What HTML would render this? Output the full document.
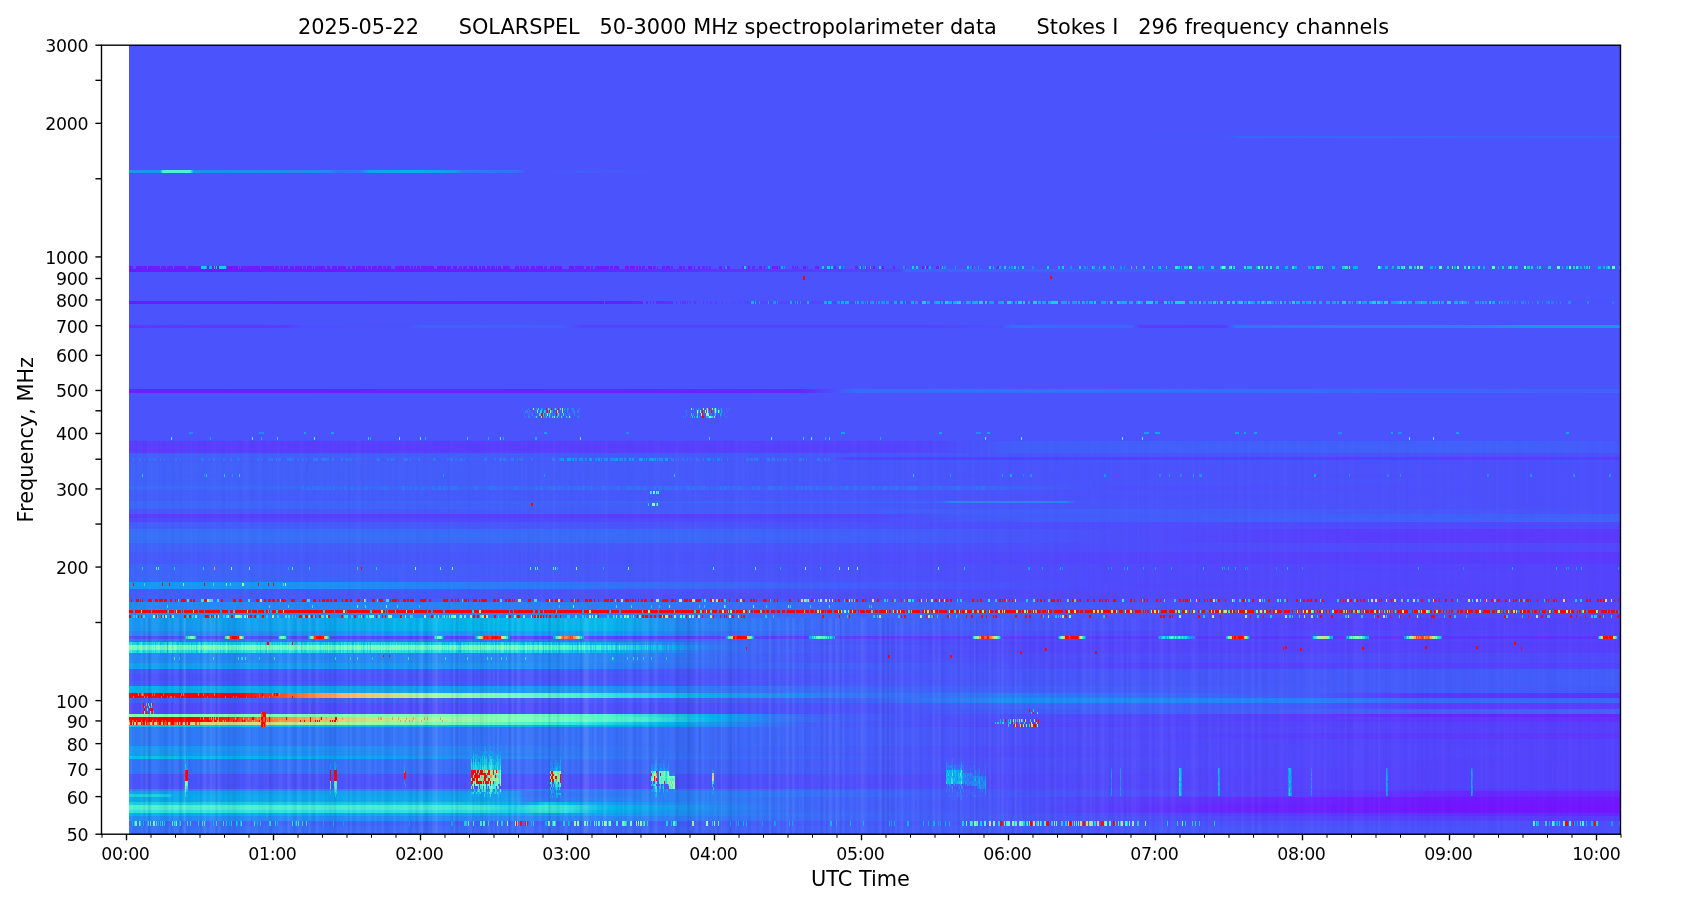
<!DOCTYPE html>
<html><head><meta charset="utf-8"><title>SOLARSPEL spectrogram</title>
<style>
html,body{margin:0;padding:0;background:#fff}
body{width:1687px;height:906px;position:relative;overflow:hidden;font-family:"DejaVu Sans","Liberation Sans",sans-serif}
#d{position:absolute;left:129.0px;top:45px;width:1491.5px;height:789.5px;background:#4954fb;overflow:hidden}
#d i{position:absolute;left:0;width:100%;display:block}
svg{position:absolute;left:0;top:0;will-change:transform}
.t{font-size:17.36px;fill:#000}
.ti{font-size:20.83px;fill:#000;white-space:pre}
.la{font-size:20.83px;fill:#000}
</style></head><body>
<div id="d"><i style="top:0px;height:91px;background:#4a53fc"></i><i style="top:91px;height:2px;background:linear-gradient(90deg,#4a53fc 0.5px,#4a53fc 500.5px,#4a53fc 1000.5px,#4757fb 1098.5px,#3d65fa 1108.5px,#4062fa 1491.5px)"></i><i style="top:93px;height:32px;background:#4a53fc"></i><i style="top:125px;height:3px;background:linear-gradient(90deg,#1996f3 0.5px,#1996f3 30.5px,#08abee 31.5px,#1acee3 32.5px,#3ce9d6 33.5px,#4df3ce 34.5px,#4df3ce 60.5px,#3febd4 61.5px,#0abfe9 63.5px,#11a0f0 64.5px,#1f8ff4 65.5px,#2488f5 199.5px,#3374f8 207.5px,#3177f8 231.5px,#0fa3f0 239.5px,#02b2ec 285.5px,#169af2 326.5px,#2e7bf7 333.5px,#3472f8 388.5px,#4756fb 396.5px,#4856fb 442.5px,#425efb 449.5px,#4a53fc 543.5px,#4a53fc 1043.5px,#4a53fc 1491.5px)"></i><i style="top:128px;height:93px;background:#4a53fc"></i><i style="top:221px;height:3px;background:linear-gradient(90deg,#6b20fe 0.5px,#6b20fe 3.5px,#4a53fc 4.5px,#4a53fc 6.5px,#7018ff 7.5px,#7018ff 12.5px,#6b20fe 14.5px,#7018ff 16.5px,#6b20fe 17.5px,#4a53fc 18.5px,#7018ff 19.5px,#7018ff 30.5px,#4a53fc 31.5px,#6b20fe 32.5px,#6b20fe 34.5px,#7018ff 36.5px,#4a53fc 37.5px,#7018ff 38.5px,#7018ff 42.5px,#6b20fe 43.5px,#4a53fc 44.5px,#7018ff 45.5px,#7018ff 56.5px,#4a53fc 57.5px,#4a53fc 58.5px,#7018ff 59.5px,#7018ff 66.5px,#6b20fe 68.5px,#7018ff 70.5px,#7018ff 71.5px,#19cee3 72.5px,#19cee3 76.5px,#00b4ec 77.5px,#7018ff 78.5px,#7018ff 79.5px,#00b4ec 80.5px,#00b4ec 82.5px,#7018ff 83.5px,#7018ff 84.5px,#19cee3 85.5px,#7018ff 86.5px,#19cee3 87.5px,#7018ff 88.5px,#7018ff 89.5px,#19cee3 90.5px,#19cee3 96.5px,#4a53fc 97.5px,#7018ff 98.5px,#7018ff 108.5px,#4a53fc 109.5px,#7018ff 110.5px,#4a53fc 111.5px,#6b20fe 112.5px,#6b20fe 118.5px,#7018ff 120.5px,#7018ff 128.5px,#6b20fe 130.5px,#4a53fc 131.5px,#7018ff 132.5px,#7018ff 144.5px,#4a53fc 145.5px,#7018ff 146.5px,#7018ff 149.5px,#4a53fc 150.5px,#6b20fe 151.5px,#6b20fe 153.5px,#4a53fc 154.5px,#7018ff 155.5px,#7018ff 158.5px,#4a53fc 159.5px,#4a53fc 160.5px,#7018ff 161.5px,#7018ff 164.5px,#4a53fc 165.5px,#7018ff 166.5px,#7018ff 169.5px,#6b20fe 170.5px,#7018ff 172.5px,#4a53fc 173.5px,#6b20fe 174.5px,#6b20fe 176.5px,#4a53fc 177.5px,#7018ff 178.5px,#7018ff 180.5px,#6b20fe 182.5px,#4a53fc 183.5px,#7018ff 184.5px,#4a53fc 185.5px,#6b20fe 186.5px,#6b20fe 189.5px,#7018ff 191.5px,#7018ff 193.5px,#6b20fe 195.5px,#4a53fc 196.5px,#4a53fc 197.5px,#7018ff 198.5px,#7018ff 200.5px,#4a53fc 201.5px,#4a53fc 202.5px,#7018ff 203.5px,#7018ff 207.5px,#4a53fc 208.5px,#7018ff 209.5px,#7018ff 215.5px,#6b20fe 216.5px,#4a53fc 217.5px,#4a53fc 218.5px,#7018ff 219.5px,#7018ff 220.5px,#4a53fc 221.5px,#4a53fc 222.5px,#7018ff 223.5px,#7018ff 225.5px,#4a53fc 226.5px,#7018ff 227.5px,#7018ff 230.5px,#6b20fe 232.5px,#7018ff 235.5px,#4a53fc 236.5px,#7018ff 237.5px,#4a53fc 238.5px,#7018ff 239.5px,#7018ff 241.5px,#4a53fc 242.5px,#7018ff 243.5px,#7018ff 247.5px,#4a53fc 248.5px,#7018ff 249.5px,#7018ff 252.5px,#4a53fc 253.5px,#7018ff 254.5px,#7018ff 256.5px,#4a53fc 257.5px,#7018ff 258.5px,#7018ff 261.5px,#4a53fc 262.5px,#4a53fc 265.5px,#6b20fe 266.5px,#6b20fe 268.5px,#7018ff 270.5px,#7018ff 274.5px,#4a53fc 275.5px,#6b20fe 276.5px,#7018ff 280.5px,#4a53fc 281.5px,#7018ff 282.5px,#7018ff 283.5px,#4a53fc 284.5px,#6b20fe 285.5px,#7018ff 286.5px,#4a53fc 287.5px,#7018ff 288.5px,#7018ff 290.5px,#4a53fc 291.5px,#7018ff 292.5px,#7018ff 296.5px,#6b20fe 298.5px,#7018ff 300.5px,#7018ff 304.5px,#4a53fc 305.5px,#4a53fc 307.5px,#7018ff 308.5px,#7018ff 316.5px,#4a53fc 317.5px,#7018ff 318.5px,#7018ff 321.5px,#4a53fc 322.5px,#4a53fc 323.5px,#7018ff 324.5px,#7018ff 327.5px,#4a53fc 328.5px,#4a53fc 329.5px,#6b20fe 330.5px,#6b20fe 332.5px,#4a53fc 333.5px,#6b20fe 334.5px,#7018ff 337.5px,#4a53fc 338.5px,#4a53fc 339.5px,#7018ff 340.5px,#7018ff 343.5px,#4a53fc 344.5px,#7018ff 345.5px,#7018ff 347.5px,#4a53fc 348.5px,#4a53fc 349.5px,#7018ff 350.5px,#7018ff 351.5px,#4a53fc 352.5px,#7018ff 353.5px,#7018ff 355.5px,#4a53fc 356.5px,#4a53fc 357.5px,#7018ff 358.5px,#7018ff 360.5px,#4a53fc 361.5px,#7018ff 362.5px,#6b20fe 365.5px,#4a53fc 366.5px,#7018ff 367.5px,#4a53fc 368.5px,#7018ff 369.5px,#7018ff 371.5px,#4a53fc 372.5px,#4a53fc 373.5px,#7018ff 374.5px,#7018ff 377.5px,#6b20fe 379.5px,#6b20fe 380.5px,#4a53fc 381.5px,#4a53fc 385.5px,#7018ff 386.5px,#7018ff 389.5px,#4a53fc 390.5px,#7018ff 391.5px,#7018ff 392.5px,#4a53fc 393.5px,#7018ff 394.5px,#7018ff 395.5px,#4a53fc 396.5px,#7018ff 397.5px,#7018ff 399.5px,#4a53fc 400.5px,#4a53fc 401.5px,#7018ff 402.5px,#7018ff 405.5px,#4a53fc 406.5px,#6b20fe 407.5px,#6b20fe 409.5px,#7018ff 411.5px,#7018ff 413.5px,#4a53fc 414.5px,#6b20fe 415.5px,#6b20fe 417.5px,#4a53fc 418.5px,#4a53fc 420.5px,#7018ff 421.5px,#7018ff 424.5px,#4a53fc 425.5px,#6b20fe 426.5px,#6b20fe 429.5px,#7018ff 431.5px,#7018ff 432.5px,#4a53fc 433.5px,#4a53fc 439.5px,#7018ff 440.5px,#7018ff 444.5px,#4a53fc 445.5px,#6b20fe 446.5px,#6b20fe 450.5px,#7018ff 451.5px,#6b20fe 453.5px,#6b20fe 454.5px,#4a53fc 455.5px,#4a53fc 456.5px,#7018ff 457.5px,#7018ff 460.5px,#4a53fc 461.5px,#6b20fe 462.5px,#6b20fe 463.5px,#4a53fc 464.5px,#4a53fc 465.5px,#6b20fe 466.5px,#7018ff 470.5px,#7018ff 479.5px,#4a53fc 480.5px,#7018ff 481.5px,#7018ff 483.5px,#4a53fc 484.5px,#7018ff 485.5px,#7018ff 489.5px,#4a53fc 490.5px,#4a53fc 495.5px,#7018ff 496.5px,#7018ff 499.5px,#4a53fc 500.5px,#7018ff 501.5px,#7018ff 504.5px,#6b20fe 505.5px,#4a53fc 506.5px,#7018ff 507.5px,#7018ff 508.5px,#4a53fc 509.5px,#7018ff 510.5px,#7018ff 511.5px,#4a53fc 512.5px,#6b20fe 513.5px,#6b20fe 515.5px,#4a53fc 516.5px,#4a53fc 518.5px,#7018ff 519.5px,#7018ff 522.5px,#4a53fc 523.5px,#6b20fe 524.5px,#6b20fe 526.5px,#4a53fc 527.5px,#6b20fe 528.5px,#4a53fc 529.5px,#4a53fc 532.5px,#7018ff 533.5px,#7018ff 535.5px,#4a53fc 536.5px,#7018ff 537.5px,#7018ff 539.5px,#6b20fe 540.5px,#4a53fc 541.5px,#6b20fe 542.5px,#6b20fe 543.5px,#4a53fc 544.5px,#4a53fc 549.5px,#7018ff 550.5px,#7018ff 552.5px,#4a53fc 553.5px,#6b20fe 554.5px,#6b20fe 555.5px,#4a53fc 556.5px,#4a53fc 558.5px,#7018ff 559.5px,#7018ff 562.5px,#4a53fc 563.5px,#4a53fc 564.5px,#7018ff 565.5px,#4a53fc 566.5px,#4a53fc 568.5px,#7018ff 569.5px,#7018ff 570.5px,#4a53fc 571.5px,#4a53fc 572.5px,#6628fe 573.5px,#6628fe 575.5px,#4a53fc 576.5px,#6628fe 577.5px,#6628fe 578.5px,#4a53fc 579.5px,#6628fe 580.5px,#6628fe 581.5px,#4a53fc 582.5px,#4a53fc 589.5px,#6b20fe 590.5px,#6b20fe 592.5px,#4a53fc 593.5px,#4a53fc 594.5px,#6628fe 595.5px,#1996f3 596.5px,#1996f3 597.5px,#6b20fe 598.5px,#6b20fe 600.5px,#4a53fc 601.5px,#4a53fc 612.5px,#6628fe 613.5px,#6628fe 614.5px,#19cee3 615.5px,#19cee3 616.5px,#4a53fc 617.5px,#4a53fc 618.5px,#7018ff 619.5px,#7018ff 620.5px,#4a53fc 621.5px,#4a53fc 622.5px,#6628fe 623.5px,#6628fe 625.5px,#4a53fc 626.5px,#4a53fc 629.5px,#6b20fe 630.5px,#6b20fe 632.5px,#4a53fc 633.5px,#4a53fc 634.5px,#6b20fe 635.5px,#4a53fc 636.5px,#4a53fc 638.5px,#00b4ec 639.5px,#00b4ec 640.5px,#4a53fc 641.5px,#4a53fc 642.5px,#6b20fe 643.5px,#6b20fe 645.5px,#6628fe 647.5px,#7018ff 648.5px,#4a53fc 649.5px,#7018ff 650.5px,#4a53fc 651.5px,#00b4ec 652.5px,#00b4ec 653.5px,#4a53fc 654.5px,#1996f3 655.5px,#4a53fc 656.5px,#4a53fc 662.5px,#6628fe 663.5px,#6628fe 664.5px,#4a53fc 665.5px,#6b20fe 666.5px,#4a53fc 667.5px,#7018ff 668.5px,#4a53fc 669.5px,#4a53fc 673.5px,#7018ff 674.5px,#7018ff 676.5px,#4a53fc 677.5px,#6628fe 678.5px,#4a53fc 679.5px,#4a53fc 685.5px,#6628fe 686.5px,#6b20fe 689.5px,#4a53fc 690.5px,#4a53fc 692.5px,#19cee3 693.5px,#19cee3 694.5px,#4a53fc 695.5px,#4a53fc 697.5px,#19cee3 698.5px,#19cee3 700.5px,#4a53fc 701.5px,#19cee3 702.5px,#19cee3 703.5px,#4a53fc 704.5px,#6b20fe 705.5px,#6b20fe 706.5px,#4a53fc 707.5px,#4a53fc 709.5px,#19cee3 710.5px,#19cee3 711.5px,#4a53fc 712.5px,#4a53fc 713.5px,#1996f3 714.5px,#4a53fc 715.5px,#4a53fc 725.5px,#6628fe 726.5px,#6628fe 728.5px,#4a53fc 729.5px,#1996f3 730.5px,#19cee3 731.5px,#6628fe 732.5px,#4a53fc 733.5px,#1996f3 734.5px,#4a53fc 735.5px,#19cee3 736.5px,#6b20fe 737.5px,#4a53fc 738.5px,#4a53fc 739.5px,#6628fe 740.5px,#19cee3 741.5px,#6628fe 742.5px,#4a53fc 743.5px,#7018ff 744.5px,#7018ff 745.5px,#4a53fc 746.5px,#4a53fc 749.5px,#19cee3 750.5px,#19cee3 751.5px,#4a53fc 752.5px,#7018ff 753.5px,#7018ff 754.5px,#4a53fc 755.5px,#4a53fc 763.5px,#6b20fe 764.5px,#6b20fe 765.5px,#4a53fc 766.5px,#4a53fc 773.5px,#1996f3 774.5px,#1996f3 775.5px,#6628fe 776.5px,#4a53fc 777.5px,#4a53fc 782.5px,#19cee3 783.5px,#19cee3 784.5px,#4a53fc 785.5px,#4a53fc 786.5px,#19cee3 787.5px,#19cee3 788.5px,#4a53fc 789.5px,#4a53fc 792.5px,#7018ff 793.5px,#7018ff 794.5px,#4a53fc 795.5px,#19cee3 796.5px,#7018ff 797.5px,#7018ff 798.5px,#4a53fc 799.5px,#00b4ec 800.5px,#00b4ec 801.5px,#4a53fc 802.5px,#4a53fc 806.5px,#6b20fe 807.5px,#6b20fe 809.5px,#1996f3 810.5px,#6628fe 811.5px,#4a53fc 812.5px,#19cee3 813.5px,#4a53fc 814.5px,#1996f3 815.5px,#1996f3 816.5px,#4a53fc 817.5px,#4a53fc 825.5px,#1996f3 826.5px,#4a53fc 827.5px,#4a53fc 837.5px,#19cee3 838.5px,#19cee3 839.5px,#4a53fc 840.5px,#1996f3 841.5px,#1996f3 842.5px,#6b20fe 843.5px,#4a53fc 844.5px,#1996f3 845.5px,#4a53fc 846.5px,#4a53fc 848.5px,#1996f3 849.5px,#4a53fc 850.5px,#4a53fc 859.5px,#19cee3 860.5px,#19cee3 861.5px,#4a53fc 862.5px,#4a53fc 863.5px,#00b4ec 864.5px,#4a53fc 865.5px,#4a53fc 867.5px,#7018ff 868.5px,#7018ff 869.5px,#00b4ec 870.5px,#00b4ec 871.5px,#4a53fc 872.5px,#4a53fc 874.5px,#19cee3 875.5px,#19cee3 876.5px,#4a53fc 877.5px,#4a53fc 879.5px,#00b4ec 880.5px,#4a53fc 881.5px,#1996f3 882.5px,#1996f3 883.5px,#4a53fc 884.5px,#19cee3 885.5px,#19cee3 886.5px,#4a53fc 887.5px,#4a53fc 888.5px,#00b4ec 889.5px,#4a53fc 890.5px,#4a53fc 892.5px,#19cee3 893.5px,#19cee3 894.5px,#4a53fc 895.5px,#4a53fc 902.5px,#1996f3 903.5px,#1996f3 904.5px,#4a53fc 905.5px,#4a53fc 917.5px,#19cee3 918.5px,#19cee3 919.5px,#4a53fc 920.5px,#4a53fc 928.5px,#00b4ec 929.5px,#00b4ec 930.5px,#4a53fc 931.5px,#4a53fc 932.5px,#19cee3 933.5px,#19cee3 934.5px,#4a53fc 935.5px,#4a53fc 940.5px,#1996f3 941.5px,#1996f3 942.5px,#4a53fc 943.5px,#4a53fc 949.5px,#19cee3 950.5px,#19cee3 951.5px,#4a53fc 952.5px,#4a53fc 954.5px,#1996f3 955.5px,#1996f3 956.5px,#4a53fc 957.5px,#1996f3 958.5px,#4a53fc 959.5px,#4a53fc 962.5px,#19cee3 963.5px,#00b4ec 964.5px,#00b4ec 965.5px,#4a53fc 966.5px,#4a53fc 969.5px,#00b4ec 970.5px,#4a53fc 971.5px,#4a53fc 973.5px,#19cee3 974.5px,#19cee3 975.5px,#00b4ec 976.5px,#4a53fc 977.5px,#4a53fc 980.5px,#1996f3 981.5px,#1996f3 982.5px,#4a53fc 983.5px,#19cee3 984.5px,#4a53fc 985.5px,#4a53fc 990.5px,#1996f3 991.5px,#1996f3 992.5px,#4a53fc 993.5px,#4a53fc 994.5px,#1996f3 995.5px,#4a53fc 996.5px,#4a53fc 1001.5px,#19cee3 1002.5px,#4a53fc 1003.5px,#4a53fc 1006.5px,#19cee3 1007.5px,#4a53fc 1008.5px,#4a53fc 1013.5px,#19cee3 1014.5px,#19cee3 1015.5px,#4a53fc 1016.5px,#4a53fc 1022.5px,#19cee3 1023.5px,#4a53fc 1024.5px,#4a53fc 1028.5px,#00b4ec 1029.5px,#00b4ec 1030.5px,#19cee3 1031.5px,#4a53fc 1032.5px,#4a53fc 1036.5px,#19cee3 1037.5px,#4a53fc 1038.5px,#4a53fc 1045.5px,#33e3d9 1046.5px,#33e3d9 1048.5px,#19cee3 1049.5px,#19cee3 1050.5px,#4a53fc 1051.5px,#00b4ec 1052.5px,#4a53fc 1053.5px,#4a53fc 1054.5px,#19cee3 1055.5px,#19cee3 1058.5px,#4a53fc 1059.5px,#66fcc2 1060.5px,#66fcc2 1062.5px,#4a53fc 1063.5px,#4a53fc 1068.5px,#00b4ec 1069.5px,#00b4ec 1071.5px,#4a53fc 1072.5px,#00b4ec 1073.5px,#00b4ec 1074.5px,#4a53fc 1075.5px,#4a53fc 1081.5px,#19cee3 1082.5px,#19cee3 1084.5px,#4a53fc 1085.5px,#4a53fc 1090.5px,#00b4ec 1091.5px,#19cee3 1092.5px,#66fcc2 1093.5px,#66fcc2 1095.5px,#19cee3 1096.5px,#4a53fc 1097.5px,#4a53fc 1099.5px,#33e3d9 1100.5px,#33e3d9 1101.5px,#66fcc2 1102.5px,#4a53fc 1103.5px,#19cee3 1104.5px,#33e3d9 1105.5px,#4a53fc 1106.5px,#4a53fc 1114.5px,#33e3d9 1115.5px,#33e3d9 1116.5px,#4a53fc 1117.5px,#19cee3 1118.5px,#19cee3 1122.5px,#4a53fc 1123.5px,#4a53fc 1126.5px,#00b4ec 1127.5px,#00b4ec 1128.5px,#66fcc2 1129.5px,#66fcc2 1130.5px,#4a53fc 1131.5px,#00b4ec 1132.5px,#66fcc2 1133.5px,#4a53fc 1134.5px,#4a53fc 1136.5px,#33e3d9 1137.5px,#33e3d9 1138.5px,#4a53fc 1139.5px,#4a53fc 1140.5px,#33e3d9 1141.5px,#33e3d9 1142.5px,#4a53fc 1143.5px,#4a53fc 1146.5px,#19cee3 1147.5px,#19cee3 1149.5px,#4a53fc 1150.5px,#4a53fc 1155.5px,#00b4ec 1156.5px,#00b4ec 1158.5px,#4a53fc 1159.5px,#4a53fc 1162.5px,#33e3d9 1163.5px,#33e3d9 1164.5px,#00b4ec 1165.5px,#00b4ec 1167.5px,#4a53fc 1168.5px,#4a53fc 1178.5px,#00b4ec 1179.5px,#00b4ec 1181.5px,#4a53fc 1182.5px,#00b4ec 1183.5px,#00b4ec 1184.5px,#4a53fc 1185.5px,#4a53fc 1186.5px,#33e3d9 1187.5px,#33e3d9 1189.5px,#19cee3 1190.5px,#19cee3 1191.5px,#4a53fc 1192.5px,#33e3d9 1193.5px,#4a53fc 1194.5px,#4a53fc 1202.5px,#00b4ec 1203.5px,#00b4ec 1205.5px,#4a53fc 1206.5px,#4a53fc 1212.5px,#19cee3 1213.5px,#19cee3 1215.5px,#33e3d9 1216.5px,#33e3d9 1218.5px,#4a53fc 1219.5px,#66fcc2 1220.5px,#4a53fc 1221.5px,#4a53fc 1223.5px,#00b4ec 1224.5px,#00b4ec 1228.5px,#4a53fc 1229.5px,#4a53fc 1248.5px,#66fcc2 1249.5px,#66fcc2 1250.5px,#00b4ec 1251.5px,#00b4ec 1252.5px,#4a53fc 1253.5px,#4a53fc 1255.5px,#00b4ec 1256.5px,#00b4ec 1258.5px,#4a53fc 1259.5px,#4a53fc 1262.5px,#00b4ec 1263.5px,#00b4ec 1264.5px,#4a53fc 1265.5px,#4a53fc 1267.5px,#19cee3 1268.5px,#19cee3 1270.5px,#4a53fc 1271.5px,#33e3d9 1272.5px,#33e3d9 1273.5px,#19cee3 1274.5px,#66fcc2 1275.5px,#4a53fc 1276.5px,#4a53fc 1279.5px,#33e3d9 1280.5px,#33e3d9 1282.5px,#4a53fc 1283.5px,#4a53fc 1284.5px,#19cee3 1285.5px,#19cee3 1286.5px,#4a53fc 1287.5px,#66fcc2 1288.5px,#66fcc2 1289.5px,#4a53fc 1290.5px,#66fcc2 1291.5px,#66fcc2 1293.5px,#4a53fc 1294.5px,#4a53fc 1300.5px,#00b4ec 1301.5px,#00b4ec 1303.5px,#4a53fc 1304.5px,#4a53fc 1305.5px,#00b4ec 1306.5px,#4a53fc 1307.5px,#4a53fc 1309.5px,#66fcc2 1310.5px,#66fcc2 1312.5px,#4a53fc 1313.5px,#4a53fc 1317.5px,#19cee3 1318.5px,#19cee3 1319.5px,#4a53fc 1320.5px,#4a53fc 1322.5px,#66fcc2 1323.5px,#4a53fc 1324.5px,#00b4ec 1325.5px,#00b4ec 1326.5px,#4a53fc 1327.5px,#66fcc2 1328.5px,#66fcc2 1329.5px,#4a53fc 1330.5px,#4a53fc 1334.5px,#33e3d9 1335.5px,#33e3d9 1336.5px,#4a53fc 1337.5px,#4a53fc 1338.5px,#66fcc2 1339.5px,#66fcc2 1340.5px,#4a53fc 1341.5px,#4a53fc 1342.5px,#00b4ec 1343.5px,#00b4ec 1345.5px,#4a53fc 1346.5px,#4a53fc 1348.5px,#33e3d9 1349.5px,#33e3d9 1350.5px,#4a53fc 1351.5px,#4a53fc 1353.5px,#00b4ec 1354.5px,#00b4ec 1355.5px,#4a53fc 1356.5px,#4a53fc 1362.5px,#66fcc2 1363.5px,#66fcc2 1365.5px,#4a53fc 1366.5px,#4a53fc 1368.5px,#00b4ec 1369.5px,#4a53fc 1370.5px,#4a53fc 1372.5px,#19cee3 1373.5px,#19cee3 1374.5px,#4a53fc 1375.5px,#4a53fc 1378.5px,#19cee3 1379.5px,#19cee3 1380.5px,#66fcc2 1381.5px,#19cee3 1382.5px,#4a53fc 1383.5px,#00b4ec 1384.5px,#4a53fc 1385.5px,#19cee3 1386.5px,#19cee3 1387.5px,#00b4ec 1388.5px,#4a53fc 1389.5px,#4a53fc 1394.5px,#66fcc2 1395.5px,#66fcc2 1396.5px,#4a53fc 1397.5px,#19cee3 1398.5px,#19cee3 1400.5px,#4a53fc 1401.5px,#19cee3 1402.5px,#19cee3 1403.5px,#4a53fc 1404.5px,#4a53fc 1407.5px,#19cee3 1408.5px,#4a53fc 1409.5px,#19cee3 1410.5px,#19cee3 1411.5px,#4a53fc 1412.5px,#4a53fc 1418.5px,#19cee3 1419.5px,#19cee3 1421.5px,#4a53fc 1422.5px,#4a53fc 1427.5px,#66fcc2 1428.5px,#66fcc2 1430.5px,#4a53fc 1431.5px,#4a53fc 1432.5px,#00b4ec 1433.5px,#4a53fc 1434.5px,#4a53fc 1436.5px,#00b4ec 1437.5px,#00b4ec 1438.5px,#4a53fc 1439.5px,#66fcc2 1440.5px,#66fcc2 1441.5px,#4a53fc 1442.5px,#4a53fc 1443.5px,#19cee3 1444.5px,#19cee3 1445.5px,#4a53fc 1446.5px,#33e3d9 1447.5px,#33e3d9 1448.5px,#00b4ec 1449.5px,#4a53fc 1450.5px,#00b4ec 1451.5px,#00b4ec 1452.5px,#4a53fc 1453.5px,#4a53fc 1454.5px,#19cee3 1455.5px,#4a53fc 1456.5px,#19cee3 1457.5px,#19cee3 1458.5px,#4a53fc 1459.5px,#33e3d9 1460.5px,#4a53fc 1461.5px,#4a53fc 1468.5px,#00b4ec 1469.5px,#00b4ec 1471.5px,#4a53fc 1472.5px,#4a53fc 1473.5px,#00b4ec 1474.5px,#00b4ec 1475.5px,#4a53fc 1476.5px,#00b4ec 1477.5px,#00b4ec 1478.5px,#33e3d9 1479.5px,#19cee3 1480.5px,#4a53fc 1481.5px,#4a53fc 1482.5px,#66fcc2 1483.5px,#66fcc2 1485.5px,#4a53fc 1486.5px,#4a53fc 1489.5px,#00b4ec 1490.5px,#4a53fc 1491.5px)"></i><i style="top:224px;height:3px;background:linear-gradient(90deg,#7018ff 0.5px,#6d1cff 393.5px,#5247fc 771.5px,#3d65fa 776.5px,#435efb 1134.5px,#4a53fc 1187.5px,#4a53fc 1491.5px)"></i><i style="top:227px;height:4px;background:#4a53fc"></i><i style="top:231px;height:3px;background:linear-gradient(90deg,#4a53fc 0.5px,#4a53fc 500.5px,#4a53fc 673.5px,#f00 674.5px,#f00 675.5px,#4a53fc 676.5px,#4a53fc 920.5px,#f00 921.5px,#f00 922.5px,#4a53fc 923.5px,#4a53fc 1423.5px,#4a53fc 1491.5px)"></i><i style="top:234px;height:1px;background:linear-gradient(90deg,#4a53fc 0.5px,#4a53fc 500.5px,#4a53fc 673.5px,#f00 674.5px,#f00 675.5px,#4a53fc 676.5px,#4a53fc 1176.5px,#4a53fc 1491.5px)"></i><i style="top:235px;height:21px;background:#4a53fc"></i><i style="top:256px;height:3px;background:linear-gradient(90deg,#7018ff 0.5px,#6f19ff 474.5px,#4a53fc 475.5px,#6f1aff 476.5px,#6726fe 513.5px,#4a53fc 514.5px,#4a53fc 516.5px,#6628fe 517.5px,#6628fe 518.5px,#4a53fc 519.5px,#4a53fc 520.5px,#6529fe 521.5px,#4a53fc 522.5px,#4a53fc 523.5px,#652afe 524.5px,#4a53fc 525.5px,#4a53fc 526.5px,#642bfe 527.5px,#6031fe 543.5px,#4a53fc 544.5px,#4a53fc 546.5px,#5f32fe 547.5px,#4a53fc 548.5px,#4a53fc 550.5px,#5f33fe 551.5px,#4a53fc 552.5px,#5e34fe 553.5px,#5e35fe 556.5px,#4a53fc 557.5px,#5d36fe 558.5px,#4a53fc 559.5px,#4a53fc 560.5px,#5c37fe 561.5px,#4a53fc 562.5px,#4a53fc 564.5px,#5c38fd 565.5px,#5b38fd 566.5px,#4a53fc 567.5px,#4a53fc 573.5px,#5a3bfd 574.5px,#4a53fc 575.5px,#4a53fc 577.5px,#593cfd 578.5px,#4a53fc 579.5px,#4a53fc 580.5px,#583dfd 581.5px,#583efd 582.5px,#4a53fc 583.5px,#4a53fc 585.5px,#573ffd 586.5px,#573ffd 587.5px,#4a53fc 588.5px,#4a53fc 592.5px,#5541fd 593.5px,#4a53fc 594.5px,#4a53fc 596.5px,#5543fd 597.5px,#4a53fc 598.5px,#4a53fc 601.5px,#5344fd 602.5px,#4a53fc 603.5px,#4a53fc 604.5px,#5345fd 605.5px,#4a53fc 606.5px,#4a53fc 610.5px,#5247fc 611.5px,#4a53fc 612.5px,#4a53fc 615.5px,#5247fc 616.5px,#5247fc 621.5px,#00b4ec 622.5px,#00b4ec 624.5px,#5147fc 625.5px,#00b4ec 626.5px,#5147fc 627.5px,#5147fc 629.5px,#1996f3 630.5px,#5147fc 631.5px,#5148fc 638.5px,#00b4ec 639.5px,#5148fc 640.5px,#5148fc 643.5px,#1996f3 644.5px,#1996f3 646.5px,#5148fc 647.5px,#1996f3 648.5px,#5148fc 649.5px,#5148fc 660.5px,#00b4ec 661.5px,#00b4ec 662.5px,#5148fc 663.5px,#5148fc 665.5px,#1996f3 666.5px,#5148fc 667.5px,#00b4ec 668.5px,#5148fc 669.5px,#5148fc 670.5px,#1996f3 671.5px,#5148fc 672.5px,#5148fc 677.5px,#00b4ec 678.5px,#00b4ec 679.5px,#5148fc 680.5px,#5148fc 694.5px,#00b4ec 695.5px,#00b4ec 697.5px,#5148fc 698.5px,#00b4ec 699.5px,#00b4ec 701.5px,#1996f3 702.5px,#5148fc 703.5px,#5148fc 707.5px,#1996f3 708.5px,#1996f3 710.5px,#5148fc 711.5px,#00b4ec 712.5px,#00b4ec 714.5px,#5149fc 715.5px,#00b4ec 716.5px,#00b4ec 719.5px,#5149fc 720.5px,#5149fc 725.5px,#00b4ec 726.5px,#5149fc 727.5px,#00b4ec 728.5px,#00b4ec 729.5px,#5149fc 730.5px,#5149fc 731.5px,#1996f3 732.5px,#1996f3 734.5px,#5149fc 735.5px,#1996f3 736.5px,#5149fc 737.5px,#00b4ec 738.5px,#5049fc 739.5px,#5049fc 740.5px,#1996f3 741.5px,#1996f3 743.5px,#00b4ec 744.5px,#5049fc 745.5px,#5049fc 746.5px,#1996f3 747.5px,#5049fc 748.5px,#1996f3 749.5px,#1996f3 750.5px,#5049fc 751.5px,#1996f3 752.5px,#1996f3 755.5px,#5049fc 756.5px,#1996f3 757.5px,#1996f3 759.5px,#5049fc 760.5px,#5049fc 764.5px,#00b4ec 765.5px,#00b4ec 767.5px,#5049fc 768.5px,#5049fc 770.5px,#00b4ec 771.5px,#00b4ec 773.5px,#5049fc 774.5px,#5049fc 775.5px,#00b4ec 776.5px,#5049fc 777.5px,#5049fc 781.5px,#00b4ec 782.5px,#00b4ec 784.5px,#5049fc 785.5px,#1996f3 786.5px,#1996f3 788.5px,#5049fc 789.5px,#504afc 792.5px,#19cee3 793.5px,#19cee3 796.5px,#504afc 797.5px,#0fa3f0 798.5px,#0fa3f0 800.5px,#504afc 801.5px,#504afc 804.5px,#0fa3f0 805.5px,#0fa3f0 806.5px,#00b4ec 807.5px,#00b4ec 810.5px,#504afc 811.5px,#00b4ec 812.5px,#00b4ec 813.5px,#504afc 814.5px,#504afc 815.5px,#19cee3 816.5px,#19cee3 818.5px,#00b4ec 819.5px,#00b4ec 822.5px,#504afc 823.5px,#00b4ec 824.5px,#00b4ec 827.5px,#19cee3 828.5px,#19cee3 831.5px,#504afc 832.5px,#504afc 833.5px,#0fa3f0 834.5px,#504afc 835.5px,#504afc 836.5px,#00b4ec 837.5px,#00b4ec 839.5px,#0fa3f0 840.5px,#0fa3f0 841.5px,#504afc 842.5px,#00b4ec 843.5px,#00b4ec 848.5px,#504afc 849.5px,#19cee3 850.5px,#19cee3 853.5px,#4f4afc 854.5px,#4f4afc 855.5px,#19cee3 856.5px,#19cee3 857.5px,#4f4afc 858.5px,#4f4afc 859.5px,#0fa3f0 860.5px,#0fa3f0 864.5px,#4f4afc 865.5px,#4f4bfc 868.5px,#0fa3f0 869.5px,#0fa3f0 872.5px,#00b4ec 873.5px,#00b4ec 874.5px,#4f4bfc 875.5px,#4f4bfc 877.5px,#19cee3 878.5px,#19cee3 881.5px,#0fa3f0 882.5px,#0fa3f0 883.5px,#4f4bfc 884.5px,#4f4bfc 885.5px,#00b4ec 886.5px,#00b4ec 887.5px,#4f4bfc 888.5px,#19cee3 889.5px,#19cee3 892.5px,#4f4bfc 893.5px,#19cee3 894.5px,#19cee3 895.5px,#4f4bfc 896.5px,#4f4bfc 898.5px,#00b4ec 899.5px,#00b4ec 900.5px,#4f4bfc 901.5px,#4f4bfc 903.5px,#19cee3 904.5px,#19cee3 907.5px,#4f4bfc 908.5px,#00b4ec 909.5px,#00b4ec 911.5px,#4f4bfc 912.5px,#0fa3f0 913.5px,#00b4ec 914.5px,#00b4ec 915.5px,#0fa3f0 916.5px,#4f4bfc 917.5px,#4f4bfc 918.5px,#00b4ec 919.5px,#00b4ec 921.5px,#19cee3 922.5px,#19cee3 928.5px,#4f4bfc 929.5px,#4f4bfc 931.5px,#0fa3f0 932.5px,#0fa3f0 937.5px,#4f4bfc 938.5px,#0fa3f0 939.5px,#0fa3f0 940.5px,#4f4bfc 941.5px,#4f4bfc 942.5px,#0fa3f0 943.5px,#0fa3f0 947.5px,#4f4cfc 948.5px,#00b4ec 949.5px,#00b4ec 950.5px,#4f4cfc 951.5px,#4f4cfc 952.5px,#00b4ec 953.5px,#00b4ec 955.5px,#4f4cfc 956.5px,#0fa3f0 957.5px,#0fa3f0 958.5px,#4f4cfc 959.5px,#00b4ec 960.5px,#00b4ec 963.5px,#4f4cfc 964.5px,#19cee3 965.5px,#19cee3 966.5px,#4f4cfc 967.5px,#4e4cfc 971.5px,#0fa3f0 972.5px,#0fa3f0 976.5px,#4e4cfc 977.5px,#0fa3f0 978.5px,#4e4cfc 979.5px,#4e4cfc 980.5px,#19cee3 981.5px,#19cee3 982.5px,#00b4ec 983.5px,#4e4cfc 984.5px,#4e4cfc 987.5px,#19cee3 988.5px,#19cee3 989.5px,#00b4ec 990.5px,#0fa3f0 991.5px,#0fa3f0 992.5px,#00b4ec 993.5px,#00b4ec 997.5px,#4e4cfc 998.5px,#4e4cfc 999.5px,#00b4ec 1000.5px,#00b4ec 1003.5px,#4e4cfc 1004.5px,#4e4cfc 1006.5px,#0fa3f0 1007.5px,#0fa3f0 1008.5px,#19cee3 1009.5px,#19cee3 1010.5px,#0fa3f0 1011.5px,#0fa3f0 1013.5px,#4e4cfc 1014.5px,#4e4cfc 1016.5px,#19cee3 1017.5px,#19cee3 1023.5px,#4e4dfc 1024.5px,#4e4dfc 1025.5px,#00b4ec 1026.5px,#00b4ec 1028.5px,#4e4dfc 1029.5px,#4e4dfc 1034.5px,#19cee3 1035.5px,#19cee3 1037.5px,#4e4dfc 1038.5px,#00b4ec 1039.5px,#00b4ec 1040.5px,#4e4dfc 1041.5px,#00b4ec 1042.5px,#00b4ec 1043.5px,#4e4dfc 1044.5px,#4e4dfc 1045.5px,#19cee3 1046.5px,#19cee3 1055.5px,#4e4dfc 1056.5px,#4e4dfc 1059.5px,#00b4ec 1060.5px,#00b4ec 1063.5px,#4e4dfc 1064.5px,#0fa3f0 1065.5px,#0fa3f0 1067.5px,#4e4dfc 1068.5px,#4e4dfc 1069.5px,#19cee3 1070.5px,#19cee3 1071.5px,#4e4dfc 1072.5px,#4e4dfc 1073.5px,#0fa3f0 1074.5px,#0fa3f0 1076.5px,#4e4dfc 1077.5px,#4e4dfc 1078.5px,#0fa3f0 1079.5px,#0fa3f0 1081.5px,#00b4ec 1082.5px,#4d4dfc 1083.5px,#19cee3 1084.5px,#19cee3 1086.5px,#4d4dfc 1087.5px,#19cee3 1088.5px,#4d4dfc 1089.5px,#4d4dfc 1090.5px,#19cee3 1091.5px,#19cee3 1093.5px,#4d4dfc 1094.5px,#4d4dfc 1097.5px,#19cee3 1098.5px,#19cee3 1100.5px,#4d4efc 1101.5px,#4d4efc 1102.5px,#19cee3 1103.5px,#19cee3 1105.5px,#4d4efc 1106.5px,#4d4efc 1107.5px,#00b4ec 1108.5px,#00b4ec 1109.5px,#19cee3 1110.5px,#19cee3 1113.5px,#4d4efc 1114.5px,#0fa3f0 1115.5px,#0fa3f0 1117.5px,#4d4efc 1118.5px,#19cee3 1119.5px,#19cee3 1120.5px,#00b4ec 1121.5px,#00b4ec 1123.5px,#0fa3f0 1124.5px,#0fa3f0 1125.5px,#4d4efc 1126.5px,#4d4efc 1127.5px,#00b4ec 1128.5px,#00b4ec 1130.5px,#4d4efc 1131.5px,#00b4ec 1132.5px,#19cee3 1133.5px,#19cee3 1134.5px,#0fa3f0 1135.5px,#0fa3f0 1136.5px,#4d4efc 1137.5px,#19cee3 1138.5px,#19cee3 1141.5px,#0fa3f0 1142.5px,#0fa3f0 1144.5px,#4d4efc 1145.5px,#0fa3f0 1146.5px,#0fa3f0 1147.5px,#4d4efc 1148.5px,#0fa3f0 1149.5px,#4d4efc 1150.5px,#19cee3 1151.5px,#19cee3 1152.5px,#4d4efc 1153.5px,#4d4efc 1154.5px,#00b4ec 1155.5px,#00b4ec 1156.5px,#4d4efc 1157.5px,#4d4efc 1159.5px,#0fa3f0 1160.5px,#0fa3f0 1161.5px,#4d4efc 1162.5px,#19cee3 1163.5px,#19cee3 1165.5px,#4d4efc 1166.5px,#00b4ec 1167.5px,#00b4ec 1170.5px,#4d4efc 1171.5px,#4d4efc 1172.5px,#00b4ec 1173.5px,#00b4ec 1175.5px,#4d4ffc 1176.5px,#0fa3f0 1177.5px,#0fa3f0 1180.5px,#19cee3 1181.5px,#4d4ffc 1182.5px,#4d4ffc 1183.5px,#00b4ec 1184.5px,#00b4ec 1186.5px,#4d4ffc 1187.5px,#4d4ffc 1189.5px,#00b4ec 1190.5px,#00b4ec 1192.5px,#4d4ffc 1193.5px,#4d4ffc 1196.5px,#0fa3f0 1197.5px,#0fa3f0 1200.5px,#4c4ffc 1201.5px,#4c4ffc 1202.5px,#0fa3f0 1203.5px,#0fa3f0 1206.5px,#4c4ffc 1207.5px,#00b4ec 1208.5px,#00b4ec 1209.5px,#4c4ffc 1210.5px,#4c4ffc 1212.5px,#19cee3 1213.5px,#19cee3 1216.5px,#4c4ffc 1217.5px,#4c4ffc 1218.5px,#0fa3f0 1219.5px,#0fa3f0 1221.5px,#4c4ffc 1222.5px,#00b4ec 1223.5px,#4c4ffc 1224.5px,#4c4ffc 1226.5px,#0fa3f0 1227.5px,#0fa3f0 1229.5px,#19cee3 1230.5px,#19cee3 1231.5px,#4c4ffc 1232.5px,#0fa3f0 1233.5px,#0fa3f0 1237.5px,#4c4ffc 1238.5px,#4c4ffc 1239.5px,#00b4ec 1240.5px,#00b4ec 1242.5px,#19cee3 1243.5px,#19cee3 1246.5px,#4c4ffc 1247.5px,#19cee3 1248.5px,#19cee3 1250.5px,#00b4ec 1251.5px,#00b4ec 1253.5px,#4c50fc 1254.5px,#19cee3 1255.5px,#19cee3 1258.5px,#4c50fc 1259.5px,#4c50fc 1261.5px,#0fa3f0 1262.5px,#0fa3f0 1267.5px,#00b4ec 1268.5px,#00b4ec 1270.5px,#19cee3 1271.5px,#19cee3 1272.5px,#4c50fc 1273.5px,#19cee3 1274.5px,#19cee3 1275.5px,#00b4ec 1276.5px,#0fa3f0 1277.5px,#4c50fc 1278.5px,#00b4ec 1279.5px,#00b4ec 1282.5px,#4c50fc 1283.5px,#4c50fc 1285.5px,#0fa3f0 1286.5px,#0fa3f0 1291.5px,#19cee3 1292.5px,#00b4ec 1293.5px,#00b4ec 1297.5px,#4c50fc 1298.5px,#4c50fc 1299.5px,#0fa3f0 1300.5px,#0fa3f0 1301.5px,#4c50fc 1302.5px,#00b4ec 1303.5px,#00b4ec 1308.5px,#4c50fc 1309.5px,#19cee3 1310.5px,#4c50fc 1311.5px,#0fa3f0 1312.5px,#0fa3f0 1314.5px,#4b50fc 1315.5px,#4b50fc 1317.5px,#19cee3 1318.5px,#19cee3 1321.5px,#4b50fc 1322.5px,#4b50fc 1324.5px,#00b4ec 1325.5px,#00b4ec 1328.5px,#4b51fc 1329.5px,#0fa3f0 1330.5px,#0fa3f0 1332.5px,#19cee3 1333.5px,#0fa3f0 1334.5px,#0fa3f0 1337.5px,#4b51fc 1338.5px,#0fa3f0 1339.5px,#4b51fc 1340.5px,#4b51fc 1345.5px,#0fa3f0 1346.5px,#0fa3f0 1349.5px,#4b51fc 1350.5px,#0fa3f0 1351.5px,#4b51fc 1352.5px,#00b4ec 1353.5px,#00b4ec 1354.5px,#4b51fc 1355.5px,#0fa3f0 1356.5px,#0fa3f0 1357.5px,#4b51fc 1358.5px,#4b51fc 1359.5px,#19cee3 1360.5px,#19cee3 1361.5px,#4b51fc 1362.5px,#00b4ec 1363.5px,#00b4ec 1365.5px,#4b51fc 1366.5px,#4b51fc 1369.5px,#00b4ec 1370.5px,#4b51fc 1371.5px,#2489f5 1372.5px,#2489f5 1373.5px,#4b51fc 1374.5px,#3374f8 1375.5px,#3374f8 1376.5px,#4b51fc 1377.5px,#2489f5 1378.5px,#2489f5 1379.5px,#4b51fc 1380.5px,#4b51fc 1382.5px,#3374f8 1383.5px,#4b51fc 1384.5px,#3374f8 1385.5px,#3374f8 1386.5px,#4b51fc 1387.5px,#3374f8 1388.5px,#4b51fc 1389.5px,#4b51fc 1391.5px,#2489f5 1392.5px,#2489f5 1394.5px,#4b51fc 1395.5px,#2489f5 1396.5px,#4b51fc 1397.5px,#4b51fc 1398.5px,#2489f5 1399.5px,#4b51fc 1400.5px,#4b51fc 1402.5px,#3374f8 1403.5px,#4b51fc 1404.5px,#4b52fc 1407.5px,#2489f5 1408.5px,#2489f5 1409.5px,#4b52fc 1410.5px,#4b52fc 1412.5px,#2489f5 1413.5px,#4b52fc 1414.5px,#4b52fc 1416.5px,#3374f8 1417.5px,#3374f8 1418.5px,#2489f5 1419.5px,#2489f5 1420.5px,#4b52fc 1421.5px,#3374f8 1422.5px,#3374f8 1424.5px,#4b52fc 1425.5px,#4b52fc 1426.5px,#3374f8 1427.5px,#4a52fc 1428.5px,#4a52fc 1430.5px,#2489f5 1431.5px,#4a52fc 1432.5px,#4a52fc 1438.5px,#2489f5 1439.5px,#2489f5 1441.5px,#4a52fc 1442.5px,#4a52fc 1457.5px,#2489f5 1458.5px,#2489f5 1459.5px,#4a52fc 1460.5px,#4a52fc 1482.5px,#3374f8 1483.5px,#3374f8 1484.5px,#4a53fc 1485.5px,#4a53fc 1491.5px)"></i><i style="top:259px;height:21px;background:#4a53fc"></i><i style="top:280px;height:3px;background:linear-gradient(90deg,#5c38fd 0.5px,#593cfd 154.5px,#4c4ffc 175.5px,#4a53fb 275.5px,#4062fa 296.5px,#425efa 433.5px,#5443fd 453.5px,#5443fd 796.5px,#4c50fc 871.5px,#3b69f9 882.5px,#3c67fa 1001.5px,#593cfd 1011.5px,#573efd 1096.5px,#3374f8 1106.5px,#2685f5 1357.5px,#1996f3 1400.5px,#1996f3 1491.5px)"></i><i style="top:283px;height:61px;background:#4a53fc"></i><i style="top:344px;height:4px;background:linear-gradient(90deg,#6b20fe 0.5px,#6923fe 500.5px,#6627fe 673.5px,#3b69f9 723.5px,#3472f8 908.5px,#3e63fa 1408.5px,#4062fa 1491.5px)"></i><i style="top:348px;height:15px;background:#4a53fc"></i><i style="top:363px;height:2px;background:linear-gradient(90deg,#4a53fc 0.5px,#4a53fc 392.5px,#386df9 393.5px,#4a53fc 394.5px,#4a53fc 398.5px,#2982f6 399.5px,#4a53fc 400.5px,#4a53fc 403.5px,#80ffb4 404.5px,#4a53fc 405.5px,#4a53fc 406.5px,#1996f3 407.5px,#3374f8 408.5px,#33e3d9 409.5px,#4a53fc 410.5px,#4a53fc 411.5px,#00b4ec 412.5px,#1996f3 413.5px,#4a53fc 414.5px,#4a53fc 415.5px,#3374f8 416.5px,#f00 417.5px,#3374f8 418.5px,#33e3d9 419.5px,#00b4ec 420.5px,#1996f3 421.5px,#f00 422.5px,#4a53fc 423.5px,#4a53fc 424.5px,#1996f3 425.5px,#33e3d9 426.5px,#2982f6 427.5px,#4a53fc 428.5px,#f00 429.5px,#3374f8 430.5px,#33e3d9 431.5px,#4a53fc 432.5px,#80ffb4 433.5px,#4a53fc 434.5px,#1996f3 435.5px,#4a53fc 436.5px,#1996f3 438.5px,#2982f6 439.5px,#4a53fc 440.5px,#4a53fc 441.5px,#2982f6 443.5px,#2982f6 444.5px,#4a53fc 445.5px,#4a53fc 449.5px,#2982f6 450.5px,#4a53fc 451.5px,#4a53fc 561.5px,#80ffb4 562.5px,#4a53fc 563.5px,#00b4ec 564.5px,#4a53fc 565.5px,#4a53fc 566.5px,#386df9 567.5px,#4a53fc 568.5px,#2982f6 569.5px,#386df9 570.5px,#386df9 571.5px,#4a53fc 572.5px,#4a53fc 573.5px,#b2f396 574.5px,#4a53fc 575.5px,#4a53fc 576.5px,#00b4ec 577.5px,#b2f396 578.5px,#386df9 579.5px,#f00 580.5px,#386df9 581.5px,#4a53fc 582.5px,#80ffb4 583.5px,#4a53fc 584.5px,#19cee3 585.5px,#b2f396 586.5px,#1996f3 587.5px,#4a53fc 588.5px,#1996f3 589.5px,#4a53fc 590.5px,#1996f3 592.5px,#4a53fc 593.5px,#4a53fc 596.5px,#3374f8 597.5px,#4a53fc 598.5px,#4a53fc 599.5px,#3374f8 600.5px,#4a53fc 601.5px,#4a53fc 1101.5px,#4a53fc 1491.5px)"></i><i style="top:365px;height:3px;background:linear-gradient(90deg,#4a53fc 0.5px,#4a53fc 395.5px,#2982f6 396.5px,#3374f8 397.5px,#2982f6 398.5px,#4a53fc 399.5px,#2982f6 400.5px,#3374f8 401.5px,#4a53fc 402.5px,#4a53fc 405.5px,#3374f8 406.5px,#4a53fc 407.5px,#80ffb4 408.5px,#4a53fc 409.5px,#386df9 410.5px,#19cee3 411.5px,#19cee3 412.5px,#4a53fc 413.5px,#4a53fc 414.5px,#19cee3 415.5px,#00b4ec 416.5px,#4a53fc 417.5px,#f00 418.5px,#00b4ec 419.5px,#f00 420.5px,#80ffb4 421.5px,#00b4ec 422.5px,#1996f3 423.5px,#4a53fc 424.5px,#4a53fc 426.5px,#f00 427.5px,#80ffb4 428.5px,#4a53fc 429.5px,#4a53fc 430.5px,#386df9 431.5px,#4a53fc 432.5px,#80ffb4 433.5px,#4a53fc 434.5px,#3374f8 435.5px,#4a53fc 436.5px,#4a53fc 437.5px,#1996f3 438.5px,#4a53fc 439.5px,#4a53fc 443.5px,#2982f6 444.5px,#2982f6 445.5px,#4a53fc 446.5px,#4a53fc 447.5px,#2982f6 448.5px,#2982f6 449.5px,#4a53fc 450.5px,#4a53fc 555.5px,#386df9 556.5px,#386df9 557.5px,#4a53fc 558.5px,#4a53fc 566.5px,#386df9 567.5px,#b2f396 568.5px,#00b4ec 569.5px,#4a53fc 570.5px,#80ffb4 571.5px,#4a53fc 572.5px,#f00 573.5px,#386df9 574.5px,#4a53fc 575.5px,#b2f396 576.5px,#4a53fc 577.5px,#b2f396 578.5px,#1996f3 579.5px,#4a53fc 580.5px,#2982f6 581.5px,#f00 582.5px,#4a53fc 583.5px,#4a53fc 584.5px,#00b4ec 585.5px,#b2f396 586.5px,#1996f3 587.5px,#4a53fc 588.5px,#b2f396 589.5px,#00b4ec 590.5px,#4a53fc 591.5px,#00b4ec 592.5px,#386df9 593.5px,#4a53fc 594.5px,#4a53fc 597.5px,#386df9 598.5px,#4a53fc 599.5px,#4a53fc 1099.5px,#4a53fc 1491.5px)"></i><i style="top:368px;height:3px;background:linear-gradient(90deg,#4a53fc 0.5px,#4a53fc 394.5px,#386df9 395.5px,#4a53fc 396.5px,#4a53fc 398.5px,#3374f8 399.5px,#386df9 400.5px,#4a53fc 401.5px,#386df9 402.5px,#1996f3 403.5px,#4a53fc 404.5px,#4a53fc 407.5px,#3374f8 408.5px,#4a53fc 409.5px,#33e3d9 410.5px,#19cee3 411.5px,#f00 412.5px,#f00 413.5px,#19cee3 414.5px,#4a53fc 415.5px,#2982f6 416.5px,#1996f3 417.5px,#80ffb4 418.5px,#4a53fc 419.5px,#33e3d9 420.5px,#1996f3 421.5px,#4a53fc 422.5px,#2982f6 423.5px,#4a53fc 424.5px,#1996f3 425.5px,#4a53fc 426.5px,#f00 427.5px,#1996f3 428.5px,#33e3d9 429.5px,#386df9 430.5px,#4a53fc 431.5px,#3374f8 432.5px,#4a53fc 433.5px,#33e3d9 434.5px,#4a53fc 435.5px,#3374f8 436.5px,#4a53fc 437.5px,#4a53fc 438.5px,#1996f3 440.5px,#4a53fc 441.5px,#4a53fc 444.5px,#2982f6 445.5px,#4a53fc 446.5px,#4a53fc 556.5px,#386df9 557.5px,#4a53fc 558.5px,#4a53fc 561.5px,#19cee3 562.5px,#4a53fc 563.5px,#1996f3 564.5px,#4a53fc 565.5px,#4a53fc 567.5px,#33e3d9 568.5px,#4a53fc 569.5px,#4a53fc 571.5px,#b2f396 572.5px,#f00 573.5px,#4a53fc 574.5px,#4a53fc 576.5px,#80ffb4 577.5px,#b2f396 578.5px,#80ffb4 579.5px,#4a53fc 580.5px,#3374f8 581.5px,#3374f8 582.5px,#4a53fc 583.5px,#4a53fc 584.5px,#2982f6 585.5px,#19cee3 586.5px,#4a53fc 587.5px,#4a53fc 590.5px,#00b4ec 591.5px,#4a53fc 593.5px,#4a53fc 594.5px,#386df9 595.5px,#4a53fc 596.5px,#4a53fc 1096.5px,#4a53fc 1491.5px)"></i><i style="top:371px;height:2px;background:linear-gradient(90deg,#4a53fc 0.5px,#4a53fc 395.5px,#3374f8 396.5px,#4a53fc 397.5px,#4a53fc 398.5px,#2982f6 399.5px,#386df9 401.5px,#4a53fc 402.5px,#4a53fc 404.5px,#2982f6 405.5px,#3374f8 406.5px,#33e3d9 407.5px,#386df9 408.5px,#4a53fc 409.5px,#4a53fc 411.5px,#80ffb4 412.5px,#f00 413.5px,#1996f3 414.5px,#1996f3 415.5px,#4a53fc 416.5px,#19cee3 417.5px,#4a53fc 418.5px,#4a53fc 419.5px,#33e3d9 420.5px,#4a53fc 421.5px,#4a53fc 422.5px,#33e3d9 423.5px,#1996f3 424.5px,#80ffb4 425.5px,#4a53fc 426.5px,#3374f8 427.5px,#33e3d9 428.5px,#4a53fc 429.5px,#2982f6 430.5px,#4a53fc 431.5px,#33e3d9 432.5px,#3374f8 433.5px,#4a53fc 434.5px,#4a53fc 436.5px,#19cee3 437.5px,#3374f8 438.5px,#4a53fc 439.5px,#80ffb4 440.5px,#386df9 441.5px,#4a53fc 442.5px,#4a53fc 447.5px,#2982f6 448.5px,#2982f6 449.5px,#4a53fc 451.5px,#4a53fc 553.5px,#2982f6 554.5px,#4a53fc 555.5px,#386df9 556.5px,#4a53fc 557.5px,#4a53fc 560.5px,#2982f6 561.5px,#4a53fc 562.5px,#19cee3 563.5px,#4a53fc 564.5px,#00b4ec 565.5px,#4a53fc 566.5px,#00b4ec 567.5px,#33e3d9 568.5px,#4a53fc 569.5px,#2982f6 570.5px,#4a53fc 571.5px,#4a53fc 572.5px,#f00 573.5px,#f00 574.5px,#4a53fc 575.5px,#4a53fc 576.5px,#00b4ec 577.5px,#1996f3 578.5px,#19cee3 579.5px,#80ffb4 580.5px,#80ffb4 581.5px,#33e3d9 582.5px,#33e3d9 583.5px,#4a53fc 584.5px,#b2f396 585.5px,#4a53fc 586.5px,#4a53fc 590.5px,#2982f6 591.5px,#4a53fc 592.5px,#4a53fc 595.5px,#3374f8 596.5px,#386df9 597.5px,#4a53fc 598.5px,#4a53fc 1098.5px,#4a53fc 1491.5px)"></i><i style="top:373px;height:14px;background:#4a53fc"></i><i style="top:387px;height:2px;background:linear-gradient(90deg,#4a53fc 0.5px,#4a53fc 59.5px,#2489f5 60.5px,#2489f5 63.5px,#4a53fc 64.5px,#4a53fc 129.5px,#2489f5 130.5px,#2489f5 134.5px,#4a53fc 135.5px,#4a53fc 174.5px,#0fa3f0 175.5px,#0fa3f0 176.5px,#4a53fc 177.5px,#4a53fc 201.5px,#0fa3f0 202.5px,#0fa3f0 204.5px,#4a53fc 205.5px,#4a53fc 414.5px,#0fa3f0 415.5px,#0fa3f0 417.5px,#4a53fc 418.5px,#4a53fc 496.5px,#2489f5 497.5px,#2489f5 499.5px,#4a53fc 500.5px,#4a53fc 711.5px,#0fa3f0 712.5px,#0fa3f0 715.5px,#4a53fc 716.5px,#4a53fc 809.5px,#0fa3f0 810.5px,#0fa3f0 812.5px,#4a53fc 813.5px,#4a53fc 846.5px,#2489f5 847.5px,#2489f5 851.5px,#4a53fc 852.5px,#4a53fc 857.5px,#0fa3f0 858.5px,#0fa3f0 860.5px,#4a53fc 861.5px,#4a53fc 1014.5px,#0fa3f0 1015.5px,#0fa3f0 1019.5px,#4a53fc 1020.5px,#4a53fc 1025.5px,#0fa3f0 1026.5px,#0fa3f0 1030.5px,#4a53fc 1031.5px,#4a53fc 1105.5px,#0fa3f0 1106.5px,#0fa3f0 1109.5px,#4a53fc 1110.5px,#4a53fc 1114.5px,#0fa3f0 1115.5px,#0fa3f0 1116.5px,#4a53fc 1117.5px,#4a53fc 1124.5px,#0fa3f0 1125.5px,#0fa3f0 1127.5px,#4a53fc 1128.5px,#4a53fc 1208.5px,#2489f5 1209.5px,#2489f5 1212.5px,#4a53fc 1213.5px,#4a53fc 1261.5px,#0fa3f0 1262.5px,#0fa3f0 1263.5px,#4a53fc 1264.5px,#4a53fc 1268.5px,#2489f5 1269.5px,#2489f5 1272.5px,#4a53fc 1273.5px,#4a53fc 1326.5px,#0fa3f0 1327.5px,#0fa3f0 1329.5px,#4a53fc 1330.5px,#4a53fc 1436.5px,#0fa3f0 1437.5px,#0fa3f0 1439.5px,#4a53fc 1440.5px,#4a53fc 1491.5px)"></i><i style="top:389px;height:3px;background:#4a53fc"></i><i style="top:392px;height:3px;background:linear-gradient(90deg,#4a53fc 0.5px,#4a53fc 41.5px,#4df3ce 42.5px,#4a53fc 43.5px,#4a53fc 80.5px,#00b4ec 81.5px,#4a53fc 82.5px,#4a53fc 122.5px,#4df3ce 123.5px,#4a53fc 124.5px,#4a53fc 131.5px,#00b4ec 132.5px,#4a53fc 133.5px,#4a53fc 147.5px,#19cee3 148.5px,#4a53fc 149.5px,#4a53fc 184.5px,#4df3ce 185.5px,#4a53fc 186.5px,#4a53fc 238.5px,#19cee3 239.5px,#4a53fc 240.5px,#00b4ec 241.5px,#4a53fc 242.5px,#4a53fc 269.5px,#4df3ce 270.5px,#4a53fc 271.5px,#4a53fc 290.5px,#4df3ce 291.5px,#4a53fc 292.5px,#4a53fc 295.5px,#00b4ec 296.5px,#4a53fc 297.5px,#4a53fc 337.5px,#19cee3 338.5px,#4a53fc 339.5px,#4a53fc 358.5px,#00b4ec 359.5px,#4a53fc 360.5px,#4a53fc 370.5px,#4df3ce 371.5px,#4a53fc 372.5px,#4a53fc 373.5px,#00b4ec 374.5px,#4a53fc 375.5px,#4a53fc 405.5px,#00b4ec 406.5px,#00b4ec 407.5px,#4a53fc 408.5px,#4a53fc 450.5px,#4df3ce 451.5px,#4a53fc 452.5px,#4a53fc 579.5px,#19cee3 580.5px,#4a53fc 581.5px,#4a53fc 641.5px,#4df3ce 642.5px,#4a53fc 643.5px,#4a53fc 673.5px,#19cee3 674.5px,#4a53fc 675.5px,#4a53fc 681.5px,#4df3ce 682.5px,#4a53fc 683.5px,#4a53fc 695.5px,#00b4ec 696.5px,#4a53fc 697.5px,#4a53fc 699.5px,#19cee3 700.5px,#4a53fc 701.5px,#4a53fc 750.5px,#00b4ec 751.5px,#4a53fc 752.5px,#4a53fc 855.5px,#4df3ce 856.5px,#4a53fc 857.5px,#4a53fc 891.5px,#4df3ce 892.5px,#4a53fc 893.5px,#4a53fc 992.5px,#4df3ce 993.5px,#4a53fc 994.5px,#4a53fc 1012.5px,#4df3ce 1013.5px,#4a53fc 1014.5px,#4a53fc 1279.5px,#4df3ce 1280.5px,#4a53fc 1281.5px,#4a53fc 1303.5px,#4df3ce 1304.5px,#4a53fc 1305.5px,#4a53fc 1491.5px)"></i><i style="top:395px;height:1px;background:#4a53fc"></i><i style="top:396px;height:12px;background:linear-gradient(90deg,#583efd 0.5px,#573ffd 500.5px,#5443fd 783.5px,#425efa 884.5px,#4061fa 1384.5px,#455afb 1491.5px)"></i><i style="top:408px;height:4px;background:linear-gradient(90deg,#425efa 0.5px,#4659fb 500.5px,#4954fb 1000.5px,#4c4ffc 1491.5px)"></i><i style="top:412px;height:1px;background:linear-gradient(90deg,#4062fa 0.5px,#435cfb 500.5px,#4756fb 703.5px,#593cfd 723.5px,#593cfd 1223.5px,#593cfd 1491.5px)"></i><i style="top:413px;height:2px;background:linear-gradient(90deg,#4062fa 0.5px,#4062fa 3.5px,#3374f8 4.5px,#4062fa 5.5px,#4061fa 9.5px,#3374f8 10.5px,#3374f8 11.5px,#4061fa 12.5px,#4061fa 14.5px,#2b7ef6 15.5px,#4061fa 16.5px,#4061fa 19.5px,#3374f8 20.5px,#3374f8 21.5px,#4061fa 22.5px,#4061fa 23.5px,#3374f8 24.5px,#3374f8 26.5px,#4061fa 27.5px,#4061fa 30.5px,#2b7ef6 31.5px,#4061fa 32.5px,#4061fa 34.5px,#3374f8 35.5px,#4061fa 36.5px,#4061fa 45.5px,#3374f8 46.5px,#3374f8 47.5px,#4061fa 48.5px,#4061fa 50.5px,#3374f8 51.5px,#4061fa 52.5px,#4061fa 71.5px,#2b7ef6 72.5px,#2b7ef6 74.5px,#4061fa 75.5px,#4061fa 78.5px,#3374f8 79.5px,#3374f8 80.5px,#4061fa 81.5px,#4061fa 83.5px,#2b7ef6 84.5px,#2b7ef6 85.5px,#4061fa 86.5px,#4061fa 93.5px,#3374f8 94.5px,#3374f8 95.5px,#4061fa 96.5px,#4061fa 100.5px,#3374f8 101.5px,#3374f8 102.5px,#4160fa 103.5px,#4160fa 107.5px,#3374f8 108.5px,#3374f8 110.5px,#4160fa 111.5px,#4160fa 127.5px,#3374f8 128.5px,#3374f8 129.5px,#4160fa 130.5px,#4160fa 131.5px,#2b7ef6 132.5px,#4160fa 133.5px,#4160fa 138.5px,#3374f8 139.5px,#3374f8 141.5px,#2b7ef6 142.5px,#2b7ef6 143.5px,#4160fa 144.5px,#4160fa 146.5px,#2b7ef6 147.5px,#4160fa 148.5px,#3374f8 149.5px,#3374f8 150.5px,#2b7ef6 151.5px,#4160fa 152.5px,#4160fa 157.5px,#2b7ef6 158.5px,#2b7ef6 162.5px,#4160fa 163.5px,#2b7ef6 164.5px,#4160fa 165.5px,#4160fa 167.5px,#3374f8 168.5px,#3374f8 169.5px,#4160fa 170.5px,#4160fa 172.5px,#3374f8 173.5px,#3374f8 174.5px,#4160fa 175.5px,#4160fa 176.5px,#2b7ef6 177.5px,#4160fa 178.5px,#4160fa 183.5px,#2b7ef6 184.5px,#2b7ef6 188.5px,#4160fa 189.5px,#4160fa 191.5px,#3374f8 192.5px,#3374f8 193.5px,#2b7ef6 194.5px,#2b7ef6 196.5px,#3374f8 197.5px,#3374f8 199.5px,#415ffa 200.5px,#415ffa 202.5px,#2b7ef6 203.5px,#2b7ef6 204.5px,#415ffa 205.5px,#415ffa 211.5px,#2b7ef6 212.5px,#2b7ef6 213.5px,#415ffa 214.5px,#415ffa 216.5px,#2b7ef6 217.5px,#2b7ef6 218.5px,#415ffa 219.5px,#3374f8 220.5px,#3374f8 222.5px,#415ffa 223.5px,#415ffa 225.5px,#3374f8 226.5px,#415ffa 227.5px,#3374f8 228.5px,#415ffa 229.5px,#425ffa 247.5px,#2b7ef6 248.5px,#2b7ef6 250.5px,#425ffa 251.5px,#425ffa 257.5px,#2b7ef6 258.5px,#2b7ef6 259.5px,#425ffa 260.5px,#425ffa 261.5px,#2b7ef6 262.5px,#2b7ef6 263.5px,#425ffa 264.5px,#2b7ef6 265.5px,#425ffa 266.5px,#425ffa 274.5px,#2b7ef6 275.5px,#2b7ef6 277.5px,#3374f8 278.5px,#425ffa 279.5px,#425ffa 280.5px,#3374f8 281.5px,#425ffa 282.5px,#425ffa 288.5px,#2b7ef6 289.5px,#2b7ef6 290.5px,#425efa 291.5px,#425efa 303.5px,#2b7ef6 304.5px,#2b7ef6 306.5px,#425efa 307.5px,#425efa 317.5px,#3374f8 318.5px,#3374f8 319.5px,#425efa 320.5px,#2b7ef6 321.5px,#2b7ef6 323.5px,#425efa 324.5px,#425efa 325.5px,#3374f8 326.5px,#3374f8 327.5px,#425efa 328.5px,#425efa 329.5px,#3374f8 330.5px,#3374f8 333.5px,#425efa 334.5px,#3374f8 335.5px,#425efa 336.5px,#425efa 340.5px,#3374f8 341.5px,#425efa 342.5px,#425efa 354.5px,#2b7ef6 355.5px,#2b7ef6 357.5px,#425efa 358.5px,#425efa 364.5px,#3374f8 365.5px,#3374f8 366.5px,#425efb 367.5px,#425efb 369.5px,#2b7ef6 370.5px,#2b7ef6 372.5px,#425efb 373.5px,#2b7ef6 374.5px,#2b7ef6 376.5px,#425efb 377.5px,#435efb 381.5px,#2b7ef6 382.5px,#2b7ef6 384.5px,#435dfb 385.5px,#435dfb 387.5px,#3374f8 388.5px,#435dfb 389.5px,#3374f8 390.5px,#3374f8 392.5px,#2b7ef6 393.5px,#435dfb 394.5px,#435dfb 401.5px,#3374f8 402.5px,#3374f8 403.5px,#435dfb 404.5px,#435dfb 422.5px,#2b7ef6 423.5px,#2b7ef6 425.5px,#435dfb 426.5px,#435dfb 429.5px,#1f8ff4 431.5px,#1f8ff4 433.5px,#0fa3f0 434.5px,#435dfb 435.5px,#435dfb 437.5px,#0fa3f0 438.5px,#0fa3f0 441.5px,#435dfb 442.5px,#1f8ff4 443.5px,#0fa3f0 444.5px,#435dfb 445.5px,#1f8ff4 446.5px,#1f8ff4 447.5px,#435dfb 448.5px,#435dfb 449.5px,#1f8ff4 450.5px,#1f8ff4 453.5px,#435dfb 454.5px,#435dfb 455.5px,#1f8ff4 456.5px,#1f8ff4 457.5px,#435dfb 458.5px,#435dfb 459.5px,#0fa3f0 460.5px,#0fa3f0 462.5px,#435dfb 463.5px,#435dfb 465.5px,#1f8ff4 466.5px,#1f8ff4 467.5px,#435dfb 468.5px,#0fa3f0 469.5px,#0fa3f0 470.5px,#435dfb 471.5px,#0fa3f0 472.5px,#435dfb 473.5px,#435dfb 474.5px,#1f8ff4 475.5px,#1f8ff4 478.5px,#435cfb 479.5px,#435cfb 480.5px,#1f8ff4 481.5px,#1f8ff4 486.5px,#0fa3f0 487.5px,#0fa3f0 488.5px,#435cfb 489.5px,#1f8ff4 490.5px,#1f8ff4 493.5px,#435cfb 494.5px,#1f8ff4 495.5px,#1f8ff4 496.5px,#435cfb 497.5px,#435cfb 499.5px,#0fa3f0 500.5px,#0fa3f0 501.5px,#435cfb 502.5px,#0fa3f0 503.5px,#1f8ff4 504.5px,#435cfb 505.5px,#435cfb 509.5px,#0fa3f0 510.5px,#0fa3f0 513.5px,#435cfb 514.5px,#1f8ff4 515.5px,#445cfb 516.5px,#0fa3f0 517.5px,#445cfb 518.5px,#445cfb 519.5px,#0fa3f0 520.5px,#0fa3f0 523.5px,#1f8ff4 524.5px,#1f8ff4 525.5px,#0fa3f0 526.5px,#445cfb 527.5px,#1f8ff4 528.5px,#445cfb 529.5px,#1f8ff4 530.5px,#1f8ff4 533.5px,#445cfb 534.5px,#445cfb 535.5px,#0fa3f0 536.5px,#0fa3f0 538.5px,#445cfb 539.5px,#445cfb 541.5px,#2b7ef6 542.5px,#3374f8 543.5px,#2b7ef6 544.5px,#445cfb 545.5px,#445cfb 546.5px,#3374f8 547.5px,#445cfb 548.5px,#3374f8 549.5px,#445cfb 550.5px,#445cfb 552.5px,#3374f8 553.5px,#3374f8 554.5px,#445cfb 555.5px,#445cfb 557.5px,#2b7ef6 558.5px,#445cfb 559.5px,#445cfb 561.5px,#3374f8 562.5px,#445cfb 563.5px,#445cfb 566.5px,#3374f8 567.5px,#3374f8 569.5px,#445cfb 570.5px,#445bfb 573.5px,#2b7ef6 574.5px,#445bfb 575.5px,#445bfb 577.5px,#2b7ef6 578.5px,#2b7ef6 581.5px,#445bfb 582.5px,#445bfb 583.5px,#2b7ef6 584.5px,#445bfb 585.5px,#445bfb 587.5px,#2b7ef6 588.5px,#2b7ef6 590.5px,#445bfb 591.5px,#2b7ef6 592.5px,#445bfb 593.5px,#445bfb 597.5px,#3374f8 598.5px,#445bfb 599.5px,#445bfb 616.5px,#3374f8 617.5px,#3374f8 619.5px,#445bfb 620.5px,#3374f8 621.5px,#3374f8 623.5px,#445bfb 624.5px,#3374f8 625.5px,#3374f8 626.5px,#2b7ef6 627.5px,#2b7ef6 628.5px,#445bfb 629.5px,#445bfb 637.5px,#2b7ef6 638.5px,#2b7ef6 640.5px,#445bfb 641.5px,#445bfb 642.5px,#2b7ef6 643.5px,#2b7ef6 645.5px,#445bfb 646.5px,#445bfb 647.5px,#3374f8 648.5px,#3374f8 649.5px,#445bfb 650.5px,#2b7ef6 651.5px,#445bfb 652.5px,#455bfb 653.5px,#3374f8 654.5px,#3374f8 657.5px,#455bfb 658.5px,#455bfb 660.5px,#2b7ef6 661.5px,#455bfb 662.5px,#455afb 669.5px,#2b7ef6 670.5px,#2b7ef6 672.5px,#455afb 673.5px,#3374f8 674.5px,#455afb 675.5px,#455afb 676.5px,#2b7ef6 677.5px,#455afb 678.5px,#455afb 687.5px,#2b7ef6 688.5px,#2b7ef6 690.5px,#455afb 691.5px,#455afb 694.5px,#3374f8 695.5px,#3374f8 696.5px,#455afb 697.5px,#455afb 698.5px,#3374f8 699.5px,#3374f8 700.5px,#4559fb 701.5px,#593cfd 723.5px,#593cfd 1223.5px,#593cfd 1491.5px)"></i><i style="top:415px;height:1px;background:linear-gradient(90deg,#425efa 0.5px,#425efa 3.5px,#3374f8 4.5px,#425efa 5.5px,#425efa 9.5px,#3374f8 10.5px,#3374f8 11.5px,#425efa 12.5px,#425efa 14.5px,#2b7ef6 15.5px,#425efa 16.5px,#425efb 19.5px,#3374f8 20.5px,#3374f8 21.5px,#425efb 22.5px,#425efb 23.5px,#3374f8 24.5px,#3374f8 26.5px,#425efb 27.5px,#435efb 30.5px,#2b7ef6 31.5px,#435efb 32.5px,#435efb 34.5px,#3374f8 35.5px,#435efb 36.5px,#435dfb 45.5px,#3374f8 46.5px,#3374f8 47.5px,#435dfb 48.5px,#435dfb 50.5px,#3374f8 51.5px,#435dfb 52.5px,#435dfb 71.5px,#2b7ef6 72.5px,#2b7ef6 74.5px,#435dfb 75.5px,#435dfb 78.5px,#3374f8 79.5px,#3374f8 80.5px,#435dfb 81.5px,#435dfb 83.5px,#2b7ef6 84.5px,#2b7ef6 85.5px,#435dfb 86.5px,#435dfb 93.5px,#3374f8 94.5px,#3374f8 95.5px,#435dfb 96.5px,#435dfb 100.5px,#3374f8 101.5px,#3374f8 102.5px,#435dfb 103.5px,#435dfb 107.5px,#3374f8 108.5px,#3374f8 110.5px,#435dfb 111.5px,#435dfb 127.5px,#3374f8 128.5px,#3374f8 129.5px,#435dfb 130.5px,#435dfb 131.5px,#2b7ef6 132.5px,#435dfb 133.5px,#435cfb 138.5px,#3374f8 139.5px,#3374f8 141.5px,#2b7ef6 142.5px,#2b7ef6 143.5px,#435cfb 144.5px,#435cfb 146.5px,#2b7ef6 147.5px,#435cfb 148.5px,#3374f8 149.5px,#3374f8 150.5px,#2b7ef6 151.5px,#435cfb 152.5px,#435cfb 157.5px,#2b7ef6 158.5px,#2b7ef6 162.5px,#435cfb 163.5px,#2b7ef6 164.5px,#435cfb 165.5px,#435cfb 167.5px,#3374f8 168.5px,#3374f8 169.5px,#435cfb 170.5px,#435cfb 172.5px,#3374f8 173.5px,#3374f8 174.5px,#445cfb 175.5px,#445cfb 176.5px,#2b7ef6 177.5px,#445cfb 178.5px,#445cfb 183.5px,#2b7ef6 184.5px,#2b7ef6 188.5px,#445cfb 189.5px,#445cfb 191.5px,#3374f8 192.5px,#3374f8 193.5px,#2b7ef6 194.5px,#2b7ef6 196.5px,#3374f8 197.5px,#3374f8 199.5px,#445cfb 200.5px,#445cfb 202.5px,#2b7ef6 203.5px,#2b7ef6 204.5px,#445cfb 205.5px,#445cfb 211.5px,#2b7ef6 212.5px,#2b7ef6 213.5px,#445cfb 214.5px,#445cfb 216.5px,#2b7ef6 217.5px,#2b7ef6 218.5px,#445cfb 219.5px,#3374f8 220.5px,#3374f8 222.5px,#445cfb 223.5px,#445cfb 225.5px,#3374f8 226.5px,#445cfb 227.5px,#3374f8 228.5px,#445cfb 229.5px,#445bfb 247.5px,#2b7ef6 248.5px,#2b7ef6 250.5px,#445bfb 251.5px,#445bfb 257.5px,#2b7ef6 258.5px,#2b7ef6 259.5px,#445bfb 260.5px,#445bfb 261.5px,#2b7ef6 262.5px,#2b7ef6 263.5px,#445bfb 264.5px,#2b7ef6 265.5px,#445bfb 266.5px,#445bfb 274.5px,#2b7ef6 275.5px,#2b7ef6 277.5px,#3374f8 278.5px,#445bfb 279.5px,#445bfb 280.5px,#3374f8 281.5px,#445bfb 282.5px,#445bfb 288.5px,#2b7ef6 289.5px,#2b7ef6 290.5px,#445bfb 291.5px,#445bfb 303.5px,#2b7ef6 304.5px,#2b7ef6 306.5px,#445bfb 307.5px,#445bfb 317.5px,#3374f8 318.5px,#3374f8 319.5px,#445bfb 320.5px,#2b7ef6 321.5px,#2b7ef6 323.5px,#455bfb 324.5px,#455bfb 325.5px,#3374f8 326.5px,#3374f8 327.5px,#455bfb 328.5px,#455bfb 329.5px,#3374f8 330.5px,#3374f8 333.5px,#455bfb 334.5px,#3374f8 335.5px,#455bfb 336.5px,#455afb 340.5px,#3374f8 341.5px,#455afb 342.5px,#455afb 354.5px,#2b7ef6 355.5px,#2b7ef6 357.5px,#455afb 358.5px,#455afb 364.5px,#3374f8 365.5px,#3374f8 366.5px,#455afb 367.5px,#455afb 369.5px,#2b7ef6 370.5px,#2b7ef6 372.5px,#455afb 373.5px,#2b7ef6 374.5px,#2b7ef6 376.5px,#455afb 377.5px,#455afb 381.5px,#2b7ef6 382.5px,#2b7ef6 384.5px,#455afb 385.5px,#455afb 387.5px,#3374f8 388.5px,#455afb 389.5px,#3374f8 390.5px,#3374f8 392.5px,#2b7ef6 393.5px,#455afb 394.5px,#455afb 401.5px,#3374f8 402.5px,#3374f8 403.5px,#455afb 404.5px,#455afb 422.5px,#2b7ef6 423.5px,#2b7ef6 425.5px,#455afb 426.5px,#455afb 429.5px,#1f8ff4 431.5px,#1f8ff4 433.5px,#0fa3f0 434.5px,#455afb 435.5px,#4559fb 437.5px,#0fa3f0 438.5px,#0fa3f0 441.5px,#4559fb 442.5px,#1f8ff4 443.5px,#0fa3f0 444.5px,#4559fb 445.5px,#1f8ff4 446.5px,#1f8ff4 447.5px,#4559fb 448.5px,#4559fb 449.5px,#1f8ff4 450.5px,#1f8ff4 453.5px,#4559fb 454.5px,#4559fb 455.5px,#1f8ff4 456.5px,#1f8ff4 457.5px,#4559fb 458.5px,#4559fb 459.5px,#0fa3f0 460.5px,#0fa3f0 462.5px,#4559fb 463.5px,#4559fb 465.5px,#1f8ff4 466.5px,#1f8ff4 467.5px,#4659fb 468.5px,#0fa3f0 469.5px,#0fa3f0 470.5px,#4659fb 471.5px,#0fa3f0 472.5px,#4659fb 473.5px,#4659fb 474.5px,#1f8ff4 475.5px,#1f8ff4 478.5px,#4659fb 479.5px,#4659fb 480.5px,#1f8ff4 481.5px,#1f8ff4 486.5px,#0fa3f0 487.5px,#0fa3f0 488.5px,#4659fb 489.5px,#1f8ff4 490.5px,#1f8ff4 493.5px,#4659fb 494.5px,#1f8ff4 495.5px,#1f8ff4 496.5px,#4659fb 497.5px,#4659fb 499.5px,#0fa3f0 500.5px,#0fa3f0 501.5px,#4659fb 502.5px,#0fa3f0 503.5px,#1f8ff4 504.5px,#4659fb 505.5px,#4659fb 509.5px,#0fa3f0 510.5px,#0fa3f0 513.5px,#4659fb 514.5px,#1f8ff4 515.5px,#4659fb 516.5px,#0fa3f0 517.5px,#4659fb 518.5px,#4659fb 519.5px,#0fa3f0 520.5px,#0fa3f0 523.5px,#1f8ff4 524.5px,#1f8ff4 525.5px,#0fa3f0 526.5px,#4659fb 527.5px,#1f8ff4 528.5px,#4659fb 529.5px,#1f8ff4 530.5px,#1f8ff4 533.5px,#4659fb 534.5px,#4658fb 535.5px,#0fa3f0 536.5px,#0fa3f0 538.5px,#4658fb 539.5px,#4658fb 541.5px,#2b7ef6 542.5px,#3374f8 543.5px,#2b7ef6 544.5px,#4658fb 545.5px,#4658fb 546.5px,#3374f8 547.5px,#4658fb 548.5px,#3374f8 549.5px,#4658fb 550.5px,#4658fb 552.5px,#3374f8 553.5px,#3374f8 554.5px,#4658fb 555.5px,#4658fb 557.5px,#2b7ef6 558.5px,#4658fb 559.5px,#4658fb 561.5px,#3374f8 562.5px,#4658fb 563.5px,#4658fb 566.5px,#3374f8 567.5px,#3374f8 569.5px,#4658fb 570.5px,#4658fb 573.5px,#2b7ef6 574.5px,#4658fb 575.5px,#4658fb 577.5px,#2b7ef6 578.5px,#2b7ef6 581.5px,#4658fb 582.5px,#4658fb 583.5px,#2b7ef6 584.5px,#4658fb 585.5px,#4658fb 587.5px,#2b7ef6 588.5px,#2b7ef6 590.5px,#4658fb 591.5px,#2b7ef6 592.5px,#4658fb 593.5px,#4658fb 597.5px,#3374f8 598.5px,#4658fb 599.5px,#4758fb 616.5px,#3374f8 617.5px,#3374f8 619.5px,#4758fb 620.5px,#3374f8 621.5px,#3374f8 623.5px,#4758fb 624.5px,#3374f8 625.5px,#3374f8 626.5px,#2b7ef6 627.5px,#2b7ef6 628.5px,#4758fb 629.5px,#4757fb 637.5px,#2b7ef6 638.5px,#2b7ef6 640.5px,#4757fb 641.5px,#4757fb 642.5px,#2b7ef6 643.5px,#2b7ef6 645.5px,#4757fb 646.5px,#4757fb 647.5px,#3374f8 648.5px,#3374f8 649.5px,#4757fb 650.5px,#2b7ef6 651.5px,#4757fb 652.5px,#4757fb 653.5px,#3374f8 654.5px,#3374f8 657.5px,#4757fb 658.5px,#4757fb 660.5px,#2b7ef6 661.5px,#4757fb 662.5px,#4757fb 669.5px,#2b7ef6 670.5px,#2b7ef6 672.5px,#4757fb 673.5px,#3374f8 674.5px,#4757fb 675.5px,#4757fb 676.5px,#2b7ef6 677.5px,#4757fb 678.5px,#4757fb 687.5px,#2b7ef6 688.5px,#2b7ef6 690.5px,#4757fb 691.5px,#4757fb 694.5px,#3374f8 695.5px,#3374f8 696.5px,#4757fb 697.5px,#4757fb 698.5px,#3374f8 699.5px,#3374f8 700.5px,#4757fb 701.5px,#4b52fc 1201.5px,#4c4ffc 1491.5px)"></i><i style="top:416px;height:2px;background:linear-gradient(90deg,#425efa 0.5px,#4659fb 500.5px,#4954fb 1000.5px,#4c4ffc 1491.5px)"></i><i style="top:418px;height:11px;background:linear-gradient(90deg,#4062fa 0.5px,#455afb 500.5px,#4a53fc 1000.5px,#4c4ffc 1491.5px)"></i><i style="top:429px;height:3px;background:linear-gradient(90deg,#4062fa 0.5px,#4061fa 12.5px,#19cee3 13.5px,#4061fa 14.5px,#4160fa 74.5px,#1996f3 75.5px,#4160fa 76.5px,#19cee3 77.5px,#4160fa 78.5px,#4160fa 94.5px,#19cee3 95.5px,#4160fa 96.5px,#4160fa 102.5px,#1996f3 103.5px,#4160fa 104.5px,#4160fa 109.5px,#19cee3 110.5px,#4160fa 111.5px,#435dfb 313.5px,#1996f3 314.5px,#435dfb 315.5px,#445bfb 414.5px,#1996f3 415.5px,#445bfb 416.5px,#4559fb 544.5px,#19cee3 545.5px,#4559fb 546.5px,#4856fb 783.5px,#19cee3 784.5px,#4856fb 785.5px,#4855fb 820.5px,#1996f3 821.5px,#4855fb 822.5px,#4954fb 872.5px,#00b4ec 873.5px,#4954fb 874.5px,#4954fb 880.5px,#00b4ec 881.5px,#00b4ec 882.5px,#4954fb 883.5px,#4954fb 893.5px,#2982f6 894.5px,#4954fb 895.5px,#4954fb 900.5px,#1996f3 901.5px,#1996f3 902.5px,#4954fb 903.5px,#4a53fc 974.5px,#1996f3 975.5px,#1996f3 976.5px,#4a53fc 977.5px,#4a52fc 1029.5px,#2982f6 1030.5px,#2982f6 1031.5px,#4a52fc 1032.5px,#4a52fc 1039.5px,#1996f3 1040.5px,#4a52fc 1041.5px,#4a52fc 1050.5px,#2982f6 1051.5px,#2982f6 1052.5px,#4a52fc 1053.5px,#4b52fc 1063.5px,#00b4ec 1064.5px,#4b52fc 1065.5px,#4b52fc 1069.5px,#2982f6 1070.5px,#1996f3 1071.5px,#1996f3 1072.5px,#4b52fc 1073.5px,#4c50fc 1184.5px,#00b4ec 1185.5px,#00b4ec 1186.5px,#4c50fc 1187.5px,#4c50fc 1219.5px,#1996f3 1220.5px,#4c50fc 1221.5px,#4c4ffc 1257.5px,#2982f6 1258.5px,#2982f6 1259.5px,#4c4ffc 1260.5px,#4c4ffc 1270.5px,#1996f3 1271.5px,#4c4ffc 1272.5px,#4c4ffc 1357.5px,#2982f6 1358.5px,#2982f6 1359.5px,#4c4ffc 1360.5px,#4c4ffc 1400.5px,#1996f3 1401.5px,#1996f3 1402.5px,#4c4ffc 1403.5px,#4c4ffc 1443.5px,#1996f3 1444.5px,#1996f3 1445.5px,#4c4ffc 1446.5px,#4c4ffc 1479.5px,#1996f3 1480.5px,#1996f3 1481.5px,#4c4ffc 1482.5px,#4c4ffc 1491.5px)"></i><i style="top:432px;height:9px;background:linear-gradient(90deg,#4062fa 0.5px,#455afb 500.5px,#4a53fc 1000.5px,#4c4ffc 1491.5px)"></i><i style="top:441px;height:4px;background:linear-gradient(90deg,#3b69f9 0.5px,#3b68f9 172.5px,#3374f8 173.5px,#3374f8 174.5px,#3b68f9 175.5px,#3b68f9 177.5px,#3374f8 178.5px,#3374f8 180.5px,#3b68f9 181.5px,#3b68f9 182.5px,#3374f8 183.5px,#3374f8 185.5px,#3b68f9 186.5px,#3374f8 187.5px,#3374f8 189.5px,#3b68f9 190.5px,#3b68f9 192.5px,#3374f8 193.5px,#3374f8 194.5px,#3b68f9 195.5px,#3374f8 196.5px,#3b68f9 197.5px,#3374f8 198.5px,#3b68f9 199.5px,#3374f8 200.5px,#3b68f9 201.5px,#3b68f9 203.5px,#3374f8 204.5px,#3374f8 205.5px,#3b68f9 206.5px,#3b68f9 210.5px,#3374f8 211.5px,#3b68f9 212.5px,#3b68f9 214.5px,#3374f8 215.5px,#3374f8 216.5px,#3b68f9 217.5px,#3b68f9 221.5px,#3374f8 222.5px,#3374f8 224.5px,#3b68f9 225.5px,#3b68f9 228.5px,#3374f8 229.5px,#3b68f9 230.5px,#3b68f9 235.5px,#3374f8 236.5px,#3b68f9 237.5px,#3374f8 238.5px,#3b68f9 239.5px,#3b68f9 251.5px,#3374f8 252.5px,#3374f8 253.5px,#3b68f9 254.5px,#3374f8 255.5px,#3374f8 257.5px,#3b68f9 258.5px,#3b68f9 272.5px,#3374f8 273.5px,#3374f8 275.5px,#3b68f9 276.5px,#3b68f9 277.5px,#3374f8 278.5px,#3b68f9 279.5px,#3374f8 280.5px,#3374f8 281.5px,#3b68f9 282.5px,#3b68f9 285.5px,#3374f8 286.5px,#3374f8 287.5px,#3b68f9 288.5px,#3c68f9 292.5px,#3374f8 293.5px,#3374f8 295.5px,#3c68f9 296.5px,#3c68f9 302.5px,#3374f8 303.5px,#3374f8 305.5px,#3c68f9 306.5px,#3c68f9 308.5px,#3374f8 309.5px,#3374f8 311.5px,#3c68f9 312.5px,#3c68f9 313.5px,#3374f8 314.5px,#3374f8 316.5px,#3c68f9 317.5px,#3374f8 318.5px,#3c68f9 319.5px,#3c68f9 321.5px,#3374f8 322.5px,#3374f8 327.5px,#3c68f9 328.5px,#3c67f9 345.5px,#3374f8 346.5px,#3374f8 348.5px,#3c67f9 349.5px,#3c67f9 359.5px,#3374f8 360.5px,#3374f8 362.5px,#3c67f9 363.5px,#3374f8 364.5px,#3374f8 366.5px,#3c67f9 367.5px,#3374f8 368.5px,#3c67f9 369.5px,#3c67f9 370.5px,#3374f8 371.5px,#3c67f9 372.5px,#3c67f9 384.5px,#3374f8 385.5px,#3374f8 387.5px,#3c67f9 388.5px,#3374f8 389.5px,#3c67f9 390.5px,#3c67f9 395.5px,#3374f8 396.5px,#3c67f9 397.5px,#3c67f9 406.5px,#3374f8 407.5px,#3374f8 408.5px,#3c67f9 409.5px,#3c67f9 410.5px,#3374f8 411.5px,#3374f8 412.5px,#3c67f9 413.5px,#3c67f9 419.5px,#3374f8 420.5px,#3374f8 421.5px,#3c67f9 422.5px,#3c67f9 423.5px,#3374f8 424.5px,#3374f8 425.5px,#3c67f9 426.5px,#3c67f9 428.5px,#3374f8 429.5px,#3374f8 431.5px,#3c67f9 432.5px,#3c67f9 438.5px,#3374f8 439.5px,#3374f8 440.5px,#3c67f9 441.5px,#3c67fa 444.5px,#3374f8 445.5px,#3c67fa 446.5px,#3c67fa 448.5px,#3374f8 449.5px,#3374f8 450.5px,#3c67fa 451.5px,#3c67fa 452.5px,#3374f8 453.5px,#3374f8 455.5px,#3c67fa 456.5px,#3c67fa 458.5px,#3374f8 459.5px,#3c67fa 460.5px,#3374f8 461.5px,#3374f8 462.5px,#3c67fa 463.5px,#3c67fa 472.5px,#3374f8 473.5px,#3374f8 475.5px,#3c67fa 476.5px,#3c67fa 487.5px,#3374f8 488.5px,#3374f8 490.5px,#3c67fa 491.5px,#3c67fa 497.5px,#3374f8 498.5px,#3374f8 500.5px,#3c67fa 501.5px,#3374f8 502.5px,#3c67fa 503.5px,#3c67fa 507.5px,#3374f8 508.5px,#3374f8 510.5px,#3c67fa 511.5px,#3c67fa 514.5px,#3374f8 515.5px,#3374f8 516.5px,#3c67fa 517.5px,#3c67fa 524.5px,#3374f8 525.5px,#3374f8 526.5px,#3c67fa 527.5px,#3c67fa 529.5px,#3374f8 530.5px,#3374f8 532.5px,#3c67fa 533.5px,#3c67fa 534.5px,#3374f8 535.5px,#3c67fa 536.5px,#3374f8 537.5px,#3374f8 539.5px,#3c67fa 540.5px,#3374f8 541.5px,#3c67fa 542.5px,#3c67fa 545.5px,#3374f8 546.5px,#3374f8 547.5px,#3c67fa 548.5px,#3c67fa 557.5px,#3374f8 558.5px,#3374f8 560.5px,#3c67fa 561.5px,#3c67fa 562.5px,#3374f8 563.5px,#3374f8 564.5px,#3c67fa 565.5px,#3c67fa 571.5px,#3374f8 572.5px,#3374f8 573.5px,#3c67fa 574.5px,#3374f8 575.5px,#3c67fa 576.5px,#3c66fa 587.5px,#3374f8 588.5px,#3c66fa 589.5px,#3c66fa 590.5px,#3374f8 591.5px,#3c66fa 592.5px,#3c66fa 593.5px,#3374f8 594.5px,#3374f8 597.5px,#3c66fa 598.5px,#3374f8 599.5px,#3c66fa 600.5px,#3c66fa 603.5px,#3374f8 604.5px,#3c66fa 605.5px,#3c66fa 608.5px,#3374f8 609.5px,#3374f8 611.5px,#3c66fa 612.5px,#3c66fa 622.5px,#3374f8 623.5px,#3374f8 624.5px,#3c66fa 625.5px,#3c66fa 627.5px,#3374f8 628.5px,#3374f8 630.5px,#3c66fa 631.5px,#3d66fa 638.5px,#3374f8 639.5px,#3374f8 641.5px,#3d66fa 642.5px,#3374f8 643.5px,#3d66fa 644.5px,#3374f8 645.5px,#3d66fa 646.5px,#3d66fa 649.5px,#3374f8 650.5px,#3374f8 652.5px,#3d66fa 653.5px,#3d66fa 666.5px,#3374f8 667.5px,#3374f8 669.5px,#3d66fa 670.5px,#3d66fa 671.5px,#3374f8 672.5px,#3374f8 673.5px,#3d66fa 674.5px,#3d66fa 675.5px,#3374f8 676.5px,#3374f8 677.5px,#3d66fa 678.5px,#3d66fa 679.5px,#3374f8 680.5px,#3374f8 681.5px,#3d66fa 682.5px,#3d66fa 686.5px,#3374f8 687.5px,#3374f8 689.5px,#3d66fa 690.5px,#3d66fa 699.5px,#3374f8 700.5px,#3374f8 702.5px,#3d66fa 703.5px,#3d66fa 715.5px,#3374f8 716.5px,#3374f8 718.5px,#3d66fa 719.5px,#3d66fa 725.5px,#3374f8 726.5px,#3374f8 727.5px,#3d66fa 728.5px,#3d66fa 732.5px,#3374f8 733.5px,#3d66fa 734.5px,#3d66fa 742.5px,#3374f8 743.5px,#3374f8 745.5px,#3d66fa 746.5px,#3d66fa 749.5px,#3374f8 750.5px,#3d66fa 751.5px,#3d66fa 753.5px,#3374f8 754.5px,#3374f8 757.5px,#3d66fa 758.5px,#3d66fa 761.5px,#3374f8 762.5px,#3d66fa 763.5px,#3d66fa 765.5px,#3374f8 766.5px,#3374f8 768.5px,#3d66fa 769.5px,#3d66fa 778.5px,#3374f8 779.5px,#3374f8 782.5px,#3d66fa 783.5px,#3374f8 784.5px,#3374f8 787.5px,#3d66fa 788.5px,#3d66fa 809.5px,#3374f8 810.5px,#3374f8 811.5px,#3d66fa 812.5px,#3d65fa 823.5px,#3374f8 824.5px,#3d65fa 825.5px,#3d65fa 826.5px,#3374f8 827.5px,#3374f8 828.5px,#3d65fa 829.5px,#3374f8 830.5px,#3d65fa 831.5px,#3d65fa 846.5px,#3374f8 847.5px,#3374f8 848.5px,#3d65fa 849.5px,#3d65fa 851.5px,#3374f8 852.5px,#3374f8 855.5px,#3d65fa 856.5px,#3d65fa 863.5px,#3374f8 864.5px,#3d65fa 865.5px,#4c4ffc 990.5px,#4c4ffc 1490.5px,#4c4ffc 1491.5px)"></i><i style="top:445px;height:1px;background:linear-gradient(90deg,#425efa 0.5px,#4658fb 500.5px,#4a52fc 1000.5px,#4c4ffc 1491.5px)"></i><i style="top:446px;height:3px;background:linear-gradient(90deg,#425efa 0.5px,#4658fb 500.5px,#4757fb 520.5px,#4df3ce 521.5px,#19cee3 522.5px,#4757fb 523.5px,#80ffb4 524.5px,#4df3ce 525.5px,#4757fb 526.5px,#4df3ce 527.5px,#19cee3 528.5px,#4df3ce 529.5px,#4757fb 530.5px,#4b52fc 1030.5px,#4c4ffc 1491.5px)"></i><i style="top:449px;height:7px;background:linear-gradient(90deg,#425efa 0.5px,#4658fb 500.5px,#4a52fc 1000.5px,#4c4ffc 1491.5px)"></i><i style="top:456px;height:2px;background:linear-gradient(90deg,#3c67fa 0.5px,#3e64fa 500.5px,#3e64fa 811.5px,#2489f5 821.5px,#2586f5 935.5px,#4756fb 946.5px,#4c4ffc 1446.5px,#4c4ffc 1491.5px)"></i><i style="top:458px;height:3px;background:linear-gradient(90deg,#3c67fa 0.5px,#425ffa 401.5px,#f00 402.5px,#f00 403.5px,#425ffa 404.5px,#435dfb 518.5px,#19cee3 519.5px,#435dfb 520.5px,#435dfb 522.5px,#80ffb4 523.5px,#80ffb4 524.5px,#b2f396 525.5px,#435dfb 526.5px,#19cee3 527.5px,#80ffb4 528.5px,#435cfb 529.5px,#4a53fb 1029.5px,#4c4ffc 1491.5px)"></i><i style="top:461px;height:3px;background:linear-gradient(90deg,#3c67fa 0.5px,#435dfb 500.5px,#4954fb 1000.5px,#4c4ffc 1491.5px)"></i><i style="top:464px;height:5px;background:linear-gradient(90deg,#4756fb 0.5px,#445cfb 500.5px,#425efa 1000.5px,#4758fb 1306.5px,#4c4ffc 1491.5px)"></i><i style="top:469px;height:4px;background:linear-gradient(90deg,#583efd 0.5px,#573ffd 500.5px,#5443fd 735.5px,#455afb 836.5px,#4160fa 1336.5px,#4062fa 1491.5px)"></i><i style="top:473px;height:4px;background:linear-gradient(90deg,#5247fc 0.5px,#5247fc 500.5px,#4f4bfc 743.5px,#445bfb 852.5px,#3f63fa 1352.5px,#3d65fa 1491.5px)"></i><i style="top:477px;height:7px;background:linear-gradient(90deg,#425efa 0.5px,#4955fb 500.5px,#4e4cfc 1000.5px,#5247fc 1491.5px)"></i><i style="top:484px;height:14px;background:linear-gradient(90deg,#3670f8 0.5px,#3a6af9 500.5px,#445cfb 802.5px,#583dfd 1233.5px,#5b39fd 1491.5px)"></i><i style="top:498px;height:9px;background:linear-gradient(90deg,#4062fa 0.5px,#4757fb 500.5px,#4e4dfc 1000.5px,#5247fc 1491.5px)"></i><i style="top:507px;height:12px;background:linear-gradient(90deg,#455afb 0.5px,#4955fb 500.5px,#5345fd 1000.5px,#5b39fd 1491.5px)"></i><i style="top:519px;height:3px;background:linear-gradient(90deg,#3d65fa 0.5px,#4758fb 500.5px,#4f4afc 1000.5px,#5443fd 1491.5px)"></i><i style="top:522px;height:3px;background:linear-gradient(90deg,#3d65fa 0.5px,#3d65fa 12.5px,#19cee3 13.5px,#3d65fa 14.5px,#3e65fa 26.5px,#4df3ce 27.5px,#3e64fa 28.5px,#4df3ce 29.5px,#3e64fa 30.5px,#3e64fa 44.5px,#19cee3 45.5px,#3e64fa 46.5px,#3f63fa 73.5px,#19cee3 74.5px,#3f63fa 75.5px,#3f63fa 84.5px,#ff964f 85.5px,#3f63fa 86.5px,#3f63fa 101.5px,#80ffb4 102.5px,#3f62fa 103.5px,#3f62fa 119.5px,#4df3ce 120.5px,#3f62fa 121.5px,#4061fa 158.5px,#00b4ec 159.5px,#4061fa 160.5px,#4061fa 162.5px,#4df3ce 163.5px,#4061fa 164.5px,#4160fa 179.5px,#19cee3 180.5px,#4160fa 181.5px,#415ffa 227.5px,#19cee3 228.5px,#425ffa 229.5px,#425ffa 231.5px,#f00 232.5px,#425ffa 233.5px,#425ffa 246.5px,#19cee3 247.5px,#425efa 248.5px,#435dfb 285.5px,#80ffb4 286.5px,#435dfb 287.5px,#435dfb 310.5px,#4df3ce 311.5px,#435dfb 312.5px,#435cfb 322.5px,#80ffb4 323.5px,#435cfb 324.5px,#455afb 400.5px,#4df3ce 401.5px,#455afb 402.5px,#455afb 405.5px,#4df3ce 406.5px,#455afb 407.5px,#4df3ce 408.5px,#455afb 409.5px,#455afb 423.5px,#4df3ce 424.5px,#455afb 425.5px,#4df3ce 426.5px,#455afb 427.5px,#00b4ec 428.5px,#455afb 429.5px,#4659fb 446.5px,#80ffb4 447.5px,#4659fb 448.5px,#4658fb 473.5px,#00b4ec 474.5px,#4658fb 475.5px,#4758fb 498.5px,#80ffb4 499.5px,#4758fb 500.5px,#4855fb 583.5px,#4df3ce 584.5px,#4855fb 585.5px,#4954fb 625.5px,#4df3ce 626.5px,#4954fb 627.5px,#4953fb 650.5px,#00b4ec 651.5px,#4953fb 652.5px,#4a53fc 675.5px,#80ffb4 676.5px,#4a53fc 677.5px,#4a52fc 690.5px,#00b4ec 691.5px,#4a52fc 692.5px,#4a52fc 709.5px,#4df3ce 710.5px,#4b52fc 711.5px,#4b52fc 718.5px,#80ffb4 719.5px,#4b52fc 720.5px,#4b51fc 727.5px,#80ffb4 728.5px,#4b51fc 729.5px,#4c4ffc 808.5px,#4df3ce 809.5px,#4c4ffc 810.5px,#4d4ffc 834.5px,#19cee3 835.5px,#4d4ffc 836.5px,#4e4dfc 898.5px,#1996f3 899.5px,#00b4ec 900.5px,#4e4dfc 901.5px,#4e4dfc 912.5px,#1996f3 913.5px,#4e4dfc 914.5px,#4e4cfc 930.5px,#00b4ec 931.5px,#4e4cfc 932.5px,#2982f6 933.5px,#4e4cfc 934.5px,#4f4bfc 978.5px,#2982f6 979.5px,#4f4bfc 980.5px,#4f4bfc 981.5px,#2982f6 982.5px,#4f4bfc 983.5px,#4f4afc 994.5px,#1996f3 995.5px,#4f4afc 996.5px,#4f4afc 997.5px,#00b4ec 998.5px,#4f4afc 999.5px,#504afc 1013.5px,#1996f3 1014.5px,#504afc 1015.5px,#504afc 1025.5px,#1996f3 1026.5px,#504afc 1027.5px,#5049fc 1041.5px,#1996f3 1042.5px,#5049fc 1043.5px,#5148fc 1073.5px,#00b4ec 1074.5px,#5148fc 1075.5px,#5148fc 1092.5px,#00b4ec 1093.5px,#5148fc 1094.5px,#1996f3 1095.5px,#5148fc 1096.5px,#5148fc 1098.5px,#00b4ec 1099.5px,#5148fc 1100.5px,#5148fc 1105.5px,#00b4ec 1106.5px,#5148fc 1107.5px,#5147fc 1115.5px,#1996f3 1116.5px,#5247fc 1117.5px,#2982f6 1118.5px,#5247fc 1119.5px,#5247fd 1146.5px,#2982f6 1147.5px,#5246fd 1148.5px,#5246fd 1157.5px,#00b4ec 1158.5px,#5246fd 1159.5px,#5246fd 1172.5px,#2982f6 1173.5px,#5246fd 1174.5px,#5443fd 1288.5px,#00b4ec 1289.5px,#5443fd 1290.5px,#5443fd 1333.5px,#2982f6 1334.5px,#5443fd 1335.5px,#5443fd 1382.5px,#00b4ec 1383.5px,#5443fd 1384.5px,#5443fd 1426.5px,#00b4ec 1427.5px,#5443fd 1428.5px,#5443fd 1436.5px,#1996f3 1437.5px,#5443fd 1438.5px,#2982f6 1439.5px,#5443fd 1440.5px,#5443fd 1446.5px,#1996f3 1447.5px,#5443fd 1448.5px,#5443fd 1451.5px,#00b4ec 1452.5px,#5443fd 1453.5px,#5443fd 1488.5px,#1996f3 1489.5px,#5443fd 1490.5px,#5443fd 1491.5px)"></i><i style="top:525px;height:12px;background:linear-gradient(90deg,#3d65fa 0.5px,#4758fb 500.5px,#4f4afc 1000.5px,#5443fd 1491.5px)"></i><i style="top:537px;height:1px;background:linear-gradient(90deg,#1996f3 0.5px,#1d92f3 169.5px,#2e7bf7 356.5px,#4a52fc 856.5px,#5247fc 1030.5px,#5443fd 1491.5px)"></i><i style="top:538px;height:3px;background:linear-gradient(90deg,#1996f3 0.5px,#1996f3 3.5px,#f00 4.5px,#1996f3 5.5px,#1996f3 14.5px,#33e3d9 15.5px,#1996f3 16.5px,#1996f3 32.5px,#f00 33.5px,#1996f3 34.5px,#1996f3 39.5px,#f00 40.5px,#1996f3 41.5px,#1996f3 53.5px,#80ffb4 54.5px,#1996f3 55.5px,#1996f3 74.5px,#f00 75.5px,#1996f3 76.5px,#1996f3 83.5px,#33e3d9 84.5px,#1996f3 85.5px,#1996f3 96.5px,#80ffb4 97.5px,#1996f3 98.5px,#1996f3 100.5px,#33e3d9 101.5px,#1996f3 102.5px,#1996f3 112.5px,#b2f396 113.5px,#b2f396 114.5px,#1996f3 115.5px,#1996f3 128.5px,#f00 129.5px,#1996f3 130.5px,#1996f3 138.5px,#f00 139.5px,#1996f3 140.5px,#1a96f3 143.5px,#f00 144.5px,#1a95f3 145.5px,#1b94f3 153.5px,#33e3d9 154.5px,#1b94f3 155.5px,#b2f396 156.5px,#1b93f3 157.5px,#2e7bf7 359.5px,#4a52fc 859.5px,#5247fc 1028.5px,#5443fd 1491.5px)"></i><i style="top:541px;height:3px;background:linear-gradient(90deg,#1996f3 0.5px,#1d92f3 169.5px,#2e7bf7 356.5px,#4a52fc 856.5px,#5247fc 1030.5px,#5443fd 1491.5px)"></i><i style="top:544px;height:10px;background:linear-gradient(90deg,#425efa 0.5px,#4a53fb 500.5px,#5149fc 1000.5px,#5443fd 1491.5px)"></i><i style="top:554px;height:3px;background:linear-gradient(90deg,#3d65fa 0.5px,#3d65fa 1.5px,#f00 2.5px,#3d65fa 3.5px,#3d65fa 6.5px,#f00 7.5px,#f00 9.5px,#3d65fa 10.5px,#f00 11.5px,#3d65fa 12.5px,#f00 13.5px,#3d65fa 14.5px,#3e65fa 18.5px,#f00 19.5px,#f00 22.5px,#3e65fa 23.5px,#3e65fa 25.5px,#f00 26.5px,#f00 28.5px,#3e65fa 29.5px,#f00 30.5px,#f00 33.5px,#3e64fa 34.5px,#f00 35.5px,#f00 37.5px,#3e64fa 38.5px,#3e64fa 40.5px,#f00 41.5px,#f00 42.5px,#3e64fa 43.5px,#3e64fa 45.5px,#f00 46.5px,#3e64fa 47.5px,#f00 48.5px,#33e3d9 49.5px,#3e64fa 50.5px,#3e64fa 51.5px,#f00 52.5px,#f00 56.5px,#3e64fa 57.5px,#33e3d9 58.5px,#33e3d9 59.5px,#3e64fa 60.5px,#f00 61.5px,#f00 62.5px,#3e64fa 63.5px,#f00 64.5px,#f00 65.5px,#3e64fa 66.5px,#3e64fa 71.5px,#33e3d9 72.5px,#33e3d9 74.5px,#f00 75.5px,#f00 77.5px,#cce385 78.5px,#cce385 79.5px,#33e3d9 80.5px,#33e3d9 83.5px,#3f63fa 84.5px,#3f63fa 87.5px,#33e3d9 88.5px,#33e3d9 89.5px,#3f63fa 90.5px,#3f63fa 91.5px,#f00 92.5px,#f00 93.5px,#3f63fa 94.5px,#3f63fa 103.5px,#f00 104.5px,#f00 106.5px,#3f63fa 107.5px,#3f63fa 109.5px,#f00 110.5px,#f00 112.5px,#3f63fa 113.5px,#3f62fa 118.5px,#33e3d9 119.5px,#33e3d9 120.5px,#3f62fa 121.5px,#3f62fa 126.5px,#f00 127.5px,#f00 129.5px,#3f62fa 130.5px,#cce385 131.5px,#cce385 132.5px,#3f62fa 133.5px,#3f62fa 134.5px,#f00 135.5px,#f00 136.5px,#3f62fa 137.5px,#4062fa 138.5px,#f00 139.5px,#f00 141.5px,#4062fa 142.5px,#f00 143.5px,#f00 145.5px,#4062fa 146.5px,#4062fa 147.5px,#f00 148.5px,#f00 149.5px,#4062fa 150.5px,#33e3d9 151.5px,#f00 152.5px,#f00 156.5px,#4061fa 157.5px,#4061fa 161.5px,#f00 162.5px,#f00 165.5px,#4061fa 166.5px,#4061fa 172.5px,#f00 173.5px,#f00 176.5px,#4061fa 177.5px,#33e3d9 178.5px,#33e3d9 180.5px,#4061fa 181.5px,#4061fa 183.5px,#f00 184.5px,#f00 186.5px,#4061fa 187.5px,#4061fa 189.5px,#f00 190.5px,#4061fa 191.5px,#4061fa 192.5px,#f00 193.5px,#f00 195.5px,#4061fa 196.5px,#f00 197.5px,#f00 199.5px,#4160fa 200.5px,#f00 201.5px,#f00 202.5px,#4160fa 203.5px,#4160fa 204.5px,#f00 205.5px,#f00 207.5px,#4160fa 208.5px,#4160fa 212.5px,#f00 213.5px,#4160fa 214.5px,#4160fa 215.5px,#f00 216.5px,#f00 218.5px,#4160fa 219.5px,#4160fa 220.5px,#f00 221.5px,#f00 222.5px,#4160fa 223.5px,#4160fa 227.5px,#f00 228.5px,#f00 230.5px,#4160fa 231.5px,#4160fa 233.5px,#f00 234.5px,#cce385 235.5px,#33e3d9 236.5px,#4160fa 237.5px,#415ffa 242.5px,#f00 243.5px,#f00 245.5px,#415ffa 246.5px,#415ffa 247.5px,#33e3d9 248.5px,#415ffa 249.5px,#f00 250.5px,#f00 253.5px,#415ffa 254.5px,#415ffa 256.5px,#33e3d9 257.5px,#33e3d9 259.5px,#425ffa 260.5px,#f00 261.5px,#425ffa 262.5px,#f00 263.5px,#f00 267.5px,#425ffa 268.5px,#f00 269.5px,#425ffa 270.5px,#425ffa 273.5px,#f00 274.5px,#f00 276.5px,#425ffa 277.5px,#f00 278.5px,#f00 279.5px,#425efa 280.5px,#f00 281.5px,#f00 284.5px,#425efa 285.5px,#425efa 290.5px,#f00 291.5px,#f00 296.5px,#425efa 297.5px,#425efa 299.5px,#f00 300.5px,#f00 301.5px,#425efa 302.5px,#425efb 313.5px,#f00 314.5px,#f00 318.5px,#435efb 319.5px,#435dfb 321.5px,#f00 322.5px,#f00 323.5px,#435dfb 324.5px,#435dfb 325.5px,#f00 326.5px,#435dfb 327.5px,#f00 328.5px,#f00 329.5px,#435dfb 330.5px,#435dfb 332.5px,#33e3d9 333.5px,#435dfb 334.5px,#f00 335.5px,#f00 337.5px,#435dfb 338.5px,#f00 339.5px,#435dfb 340.5px,#435dfb 343.5px,#f00 344.5px,#f00 347.5px,#435dfb 348.5px,#435dfb 349.5px,#f00 350.5px,#435dfb 351.5px,#f00 352.5px,#f00 357.5px,#435dfb 358.5px,#435cfb 363.5px,#f00 364.5px,#f00 366.5px,#435cfb 367.5px,#f00 368.5px,#f00 369.5px,#435cfb 370.5px,#33e3d9 371.5px,#33e3d9 372.5px,#435cfb 373.5px,#435cfb 375.5px,#f00 376.5px,#f00 377.5px,#445cfb 378.5px,#f00 379.5px,#f00 381.5px,#445cfb 382.5px,#f00 383.5px,#445cfb 384.5px,#f00 385.5px,#445cfb 386.5px,#445cfb 388.5px,#cce385 389.5px,#cce385 391.5px,#445cfb 392.5px,#445cfb 398.5px,#f00 399.5px,#f00 401.5px,#445bfb 402.5px,#445bfb 404.5px,#33e3d9 405.5px,#33e3d9 407.5px,#445bfb 408.5px,#445bfb 416.5px,#f00 417.5px,#f00 419.5px,#cce385 420.5px,#445bfb 421.5px,#f00 422.5px,#f00 423.5px,#445bfb 424.5px,#445bfb 425.5px,#f00 426.5px,#f00 428.5px,#cce385 429.5px,#cce385 430.5px,#445bfb 431.5px,#f00 432.5px,#f00 433.5px,#445bfb 434.5px,#455bfb 441.5px,#f00 442.5px,#f00 443.5px,#455afb 444.5px,#33e3d9 445.5px,#f00 446.5px,#455afb 447.5px,#f00 448.5px,#f00 449.5px,#455afb 450.5px,#455afb 455.5px,#f00 456.5px,#f00 458.5px,#455afb 459.5px,#f00 460.5px,#f00 462.5px,#455afb 463.5px,#455afb 464.5px,#f00 465.5px,#455afb 466.5px,#455afb 468.5px,#f00 469.5px,#455afb 470.5px,#455afb 474.5px,#f00 475.5px,#f00 479.5px,#455afb 480.5px,#f00 481.5px,#f00 483.5px,#4559fb 484.5px,#4559fb 485.5px,#33e3d9 486.5px,#4559fb 487.5px,#f00 488.5px,#f00 489.5px,#4559fb 490.5px,#4559fb 491.5px,#cce385 492.5px,#cce385 493.5px,#4559fb 494.5px,#4559fb 495.5px,#f00 496.5px,#f00 499.5px,#4659fb 500.5px,#f00 501.5px,#4659fb 502.5px,#f00 503.5px,#f00 504.5px,#4659fb 505.5px,#f00 506.5px,#4659fb 507.5px,#4659fb 508.5px,#f00 509.5px,#4659fb 510.5px,#4659fb 511.5px,#f00 512.5px,#f00 513.5px,#4659fb 514.5px,#f00 515.5px,#f00 517.5px,#4659fb 518.5px,#4659fb 521.5px,#f00 522.5px,#f00 523.5px,#4658fb 524.5px,#4658fb 526.5px,#cce385 527.5px,#cce385 529.5px,#4658fb 530.5px,#4658fb 532.5px,#f00 533.5px,#f00 538.5px,#4658fb 539.5px,#4658fb 541.5px,#f00 542.5px,#f00 544.5px,#4658fb 545.5px,#f00 546.5px,#4658fb 547.5px,#4658fb 549.5px,#cce385 550.5px,#cce385 552.5px,#4658fb 553.5px,#4658fb 554.5px,#f00 555.5px,#f00 558.5px,#4758fb 559.5px,#f00 560.5px,#f00 562.5px,#cce385 563.5px,#cce385 565.5px,#4757fb 566.5px,#f00 567.5px,#f00 571.5px,#4757fb 572.5px,#19cee3 573.5px,#4757fb 574.5px,#33e3d9 575.5px,#33e3d9 576.5px,#4757fb 577.5px,#4757fb 580.5px,#f00 581.5px,#f00 582.5px,#cce385 583.5px,#cce385 584.5px,#4757fb 585.5px,#4757fb 586.5px,#cce385 587.5px,#cce385 588.5px,#f00 589.5px,#f00 590.5px,#4757fb 591.5px,#f00 592.5px,#f00 593.5px,#4757fb 594.5px,#19cee3 595.5px,#19cee3 596.5px,#4757fb 597.5px,#4757fb 599.5px,#f00 600.5px,#4757fb 601.5px,#4756fb 606.5px,#f00 607.5px,#f00 608.5px,#4756fb 609.5px,#4756fb 610.5px,#cce385 611.5px,#cce385 612.5px,#4756fb 613.5px,#f00 614.5px,#f00 615.5px,#4856fb 616.5px,#4856fb 620.5px,#f00 621.5px,#f00 622.5px,#4856fb 623.5px,#f00 624.5px,#f00 625.5px,#4856fb 626.5px,#f00 627.5px,#4856fb 628.5px,#4856fb 633.5px,#f00 634.5px,#f00 637.5px,#4856fb 638.5px,#4856fb 639.5px,#f00 640.5px,#19cee3 641.5px,#4856fb 642.5px,#4856fb 644.5px,#f00 645.5px,#4855fb 646.5px,#4855fb 647.5px,#f00 648.5px,#4855fb 649.5px,#4855fb 659.5px,#f00 660.5px,#f00 661.5px,#4855fb 662.5px,#4855fb 668.5px,#f00 669.5px,#4855fb 670.5px,#4855fb 671.5px,#cce385 672.5px,#cce385 673.5px,#4855fb 674.5px,#cce385 675.5px,#cce385 676.5px,#33e3d9 677.5px,#33e3d9 678.5px,#cce385 679.5px,#4955fb 680.5px,#4955fb 681.5px,#f00 682.5px,#f00 683.5px,#4955fb 684.5px,#33e3d9 685.5px,#4955fb 686.5px,#4954fb 688.5px,#33e3d9 689.5px,#4954fb 690.5px,#cce385 691.5px,#cce385 692.5px,#4954fb 693.5px,#4954fb 695.5px,#cce385 696.5px,#cce385 697.5px,#4954fb 698.5px,#4954fb 699.5px,#cce385 700.5px,#4954fb 701.5px,#4954fb 702.5px,#cce385 703.5px,#4954fb 704.5px,#4954fb 705.5px,#f00 706.5px,#4954fb 707.5px,#4954fb 708.5px,#f00 709.5px,#f00 710.5px,#4954fb 711.5px,#4954fb 714.5px,#19cee3 715.5px,#4954fb 716.5px,#f00 717.5px,#f00 718.5px,#4954fb 719.5px,#cce385 720.5px,#4954fb 721.5px,#19cee3 722.5px,#19cee3 723.5px,#f00 724.5px,#33e3d9 725.5px,#4954fb 726.5px,#f00 727.5px,#f00 728.5px,#4954fb 729.5px,#4953fb 732.5px,#f00 733.5px,#f00 734.5px,#4953fb 735.5px,#f00 736.5px,#4953fb 737.5px,#4a53fb 742.5px,#cce385 743.5px,#cce385 744.5px,#4a53fb 745.5px,#4a53fb 747.5px,#f00 748.5px,#f00 749.5px,#4a53fb 750.5px,#4a53fc 754.5px,#19cee3 755.5px,#19cee3 756.5px,#4a53fc 757.5px,#19cee3 758.5px,#4a53fc 759.5px,#4a53fc 762.5px,#f00 763.5px,#4a53fc 764.5px,#19cee3 765.5px,#19cee3 766.5px,#4a53fc 767.5px,#4a53fc 771.5px,#f00 772.5px,#4a53fc 773.5px,#4a53fc 774.5px,#19cee3 775.5px,#4a52fc 776.5px,#4a52fc 777.5px,#f00 778.5px,#33e3d9 779.5px,#33e3d9 781.5px,#4a52fc 782.5px,#19cee3 783.5px,#19cee3 784.5px,#4a52fc 785.5px,#4a52fc 789.5px,#f00 790.5px,#4a52fc 791.5px,#cce385 792.5px,#4a52fc 793.5px,#4a52fc 796.5px,#33e3d9 797.5px,#f00 798.5px,#4a52fc 799.5px,#4a52fc 801.5px,#cce385 802.5px,#cce385 803.5px,#4a52fc 804.5px,#4a52fc 805.5px,#f00 806.5px,#f00 807.5px,#4b52fc 808.5px,#4b52fc 809.5px,#cce385 810.5px,#4b52fc 811.5px,#f00 812.5px,#f00 813.5px,#4b52fc 814.5px,#cce385 815.5px,#4b52fc 816.5px,#f00 817.5px,#f00 818.5px,#4b51fc 819.5px,#4b51fc 820.5px,#f00 821.5px,#f00 822.5px,#4b51fc 823.5px,#4b51fc 827.5px,#19cee3 828.5px,#4b51fc 829.5px,#4b51fc 830.5px,#19cee3 831.5px,#19cee3 832.5px,#4b51fc 833.5px,#4b51fc 842.5px,#f00 843.5px,#f00 844.5px,#4b51fc 845.5px,#4b51fc 847.5px,#f00 848.5px,#4b51fc 849.5px,#4b51fc 850.5px,#f00 851.5px,#f00 852.5px,#4b51fc 853.5px,#4b51fc 858.5px,#33e3d9 859.5px,#33e3d9 860.5px,#4b51fc 861.5px,#4b50fc 865.5px,#19cee3 866.5px,#19cee3 867.5px,#4b50fc 868.5px,#4b50fc 869.5px,#f00 870.5px,#f00 871.5px,#4c50fc 872.5px,#f00 873.5px,#4c50fc 874.5px,#f00 875.5px,#f00 876.5px,#33e3d9 877.5px,#4c50fc 878.5px,#4c50fc 879.5px,#f00 880.5px,#4c50fc 881.5px,#4c50fc 882.5px,#f00 883.5px,#4c50fc 884.5px,#4c50fc 885.5px,#cce385 886.5px,#4c50fc 887.5px,#4c50fc 896.5px,#19cee3 897.5px,#19cee3 898.5px,#4c50fc 899.5px,#4c50fc 903.5px,#33e3d9 904.5px,#33e3d9 905.5px,#4c50fc 906.5px,#4c4ffc 907.5px,#f00 908.5px,#4c4ffc 909.5px,#4c4ffc 910.5px,#f00 911.5px,#f00 912.5px,#4c4ffc 913.5px,#4c4ffc 914.5px,#f00 915.5px,#4c4ffc 916.5px,#4c4ffc 918.5px,#19cee3 919.5px,#19cee3 920.5px,#4c4ffc 921.5px,#f00 922.5px,#f00 925.5px,#4c4ffc 926.5px,#4c4ffc 927.5px,#f00 928.5px,#f00 929.5px,#4c4ffc 930.5px,#f00 931.5px,#4c4ffc 932.5px,#4c4ffc 937.5px,#33e3d9 938.5px,#33e3d9 939.5px,#f00 940.5px,#4d4ffc 941.5px,#4d4ffc 942.5px,#f00 943.5px,#f00 944.5px,#33e3d9 945.5px,#33e3d9 946.5px,#4d4ffc 947.5px,#f00 948.5px,#4d4ffc 949.5px,#f00 950.5px,#f00 951.5px,#4d4efc 952.5px,#4d4efc 957.5px,#f00 958.5px,#f00 959.5px,#4d4efc 960.5px,#4d4efc 963.5px,#f00 964.5px,#f00 965.5px,#4d4efc 966.5px,#4d4efc 969.5px,#f00 970.5px,#f00 971.5px,#4d4efc 972.5px,#f00 973.5px,#4d4efc 974.5px,#4d4efc 975.5px,#f00 976.5px,#f00 977.5px,#4d4efc 978.5px,#f00 979.5px,#4d4efc 980.5px,#4d4efc 983.5px,#f00 984.5px,#f00 986.5px,#4d4efc 987.5px,#4d4efc 992.5px,#33e3d9 993.5px,#33e3d9 994.5px,#4d4dfc 995.5px,#4d4dfc 1000.5px,#f00 1001.5px,#f00 1002.5px,#4e4dfc 1003.5px,#4e4dfc 1004.5px,#f00 1005.5px,#4e4dfc 1006.5px,#4e4dfc 1011.5px,#f00 1012.5px,#19cee3 1013.5px,#4e4dfc 1014.5px,#f00 1015.5px,#4e4dfc 1016.5px,#4e4dfc 1017.5px,#f00 1018.5px,#4e4dfc 1019.5px,#4e4dfc 1026.5px,#f00 1027.5px,#f00 1028.5px,#4e4dfc 1029.5px,#4e4dfc 1030.5px,#f00 1031.5px,#4e4dfc 1032.5px,#4e4dfc 1034.5px,#33e3d9 1035.5px,#4e4dfc 1036.5px,#4e4cfc 1044.5px,#19cee3 1045.5px,#19cee3 1046.5px,#4e4cfc 1047.5px,#4e4cfc 1049.5px,#f00 1050.5px,#f00 1051.5px,#4e4cfc 1052.5px,#4e4cfc 1053.5px,#f00 1054.5px,#4e4cfc 1055.5px,#f00 1056.5px,#f00 1058.5px,#4e4cfc 1059.5px,#f00 1060.5px,#33e3d9 1061.5px,#4e4cfc 1062.5px,#4e4cfc 1066.5px,#cce385 1067.5px,#4f4cfc 1068.5px,#4f4cfc 1069.5px,#f00 1070.5px,#4f4cfc 1071.5px,#4f4cfc 1074.5px,#f00 1075.5px,#4f4cfc 1076.5px,#4f4cfc 1077.5px,#f00 1078.5px,#4f4cfc 1079.5px,#4f4cfc 1080.5px,#f00 1081.5px,#f00 1082.5px,#4f4bfc 1083.5px,#cce385 1084.5px,#cce385 1085.5px,#4f4bfc 1086.5px,#19cee3 1087.5px,#4f4bfc 1088.5px,#f00 1089.5px,#f00 1090.5px,#4f4bfc 1091.5px,#4f4bfc 1095.5px,#f00 1096.5px,#4f4bfc 1097.5px,#4f4bfc 1102.5px,#cce385 1103.5px,#19cee3 1104.5px,#19cee3 1105.5px,#4f4bfc 1106.5px,#4f4bfc 1109.5px,#19cee3 1110.5px,#19cee3 1111.5px,#4f4bfc 1112.5px,#f00 1113.5px,#f00 1115.5px,#33e3d9 1116.5px,#4f4bfc 1117.5px,#4f4bfc 1118.5px,#19cee3 1119.5px,#19cee3 1120.5px,#4f4bfc 1121.5px,#4f4bfc 1122.5px,#f00 1123.5px,#f00 1124.5px,#4f4afc 1125.5px,#4f4afc 1129.5px,#cce385 1130.5px,#cce385 1131.5px,#4f4afc 1132.5px,#19cee3 1133.5px,#504afc 1134.5px,#19cee3 1135.5px,#504afc 1136.5px,#504afc 1138.5px,#f00 1139.5px,#f00 1140.5px,#504afc 1141.5px,#504afc 1147.5px,#33e3d9 1148.5px,#33e3d9 1149.5px,#504afc 1150.5px,#33e3d9 1151.5px,#504afc 1152.5px,#504afc 1154.5px,#19cee3 1155.5px,#19cee3 1156.5px,#504afc 1157.5px,#f00 1158.5px,#504afc 1159.5px,#504afc 1166.5px,#f00 1167.5px,#f00 1168.5px,#5049fc 1169.5px,#5049fc 1170.5px,#33e3d9 1171.5px,#5049fc 1172.5px,#5049fc 1173.5px,#f00 1174.5px,#f00 1175.5px,#5049fc 1176.5px,#5049fc 1177.5px,#f00 1178.5px,#f00 1179.5px,#5049fc 1180.5px,#f00 1181.5px,#f00 1182.5px,#5049fc 1183.5px,#5049fc 1185.5px,#f00 1186.5px,#f00 1187.5px,#5049fc 1188.5px,#5049fc 1190.5px,#33e3d9 1191.5px,#5049fc 1192.5px,#f00 1193.5px,#f00 1194.5px,#5049fc 1195.5px,#5149fc 1207.5px,#19cee3 1208.5px,#19cee3 1209.5px,#5149fc 1210.5px,#f00 1211.5px,#5148fc 1212.5px,#5148fc 1213.5px,#f00 1214.5px,#5148fc 1215.5px,#f00 1216.5px,#5148fc 1217.5px,#cce385 1218.5px,#cce385 1219.5px,#5148fc 1220.5px,#f00 1221.5px,#f00 1222.5px,#5148fc 1223.5px,#5148fc 1224.5px,#19cee3 1225.5px,#19cee3 1226.5px,#f00 1227.5px,#f00 1228.5px,#5148fc 1229.5px,#5148fc 1230.5px,#f00 1231.5px,#5148fc 1232.5px,#5148fc 1233.5px,#f00 1234.5px,#f00 1235.5px,#5148fc 1236.5px,#5148fc 1238.5px,#33e3d9 1239.5px,#5148fc 1240.5px,#5148fc 1241.5px,#cce385 1242.5px,#cce385 1243.5px,#5148fc 1244.5px,#5148fc 1245.5px,#cce385 1246.5px,#cce385 1247.5px,#5148fc 1248.5px,#5148fc 1249.5px,#f00 1250.5px,#5148fc 1251.5px,#f00 1252.5px,#5148fc 1253.5px,#5147fc 1256.5px,#cce385 1257.5px,#5147fc 1258.5px,#5147fc 1261.5px,#f00 1262.5px,#5147fc 1263.5px,#f00 1264.5px,#cce385 1265.5px,#cce385 1266.5px,#5247fc 1267.5px,#5247fc 1271.5px,#33e3d9 1272.5px,#33e3d9 1273.5px,#f00 1274.5px,#5247fc 1275.5px,#5247fc 1277.5px,#33e3d9 1278.5px,#33e3d9 1279.5px,#5247fc 1280.5px,#5247fc 1283.5px,#cce385 1284.5px,#cce385 1285.5px,#5247fc 1286.5px,#5247fc 1287.5px,#19cee3 1288.5px,#19cee3 1289.5px,#5247fc 1290.5px,#5247fc 1291.5px,#f00 1292.5px,#f00 1293.5px,#5247fc 1294.5px,#5247fc 1298.5px,#19cee3 1299.5px,#19cee3 1300.5px,#5247fc 1301.5px,#5247fc 1303.5px,#cce385 1304.5px,#f00 1305.5px,#f00 1306.5px,#5247fc 1307.5px,#5247fc 1309.5px,#f00 1310.5px,#5247fc 1311.5px,#5247fc 1315.5px,#f00 1316.5px,#f00 1317.5px,#5247fc 1318.5px,#5247fc 1321.5px,#f00 1322.5px,#f00 1323.5px,#5247fc 1324.5px,#5247fc 1327.5px,#33e3d9 1328.5px,#5247fc 1329.5px,#5247fc 1338.5px,#cce385 1339.5px,#cce385 1340.5px,#5247fc 1341.5px,#5247fc 1342.5px,#33e3d9 1343.5px,#5247fc 1344.5px,#5247fc 1346.5px,#cce385 1347.5px,#cce385 1348.5px,#5247fc 1349.5px,#5247fc 1350.5px,#33e3d9 1351.5px,#5247fc 1352.5px,#5247fc 1355.5px,#f00 1356.5px,#cce385 1357.5px,#5247fc 1358.5px,#5247fc 1361.5px,#f00 1362.5px,#f00 1363.5px,#5247fc 1364.5px,#33e3d9 1365.5px,#33e3d9 1366.5px,#5247fc 1367.5px,#f00 1368.5px,#f00 1370.5px,#5247fc 1371.5px,#5247fc 1375.5px,#f00 1376.5px,#f00 1377.5px,#5247fc 1378.5px,#5247fc 1379.5px,#33e3d9 1380.5px,#5247fc 1381.5px,#5247fc 1383.5px,#f00 1384.5px,#5247fc 1385.5px,#f00 1386.5px,#f00 1387.5px,#5247fc 1388.5px,#5247fc 1389.5px,#19cee3 1390.5px,#f00 1391.5px,#f00 1392.5px,#5247fc 1393.5px,#19cee3 1394.5px,#19cee3 1395.5px,#5247fc 1396.5px,#f00 1397.5px,#f00 1399.5px,#5247fc 1400.5px,#f00 1401.5px,#5247fc 1402.5px,#5247fc 1407.5px,#f00 1408.5px,#5247fc 1409.5px,#5247fc 1414.5px,#19cee3 1415.5px,#5247fc 1416.5px,#f00 1417.5px,#5247fc 1418.5px,#f00 1419.5px,#5247fc 1420.5px,#5247fc 1423.5px,#f00 1424.5px,#f00 1425.5px,#5247fc 1426.5px,#f00 1427.5px,#5247fc 1428.5px,#5247fc 1433.5px,#cce385 1434.5px,#cce385 1435.5px,#f00 1436.5px,#5247fc 1437.5px,#5247fc 1445.5px,#19cee3 1446.5px,#19cee3 1447.5px,#5247fc 1448.5px,#5247fc 1450.5px,#19cee3 1451.5px,#19cee3 1452.5px,#5247fc 1453.5px,#5247fc 1456.5px,#f00 1457.5px,#f00 1458.5px,#5247fc 1459.5px,#f00 1460.5px,#f00 1461.5px,#5247fc 1462.5px,#5247fc 1467.5px,#f00 1468.5px,#f00 1469.5px,#5247fc 1470.5px,#f00 1471.5px,#f00 1472.5px,#5247fc 1473.5px,#f00 1474.5px,#f00 1475.5px,#cce385 1476.5px,#cce385 1477.5px,#5247fc 1478.5px,#5247fc 1481.5px,#cce385 1482.5px,#5247fc 1483.5px,#5247fc 1484.5px,#f00 1485.5px,#5247fc 1486.5px,#5247fc 1488.5px,#f00 1489.5px,#5247fc 1490.5px,#5247fc 1491.5px)"></i><i style="top:557px;height:3px;background:linear-gradient(90deg,#2489f5 0.5px,#2c7ef7 495.5px,#376ef9 613.5px,#4d4efc 1113.5px,#4f4bfc 1491.5px)"></i><i style="top:560px;height:3px;background:linear-gradient(90deg,#2489f5 0.5px,#2488f5 37.5px,#33e3d9 38.5px,#2488f5 39.5px,#2587f5 139.5px,#33e3d9 140.5px,#2587f5 141.5px,#2586f5 158.5px,#33e3d9 159.5px,#2586f5 160.5px,#2686f5 182.5px,#33e3d9 183.5px,#2686f5 184.5px,#2685f5 227.5px,#66fcc2 228.5px,#2685f5 229.5px,#2685f5 235.5px,#33e3d9 236.5px,#2685f5 237.5px,#2685f5 256.5px,#66fcc2 257.5px,#2685f5 258.5px,#2785f5 267.5px,#33e3d9 268.5px,#2785f6 269.5px,#2784f6 289.5px,#19cee3 290.5px,#2784f6 291.5px,#2882f6 429.5px,#19cee3 430.5px,#2882f6 431.5px,#2982f6 443.5px,#66fcc2 444.5px,#2982f6 445.5px,#2b7ff6 486.5px,#33e3d9 487.5px,#2b7ff6 488.5px,#2d7df7 501.5px,#33e3d9 502.5px,#2d7cf7 503.5px,#2f79f7 521.5px,#19cee3 522.5px,#2f79f7 523.5px,#3078f7 529.5px,#19cee3 530.5px,#3177f7 531.5px,#3276f8 539.5px,#66fcc2 540.5px,#3275f8 541.5px,#3570f8 569.5px,#19cee3 570.5px,#3670f8 571.5px,#3670f8 574.5px,#19cee3 575.5px,#3670f8 576.5px,#376ff9 594.5px,#66fcc2 595.5px,#19cee3 596.5px,#376ff9 597.5px,#386df9 623.5px,#66fcc2 624.5px,#386df9 625.5px,#386cf9 636.5px,#19cee3 637.5px,#386cf9 638.5px,#396bf9 658.5px,#66fcc2 659.5px,#396bf9 660.5px,#33e3d9 661.5px,#396bf9 662.5px,#3a6af9 680.5px,#19cee3 681.5px,#3a69f9 682.5px,#3b68f9 699.5px,#33e3d9 700.5px,#3b68f9 701.5px,#3d66fa 739.5px,#19cee3 740.5px,#3d66fa 741.5px,#19cee3 742.5px,#3d66fa 743.5px,#4d4efc 1145.5px,#4f4bfc 1491.5px)"></i><i style="top:563px;height:2px;background:linear-gradient(90deg,#2489f5 0.5px,#2c7ef7 495.5px,#376ef9 613.5px,#4d4efc 1113.5px,#4f4bfc 1491.5px)"></i><i style="top:565px;height:3px;background:linear-gradient(90deg,#f00 0.5px,#f00 3.5px,#1996f3 4.5px,#1996f3 5.5px,#f00 6.5px,#f00 11.5px,#b2f396 12.5px,#f00 13.5px,#f00 21.5px,#1996f3 22.5px,#f00 23.5px,#f00 37.5px,#1996f3 38.5px,#19cee3 39.5px,#f00 40.5px,#f00 44.5px,#1996f3 45.5px,#f00 46.5px,#b2f396 47.5px,#f00 48.5px,#f00 51.5px,#1996f3 52.5px,#f00 53.5px,#1996f3 54.5px,#f00 55.5px,#f00 63.5px,#b2f396 64.5px,#f00 65.5px,#f00 68.5px,#1996f3 69.5px,#f00 70.5px,#f00 74.5px,#1996f3 75.5px,#f00 76.5px,#f00 90.5px,#1996f3 91.5px,#1996f3 92.5px,#f00 93.5px,#f00 98.5px,#1996f3 99.5px,#1996f3 100.5px,#f00 101.5px,#f00 103.5px,#19cee3 104.5px,#19cee3 105.5px,#f00 106.5px,#f00 117.5px,#b2f396 118.5px,#f00 119.5px,#f00 121.5px,#1996f3 122.5px,#f00 123.5px,#f00 127.5px,#1996f3 128.5px,#f00 129.5px,#f00 134.5px,#1996f3 135.5px,#1996f3 136.5px,#f00 137.5px,#f00 138.5px,#19cee3 139.5px,#f00 140.5px,#1996f3 141.5px,#1996f3 142.5px,#f00 143.5px,#f00 146.5px,#19cee3 147.5px,#19cee3 148.5px,#f00 149.5px,#f00 153.5px,#b2f396 154.5px,#f00 155.5px,#f00 193.5px,#19cee3 194.5px,#19cee3 195.5px,#f00 196.5px,#f00 204.5px,#1996f3 205.5px,#f00 206.5px,#f00 213.5px,#b2f396 214.5px,#b2f396 215.5px,#f00 216.5px,#1996f3 217.5px,#f00 218.5px,#f00 240.5px,#19cee3 241.5px,#19cee3 242.5px,#f00 243.5px,#f00 251.5px,#b2f396 252.5px,#b2f396 253.5px,#f00 254.5px,#f00 255.5px,#1996f3 256.5px,#f00 257.5px,#1996f3 258.5px,#f00 259.5px,#f00 265.5px,#19cee3 266.5px,#f00 267.5px,#f00 276.5px,#b2f396 277.5px,#f00 278.5px,#f00 283.5px,#b2f396 284.5px,#f00 285.5px,#f00 297.5px,#1996f3 298.5px,#f00 299.5px,#f00 301.5px,#1996f3 302.5px,#1996f3 303.5px,#f00 304.5px,#f00 313.5px,#1996f3 314.5px,#1996f3 315.5px,#f00 316.5px,#f00 342.5px,#19cee3 343.5px,#19cee3 344.5px,#f00 345.5px,#f00 349.5px,#b2f396 350.5px,#b2f396 351.5px,#f00 352.5px,#f00 379.5px,#1996f3 380.5px,#f00 381.5px,#f00 383.5px,#1996f3 384.5px,#f00 385.5px,#f00 403.5px,#1996f3 404.5px,#1996f3 405.5px,#f00 406.5px,#f00 408.5px,#1996f3 409.5px,#1996f3 410.5px,#f00 411.5px,#f00 413.5px,#1996f3 414.5px,#f00 415.5px,#f00 426.5px,#19cee3 427.5px,#f00 428.5px,#f00 452.5px,#1996f3 453.5px,#1996f3 454.5px,#f00 455.5px,#f00 459.5px,#b2f396 460.5px,#b2f396 461.5px,#f00 462.5px,#f00 479.5px,#1996f3 480.5px,#19cee3 481.5px,#f00 482.5px,#f00 489.5px,#1996f3 490.5px,#1996f3 491.5px,#f00 492.5px,#f00 512.5px,#19cee3 513.5px,#f00 514.5px,#f00 518.5px,#b2f396 519.5px,#b2f396 520.5px,#f00 521.5px,#f00 528.5px,#1996f3 529.5px,#f00 530.5px,#f00 544.5px,#19cee3 545.5px,#f00 546.5px,#f00 564.5px,#19cee3 565.5px,#19cee3 566.5px,#f00 567.5px,#f00 570.5px,#33e3d9 571.5px,#33e3d9 572.5px,#f00 573.5px,#f00 574.5px,#425efa 575.5px,#f00 576.5px,#80ffb4 577.5px,#f00 578.5px,#f00 580.5px,#33e3d9 581.5px,#33e3d9 582.5px,#f00 583.5px,#f00 587.5px,#3374f8 588.5px,#3374f8 589.5px,#f00 590.5px,#f00 592.5px,#b2f396 593.5px,#b2f396 594.5px,#f00 595.5px,#f00 596.5px,#3374f8 597.5px,#f00 598.5px,#33e3d9 599.5px,#f00 600.5px,#80ffb4 601.5px,#80ffb4 602.5px,#f00 603.5px,#f00 605.5px,#3374f8 606.5px,#f00 607.5px,#f00 613.5px,#b2f396 614.5px,#b2f396 615.5px,#f00 616.5px,#f00 617.5px,#3374f8 618.5px,#3374f8 619.5px,#80ffb4 620.5px,#425efa 621.5px,#f00 622.5px,#f00 623.5px,#3374f8 624.5px,#f00 625.5px,#f00 630.5px,#33e3d9 631.5px,#33e3d9 632.5px,#f00 633.5px,#f00 635.5px,#3374f8 636.5px,#f00 637.5px,#f00 639.5px,#3374f8 640.5px,#3374f8 641.5px,#f00 642.5px,#f00 645.5px,#425efa 646.5px,#425efa 647.5px,#f00 648.5px,#f00 650.5px,#3374f8 651.5px,#3374f8 652.5px,#f00 653.5px,#f00 655.5px,#425efa 656.5px,#425efa 657.5px,#f00 658.5px,#f00 665.5px,#3374f8 666.5px,#f00 667.5px,#f00 674.5px,#33e3d9 675.5px,#f00 676.5px,#f00 679.5px,#3374f8 680.5px,#f00 681.5px,#f00 684.5px,#3374f8 685.5px,#f00 686.5px,#f00 687.5px,#80ffb4 688.5px,#80ffb4 689.5px,#f00 690.5px,#80ffb4 691.5px,#f00 692.5px,#f00 694.5px,#425efa 695.5px,#f00 696.5px,#3374f8 697.5px,#f00 698.5px,#f00 702.5px,#3374f8 703.5px,#3374f8 704.5px,#f00 705.5px,#f00 708.5px,#b2f396 709.5px,#f00 710.5px,#f00 711.5px,#80ffb4 712.5px,#3374f8 713.5px,#3374f8 714.5px,#80ffb4 715.5px,#80ffb4 716.5px,#3374f8 717.5px,#3374f8 718.5px,#80ffb4 719.5px,#425efa 720.5px,#f00 721.5px,#f00 722.5px,#80ffb4 723.5px,#f00 724.5px,#f00 726.5px,#3374f8 727.5px,#3374f8 728.5px,#f00 729.5px,#3374f8 730.5px,#f00 731.5px,#f00 735.5px,#3374f8 736.5px,#f00 737.5px,#f00 741.5px,#33e3d9 742.5px,#33e3d9 743.5px,#f00 744.5px,#425efa 745.5px,#f00 746.5px,#f00 748.5px,#425efa 749.5px,#f00 750.5px,#f00 756.5px,#b2f396 757.5px,#f00 758.5px,#3374f8 759.5px,#f00 760.5px,#f00 761.5px,#3374f8 762.5px,#3374f8 763.5px,#80ffb4 764.5px,#f00 765.5px,#f00 766.5px,#3374f8 767.5px,#80ffb4 768.5px,#f00 769.5px,#f00 770.5px,#b2f396 771.5px,#f00 772.5px,#f00 775.5px,#425efa 776.5px,#425efa 777.5px,#f00 778.5px,#33e3d9 779.5px,#33e3d9 780.5px,#f00 781.5px,#33e3d9 782.5px,#f00 783.5px,#f00 790.5px,#425efa 791.5px,#425efa 792.5px,#f00 793.5px,#f00 794.5px,#80ffb4 795.5px,#f00 796.5px,#f00 797.5px,#b2f396 798.5px,#b2f396 799.5px,#f00 800.5px,#3374f8 801.5px,#f00 802.5px,#f00 803.5px,#b2f396 804.5px,#b2f396 805.5px,#f00 806.5px,#f00 808.5px,#3374f8 809.5px,#f00 810.5px,#f00 817.5px,#425efa 818.5px,#425efa 819.5px,#80ffb4 820.5px,#f00 821.5px,#f00 824.5px,#33e3d9 825.5px,#33e3d9 826.5px,#f00 827.5px,#f00 829.5px,#80ffb4 830.5px,#f00 831.5px,#425efa 832.5px,#f00 833.5px,#f00 835.5px,#b2f396 836.5px,#b2f396 837.5px,#f00 838.5px,#f00 842.5px,#33e3d9 843.5px,#33e3d9 844.5px,#f00 845.5px,#f00 847.5px,#33e3d9 848.5px,#33e3d9 849.5px,#f00 850.5px,#f00 852.5px,#80ffb4 853.5px,#80ffb4 854.5px,#f00 855.5px,#f00 856.5px,#3374f8 857.5px,#3374f8 858.5px,#f00 859.5px,#80ffb4 860.5px,#f00 861.5px,#f00 863.5px,#425efa 864.5px,#425efa 865.5px,#f00 866.5px,#f00 868.5px,#80ffb4 869.5px,#80ffb4 870.5px,#f00 871.5px,#f00 872.5px,#80ffb4 873.5px,#f00 874.5px,#80ffb4 875.5px,#f00 876.5px,#f00 886.5px,#80ffb4 887.5px,#80ffb4 888.5px,#f00 889.5px,#f00 891.5px,#3374f8 892.5px,#f00 893.5px,#f00 894.5px,#80ffb4 895.5px,#80ffb4 896.5px,#f00 897.5px,#80ffb4 898.5px,#f00 899.5px,#f00 901.5px,#425efa 902.5px,#f00 903.5px,#b2f396 904.5px,#f00 905.5px,#33e3d9 906.5px,#33e3d9 907.5px,#f00 908.5px,#f00 911.5px,#3374f8 912.5px,#f00 913.5px,#f00 916.5px,#3374f8 917.5px,#f00 918.5px,#b2f396 919.5px,#f00 920.5px,#f00 922.5px,#425efa 923.5px,#425efa 924.5px,#f00 925.5px,#f00 933.5px,#425efa 934.5px,#425efa 935.5px,#f00 936.5px,#f00 938.5px,#80ffb4 939.5px,#80ffb4 940.5px,#f00 941.5px,#f00 944.5px,#b2f396 945.5px,#b2f396 946.5px,#f00 947.5px,#f00 949.5px,#425efa 950.5px,#f00 951.5px,#f00 953.5px,#425efa 954.5px,#425efa 955.5px,#f00 956.5px,#f00 963.5px,#b2f396 964.5px,#b2f396 965.5px,#f00 966.5px,#f00 967.5px,#b2f396 968.5px,#b2f396 969.5px,#f00 970.5px,#f00 971.5px,#80ffb4 972.5px,#80ffb4 973.5px,#f00 974.5px,#f00 981.5px,#80ffb4 982.5px,#80ffb4 983.5px,#f00 984.5px,#f00 986.5px,#80ffb4 987.5px,#3374f8 988.5px,#3374f8 989.5px,#f00 990.5px,#f00 993.5px,#425efa 994.5px,#425efa 995.5px,#80ffb4 996.5px,#f00 997.5px,#f00 1000.5px,#b2f396 1001.5px,#b2f396 1002.5px,#f00 1003.5px,#3374f8 1004.5px,#3374f8 1005.5px,#f00 1006.5px,#f00 1011.5px,#3374f8 1012.5px,#3374f8 1013.5px,#f00 1014.5px,#3374f8 1015.5px,#f00 1016.5px,#3374f8 1017.5px,#f00 1018.5px,#f00 1019.5px,#425efa 1020.5px,#425efa 1021.5px,#80ffb4 1022.5px,#f00 1023.5px,#f00 1024.5px,#b2f396 1025.5px,#b2f396 1026.5px,#f00 1027.5px,#f00 1028.5px,#80ffb4 1029.5px,#3374f8 1030.5px,#425efa 1031.5px,#f00 1032.5px,#f00 1037.5px,#3374f8 1038.5px,#3374f8 1039.5px,#f00 1040.5px,#f00 1045.5px,#33e3d9 1046.5px,#33e3d9 1047.5px,#f00 1048.5px,#b2f396 1049.5px,#b2f396 1050.5px,#3374f8 1051.5px,#3374f8 1052.5px,#f00 1053.5px,#f00 1055.5px,#b2f396 1056.5px,#b2f396 1057.5px,#3374f8 1058.5px,#3374f8 1059.5px,#f00 1060.5px,#3374f8 1061.5px,#3374f8 1062.5px,#f00 1063.5px,#b2f396 1064.5px,#b2f396 1065.5px,#3374f8 1066.5px,#425efa 1067.5px,#425efa 1068.5px,#f00 1069.5px,#425efa 1070.5px,#33e3d9 1071.5px,#425efa 1072.5px,#f00 1073.5px,#f00 1075.5px,#3374f8 1076.5px,#3374f8 1079.5px,#f00 1080.5px,#f00 1081.5px,#80ffb4 1082.5px,#f00 1083.5px,#f00 1084.5px,#33e3d9 1085.5px,#f00 1086.5px,#f00 1089.5px,#b2f396 1090.5px,#b2f396 1091.5px,#f00 1092.5px,#f00 1093.5px,#33e3d9 1094.5px,#b2f396 1095.5px,#b2f396 1097.5px,#f00 1098.5px,#33e3d9 1099.5px,#33e3d9 1100.5px,#f00 1101.5px,#f00 1102.5px,#80ffb4 1103.5px,#f00 1104.5px,#f00 1105.5px,#3374f8 1106.5px,#3374f8 1107.5px,#f00 1108.5px,#80ffb4 1109.5px,#f00 1110.5px,#f00 1115.5px,#80ffb4 1116.5px,#80ffb4 1117.5px,#f00 1118.5px,#f00 1124.5px,#3374f8 1125.5px,#3374f8 1126.5px,#80ffb4 1127.5px,#80ffb4 1128.5px,#f00 1129.5px,#3374f8 1130.5px,#b2f396 1131.5px,#b2f396 1132.5px,#3374f8 1133.5px,#f00 1134.5px,#80ffb4 1135.5px,#80ffb4 1136.5px,#f00 1137.5px,#f00 1138.5px,#425efa 1139.5px,#f00 1140.5px,#f00 1141.5px,#425efa 1142.5px,#425efa 1143.5px,#f00 1144.5px,#f00 1145.5px,#b2f396 1146.5px,#b2f396 1147.5px,#f00 1148.5px,#f00 1152.5px,#425efa 1153.5px,#425efa 1154.5px,#f00 1155.5px,#f00 1160.5px,#425efa 1161.5px,#425efa 1162.5px,#f00 1163.5px,#425efa 1164.5px,#425efa 1165.5px,#3374f8 1166.5px,#f00 1167.5px,#b2f396 1168.5px,#f00 1169.5px,#425efa 1170.5px,#425efa 1171.5px,#f00 1172.5px,#3374f8 1173.5px,#b2f396 1174.5px,#f00 1175.5px,#f00 1176.5px,#b2f396 1177.5px,#b2f396 1178.5px,#f00 1179.5px,#f00 1181.5px,#80ffb4 1182.5px,#80ffb4 1183.5px,#33e3d9 1184.5px,#f00 1185.5px,#3374f8 1186.5px,#3374f8 1187.5px,#f00 1188.5px,#3374f8 1189.5px,#f00 1190.5px,#f00 1191.5px,#80ffb4 1192.5px,#80ffb4 1193.5px,#f00 1194.5px,#425efa 1195.5px,#425efa 1196.5px,#f00 1197.5px,#3374f8 1198.5px,#3374f8 1199.5px,#f00 1200.5px,#425efa 1201.5px,#425efa 1202.5px,#80ffb4 1203.5px,#80ffb4 1204.5px,#f00 1205.5px,#f00 1208.5px,#425efa 1209.5px,#f00 1210.5px,#f00 1213.5px,#33e3d9 1214.5px,#33e3d9 1215.5px,#f00 1216.5px,#b2f396 1217.5px,#f00 1218.5px,#3374f8 1219.5px,#f00 1220.5px,#425efa 1221.5px,#f00 1222.5px,#f00 1223.5px,#33e3d9 1224.5px,#33e3d9 1225.5px,#f00 1226.5px,#f00 1227.5px,#b2f396 1228.5px,#33e3d9 1229.5px,#33e3d9 1230.5px,#f00 1231.5px,#3374f8 1232.5px,#3374f8 1233.5px,#f00 1234.5px,#80ffb4 1235.5px,#f00 1236.5px,#f00 1239.5px,#3374f8 1240.5px,#f00 1241.5px,#f00 1244.5px,#80ffb4 1245.5px,#b2f396 1246.5px,#f00 1247.5px,#f00 1248.5px,#425efa 1249.5px,#80ffb4 1250.5px,#f00 1251.5px,#3374f8 1252.5px,#3374f8 1253.5px,#f00 1254.5px,#33e3d9 1255.5px,#425efa 1256.5px,#f00 1257.5px,#b2f396 1258.5px,#f00 1259.5px,#33e3d9 1260.5px,#f00 1261.5px,#3374f8 1262.5px,#3374f8 1263.5px,#f00 1264.5px,#3374f8 1265.5px,#33e3d9 1266.5px,#3374f8 1267.5px,#f00 1268.5px,#f00 1272.5px,#b2f396 1273.5px,#b2f396 1274.5px,#f00 1275.5px,#f00 1278.5px,#3374f8 1279.5px,#3374f8 1282.5px,#f00 1283.5px,#3374f8 1284.5px,#f00 1285.5px,#f00 1288.5px,#33e3d9 1289.5px,#33e3d9 1290.5px,#f00 1291.5px,#b2f396 1292.5px,#f00 1293.5px,#f00 1296.5px,#b2f396 1297.5px,#b2f396 1298.5px,#33e3d9 1299.5px,#33e3d9 1300.5px,#f00 1301.5px,#f00 1302.5px,#425efa 1303.5px,#425efa 1304.5px,#f00 1305.5px,#f00 1306.5px,#80ffb4 1307.5px,#80ffb4 1308.5px,#f00 1309.5px,#f00 1311.5px,#3374f8 1312.5px,#3374f8 1313.5px,#f00 1314.5px,#3374f8 1315.5px,#3374f8 1316.5px,#f00 1317.5px,#425efa 1318.5px,#425efa 1319.5px,#f00 1320.5px,#3374f8 1321.5px,#f00 1322.5px,#f00 1323.5px,#3374f8 1324.5px,#3374f8 1327.5px,#f00 1328.5px,#f00 1329.5px,#3374f8 1330.5px,#f00 1331.5px,#f00 1333.5px,#425efa 1334.5px,#425efa 1335.5px,#f00 1336.5px,#f00 1337.5px,#b2f396 1338.5px,#f00 1339.5px,#f00 1343.5px,#425efa 1344.5px,#425efa 1345.5px,#f00 1346.5px,#f00 1349.5px,#b2f396 1350.5px,#b2f396 1351.5px,#425efa 1352.5px,#425efa 1353.5px,#f00 1354.5px,#f00 1360.5px,#3374f8 1361.5px,#3374f8 1362.5px,#f00 1363.5px,#f00 1365.5px,#425efa 1366.5px,#f00 1367.5px,#33e3d9 1368.5px,#b2f396 1369.5px,#b2f396 1370.5px,#f00 1371.5px,#3374f8 1372.5px,#3374f8 1373.5px,#f00 1374.5px,#3374f8 1375.5px,#3374f8 1376.5px,#f00 1377.5px,#f00 1378.5px,#b2f396 1379.5px,#425efa 1380.5px,#425efa 1381.5px,#f00 1382.5px,#f00 1383.5px,#80ffb4 1384.5px,#80ffb4 1385.5px,#f00 1386.5px,#b2f396 1387.5px,#425efa 1388.5px,#3374f8 1389.5px,#3374f8 1390.5px,#f00 1391.5px,#f00 1392.5px,#b2f396 1393.5px,#f00 1394.5px,#f00 1396.5px,#3374f8 1397.5px,#f00 1398.5px,#f00 1400.5px,#3374f8 1401.5px,#3374f8 1402.5px,#f00 1403.5px,#3374f8 1404.5px,#f00 1405.5px,#f00 1407.5px,#425efa 1408.5px,#425efa 1409.5px,#f00 1410.5px,#3374f8 1411.5px,#3374f8 1412.5px,#f00 1413.5px,#f00 1416.5px,#425efa 1417.5px,#425efa 1418.5px,#f00 1419.5px,#80ffb4 1420.5px,#33e3d9 1421.5px,#f00 1422.5px,#425efa 1423.5px,#425efa 1424.5px,#f00 1425.5px,#f00 1428.5px,#80ffb4 1429.5px,#80ffb4 1430.5px,#f00 1431.5px,#f00 1436.5px,#b2f396 1437.5px,#b2f396 1438.5px,#f00 1439.5px,#f00 1440.5px,#33e3d9 1441.5px,#f00 1442.5px,#f00 1444.5px,#425efa 1445.5px,#425efa 1447.5px,#f00 1448.5px,#3374f8 1449.5px,#f00 1450.5px,#f00 1451.5px,#3374f8 1452.5px,#33e3d9 1453.5px,#80ffb4 1454.5px,#f00 1455.5px,#f00 1456.5px,#3374f8 1457.5px,#3374f8 1458.5px,#f00 1459.5px,#f00 1466.5px,#80ffb4 1467.5px,#80ffb4 1468.5px,#f00 1469.5px,#425efa 1470.5px,#425efa 1471.5px,#f00 1472.5px,#f00 1477.5px,#3374f8 1478.5px,#f00 1479.5px,#f00 1480.5px,#425efa 1481.5px,#f00 1482.5px,#f00 1485.5px,#3374f8 1486.5px,#f00 1487.5px,#f00 1488.5px,#3374f8 1489.5px,#3374f8 1490.5px,#f00 1491.5px)"></i><i style="top:568px;height:2px;background:linear-gradient(90deg,#1f8ff4 0.5px,#2c7ef7 495.5px,#376ef9 613.5px,#4d4efc 1113.5px,#5247fc 1491.5px)"></i><i style="top:570px;height:3px;background:linear-gradient(90deg,#f00 0.5px,#f00 1.5px,#1f8ff4 2.5px,#1f8ff4 3.5px,#19cee3 4.5px,#19cee3 5.5px,#1f8ff4 6.5px,#33e3d9 7.5px,#1f8ff4 8.5px,#f00 9.5px,#1f8ff4 10.5px,#1f8ff4 11.5px,#f00 12.5px,#1f8ff4 13.5px,#33e3d9 14.5px,#33e3d9 15.5px,#1f8ff4 16.5px,#1f8ff4 23.5px,#b2f396 24.5px,#b2f396 25.5px,#1f8ff4 26.5px,#f00 27.5px,#33e3d9 28.5px,#1f8ff4 29.5px,#1f8ef4 31.5px,#f00 32.5px,#33e3d9 33.5px,#33e3d9 34.5px,#f00 35.5px,#66fcc2 36.5px,#66fcc2 37.5px,#1f8ef4 38.5px,#1f8ef4 40.5px,#f00 41.5px,#208ef4 42.5px,#66fcc2 43.5px,#66fcc2 44.5px,#208ef4 45.5px,#208ef4 54.5px,#f00 55.5px,#f00 56.5px,#208ef4 57.5px,#19cee3 58.5px,#19cee3 59.5px,#f00 60.5px,#f00 61.5px,#208ef4 62.5px,#19cee3 63.5px,#19cee3 64.5px,#208df4 65.5px,#66fcc2 66.5px,#66fcc2 67.5px,#208df4 68.5px,#208df4 75.5px,#f00 76.5px,#f00 79.5px,#208df4 80.5px,#33e3d9 81.5px,#f00 82.5px,#208df4 83.5px,#f00 84.5px,#33e3d9 85.5px,#33e3d9 86.5px,#f00 87.5px,#218df4 88.5px,#b2f396 89.5px,#218df4 90.5px,#218df4 93.5px,#19cee3 94.5px,#19cee3 95.5px,#218df4 96.5px,#33e3d9 97.5px,#33e3d9 98.5px,#b2f396 99.5px,#218cf4 100.5px,#218cf4 101.5px,#f00 102.5px,#f00 103.5px,#218cf4 104.5px,#218cf4 105.5px,#b2f396 106.5px,#b2f396 110.5px,#66fcc2 111.5px,#66fcc2 112.5px,#218cf4 113.5px,#218cf4 114.5px,#66fcc2 115.5px,#66fcc2 116.5px,#218cf4 117.5px,#b2f396 118.5px,#f00 119.5px,#218cf4 120.5px,#f00 121.5px,#f00 122.5px,#218cf4 123.5px,#218cf4 124.5px,#f00 125.5px,#f00 126.5px,#218cf4 127.5px,#19cee3 128.5px,#19cee3 129.5px,#218cf4 130.5px,#218cf4 132.5px,#f00 133.5px,#f00 134.5px,#228bf4 135.5px,#228bf4 136.5px,#19cee3 137.5px,#19cee3 138.5px,#228bf4 139.5px,#228bf4 142.5px,#b2f396 143.5px,#b2f396 144.5px,#228bf4 145.5px,#228bf4 147.5px,#19cee3 148.5px,#19cee3 149.5px,#228bf4 150.5px,#228bf4 155.5px,#33e3d9 156.5px,#33e3d9 157.5px,#228bf5 158.5px,#33e3d9 159.5px,#33e3d9 160.5px,#228bf5 161.5px,#228bf5 162.5px,#19cee3 163.5px,#228bf5 164.5px,#228bf5 165.5px,#19cee3 166.5px,#228bf5 167.5px,#228bf5 169.5px,#f00 170.5px,#f00 172.5px,#228af5 173.5px,#33e3d9 174.5px,#33e3d9 175.5px,#f00 176.5px,#f00 178.5px,#33e3d9 179.5px,#b2f396 180.5px,#238af5 181.5px,#f00 182.5px,#f00 183.5px,#19cee3 184.5px,#19cee3 185.5px,#f00 186.5px,#238af5 187.5px,#238af5 189.5px,#f00 190.5px,#f00 191.5px,#33e3d9 192.5px,#33e3d9 194.5px,#238af5 195.5px,#238af5 196.5px,#66fcc2 197.5px,#66fcc2 198.5px,#f00 199.5px,#f00 200.5px,#238af5 201.5px,#2389f5 211.5px,#f00 212.5px,#f00 213.5px,#2389f5 214.5px,#33e3d9 215.5px,#33e3d9 218.5px,#2389f5 219.5px,#2389f5 221.5px,#19cee3 222.5px,#19cee3 223.5px,#2389f5 224.5px,#f00 225.5px,#f00 226.5px,#2489f5 227.5px,#2489f5 228.5px,#19cee3 229.5px,#19cee3 230.5px,#2489f5 231.5px,#66fcc2 232.5px,#2489f5 233.5px,#f00 234.5px,#2489f5 235.5px,#2489f5 236.5px,#33e3d9 237.5px,#33e3d9 238.5px,#2489f5 239.5px,#66fcc2 240.5px,#66fcc2 243.5px,#b2f396 244.5px,#2488f5 245.5px,#2488f5 246.5px,#f00 247.5px,#2488f5 248.5px,#33e3d9 249.5px,#33e3d9 250.5px,#2488f5 251.5px,#2488f5 252.5px,#f00 253.5px,#2488f5 254.5px,#2488f5 255.5px,#f00 256.5px,#2488f5 257.5px,#2488f5 258.5px,#b2f396 259.5px,#b2f396 262.5px,#2488f5 263.5px,#2488f5 270.5px,#f00 271.5px,#f00 272.5px,#19cee3 273.5px,#2588f5 274.5px,#2587f5 275.5px,#b2f396 276.5px,#2587f5 277.5px,#2587f5 280.5px,#33e3d9 281.5px,#19cee3 282.5px,#19cee3 283.5px,#2587f5 284.5px,#2587f5 294.5px,#b2f396 295.5px,#b2f396 296.5px,#2587f5 297.5px,#2587f5 301.5px,#f00 302.5px,#f00 303.5px,#2587f5 304.5px,#33e3d9 305.5px,#33e3d9 306.5px,#2587f5 307.5px,#2587f5 308.5px,#b2f396 309.5px,#2586f5 310.5px,#2586f5 312.5px,#19cee3 313.5px,#19cee3 314.5px,#66fcc2 315.5px,#2586f5 316.5px,#19cee3 317.5px,#19cee3 318.5px,#2686f5 319.5px,#b2f396 320.5px,#2686f5 321.5px,#66fcc2 322.5px,#66fcc2 324.5px,#b2f396 325.5px,#b2f396 326.5px,#2686f5 327.5px,#2686f5 329.5px,#19cee3 330.5px,#66fcc2 331.5px,#66fcc2 332.5px,#2686f5 333.5px,#2686f5 334.5px,#66fcc2 335.5px,#66fcc2 336.5px,#2686f5 337.5px,#2686f5 340.5px,#b2f396 341.5px,#b2f396 342.5px,#2686f5 343.5px,#f00 344.5px,#f00 345.5px,#2685f5 346.5px,#2685f5 347.5px,#f00 348.5px,#f00 349.5px,#2685f5 350.5px,#33e3d9 351.5px,#33e3d9 352.5px,#b2f396 353.5px,#b2f396 354.5px,#f00 355.5px,#f00 356.5px,#b2f396 357.5px,#b2f396 358.5px,#2685f5 359.5px,#2685f5 364.5px,#f00 365.5px,#f00 366.5px,#2785f5 367.5px,#2785f5 368.5px,#19cee3 369.5px,#2785f6 370.5px,#2785f6 376.5px,#66fcc2 377.5px,#66fcc2 378.5px,#2784f6 379.5px,#f00 380.5px,#f00 381.5px,#2784f6 382.5px,#2784f6 384.5px,#66fcc2 385.5px,#66fcc2 386.5px,#2784f6 387.5px,#f00 388.5px,#f00 390.5px,#2784f6 391.5px,#2784f6 393.5px,#66fcc2 394.5px,#66fcc2 395.5px,#2784f6 396.5px,#2784f6 401.5px,#b2f396 402.5px,#f00 403.5px,#2784f6 404.5px,#f00 405.5px,#f00 406.5px,#19cee3 407.5px,#f00 408.5px,#f00 409.5px,#19cee3 410.5px,#f00 411.5px,#f00 412.5px,#2883f6 413.5px,#f00 414.5px,#2883f6 415.5px,#2883f6 416.5px,#f00 417.5px,#2883f6 418.5px,#2883f6 419.5px,#f00 420.5px,#f00 421.5px,#2883f6 422.5px,#2883f6 425.5px,#f00 426.5px,#f00 427.5px,#2883f6 428.5px,#2883f6 430.5px,#f00 431.5px,#2883f6 432.5px,#2883f6 437.5px,#19cee3 438.5px,#19cee3 440.5px,#2883f6 441.5px,#2883f6 445.5px,#33e3d9 446.5px,#33e3d9 447.5px,#2882f6 448.5px,#2882f6 452.5px,#19cee3 453.5px,#19cee3 454.5px,#2882f6 455.5px,#19cee3 456.5px,#2982f6 457.5px,#2982f6 459.5px,#b2f396 460.5px,#b2f396 461.5px,#2982f6 462.5px,#b2f396 463.5px,#2982f6 464.5px,#2982f6 465.5px,#66fcc2 466.5px,#66fcc2 467.5px,#2982f6 468.5px,#f00 469.5px,#2982f6 470.5px,#2a81f6 477.5px,#19cee3 478.5px,#19cee3 479.5px,#2a80f6 480.5px,#2a80f6 483.5px,#33e3d9 484.5px,#19cee3 485.5px,#2b7ff6 486.5px,#66fcc2 487.5px,#2b7ff6 488.5px,#2b7ef6 490.5px,#33e3d9 491.5px,#33e3d9 492.5px,#2c7ef7 493.5px,#2c7ef7 494.5px,#b2f396 495.5px,#b2f396 496.5px,#19cee3 497.5px,#b2f396 498.5px,#b2f396 499.5px,#2d7df7 500.5px,#2d7df7 501.5px,#19cee3 502.5px,#2d7cf7 503.5px,#66fcc2 504.5px,#2d7cf7 505.5px,#2d7bf7 507.5px,#f00 508.5px,#2e7bf7 509.5px,#66fcc2 510.5px,#66fcc2 511.5px,#2e7bf7 512.5px,#f00 513.5px,#f00 514.5px,#2e7af7 515.5px,#f00 516.5px,#f00 518.5px,#2f79f7 519.5px,#2f79f7 520.5px,#f00 521.5px,#f00 522.5px,#2f79f7 523.5px,#3078f7 524.5px,#f00 525.5px,#f00 526.5px,#3078f7 527.5px,#3078f7 529.5px,#f00 530.5px,#f00 532.5px,#b2f396 533.5px,#f00 534.5px,#f00 535.5px,#b2f396 536.5px,#b2f396 538.5px,#3276f8 539.5px,#f00 540.5px,#3275f8 541.5px,#f00 542.5px,#3275f8 543.5px,#3275f8 544.5px,#b2f396 545.5px,#b2f396 546.5px,#3374f8 547.5px,#3374f8 550.5px,#66fcc2 551.5px,#66fcc2 552.5px,#3373f8 553.5px,#66fcc2 554.5px,#66fcc2 555.5px,#3473f8 556.5px,#f00 557.5px,#3472f8 558.5px,#3472f8 559.5px,#b2f396 560.5px,#b2f396 561.5px,#3472f8 562.5px,#66fcc2 563.5px,#66fcc2 564.5px,#3571f8 565.5px,#3571f8 566.5px,#f00 567.5px,#3571f8 568.5px,#b2f396 569.5px,#66fcc2 570.5px,#3670f8 571.5px,#3670f8 572.5px,#f00 573.5px,#3670f8 574.5px,#3670f8 580.5px,#b2f396 581.5px,#b2f396 582.5px,#366ff9 583.5px,#f00 584.5px,#366ff9 585.5px,#366ff9 590.5px,#f00 591.5px,#366ff9 592.5px,#376ff9 594.5px,#f00 595.5px,#376ff9 596.5px,#f00 597.5px,#376ff9 598.5px,#376ef9 599.5px,#b2f396 600.5px,#b2f396 601.5px,#376ef9 602.5px,#f00 603.5px,#f00 604.5px,#376ef9 605.5px,#376ef9 608.5px,#b2f396 609.5px,#376ef9 610.5px,#376ef9 611.5px,#f00 612.5px,#376ef9 613.5px,#f00 614.5px,#f00 615.5px,#376df9 616.5px,#386cf9 635.5px,#19cee3 636.5px,#19cee3 637.5px,#386cf9 638.5px,#396cf9 643.5px,#19cee3 644.5px,#396cf9 645.5px,#3b69f9 692.5px,#f00 693.5px,#f00 694.5px,#3b69f9 695.5px,#3b68f9 709.5px,#f00 710.5px,#3c68f9 711.5px,#3c67f9 717.5px,#19cee3 718.5px,#3c67f9 719.5px,#f00 720.5px,#3c67fa 721.5px,#3d66fa 743.5px,#19cee3 744.5px,#19cee3 745.5px,#3d66fa 746.5px,#3d65fa 747.5px,#19cee3 748.5px,#3d65fa 749.5px,#b2f396 750.5px,#b2f396 751.5px,#3d65fa 752.5px,#3e64fa 768.5px,#19cee3 769.5px,#19cee3 770.5px,#3e64fa 771.5px,#f00 772.5px,#3e64fa 773.5px,#3e64fa 774.5px,#f00 775.5px,#f00 776.5px,#3e64fa 777.5px,#3f63fa 790.5px,#b2f396 791.5px,#b2f396 792.5px,#3f63fa 793.5px,#3f62fa 796.5px,#f00 797.5px,#3f62fa 798.5px,#b2f396 799.5px,#b2f396 800.5px,#3f62fa 801.5px,#19cee3 802.5px,#19cee3 803.5px,#f00 804.5px,#4062fa 805.5px,#4062fa 807.5px,#19cee3 808.5px,#4062fa 809.5px,#4061fa 817.5px,#f00 818.5px,#f00 819.5px,#19cee3 820.5px,#4061fa 821.5px,#4061fa 826.5px,#19cee3 827.5px,#4061fa 828.5px,#4160fa 836.5px,#f00 837.5px,#4160fa 838.5px,#4160fa 841.5px,#f00 842.5px,#f00 843.5px,#4160fa 844.5px,#415ffa 851.5px,#f00 852.5px,#f00 853.5px,#425ffa 854.5px,#425ffa 856.5px,#f00 857.5px,#425ffa 858.5px,#425efa 863.5px,#f00 864.5px,#425efa 865.5px,#f00 866.5px,#f00 867.5px,#425efa 868.5px,#435dfb 885.5px,#f00 886.5px,#f00 887.5px,#435dfb 888.5px,#445cfb 895.5px,#f00 896.5px,#f00 897.5px,#445cfb 898.5px,#445cfb 899.5px,#f00 900.5px,#f00 901.5px,#445cfb 902.5px,#445bfb 911.5px,#f00 912.5px,#445bfb 913.5px,#19cee3 914.5px,#455bfb 915.5px,#455afb 918.5px,#b2f396 919.5px,#455afb 920.5px,#455afb 925.5px,#19cee3 926.5px,#19cee3 927.5px,#455afb 928.5px,#19cee3 929.5px,#4559fb 930.5px,#19cee3 931.5px,#4559fb 932.5px,#b2f396 933.5px,#b2f396 934.5px,#4659fb 935.5px,#f00 936.5px,#f00 937.5px,#4659fb 938.5px,#4659fb 939.5px,#b2f396 940.5px,#b2f396 941.5px,#4659fb 942.5px,#4757fb 959.5px,#f00 960.5px,#f00 961.5px,#4757fb 962.5px,#4856fb 973.5px,#19cee3 974.5px,#19cee3 975.5px,#4856fb 976.5px,#f00 977.5px,#4856fb 978.5px,#4a52fc 1030.5px,#f00 1031.5px,#f00 1032.5px,#4b52fc 1033.5px,#f00 1034.5px,#f00 1035.5px,#4b51fc 1036.5px,#4b51fc 1039.5px,#f00 1040.5px,#f00 1041.5px,#4b51fc 1042.5px,#f00 1043.5px,#4b51fc 1044.5px,#4b50fc 1049.5px,#b2f396 1050.5px,#b2f396 1051.5px,#4c50fc 1052.5px,#4c4ffc 1068.5px,#f00 1069.5px,#f00 1070.5px,#4d4ffc 1071.5px,#4d4ffc 1073.5px,#19cee3 1074.5px,#19cee3 1075.5px,#4d4ffc 1076.5px,#4d4ffc 1082.5px,#b2f396 1083.5px,#b2f396 1084.5px,#4d4ffc 1085.5px,#4d4efc 1090.5px,#f00 1091.5px,#4d4efc 1092.5px,#4d4efc 1115.5px,#b2f396 1116.5px,#b2f396 1117.5px,#4d4efc 1118.5px,#4d4efc 1120.5px,#f00 1121.5px,#4d4efc 1122.5px,#4d4efc 1127.5px,#19cee3 1128.5px,#19cee3 1129.5px,#4d4efc 1130.5px,#4d4efc 1133.5px,#f00 1134.5px,#4d4efc 1135.5px,#4d4efc 1140.5px,#19cee3 1141.5px,#19cee3 1142.5px,#4d4dfc 1143.5px,#4e4dfc 1155.5px,#b2f396 1156.5px,#b2f396 1157.5px,#4e4dfc 1158.5px,#4e4dfc 1159.5px,#19cee3 1160.5px,#19cee3 1161.5px,#4e4dfc 1162.5px,#19cee3 1163.5px,#4e4dfc 1164.5px,#4e4dfc 1169.5px,#19cee3 1170.5px,#4e4dfc 1171.5px,#4e4dfc 1174.5px,#b2f396 1175.5px,#4e4dfc 1176.5px,#4e4dfc 1181.5px,#b2f396 1182.5px,#b2f396 1183.5px,#4e4dfc 1184.5px,#4e4dfc 1187.5px,#19cee3 1188.5px,#4e4dfc 1189.5px,#4e4dfc 1190.5px,#f00 1191.5px,#f00 1192.5px,#4e4dfc 1193.5px,#4e4cfc 1201.5px,#f00 1202.5px,#f00 1203.5px,#4e4cfc 1204.5px,#4e4cfc 1215.5px,#19cee3 1216.5px,#19cee3 1217.5px,#4e4cfc 1218.5px,#b2f396 1219.5px,#4e4cfc 1220.5px,#4e4cfc 1231.5px,#19cee3 1232.5px,#19cee3 1233.5px,#4e4cfc 1234.5px,#4f4cfc 1244.5px,#19cee3 1245.5px,#4f4cfc 1246.5px,#4f4cfc 1247.5px,#f00 1248.5px,#f00 1249.5px,#4f4cfc 1250.5px,#4f4bfc 1253.5px,#b2f396 1254.5px,#b2f396 1255.5px,#4f4bfc 1256.5px,#19cee3 1257.5px,#4f4bfc 1258.5px,#4f4bfc 1260.5px,#f00 1261.5px,#4f4bfc 1262.5px,#4f4bfc 1269.5px,#19cee3 1270.5px,#f00 1271.5px,#4f4bfc 1272.5px,#4f4bfc 1279.5px,#f00 1280.5px,#4f4bfc 1281.5px,#4f4bfc 1287.5px,#b2f396 1288.5px,#4f4bfc 1289.5px,#4f4bfc 1301.5px,#f00 1302.5px,#f00 1305.5px,#4f4bfc 1306.5px,#4f4afc 1314.5px,#19cee3 1315.5px,#4f4afc 1316.5px,#504afc 1319.5px,#f00 1320.5px,#f00 1321.5px,#504afc 1322.5px,#504afc 1324.5px,#19cee3 1325.5px,#19cee3 1326.5px,#504afc 1327.5px,#504afc 1336.5px,#19cee3 1337.5px,#504afc 1338.5px,#5049fc 1374.5px,#f00 1375.5px,#f00 1376.5px,#19cee3 1377.5px,#19cee3 1378.5px,#5049fc 1379.5px,#5049fc 1392.5px,#19cee3 1393.5px,#5049fc 1394.5px,#5049fc 1398.5px,#f00 1399.5px,#5149fc 1400.5px,#5149fc 1406.5px,#b2f396 1407.5px,#b2f396 1408.5px,#5149fc 1409.5px,#5149fc 1411.5px,#f00 1412.5px,#f00 1413.5px,#5149fc 1414.5px,#5149fc 1416.5px,#f00 1417.5px,#19cee3 1418.5px,#19cee3 1420.5px,#5148fc 1421.5px,#5148fc 1440.5px,#f00 1441.5px,#f00 1442.5px,#5148fc 1443.5px,#5148fc 1446.5px,#f00 1447.5px,#5148fc 1448.5px,#5148fc 1455.5px,#f00 1456.5px,#5148fc 1457.5px,#5148fc 1461.5px,#19cee3 1462.5px,#19cee3 1463.5px,#5148fc 1464.5px,#19cee3 1465.5px,#19cee3 1467.5px,#5148fc 1468.5px,#5148fc 1469.5px,#f00 1470.5px,#f00 1471.5px,#5147fc 1472.5px,#5147fc 1473.5px,#19cee3 1474.5px,#5147fc 1475.5px,#5147fc 1481.5px,#19cee3 1482.5px,#5247fc 1483.5px,#5247fc 1487.5px,#f00 1488.5px,#f00 1489.5px,#5247fc 1490.5px,#5247fc 1491.5px)"></i><i style="top:573px;height:13px;background:linear-gradient(90deg,#1996f3 0.5px,#0aa9ee 208.5px,#01b5eb 298.5px,#02b7eb 476.5px,#10a2f0 512.5px,#2685f5 564.5px,#3d66fa 699.5px,#5443fd 1183.5px,#5443fd 1491.5px)"></i><i style="top:586px;height:5px;background:linear-gradient(90deg,#2982f6 0.5px,#169af2 399.5px,#1898f2 482.5px,#366ff9 582.5px,#4f4bfc 975.5px,#5444fd 1475.5px,#5443fd 1491.5px)"></i><i style="top:591px;height:3px;background:linear-gradient(90deg,#4d4ffc 0.5px,#4e4dfc 55.5px,#1898f2 56.5px,#2adddd 57.5px,#17cce4 58.5px,#59f8c9 59.5px,#60fac5 60.5px,#72febc 61.5px,#96fda8 62.5px,#a0faa1 63.5px,#5efac6 64.5px,#4ff4cd 65.5px,#19cde4 66.5px,#3670f8 67.5px,#4e4dfc 68.5px,#4e4cfc 94.5px,#376ff9 95.5px,#36e5d8 96.5px,#3dead5 97.5px,#82ffb3 98.5px,#aef498 99.5px,#ff934d 100.5px,#ff1f0f 101.5px,#ff2714 102.5px,#f00 103.5px,#f00 107.5px,#ff1d0f 108.5px,#f00 109.5px,#ffa055 110.5px,#d0e083 111.5px,#aaf69b 112.5px,#52f5cc 113.5px,#20d5e1 114.5px,#4954fb 115.5px,#4f4bfc 117.5px,#4f4bfc 148.5px,#2c7ef7 149.5px,#2ee0db 150.5px,#48f0d1 151.5px,#a0faa1 152.5px,#5efac6 153.5px,#89ffaf 154.5px,#5af8c8 155.5px,#38e7d7 156.5px,#169af2 157.5px,#4f4afc 158.5px,#504afc 178.5px,#2389f5 179.5px,#0cc1e8 180.5px,#57f7c9 181.5px,#71febc 182.5px,#b7f093 183.5px,#ff974f 184.5px,#ff391d 185.5px,#ff2e17 186.5px,#f00 187.5px,#f00 191.5px,#ff0603 192.5px,#ff190c 193.5px,#f00 194.5px,#ffad5d 195.5px,#e9cb71 196.5px,#8bfeae 197.5px,#42edd3 198.5px,#18cde4 199.5px,#2685f5 200.5px,#5049fc 201.5px,#5247fd 304.5px,#02b7eb 305.5px,#2ddfdc 306.5px,#12c7e6 307.5px,#69fcc1 308.5px,#57f7c9 309.5px,#79ffb8 310.5px,#74febb 311.5px,#48f0d0 312.5px,#09bee9 313.5px,#2982f6 314.5px,#5246fd 315.5px,#5346fd 344.5px,#3e64fa 345.5px,#1798f2 346.5px,#0ec3e7 347.5px,#30e1da 348.5px,#5ffac5 349.5px,#abf69a 350.5px,#99fca6 351.5px,#cae486 352.5px,#ffb361 353.5px,#ff3118 354.5px,#f00 355.5px,#ff1e0f 356.5px,#ff2d17 357.5px,#f00 358.5px,#ff2312 359.5px,#ff2111 360.5px,#ff361b 361.5px,#f00 363.5px,#ff0704 365.5px,#f00 367.5px,#f00 368.5px,#ff180c 369.5px,#ff160b 371.5px,#e9cb71 372.5px,#b7f093 373.5px,#a5f89e 374.5px,#80ffb4 375.5px,#77ffb9 376.5px,#2fe1db 377.5px,#39e7d7 378.5px,#2685f5 379.5px,#2489f5 380.5px,#5345fd 381.5px,#5444fd 423.5px,#07acee 424.5px,#1d92f3 425.5px,#16cbe5 426.5px,#5ffac6 427.5px,#4ff4cd 428.5px,#b9ef92 429.5px,#c9e587 431.5px,#ff904c 432.5px,#ff6936 433.5px,#ff4e28 434.5px,#ff7b3f 435.5px,#ff8143 437.5px,#ff763c 438.5px,#ff5f31 439.5px,#ff6232 440.5px,#ff391d 441.5px,#ff5a2e 442.5px,#ff4824 443.5px,#ff8445 444.5px,#ff9850 445.5px,#ff974f 446.5px,#f0c46c 447.5px,#b1f397 449.5px,#5af8c8 450.5px,#35e5d9 451.5px,#44eed2 452.5px,#169bf2 453.5px,#02b3ec 454.5px,#5444fd 455.5px,#5641fd 596.5px,#159cf1 597.5px,#04b9ea 598.5px,#57f7c9 599.5px,#54f6cb 600.5px,#73febb 601.5px,#c8e688 602.5px,#eaca71 603.5px,#f00 604.5px,#ff0904 605.5px,#ff361b 606.5px,#f00 608.5px,#f00 617.5px,#ebc970 618.5px,#dad87c 619.5px,#73febb 620.5px,#6dfdbf 621.5px,#4df3ce 622.5px,#0bc0e8 623.5px,#10a1f0 624.5px,#5640fd 625.5px,#573ffd 679.5px,#01b3ec 680.5px,#01b5eb 681.5px,#1a95f3 682.5px,#24d8df 683.5px,#0dc2e8 684.5px,#41ecd4 685.5px,#15cae5 686.5px,#58f8c9 687.5px,#54f6cb 688.5px,#6dfdbe 689.5px,#74feba 690.5px,#64fbc3 691.5px,#72febc 692.5px,#44eed2 693.5px,#57f7c9 694.5px,#52f5cc 695.5px,#32e2da 696.5px,#4cf2cf 697.5px,#15cae5 698.5px,#3be9d6 699.5px,#06aded 700.5px,#2bdddd 701.5px,#17cce4 702.5px,#08abee 703.5px,#2a80f6 704.5px,#02b6eb 705.5px,#573ffd 706.5px,#593cfd 842.5px,#425ffa 843.5px,#1cd1e2 844.5px,#4af2cf 845.5px,#6bfdbf 846.5px,#86ffb0 848.5px,#a8f79d 849.5px,#ff9e54 850.5px,#ffaa5b 851.5px,#ff2613 852.5px,#ff190c 854.5px,#ff5d2f 855.5px,#ff6131 856.5px,#ff5028 857.5px,#ff1a0d 858.5px,#ff1309 859.5px,#ff6031 860.5px,#ff7d41 861.5px,#ff8746 862.5px,#ffa759 863.5px,#f9ba66 864.5px,#aef499 865.5px,#b9ef92 866.5px,#94fda9 867.5px,#59f8c8 868.5px,#4ef3ce 869.5px,#1ed2e2 870.5px,#1c93f3 871.5px,#593cfd 872.5px,#5a3bfd 928.5px,#2c7ef7 929.5px,#22d6e0 930.5px,#45efd2 931.5px,#78ffb9 932.5px,#b0f497 933.5px,#e4d075 935.5px,#f00 936.5px,#f00 938.5px,#ff190c 939.5px,#ff3b1e 940.5px,#f00 942.5px,#f00 944.5px,#ff0c06 945.5px,#f00 946.5px,#f00 948.5px,#ff2d17 949.5px,#ff954e 950.5px,#c0eb8d 951.5px,#93fda9 952.5px,#51f5cc 953.5px,#1ed3e1 954.5px,#12c7e6 955.5px,#2389f5 956.5px,#5a3afd 957.5px,#5b39fd 1028.5px,#3275f8 1029.5px,#129ff1 1030.5px,#228af5 1031.5px,#09bee9 1032.5px,#28dbde 1034.5px,#2adcdd 1035.5px,#0ba8ef 1036.5px,#07bce9 1037.5px,#27dade 1038.5px,#07bcea 1039.5px,#38e7d7 1040.5px,#3eebd5 1041.5px,#5af8c8 1042.5px,#4ef3ce 1043.5px,#16cbe4 1045.5px,#4bf2cf 1046.5px,#1bd0e3 1047.5px,#1acee3 1048.5px,#41ecd3 1049.5px,#47f0d1 1050.5px,#1fd4e1 1051.5px,#12c7e6 1052.5px,#3eebd5 1053.5px,#1dd2e2 1054.5px,#13c9e5 1055.5px,#2cdedc 1056.5px,#09bee9 1058.5px,#04b9ea 1059.5px,#129ff1 1060.5px,#2982f6 1061.5px,#1c93f3 1062.5px,#3472f8 1063.5px,#2686f5 1064.5px,#2d7cf7 1065.5px,#5c38fd 1066.5px,#5c37fd 1096.5px,#00b4ec 1097.5px,#1bcfe3 1098.5px,#5cf9c7 1099.5px,#6ffebd 1100.5px,#cce385 1101.5px,#f9bb66 1102.5px,#f00 1103.5px,#ff3b1e 1104.5px,#f00 1105.5px,#f00 1106.5px,#ff3c1e 1107.5px,#ff2613 1108.5px,#f00 1109.5px,#f00 1113.5px,#ff1e0f 1114.5px,#ffa357 1115.5px,#cde284 1116.5px,#75feba 1117.5px,#3be9d6 1118.5px,#0cc2e8 1119.5px,#3a6af9 1120.5px,#5c37fd 1121.5px,#5d36fe 1182.5px,#3c67f9 1183.5px,#0ec3e7 1184.5px,#31e2da 1185.5px,#22d6e0 1186.5px,#4ef3ce 1187.5px,#73febb 1188.5px,#b1f397 1189.5px,#bded8f 1190.5px,#9dfba3 1191.5px,#c5e88a 1192.5px,#98fca6 1193.5px,#bfec8e 1194.5px,#cfe183 1196.5px,#88ffb0 1197.5px,#9ffaa2 1198.5px,#74febb 1199.5px,#33e3d9 1200.5px,#05afed 1201.5px,#0ba8ef 1202.5px,#03b8eb 1203.5px,#5d35fe 1204.5px,#5d35fe 1216.5px,#1c93f3 1217.5px,#17cce4 1218.5px,#1f8ff4 1219.5px,#3ce9d6 1220.5px,#70febd 1222.5px,#40ecd4 1223.5px,#72febb 1224.5px,#5ef9c6 1225.5px,#87ffb0 1226.5px,#70febd 1227.5px,#a7f89d 1228.5px,#85ffb1 1229.5px,#5af8c8 1230.5px,#59f8c8 1231.5px,#7dffb6 1232.5px,#3dead5 1233.5px,#2ddfdc 1234.5px,#2ee0db 1235.5px,#03b1ec 1236.5px,#0abfe9 1237.5px,#1d92f3 1238.5px,#07acee 1239.5px,#5e35fe 1240.5px,#5e34fe 1274.5px,#1d92f3 1275.5px,#2389f5 1276.5px,#0fc5e7 1277.5px,#49f1d0 1278.5px,#23d7e0 1279.5px,#7bffb7 1280.5px,#98fca6 1281.5px,#8afeae 1282.5px,#d6dc7e 1283.5px,#ddd67a 1284.5px,#ffa859 1285.5px,#ffb260 1286.5px,#ff4623 1287.5px,#ff8244 1288.5px,#ff4e27 1289.5px,#ff7d41 1290.5px,#ff6e38 1291.5px,#ff3b1e 1292.5px,#ff391c 1293.5px,#ff4824 1294.5px,#ff9c52 1295.5px,#ff6735 1296.5px,#ff6935 1297.5px,#ff7b3f 1298.5px,#ff4925 1299.5px,#ff7c40 1300.5px,#ecc86f 1301.5px,#ffab5b 1302.5px,#e5cf74 1303.5px,#c5e88a 1304.5px,#a5f89e 1305.5px,#64fbc3 1306.5px,#81ffb4 1307.5px,#31e2da 1308.5px,#22d6e0 1309.5px,#20d5e1 1310.5px,#16cbe4 1311.5px,#2b7ef7 1312.5px,#5f33fe 1313.5px,#6130fe 1468.5px,#2686f5 1469.5px,#34e4d9 1470.5px,#44eed2 1471.5px,#c0eb8d 1472.5px,#f5bf68 1473.5px,#ff0302 1474.5px,#f00 1478.5px,#ff2c16 1479.5px,#ff0603 1480.5px,#f00 1483.5px,#d5dc7f 1484.5px,#c0eb8d 1485.5px,#4ff3cd 1486.5px,#1bcfe3 1487.5px,#376ef9 1488.5px,#6130fe 1489.5px,#6130fe 1491.5px)"></i><i style="top:594px;height:3px;background:linear-gradient(90deg,#3374f8 0.5px,#376df9 500.5px,#3c68f9 605.5px,#4d4efc 804.5px,#5246fd 1304.5px,#5443fd 1491.5px)"></i><i style="top:597px;height:3px;background:linear-gradient(90deg,#29dcdd 0.5px,#1fd3e1 1.5px,#38e6d7 2.5px,#13c8e6 3.5px,#20d4e1 4.5px,#1acfe3 7.5px,#06bbea 8.5px,#0ec3e7 9.5px,#22d6e0 10.5px,#38e6d8 12.5px,#11c6e6 13.5px,#0ec3e7 14.5px,#17cce4 15.5px,#17cce4 16.5px,#24d7df 17.5px,#12c7e6 18.5px,#22d6e0 19.5px,#1bd0e3 21.5px,#11c6e6 22.5px,#1bd0e3 23.5px,#10c5e7 24.5px,#2cdedc 25.5px,#03b1ec 26.5px,#23d7e0 27.5px,#15cae5 28.5px,#2ddfdc 29.5px,#22d6e0 30.5px,#0bc1e8 31.5px,#17cce4 34.5px,#2ee0db 36.5px,#25d9df 37.5px,#0da6ef 38.5px,#1cd1e2 39.5px,#28dbde 40.5px,#25d8df 41.5px,#3febd5 42.5px,#12c7e6 43.5px,#28dbde 46.5px,#03b7eb 48.5px,#08bde9 49.5px,#2edfdc 50.5px,#21d5e0 51.5px,#1fd3e1 52.5px,#06bbea 53.5px,#16cbe5 55.5px,#0fc4e7 56.5px,#21d5e0 58.5px,#11c6e6 59.5px,#16cbe5 60.5px,#29dcdd 61.5px,#03b8eb 62.5px,#12c7e6 63.5px,#0cc2e8 65.5px,#1acfe3 66.5px,#08abee 67.5px,#0dc3e7 68.5px,#35e4d9 70.5px,#22d6e0 71.5px,#00b4ec 72.5px,#1dd2e2 73.5px,#18cde4 74.5px,#30e1db 75.5px,#20d4e1 77.5px,#27dade 78.5px,#1acfe3 79.5px,#1dd2e2 81.5px,#0fc4e7 83.5px,#2cdedc 84.5px,#1fd3e1 85.5px,#1fd3e1 86.5px,#32e2da 87.5px,#13c8e5 88.5px,#1cd1e2 90.5px,#06bbea 91.5px,#22d6e0 92.5px,#1bd0e3 93.5px,#0cc1e8 94.5px,#1bd0e3 96.5px,#37e6d8 97.5px,#05b9ea 99.5px,#21d5e0 100.5px,#0bc0e8 102.5px,#20d4e1 105.5px,#1bcfe3 106.5px,#06bbea 107.5px,#1acee3 108.5px,#0bc0e8 109.5px,#19cee3 110.5px,#0dc3e7 111.5px,#28dade 113.5px,#15cae5 114.5px,#0dc2e8 115.5px,#26d9df 116.5px,#14c9e5 117.5px,#19cee3 118.5px,#17cce4 120.5px,#1ed2e2 121.5px,#1cd0e2 122.5px,#25d8df 123.5px,#1bd0e3 124.5px,#26d9de 125.5px,#07bce9 128.5px,#26d9df 129.5px,#1ed2e2 130.5px,#03b7eb 131.5px,#1bd0e3 132.5px,#1dd1e2 134.5px,#25d8df 135.5px,#09bfe9 136.5px,#01b4ec 137.5px,#f00 138.5px,#f00 139.5px,#1bd0e3 140.5px,#35e5d9 141.5px,#0dc3e7 143.5px,#25d8df 144.5px,#11c6e6 145.5px,#1ed2e2 146.5px,#13c8e6 148.5px,#19cee3 149.5px,#09bfe9 150.5px,#1fd3e1 151.5px,#27dade 152.5px,#09bee9 153.5px,#17cce4 154.5px,#0fc4e7 155.5px,#1bd0e3 158.5px,#09bee9 159.5px,#29dbde 160.5px,#22d6e0 162.5px,#f00 163.5px,#26d9df 164.5px,#0ec3e7 166.5px,#09bee9 167.5px,#25d8df 169.5px,#21d5e0 170.5px,#29dcdd 171.5px,#02b2ec 172.5px,#0ec3e7 173.5px,#24d8df 174.5px,#0dc3e7 175.5px,#0ec3e7 177.5px,#2edfdc 178.5px,#22d6e0 179.5px,#0dc3e7 180.5px,#13c8e6 181.5px,#26dade 182.5px,#14c9e5 183.5px,#24d8df 184.5px,#15cae5 186.5px,#20d4e1 188.5px,#1ed2e2 189.5px,#04b9ea 191.5px,#19cee3 193.5px,#0dc2e8 194.5px,#21d5e1 195.5px,#0bc1e8 196.5px,#1fd4e1 197.5px,#0abfe8 198.5px,#32e2da 199.5px,#15cae5 200.5px,#20d4e1 202.5px,#0abfe8 203.5px,#0fc4e7 204.5px,#08bde9 205.5px,#1dd2e2 207.5px,#1fd3e1 208.5px,#14c9e5 209.5px,#12c8e6 210.5px,#03b8eb 211.5px,#35e5d9 212.5px,#13c9e5 213.5px,#11c6e6 214.5px,#2ee0db 215.5px,#1bd0e3 216.5px,#20d4e1 217.5px,#08bde9 218.5px,#26d9df 219.5px,#1cd0e2 220.5px,#25d8df 221.5px,#04b9ea 223.5px,#0cc1e8 224.5px,#34e4d9 225.5px,#1cd0e2 226.5px,#17cce4 227.5px,#2fe0db 229.5px,#18cde4 230.5px,#1ed2e2 231.5px,#0ec3e7 232.5px,#19cee3 233.5px,#01b6eb 234.5px,#26d9df 237.5px,#01b3ec 238.5px,#22d6e0 239.5px,#11c6e6 240.5px,#0aa9ee 241.5px,#28dbde 242.5px,#1fd4e1 243.5px,#22d6e0 244.5px,#1acfe3 245.5px,#1cd1e2 246.5px,#15cae5 247.5px,#1cd1e2 249.5px,#19cee3 250.5px,#06bbea 251.5px,#34e4d9 252.5px,#0fc4e7 253.5px,#17cce4 254.5px,#2ddedc 255.5px,#16cbe4 256.5px,#14cae5 257.5px,#20d4e1 258.5px,#0dc2e8 259.5px,#17cce4 260.5px,#30e1db 261.5px,#15cae5 262.5px,#27dade 263.5px,#1cd1e2 264.5px,#16cbe4 266.5px,#34e4d9 267.5px,#19cee4 268.5px,#1acfe3 269.5px,#26d9df 270.5px,#20d4e1 271.5px,#0cc1e8 272.5px,#24d7df 273.5px,#0dc2e7 275.5px,#21d5e0 276.5px,#10c5e6 277.5px,#20d4e1 278.5px,#07bcea 279.5px,#19cee3 280.5px,#1acee3 281.5px,#2edfdc 282.5px,#16cbe4 283.5px,#1fd3e1 284.5px,#19cee3 285.5px,#09bee9 286.5px,#20d4e1 287.5px,#0ec3e7 290.5px,#24d8df 293.5px,#23d6e0 294.5px,#15cae5 295.5px,#0cc1e8 298.5px,#16cbe5 299.5px,#0bc0e8 300.5px,#28dbde 301.5px,#04b8ea 302.5px,#11c6e6 303.5px,#18cde4 307.5px,#0fc4e7 308.5px,#27dade 310.5px,#19cee3 312.5px,#03b7eb 313.5px,#13c8e5 314.5px,#02b6eb 315.5px,#0fc4e7 316.5px,#0abfe9 317.5px,#12c7e6 318.5px,#01b5eb 319.5px,#1fd3e1 321.5px,#11c6e6 323.5px,#1acfe3 324.5px,#1ed3e1 326.5px,#08bde9 327.5px,#11c6e6 328.5px,#00b5eb 329.5px,#0ea4f0 331.5px,#13c9e5 332.5px,#20d5e1 333.5px,#0dc2e7 334.5px,#0fc4e7 335.5px,#1acee3 336.5px,#18cde4 338.5px,#06bbea 339.5px,#23d6e0 340.5px,#15cae5 341.5px,#25d9df 342.5px,#22d6e0 343.5px,#16cbe5 344.5px,#22d6e0 345.5px,#19cde4 346.5px,#14c9e5 348.5px,#22d6e0 350.5px,#04b9ea 351.5px,#31e2da 352.5px,#15cae5 353.5px,#1ed2e2 354.5px,#01b5eb 355.5px,#18cde4 356.5px,#11c6e6 357.5px,#27dade 358.5px,#14c9e5 359.5px,#19cee3 360.5px,#11c6e6 363.5px,#03b7eb 364.5px,#27dade 365.5px,#00b4ec 366.5px,#1cd0e2 368.5px,#07bce9 369.5px,#18cde4 371.5px,#2bdddd 372.5px,#28dbde 374.5px,#04b8ea 375.5px,#1cd1e2 376.5px,#01b3ec 377.5px,#19cee3 378.5px,#1ed3e1 379.5px,#0cc1e8 380.5px,#0cc2e8 381.5px,#1fd3e1 382.5px,#1acee3 384.5px,#0cc1e8 385.5px,#1dd1e2 386.5px,#1ed3e1 388.5px,#0cc1e8 389.5px,#10c5e7 390.5px,#05baea 391.5px,#0fc4e7 392.5px,#04b9ea 393.5px,#05aeed 394.5px,#05b9ea 395.5px,#1ed3e1 396.5px,#23d7e0 397.5px,#04b8ea 398.5px,#15cae5 399.5px,#07bbea 400.5px,#1dd1e2 401.5px,#17cce4 402.5px,#04b8ea 403.5px,#03b1ec 404.5px,#18cde4 405.5px,#21d5e1 406.5px,#1dd1e2 407.5px,#03b8eb 409.5px,#23d7e0 410.5px,#16cbe4 413.5px,#08abee 414.5px,#18cde4 415.5px,#03b8eb 416.5px,#18cce4 419.5px,#09bee9 420.5px,#1fd4e1 422.5px,#02b6eb 423.5px,#0ac0e8 424.5px,#0bc1e8 426.5px,#06baea 427.5px,#28dbde 428.5px,#07bce9 429.5px,#09aaee 430.5px,#0bc0e8 431.5px,#12c7e6 432.5px,#0cc1e8 433.5px,#1fd3e1 435.5px,#02b7eb 436.5px,#12c7e6 438.5px,#07bce9 440.5px,#0abfe9 442.5px,#159cf1 443.5px,#0dc3e7 444.5px,#01b6eb 446.5px,#0cc1e8 447.5px,#1799f2 448.5px,#03b1ec 449.5px,#26d9de 450.5px,#0bc0e8 451.5px,#02b7eb 452.5px,#18cde4 453.5px,#07bce9 454.5px,#18cde4 455.5px,#03b0ed 456.5px,#0aa8ef 457.5px,#08acee 458.5px,#05baea 459.5px,#09bee9 460.5px,#0fa3f0 461.5px,#0ea4f0 462.5px,#0bc0e8 463.5px,#0ca7ef 464.5px,#04b9ea 465.5px,#1799f2 466.5px,#00b5eb 467.5px,#09bee9 468.5px,#01b6eb 469.5px,#0ec3e7 471.5px,#0aa8ef 472.5px,#08abee 473.5px,#11a0f0 474.5px,#01b3ec 476.5px,#1799f2 477.5px,#0fa3f0 478.5px,#06bbea 479.5px,#08acee 480.5px,#01b6eb 481.5px,#12a0f1 482.5px,#0ea4f0 483.5px,#02b2ec 484.5px,#00b4ec 485.5px,#159cf1 486.5px,#208ef4 487.5px,#139ef1 488.5px,#12a0f1 489.5px,#04b9ea 490.5px,#11a1f0 491.5px,#09aaee 493.5px,#139ef1 494.5px,#139ef1 495.5px,#01b6eb 496.5px,#1c92f3 497.5px,#129ff1 499.5px,#1b94f3 500.5px,#11a0f0 502.5px,#149cf1 503.5px,#218cf4 504.5px,#149cf1 505.5px,#1d91f3 506.5px,#159cf1 507.5px,#159cf1 509.5px,#1c93f3 510.5px,#1a95f3 511.5px,#2587f5 512.5px,#1e90f4 514.5px,#1f8ef4 515.5px,#139ef1 516.5px,#2488f5 517.5px,#0fa3f0 518.5px,#2488f5 519.5px,#1e90f4 520.5px,#2883f6 521.5px,#1a95f3 522.5px,#218df4 523.5px,#1a96f3 524.5px,#1e90f4 526.5px,#2b7ff6 527.5px,#2a81f6 528.5px,#1d91f3 529.5px,#1898f2 530.5px,#1996f2 532.5px,#238af5 533.5px,#208df4 534.5px,#2c7ef7 535.5px,#2982f6 536.5px,#376ef9 537.5px,#1f8ff4 538.5px,#1a95f3 539.5px,#2c7df7 540.5px,#3079f7 542.5px,#218cf4 543.5px,#2686f5 545.5px,#228bf5 546.5px,#2882f6 547.5px,#2686f5 548.5px,#2d7cf7 549.5px,#2d7cf7 550.5px,#2686f5 551.5px,#2c7ef7 552.5px,#2884f6 553.5px,#2d7df7 555.5px,#3473f8 556.5px,#2f7af7 557.5px,#3275f8 558.5px,#2d7cf7 559.5px,#3275f8 560.5px,#2e7bf7 561.5px,#3275f8 562.5px,#2d7cf7 563.5px,#3472f8 564.5px,#2e7af7 566.5px,#3177f8 568.5px,#3570f8 570.5px,#3373f8 572.5px,#3670f8 584.5px,#4954fb 694.5px,#5443fd 922.5px,#5640fd 1384.5px,#f00 1385.5px,#f00 1386.5px,#5640fd 1387.5px,#573ffd 1491.5px)"></i><i style="top:600px;height:1px;background:linear-gradient(90deg,#89ffaf 0.5px,#78ffb8 1.5px,#a1faa1 2.5px,#65fcc2 3.5px,#7affb7 4.5px,#71febc 7.5px,#51f5cc 8.5px,#5ef9c6 9.5px,#7effb5 10.5px,#8afeaf 11.5px,#a0faa1 12.5px,#63fbc3 13.5px,#5efac6 14.5px,#6dfdbe 15.5px,#6cfdbf 16.5px,#81ffb4 17.5px,#64fbc3 18.5px,#7dffb6 19.5px,#73febb 21.5px,#63fbc4 22.5px,#73febb 23.5px,#61fac4 24.5px,#8dfead 25.5px,#43edd3 26.5px,#7fffb4 27.5px,#69fdc0 28.5px,#90feab 29.5px,#7fffb5 30.5px,#5af8c8 31.5px,#66fcc2 32.5px,#6cfdbf 34.5px,#92fdaa 36.5px,#83ffb2 37.5px,#33e3d9 38.5px,#75feba 39.5px,#88ffb0 40.5px,#82ffb3 41.5px,#abf69a 42.5px,#64fbc3 43.5px,#80ffb4 45.5px,#87ffb0 46.5px,#6cfdbf 47.5px,#4bf2cf 48.5px,#55f6ca 49.5px,#91feab 50.5px,#7dffb6 51.5px,#78ffb8 52.5px,#51f5cc 53.5px,#6afdc0 55.5px,#60fac5 56.5px,#74febb 57.5px,#7dffb6 58.5px,#63fbc3 59.5px,#6afdc0 60.5px,#89ffaf 61.5px,#4cf2ce 62.5px,#65fcc3 63.5px,#5bf9c7 65.5px,#72febc 66.5px,#3ae8d6 67.5px,#5df9c7 68.5px,#7affb7 69.5px,#9bfba4 70.5px,#7effb5 71.5px,#47f0d1 72.5px,#76ffb9 73.5px,#6efebe 74.5px,#94fda8 75.5px,#7affb7 77.5px,#86ffb1 78.5px,#71febc 79.5px,#78ffb8 80.5px,#76ffba 81.5px,#5ffac5 83.5px,#8efeac 84.5px,#78ffb8 85.5px,#79ffb8 86.5px,#97fca7 87.5px,#66fcc2 88.5px,#75feba 90.5px,#51f5cc 91.5px,#7effb5 92.5px,#73febb 93.5px,#5af8c8 94.5px,#73febb 96.5px,#a0faa1 97.5px,#72febc 98.5px,#4ff4cd 99.5px,#7dffb6 100.5px,#70febd 101.5px,#59f8c8 102.5px,#7affb7 105.5px,#72febc 106.5px,#52f5cc 107.5px,#70febc 108.5px,#59f8c8 109.5px,#70febd 110.5px,#5df9c6 111.5px,#87ffb0 113.5px,#68fcc1 114.5px,#5cf9c7 115.5px,#84ffb2 116.5px,#67fcc1 117.5px,#6ffebd 118.5px,#6cfdbf 120.5px,#78ffb9 121.5px,#74febb 122.5px,#82ffb3 123.5px,#73febb 124.5px,#85ffb1 125.5px,#62fbc4 127.5px,#53f6cb 128.5px,#84ffb2 129.5px,#77ffb9 130.5px,#4bf2cf 131.5px,#73febb 132.5px,#75feba 134.5px,#82ffb3 135.5px,#57f7ca 136.5px,#47efd1 137.5px,#9afca5 138.5px,#72febc 139.5px,#72febb 140.5px,#9cfba4 141.5px,#77ffb9 142.5px,#5df9c7 143.5px,#82ffb3 144.5px,#62fbc4 145.5px,#77ffb9 146.5px,#73febb 147.5px,#65fcc2 148.5px,#70febd 149.5px,#57f7ca 150.5px,#79ffb8 151.5px,#85ffb1 152.5px,#56f7ca 153.5px,#6dfdbe 154.5px,#5ffac5 155.5px,#65fcc2 157.5px,#73febb 158.5px,#56f7ca 159.5px,#88ffaf 160.5px,#72febc 163.5px,#84ffb2 164.5px,#6cfdbf 165.5px,#56f7ca 167.5px,#66fcc2 168.5px,#83ffb3 169.5px,#7dffb6 170.5px,#89ffaf 171.5px,#44eed2 172.5px,#5df9c6 173.5px,#81ffb3 174.5px,#5df9c6 175.5px,#5df9c6 177.5px,#91feab 178.5px,#7effb5 179.5px,#5df9c6 180.5px,#65fcc2 181.5px,#85ffb1 182.5px,#68fcc1 183.5px,#81ffb3 184.5px,#70febd 185.5px,#69fdc0 186.5px,#6cfdbf 187.5px,#7bffb7 188.5px,#77ffb9 189.5px,#4ef3ce 191.5px,#64fbc3 192.5px,#70febd 193.5px,#5cf9c7 194.5px,#7cffb6 195.5px,#5af8c8 196.5px,#7affb8 197.5px,#57f7c9 198.5px,#97fca7 199.5px,#69fdc0 200.5px,#7affb7 202.5px,#57f7c9 203.5px,#60fac5 204.5px,#54f6cb 205.5px,#76ffb9 207.5px,#79ffb8 208.5px,#67fcc1 209.5px,#65fcc2 210.5px,#4cf2ce 211.5px,#9cfba4 212.5px,#66fcc2 213.5px,#62fbc4 214.5px,#91fdaa 215.5px,#73febb 216.5px,#7bffb7 217.5px,#54f6cb 218.5px,#84ffb2 219.5px,#73febb 220.5px,#83ffb3 221.5px,#6dfdbe 222.5px,#4ef3ce 223.5px,#5af8c8 224.5px,#9bfba4 225.5px,#74febb 226.5px,#6dfdbe 227.5px,#92fdaa 229.5px,#6dfdbe 230.5px,#77ffb9 231.5px,#5efac6 232.5px,#6ffebd 233.5px,#49f1d0 234.5px,#84ffb2 237.5px,#46efd1 238.5px,#7effb5 239.5px,#63fbc4 240.5px,#38e7d7 241.5px,#87ffb0 242.5px,#7affb8 243.5px,#7dffb6 244.5px,#71febc 245.5px,#75feba 246.5px,#68fcc1 247.5px,#75feba 249.5px,#70febd 250.5px,#52f5cc 251.5px,#9afca5 252.5px,#5ffac5 253.5px,#6cfdbf 254.5px,#8ffeac 255.5px,#6bfdbf 256.5px,#68fcc1 257.5px,#7bffb7 258.5px,#5cf9c7 259.5px,#6cfdbf 260.5px,#94fda9 261.5px,#69fdc0 262.5px,#86ffb0 263.5px,#74febb 264.5px,#6afdc0 266.5px,#9bfba5 267.5px,#6ffebd 268.5px,#72febc 269.5px,#84ffb2 270.5px,#7affb7 271.5px,#5af8c8 272.5px,#81ffb4 273.5px,#5cf9c7 275.5px,#7cffb6 276.5px,#62fbc4 277.5px,#7bffb7 278.5px,#52f5cc 279.5px,#70febd 280.5px,#71febc 281.5px,#91feaa 282.5px,#6bfdbf 283.5px,#7affb7 284.5px,#6ffebd 285.5px,#56f7ca 286.5px,#7cffb6 287.5px,#6bfdc0 288.5px,#5ffac6 290.5px,#71febc 292.5px,#82ffb3 293.5px,#7fffb4 294.5px,#6afdc0 295.5px,#69fcc1 296.5px,#5bf9c7 297.5px,#5cf9c7 298.5px,#6bfdbf 299.5px,#5af8c8 300.5px,#89ffaf 301.5px,#4ff3cd 302.5px,#63fbc3 303.5px,#6ffebd 307.5px,#60fac5 308.5px,#87ffb0 310.5px,#71febc 312.5px,#4df3ce 313.5px,#68fcc1 314.5px,#4cf2cf 315.5px,#61fac5 316.5px,#58f8c9 317.5px,#66fcc2 318.5px,#4af1cf 319.5px,#7affb7 321.5px,#64fbc3 323.5px,#73febb 324.5px,#72febc 325.5px,#7affb8 326.5px,#56f7ca 327.5px,#65fcc2 328.5px,#4af1cf 329.5px,#32e3da 331.5px,#69fcc1 332.5px,#7dffb5 333.5px,#5ffac5 334.5px,#61fbc4 335.5px,#73febb 336.5px,#70febc 338.5px,#54f6cb 339.5px,#81ffb3 340.5px,#6bfdc0 341.5px,#85ffb1 342.5px,#80ffb4 343.5px,#6cfdbf 344.5px,#80ffb4 345.5px,#71febc 346.5px,#74feba 347.5px,#6afdc0 348.5px,#80ffb4 350.5px,#51f5cc 351.5px,#99fca6 352.5px,#6cfdbf 353.5px,#7affb7 354.5px,#4cf2cf 355.5px,#71febc 356.5px,#66fcc2 357.5px,#89ffaf 358.5px,#6bfdbf 359.5px,#73febb 360.5px,#66fcc2 363.5px,#4ff4cd 364.5px,#8affaf 365.5px,#4af1cf 366.5px,#77ffb9 368.5px,#57f7ca 369.5px,#5df9c6 370.5px,#72febc 371.5px,#90feab 372.5px,#89ffaf 373.5px,#8bfeae 374.5px,#50f4cd 375.5px,#77ffb9 376.5px,#47f0d1 377.5px,#71febc 378.5px,#7affb7 379.5px,#5cf9c7 380.5px,#5df9c7 381.5px,#7affb8 382.5px,#71febc 384.5px,#5bf9c7 385.5px,#76ffb9 386.5px,#78ffb8 388.5px,#5bf9c7 389.5px,#60fac5 390.5px,#4ff4cd 391.5px,#5ffac5 392.5px,#3eebd5 394.5px,#4ef3ce 395.5px,#77ffb9 396.5px,#7fffb5 397.5px,#4cf2cf 398.5px,#67fcc1 399.5px,#50f4cd 400.5px,#73febb 401.5px,#6afdc0 402.5px,#4bf2cf 403.5px,#41ecd4 404.5px,#6afdc0 405.5px,#79ffb8 406.5px,#72febb 407.5px,#59f8c9 408.5px,#49f1d0 409.5px,#7cffb6 410.5px,#66fcc2 413.5px,#36e5d8 414.5px,#69fcc0 415.5px,#48f0d1 416.5px,#68fcc1 419.5px,#50f4cd 420.5px,#73febb 422.5px,#44eed2 423.5px,#52f5cc 424.5px,#53f5cb 426.5px,#49f1d0 427.5px,#80ffb4 428.5px,#4cf2cf 429.5px,#31e2da 430.5px,#51f4cc 431.5px,#5cf9c7 432.5px,#53f5cb 433.5px,#71febc 435.5px,#43edd3 436.5px,#5bf9c7 438.5px,#49f1d0 440.5px,#4df3ce 442.5px,#1cd1e2 443.5px,#53f5cb 444.5px,#3febd4 446.5px,#50f4cd 447.5px,#18cde4 448.5px,#38e7d7 449.5px,#7affb8 450.5px,#4ef3ce 451.5px,#40ecd4 452.5px,#63fbc4 453.5px,#48f0d0 454.5px,#63fbc3 455.5px,#37e6d8 456.5px,#2cdedc 457.5px,#31e2da 458.5px,#45efd2 459.5px,#4cf2cf 460.5px,#25d8df 461.5px,#27dade 462.5px,#4ff4cd 463.5px,#2bdddd 464.5px,#44eed2 465.5px,#18cde4 466.5px,#3eebd5 467.5px,#4df3ce 468.5px,#40ecd4 469.5px,#54f6cb 471.5px,#2edfdc 472.5px,#32e2da 473.5px,#23d7e0 474.5px,#3dead5 476.5px,#1acfe3 477.5px,#28dbde 478.5px,#49f1d0 479.5px,#33e3d9 480.5px,#41ecd3 481.5px,#23d7e0 482.5px,#29dcdd 483.5px,#3dead5 484.5px,#3febd4 485.5px,#1fd3e1 486.5px,#0dc3e7 487.5px,#22d6e0 488.5px,#24d7df 489.5px,#47f0d1 490.5px,#26d9df 491.5px,#32e2da 493.5px,#22d6e0 494.5px,#22d6e0 495.5px,#43eed3 496.5px,#14c9e5 497.5px,#24d8df 499.5px,#16cbe5 500.5px,#26d9df 502.5px,#21d5e1 503.5px,#0cc2e8 504.5px,#21d5e0 505.5px,#13c8e5 506.5px,#21d5e0 507.5px,#21d5e1 509.5px,#16cbe4 510.5px,#18cde4 511.5px,#07bbea 512.5px,#10c5e7 513.5px,#0ec3e7 515.5px,#21d5e1 516.5px,#06bbea 517.5px,#27dade 518.5px,#04b9ea 519.5px,#0fc4e7 520.5px,#01b3ec 521.5px,#14c9e5 522.5px,#09bee9 523.5px,#14c9e5 524.5px,#0bc0e8 526.5px,#09aaee 527.5px,#08abee 528.5px,#0cc1e8 529.5px,#14c9e5 530.5px,#11c6e6 532.5px,#01b5eb 533.5px,#04b9ea 534.5px,#0ea4f0 535.5px,#09aaee 536.5px,#228bf4 537.5px,#05baea 538.5px,#0dc2e8 539.5px,#11a1f0 540.5px,#1799f2 542.5px,#00b4ec 543.5px,#09aaee 545.5px,#04b0ed 546.5px,#0ea4f0 547.5px,#0aa9ee 548.5px,#169af2 549.5px,#169af2 550.5px,#0ca7ef 551.5px,#159cf1 552.5px,#0fa3f0 553.5px,#1898f2 555.5px,#2489f5 556.5px,#1c92f3 557.5px,#228bf4 558.5px,#1b95f3 559.5px,#238af5 560.5px,#1c93f3 561.5px,#2389f5 562.5px,#1d92f3 563.5px,#2883f6 564.5px,#1f8ef4 565.5px,#1e90f4 567.5px,#2c7df7 570.5px,#2784f6 571.5px,#2d7cf7 577.5px,#2b7ff6 578.5px,#2e7bf7 580.5px,#3078f7 583.5px,#3078f7 590.5px,#4061fa 639.5px,#5247fc 909.5px,#5640fd 1409.5px,#573ffd 1491.5px)"></i><i style="top:601px;height:1px;background:linear-gradient(90deg,#89ffaf 0.5px,#78ffb8 1.5px,#a1faa1 2.5px,#65fcc2 3.5px,#7affb7 4.5px,#71febc 7.5px,#51f5cc 8.5px,#5ef9c6 9.5px,#7effb5 10.5px,#8afeaf 11.5px,#a0faa1 12.5px,#63fbc3 13.5px,#5efac6 14.5px,#6dfdbe 15.5px,#6cfdbf 16.5px,#81ffb4 17.5px,#64fbc3 18.5px,#7dffb6 19.5px,#73febb 21.5px,#63fbc4 22.5px,#73febb 23.5px,#61fac4 24.5px,#8dfead 25.5px,#43edd3 26.5px,#7fffb4 27.5px,#69fdc0 28.5px,#90feab 29.5px,#7fffb5 30.5px,#5af8c8 31.5px,#66fcc2 32.5px,#6cfdbf 34.5px,#92fdaa 36.5px,#83ffb2 37.5px,#33e3d9 38.5px,#75feba 39.5px,#88ffb0 40.5px,#82ffb3 41.5px,#abf69a 42.5px,#64fbc3 43.5px,#80ffb4 45.5px,#87ffb0 46.5px,#6cfdbf 47.5px,#4bf2cf 48.5px,#55f6ca 49.5px,#91feab 50.5px,#7dffb6 51.5px,#78ffb8 52.5px,#51f5cc 53.5px,#6afdc0 55.5px,#60fac5 56.5px,#74febb 57.5px,#7dffb6 58.5px,#63fbc3 59.5px,#6afdc0 60.5px,#89ffaf 61.5px,#4cf2ce 62.5px,#65fcc3 63.5px,#5bf9c7 65.5px,#72febc 66.5px,#3ae8d6 67.5px,#5df9c7 68.5px,#7affb7 69.5px,#9bfba4 70.5px,#7effb5 71.5px,#47f0d1 72.5px,#76ffb9 73.5px,#6efebe 74.5px,#94fda8 75.5px,#7affb7 77.5px,#86ffb1 78.5px,#71febc 79.5px,#78ffb8 80.5px,#76ffba 81.5px,#5ffac5 83.5px,#8efeac 84.5px,#78ffb8 85.5px,#79ffb8 86.5px,#97fca7 87.5px,#66fcc2 88.5px,#75feba 90.5px,#51f5cc 91.5px,#7effb5 92.5px,#73febb 93.5px,#5af8c8 94.5px,#73febb 96.5px,#a0faa1 97.5px,#72febc 98.5px,#4ff4cd 99.5px,#7dffb6 100.5px,#70febd 101.5px,#59f8c8 102.5px,#7affb7 105.5px,#72febc 106.5px,#52f5cc 107.5px,#70febc 108.5px,#59f8c8 109.5px,#70febd 110.5px,#5df9c6 111.5px,#87ffb0 113.5px,#68fcc1 114.5px,#5cf9c7 115.5px,#84ffb2 116.5px,#67fcc1 117.5px,#6ffebd 118.5px,#6cfdbf 120.5px,#78ffb9 121.5px,#74febb 122.5px,#82ffb3 123.5px,#73febb 124.5px,#85ffb1 125.5px,#62fbc4 127.5px,#53f6cb 128.5px,#84ffb2 129.5px,#77ffb9 130.5px,#4bf2cf 131.5px,#73febb 132.5px,#75feba 134.5px,#82ffb3 135.5px,#57f7ca 136.5px,#47efd1 137.5px,#9afca5 138.5px,#72febc 139.5px,#72febb 140.5px,#9cfba4 141.5px,#77ffb9 142.5px,#5df9c7 143.5px,#82ffb3 144.5px,#62fbc4 145.5px,#77ffb9 146.5px,#73febb 147.5px,#65fcc2 148.5px,#70febd 149.5px,#57f7ca 150.5px,#79ffb8 151.5px,#85ffb1 152.5px,#56f7ca 153.5px,#6dfdbe 154.5px,#5ffac5 155.5px,#65fcc2 157.5px,#73febb 158.5px,#56f7ca 159.5px,#88ffaf 160.5px,#72febc 163.5px,#84ffb2 164.5px,#6cfdbf 165.5px,#56f7ca 167.5px,#66fcc2 168.5px,#83ffb3 169.5px,#7dffb6 170.5px,#89ffaf 171.5px,#44eed2 172.5px,#5df9c6 173.5px,#81ffb3 174.5px,#5df9c6 175.5px,#5df9c6 177.5px,#91feab 178.5px,#7effb5 179.5px,#5df9c6 180.5px,#65fcc2 181.5px,#85ffb1 182.5px,#68fcc1 183.5px,#81ffb3 184.5px,#70febd 185.5px,#69fdc0 186.5px,#6cfdbf 187.5px,#7bffb7 188.5px,#77ffb9 189.5px,#4ef3ce 191.5px,#64fbc3 192.5px,#70febd 193.5px,#5cf9c7 194.5px,#7cffb6 195.5px,#5af8c8 196.5px,#7affb8 197.5px,#57f7c9 198.5px,#97fca7 199.5px,#69fdc0 200.5px,#7affb7 202.5px,#57f7c9 203.5px,#60fac5 204.5px,#54f6cb 205.5px,#76ffb9 207.5px,#79ffb8 208.5px,#67fcc1 209.5px,#65fcc2 210.5px,#4cf2ce 211.5px,#9cfba4 212.5px,#66fcc2 213.5px,#62fbc4 214.5px,#91fdaa 215.5px,#73febb 216.5px,#7bffb7 217.5px,#54f6cb 218.5px,#84ffb2 219.5px,#73febb 220.5px,#83ffb3 221.5px,#6dfdbe 222.5px,#4ef3ce 223.5px,#5af8c8 224.5px,#9bfba4 225.5px,#74febb 226.5px,#6dfdbe 227.5px,#92fdaa 229.5px,#6dfdbe 230.5px,#77ffb9 231.5px,#5efac6 232.5px,#6ffebd 233.5px,#49f1d0 234.5px,#84ffb2 237.5px,#46efd1 238.5px,#7effb5 239.5px,#63fbc4 240.5px,#38e7d7 241.5px,#87ffb0 242.5px,#7affb8 243.5px,#7dffb6 244.5px,#71febc 245.5px,#75feba 246.5px,#68fcc1 247.5px,#75feba 249.5px,#70febd 250.5px,#52f5cc 251.5px,#9afca5 252.5px,#5ffac5 253.5px,#6cfdbf 254.5px,#8ffeac 255.5px,#6bfdbf 256.5px,#68fcc1 257.5px,#7bffb7 258.5px,#5cf9c7 259.5px,#6cfdbf 260.5px,#94fda9 261.5px,#69fdc0 262.5px,#86ffb0 263.5px,#74febb 264.5px,#6afdc0 266.5px,#9bfba5 267.5px,#6ffebd 268.5px,#72febc 269.5px,#84ffb2 270.5px,#7affb7 271.5px,#5af8c8 272.5px,#81ffb4 273.5px,#5cf9c7 275.5px,#7cffb6 276.5px,#62fbc4 277.5px,#7bffb7 278.5px,#52f5cc 279.5px,#70febd 280.5px,#71febc 281.5px,#91feaa 282.5px,#6bfdbf 283.5px,#7affb7 284.5px,#6ffebd 285.5px,#56f7ca 286.5px,#7cffb6 287.5px,#6bfdc0 288.5px,#5ffac6 290.5px,#71febc 292.5px,#82ffb3 293.5px,#7fffb4 294.5px,#6afdc0 295.5px,#69fcc1 296.5px,#5bf9c7 297.5px,#5cf9c7 298.5px,#6bfdbf 299.5px,#5af8c8 300.5px,#89ffaf 301.5px,#4ff3cd 302.5px,#63fbc3 303.5px,#6ffebd 307.5px,#60fac5 308.5px,#87ffb0 310.5px,#71febc 312.5px,#4df3ce 313.5px,#68fcc1 314.5px,#4cf2cf 315.5px,#61fac5 316.5px,#58f8c9 317.5px,#66fcc2 318.5px,#4af1cf 319.5px,#7affb7 321.5px,#64fbc3 323.5px,#73febb 324.5px,#72febc 325.5px,#7affb8 326.5px,#56f7ca 327.5px,#65fcc2 328.5px,#4af1cf 329.5px,#32e3da 331.5px,#69fcc1 332.5px,#7dffb5 333.5px,#5ffac5 334.5px,#61fbc4 335.5px,#73febb 336.5px,#70febc 338.5px,#54f6cb 339.5px,#81ffb3 340.5px,#6bfdc0 341.5px,#85ffb1 342.5px,#80ffb4 343.5px,#6cfdbf 344.5px,#80ffb4 345.5px,#71febc 346.5px,#74feba 347.5px,#6afdc0 348.5px,#80ffb4 350.5px,#51f5cc 351.5px,#99fca6 352.5px,#6cfdbf 353.5px,#7affb7 354.5px,#4cf2cf 355.5px,#71febc 356.5px,#66fcc2 357.5px,#89ffaf 358.5px,#6bfdbf 359.5px,#73febb 360.5px,#66fcc2 363.5px,#4ff4cd 364.5px,#8affaf 365.5px,#4af1cf 366.5px,#77ffb9 368.5px,#57f7ca 369.5px,#5df9c6 370.5px,#72febc 371.5px,#90feab 372.5px,#89ffaf 373.5px,#8bfeae 374.5px,#50f4cd 375.5px,#77ffb9 376.5px,#47f0d1 377.5px,#71febc 378.5px,#7affb7 379.5px,#5cf9c7 380.5px,#5df9c7 381.5px,#7affb8 382.5px,#71febc 384.5px,#5bf9c7 385.5px,#76ffb9 386.5px,#78ffb8 388.5px,#5bf9c7 389.5px,#60fac5 390.5px,#4ff4cd 391.5px,#5ffac5 392.5px,#3eebd5 394.5px,#4ef3ce 395.5px,#77ffb9 396.5px,#7fffb5 397.5px,#4cf2cf 398.5px,#67fcc1 399.5px,#50f4cd 400.5px,#73febb 401.5px,#6afdc0 402.5px,#4bf2cf 403.5px,#41ecd4 404.5px,#6afdc0 405.5px,#79ffb8 406.5px,#72febb 407.5px,#59f8c9 408.5px,#49f1d0 409.5px,#7cffb6 410.5px,#66fcc2 413.5px,#36e5d8 414.5px,#69fcc0 415.5px,#48f0d1 416.5px,#68fcc1 419.5px,#50f4cd 420.5px,#73febb 422.5px,#44eed2 423.5px,#52f5cc 424.5px,#53f5cb 426.5px,#49f1d0 427.5px,#80ffb4 428.5px,#4cf2cf 429.5px,#31e2da 430.5px,#51f4cc 431.5px,#5cf9c7 432.5px,#53f5cb 433.5px,#71febc 435.5px,#43edd3 436.5px,#5bf9c7 438.5px,#49f1d0 440.5px,#4df3ce 442.5px,#1cd1e2 443.5px,#53f5cb 444.5px,#3febd4 446.5px,#50f4cd 447.5px,#18cde4 448.5px,#38e7d7 449.5px,#7affb8 450.5px,#4ef3ce 451.5px,#40ecd4 452.5px,#63fbc4 453.5px,#48f0d0 454.5px,#63fbc3 455.5px,#37e6d8 456.5px,#2cdedc 457.5px,#31e2da 458.5px,#45efd2 459.5px,#4cf2cf 460.5px,#25d8df 461.5px,#27dade 462.5px,#4ff4cd 463.5px,#2bdddd 464.5px,#44eed2 465.5px,#18cde4 466.5px,#3eebd5 467.5px,#4df3ce 468.5px,#40ecd4 469.5px,#54f6cb 471.5px,#2edfdc 472.5px,#32e2da 473.5px,#23d7e0 474.5px,#3dead5 476.5px,#1acfe3 477.5px,#28dbde 478.5px,#49f1d0 479.5px,#33e3d9 480.5px,#41ecd3 481.5px,#23d7e0 482.5px,#29dcdd 483.5px,#3dead5 484.5px,#3febd4 485.5px,#1fd3e1 486.5px,#0dc3e7 487.5px,#22d6e0 488.5px,#24d7df 489.5px,#47f0d1 490.5px,#26d9df 491.5px,#32e2da 493.5px,#22d6e0 494.5px,#22d6e0 495.5px,#43eed3 496.5px,#14c9e5 497.5px,#24d8df 499.5px,#16cbe5 500.5px,#26d9df 502.5px,#21d5e1 503.5px,#0cc2e8 504.5px,#21d5e0 505.5px,#13c8e5 506.5px,#21d5e0 507.5px,#21d5e1 509.5px,#16cbe4 510.5px,#18cde4 511.5px,#07bbea 512.5px,#10c5e7 513.5px,#0ec3e7 515.5px,#21d5e1 516.5px,#06bbea 517.5px,#27dade 518.5px,#04b9ea 519.5px,#0fc4e7 520.5px,#01b3ec 521.5px,#14c9e5 522.5px,#09bee9 523.5px,#14c9e5 524.5px,#0bc0e8 526.5px,#09aaee 527.5px,#08abee 528.5px,#0cc1e8 529.5px,#14c9e5 530.5px,#11c6e6 532.5px,#01b5eb 533.5px,#04b9ea 534.5px,#0ea4f0 535.5px,#09aaee 536.5px,#228bf4 537.5px,#05baea 538.5px,#0dc2e8 539.5px,#11a1f0 540.5px,#1799f2 542.5px,#00b4ec 543.5px,#09aaee 545.5px,#04b0ed 546.5px,#0ea4f0 547.5px,#0aa9ee 548.5px,#169af2 549.5px,#169af2 550.5px,#0ca7ef 551.5px,#159cf1 552.5px,#0fa3f0 553.5px,#1898f2 555.5px,#2489f5 556.5px,#1c92f3 557.5px,#228bf4 558.5px,#1b95f3 559.5px,#238af5 560.5px,#1c93f3 561.5px,#2389f5 562.5px,#1d92f3 563.5px,#2883f6 564.5px,#1f8ef4 565.5px,#1e90f4 567.5px,#2c7df7 570.5px,#2784f6 571.5px,#2d7cf7 577.5px,#2b7ff6 578.5px,#2e7bf7 580.5px,#3078f7 583.5px,#3078f7 590.5px,#4061fa 639.5px,#5247fc 909.5px,#5444fd 1155.5px,#f00 1156.5px,#f00 1157.5px,#5444fd 1158.5px,#5542fd 1295.5px,#f00 1296.5px,#f00 1297.5px,#5542fd 1298.5px,#5641fd 1346.5px,#f00 1347.5px,#f00 1348.5px,#5641fd 1349.5px,#573ffd 1491.5px)"></i><i style="top:602px;height:1px;background:linear-gradient(90deg,#89ffaf 0.5px,#78ffb8 1.5px,#a1faa1 2.5px,#65fcc2 3.5px,#7affb7 4.5px,#71febc 7.5px,#51f5cc 8.5px,#5ef9c6 9.5px,#7effb5 10.5px,#8afeaf 11.5px,#a0faa1 12.5px,#63fbc3 13.5px,#5efac6 14.5px,#6dfdbe 15.5px,#6cfdbf 16.5px,#81ffb4 17.5px,#64fbc3 18.5px,#7dffb6 19.5px,#73febb 21.5px,#63fbc4 22.5px,#73febb 23.5px,#61fac4 24.5px,#8dfead 25.5px,#43edd3 26.5px,#7fffb4 27.5px,#69fdc0 28.5px,#90feab 29.5px,#7fffb5 30.5px,#5af8c8 31.5px,#66fcc2 32.5px,#6cfdbf 34.5px,#92fdaa 36.5px,#83ffb2 37.5px,#33e3d9 38.5px,#75feba 39.5px,#88ffb0 40.5px,#82ffb3 41.5px,#abf69a 42.5px,#64fbc3 43.5px,#80ffb4 45.5px,#87ffb0 46.5px,#6cfdbf 47.5px,#4bf2cf 48.5px,#55f6ca 49.5px,#91feab 50.5px,#7dffb6 51.5px,#78ffb8 52.5px,#51f5cc 53.5px,#6afdc0 55.5px,#60fac5 56.5px,#74febb 57.5px,#7dffb6 58.5px,#63fbc3 59.5px,#6afdc0 60.5px,#89ffaf 61.5px,#4cf2ce 62.5px,#65fcc3 63.5px,#5bf9c7 65.5px,#72febc 66.5px,#3ae8d6 67.5px,#5df9c7 68.5px,#7affb7 69.5px,#9bfba4 70.5px,#7effb5 71.5px,#47f0d1 72.5px,#76ffb9 73.5px,#6efebe 74.5px,#94fda8 75.5px,#7affb7 77.5px,#86ffb1 78.5px,#71febc 79.5px,#78ffb8 80.5px,#76ffba 81.5px,#5ffac5 83.5px,#8efeac 84.5px,#78ffb8 85.5px,#79ffb8 86.5px,#97fca7 87.5px,#66fcc2 88.5px,#75feba 90.5px,#51f5cc 91.5px,#7effb5 92.5px,#73febb 93.5px,#5af8c8 94.5px,#73febb 96.5px,#a0faa1 97.5px,#72febc 98.5px,#4ff4cd 99.5px,#7dffb6 100.5px,#70febd 101.5px,#59f8c8 102.5px,#7affb7 105.5px,#72febc 106.5px,#52f5cc 107.5px,#70febc 108.5px,#59f8c8 109.5px,#70febd 110.5px,#5df9c6 111.5px,#87ffb0 113.5px,#68fcc1 114.5px,#5cf9c7 115.5px,#84ffb2 116.5px,#67fcc1 117.5px,#6ffebd 118.5px,#6cfdbf 120.5px,#78ffb9 121.5px,#74febb 122.5px,#82ffb3 123.5px,#73febb 124.5px,#85ffb1 125.5px,#62fbc4 127.5px,#53f6cb 128.5px,#84ffb2 129.5px,#77ffb9 130.5px,#4bf2cf 131.5px,#73febb 132.5px,#75feba 134.5px,#82ffb3 135.5px,#57f7ca 136.5px,#47efd1 137.5px,#9afca5 138.5px,#72febc 139.5px,#72febb 140.5px,#9cfba4 141.5px,#77ffb9 142.5px,#5df9c7 143.5px,#82ffb3 144.5px,#62fbc4 145.5px,#77ffb9 146.5px,#73febb 147.5px,#65fcc2 148.5px,#70febd 149.5px,#57f7ca 150.5px,#79ffb8 151.5px,#85ffb1 152.5px,#56f7ca 153.5px,#6dfdbe 154.5px,#5ffac5 155.5px,#65fcc2 157.5px,#73febb 158.5px,#56f7ca 159.5px,#88ffaf 160.5px,#72febc 163.5px,#84ffb2 164.5px,#6cfdbf 165.5px,#56f7ca 167.5px,#66fcc2 168.5px,#83ffb3 169.5px,#7dffb6 170.5px,#89ffaf 171.5px,#44eed2 172.5px,#5df9c6 173.5px,#81ffb3 174.5px,#5df9c6 175.5px,#5df9c6 177.5px,#91feab 178.5px,#7effb5 179.5px,#5df9c6 180.5px,#65fcc2 181.5px,#85ffb1 182.5px,#68fcc1 183.5px,#81ffb3 184.5px,#70febd 185.5px,#69fdc0 186.5px,#6cfdbf 187.5px,#7bffb7 188.5px,#77ffb9 189.5px,#4ef3ce 191.5px,#64fbc3 192.5px,#70febd 193.5px,#5cf9c7 194.5px,#7cffb6 195.5px,#5af8c8 196.5px,#7affb8 197.5px,#57f7c9 198.5px,#97fca7 199.5px,#69fdc0 200.5px,#7affb7 202.5px,#57f7c9 203.5px,#60fac5 204.5px,#54f6cb 205.5px,#76ffb9 207.5px,#79ffb8 208.5px,#67fcc1 209.5px,#65fcc2 210.5px,#4cf2ce 211.5px,#9cfba4 212.5px,#66fcc2 213.5px,#62fbc4 214.5px,#91fdaa 215.5px,#73febb 216.5px,#7bffb7 217.5px,#54f6cb 218.5px,#84ffb2 219.5px,#73febb 220.5px,#83ffb3 221.5px,#6dfdbe 222.5px,#4ef3ce 223.5px,#5af8c8 224.5px,#9bfba4 225.5px,#74febb 226.5px,#6dfdbe 227.5px,#92fdaa 229.5px,#6dfdbe 230.5px,#77ffb9 231.5px,#5efac6 232.5px,#6ffebd 233.5px,#49f1d0 234.5px,#84ffb2 237.5px,#46efd1 238.5px,#7effb5 239.5px,#63fbc4 240.5px,#38e7d7 241.5px,#87ffb0 242.5px,#7affb8 243.5px,#7dffb6 244.5px,#71febc 245.5px,#75feba 246.5px,#68fcc1 247.5px,#75feba 249.5px,#70febd 250.5px,#52f5cc 251.5px,#9afca5 252.5px,#5ffac5 253.5px,#6cfdbf 254.5px,#8ffeac 255.5px,#6bfdbf 256.5px,#68fcc1 257.5px,#7bffb7 258.5px,#5cf9c7 259.5px,#6cfdbf 260.5px,#94fda9 261.5px,#69fdc0 262.5px,#86ffb0 263.5px,#74febb 264.5px,#6afdc0 266.5px,#9bfba5 267.5px,#6ffebd 268.5px,#72febc 269.5px,#84ffb2 270.5px,#7affb7 271.5px,#5af8c8 272.5px,#81ffb4 273.5px,#5cf9c7 275.5px,#7cffb6 276.5px,#62fbc4 277.5px,#7bffb7 278.5px,#52f5cc 279.5px,#70febd 280.5px,#71febc 281.5px,#91feaa 282.5px,#6bfdbf 283.5px,#7affb7 284.5px,#6ffebd 285.5px,#56f7ca 286.5px,#7cffb6 287.5px,#6bfdc0 288.5px,#5ffac6 290.5px,#71febc 292.5px,#82ffb3 293.5px,#7fffb4 294.5px,#6afdc0 295.5px,#69fcc1 296.5px,#5bf9c7 297.5px,#5cf9c7 298.5px,#6bfdbf 299.5px,#5af8c8 300.5px,#89ffaf 301.5px,#4ff3cd 302.5px,#63fbc3 303.5px,#6ffebd 307.5px,#60fac5 308.5px,#87ffb0 310.5px,#71febc 312.5px,#4df3ce 313.5px,#68fcc1 314.5px,#4cf2cf 315.5px,#61fac5 316.5px,#58f8c9 317.5px,#66fcc2 318.5px,#4af1cf 319.5px,#7affb7 321.5px,#64fbc3 323.5px,#73febb 324.5px,#72febc 325.5px,#7affb8 326.5px,#56f7ca 327.5px,#65fcc2 328.5px,#4af1cf 329.5px,#32e3da 331.5px,#69fcc1 332.5px,#7dffb5 333.5px,#5ffac5 334.5px,#61fbc4 335.5px,#73febb 336.5px,#70febc 338.5px,#54f6cb 339.5px,#81ffb3 340.5px,#6bfdc0 341.5px,#85ffb1 342.5px,#80ffb4 343.5px,#6cfdbf 344.5px,#80ffb4 345.5px,#71febc 346.5px,#74feba 347.5px,#6afdc0 348.5px,#80ffb4 350.5px,#51f5cc 351.5px,#99fca6 352.5px,#6cfdbf 353.5px,#7affb7 354.5px,#4cf2cf 355.5px,#71febc 356.5px,#66fcc2 357.5px,#89ffaf 358.5px,#6bfdbf 359.5px,#73febb 360.5px,#66fcc2 363.5px,#4ff4cd 364.5px,#8affaf 365.5px,#4af1cf 366.5px,#77ffb9 368.5px,#57f7ca 369.5px,#5df9c6 370.5px,#72febc 371.5px,#90feab 372.5px,#89ffaf 373.5px,#8bfeae 374.5px,#50f4cd 375.5px,#77ffb9 376.5px,#47f0d1 377.5px,#71febc 378.5px,#7affb7 379.5px,#5cf9c7 380.5px,#5df9c7 381.5px,#7affb8 382.5px,#71febc 384.5px,#5bf9c7 385.5px,#76ffb9 386.5px,#78ffb8 388.5px,#5bf9c7 389.5px,#60fac5 390.5px,#4ff4cd 391.5px,#5ffac5 392.5px,#3eebd5 394.5px,#4ef3ce 395.5px,#77ffb9 396.5px,#7fffb5 397.5px,#4cf2cf 398.5px,#67fcc1 399.5px,#50f4cd 400.5px,#73febb 401.5px,#6afdc0 402.5px,#4bf2cf 403.5px,#41ecd4 404.5px,#6afdc0 405.5px,#79ffb8 406.5px,#72febb 407.5px,#59f8c9 408.5px,#49f1d0 409.5px,#7cffb6 410.5px,#66fcc2 413.5px,#36e5d8 414.5px,#69fcc0 415.5px,#48f0d1 416.5px,#68fcc1 419.5px,#50f4cd 420.5px,#73febb 422.5px,#44eed2 423.5px,#52f5cc 424.5px,#53f5cb 426.5px,#49f1d0 427.5px,#80ffb4 428.5px,#4cf2cf 429.5px,#31e2da 430.5px,#51f4cc 431.5px,#5cf9c7 432.5px,#53f5cb 433.5px,#71febc 435.5px,#43edd3 436.5px,#5bf9c7 438.5px,#49f1d0 440.5px,#4df3ce 442.5px,#1cd1e2 443.5px,#53f5cb 444.5px,#3febd4 446.5px,#50f4cd 447.5px,#18cde4 448.5px,#38e7d7 449.5px,#7affb8 450.5px,#4ef3ce 451.5px,#40ecd4 452.5px,#63fbc4 453.5px,#48f0d0 454.5px,#63fbc3 455.5px,#37e6d8 456.5px,#2cdedc 457.5px,#31e2da 458.5px,#45efd2 459.5px,#4cf2cf 460.5px,#25d8df 461.5px,#27dade 462.5px,#4ff4cd 463.5px,#2bdddd 464.5px,#44eed2 465.5px,#18cde4 466.5px,#3eebd5 467.5px,#4df3ce 468.5px,#40ecd4 469.5px,#54f6cb 471.5px,#2edfdc 472.5px,#32e2da 473.5px,#23d7e0 474.5px,#3dead5 476.5px,#1acfe3 477.5px,#28dbde 478.5px,#49f1d0 479.5px,#33e3d9 480.5px,#41ecd3 481.5px,#23d7e0 482.5px,#29dcdd 483.5px,#3dead5 484.5px,#3febd4 485.5px,#1fd3e1 486.5px,#0dc3e7 487.5px,#22d6e0 488.5px,#24d7df 489.5px,#47f0d1 490.5px,#26d9df 491.5px,#32e2da 493.5px,#22d6e0 494.5px,#22d6e0 495.5px,#43eed3 496.5px,#14c9e5 497.5px,#24d8df 499.5px,#16cbe5 500.5px,#26d9df 502.5px,#21d5e1 503.5px,#0cc2e8 504.5px,#21d5e0 505.5px,#13c8e5 506.5px,#21d5e0 507.5px,#21d5e1 509.5px,#16cbe4 510.5px,#18cde4 511.5px,#07bbea 512.5px,#10c5e7 513.5px,#0ec3e7 515.5px,#21d5e1 516.5px,#06bbea 517.5px,#27dade 518.5px,#04b9ea 519.5px,#0fc4e7 520.5px,#01b3ec 521.5px,#14c9e5 522.5px,#09bee9 523.5px,#14c9e5 524.5px,#0bc0e8 526.5px,#09aaee 527.5px,#08abee 528.5px,#0cc1e8 529.5px,#14c9e5 530.5px,#11c6e6 532.5px,#01b5eb 533.5px,#04b9ea 534.5px,#0ea4f0 535.5px,#09aaee 536.5px,#228bf4 537.5px,#05baea 538.5px,#0dc2e8 539.5px,#11a1f0 540.5px,#1799f2 542.5px,#00b4ec 543.5px,#09aaee 545.5px,#04b0ed 546.5px,#0ea4f0 547.5px,#0aa9ee 548.5px,#169af2 549.5px,#169af2 550.5px,#0ca7ef 551.5px,#159cf1 552.5px,#0fa3f0 553.5px,#1898f2 555.5px,#2489f5 556.5px,#1c92f3 557.5px,#228bf4 558.5px,#1b95f3 559.5px,#238af5 560.5px,#1c93f3 561.5px,#2389f5 562.5px,#1d92f3 563.5px,#2883f6 564.5px,#1f8ef4 565.5px,#1e90f4 567.5px,#2c7df7 570.5px,#2784f6 571.5px,#2d7cf7 577.5px,#2b7ff6 578.5px,#2e7bf7 580.5px,#3078f7 583.5px,#3078f7 590.5px,#3a6af9 616.5px,#f00 617.5px,#3b68f9 618.5px,#425ffa 660.5px,#5247fc 909.5px,#5444fd 1153.5px,#f00 1154.5px,#5444fd 1155.5px,#f00 1156.5px,#f00 1157.5px,#5444fd 1158.5px,#5543fd 1232.5px,#f00 1233.5px,#f00 1234.5px,#5543fd 1235.5px,#5542fd 1295.5px,#f00 1296.5px,#f00 1297.5px,#5542fd 1298.5px,#5641fd 1346.5px,#f00 1347.5px,#f00 1348.5px,#5641fd 1349.5px,#5641fd 1391.5px,#f00 1392.5px,#5641fd 1393.5px,#573ffd 1491.5px)"></i><i style="top:603px;height:1px;background:linear-gradient(90deg,#89ffaf 0.5px,#78ffb8 1.5px,#a1faa1 2.5px,#65fcc2 3.5px,#7affb7 4.5px,#71febc 7.5px,#51f5cc 8.5px,#5ef9c6 9.5px,#7effb5 10.5px,#8afeaf 11.5px,#a0faa1 12.5px,#63fbc3 13.5px,#5efac6 14.5px,#6dfdbe 15.5px,#6cfdbf 16.5px,#81ffb4 17.5px,#64fbc3 18.5px,#7dffb6 19.5px,#73febb 21.5px,#63fbc4 22.5px,#73febb 23.5px,#61fac4 24.5px,#8dfead 25.5px,#43edd3 26.5px,#7fffb4 27.5px,#69fdc0 28.5px,#90feab 29.5px,#7fffb5 30.5px,#5af8c8 31.5px,#66fcc2 32.5px,#6cfdbf 34.5px,#92fdaa 36.5px,#83ffb2 37.5px,#33e3d9 38.5px,#75feba 39.5px,#88ffb0 40.5px,#82ffb3 41.5px,#abf69a 42.5px,#64fbc3 43.5px,#80ffb4 45.5px,#87ffb0 46.5px,#6cfdbf 47.5px,#4bf2cf 48.5px,#55f6ca 49.5px,#91feab 50.5px,#7dffb6 51.5px,#78ffb8 52.5px,#51f5cc 53.5px,#6afdc0 55.5px,#60fac5 56.5px,#74febb 57.5px,#7dffb6 58.5px,#63fbc3 59.5px,#6afdc0 60.5px,#89ffaf 61.5px,#4cf2ce 62.5px,#65fcc3 63.5px,#5bf9c7 65.5px,#72febc 66.5px,#3ae8d6 67.5px,#5df9c7 68.5px,#7affb7 69.5px,#9bfba4 70.5px,#7effb5 71.5px,#47f0d1 72.5px,#76ffb9 73.5px,#6efebe 74.5px,#94fda8 75.5px,#7affb7 77.5px,#86ffb1 78.5px,#71febc 79.5px,#78ffb8 80.5px,#76ffba 81.5px,#5ffac5 83.5px,#8efeac 84.5px,#78ffb8 85.5px,#79ffb8 86.5px,#97fca7 87.5px,#66fcc2 88.5px,#75feba 90.5px,#51f5cc 91.5px,#7effb5 92.5px,#73febb 93.5px,#5af8c8 94.5px,#73febb 96.5px,#a0faa1 97.5px,#72febc 98.5px,#4ff4cd 99.5px,#7dffb6 100.5px,#70febd 101.5px,#59f8c8 102.5px,#7affb7 105.5px,#72febc 106.5px,#52f5cc 107.5px,#70febc 108.5px,#59f8c8 109.5px,#70febd 110.5px,#5df9c6 111.5px,#87ffb0 113.5px,#68fcc1 114.5px,#5cf9c7 115.5px,#84ffb2 116.5px,#67fcc1 117.5px,#6ffebd 118.5px,#6cfdbf 120.5px,#78ffb9 121.5px,#74febb 122.5px,#82ffb3 123.5px,#73febb 124.5px,#85ffb1 125.5px,#62fbc4 127.5px,#53f6cb 128.5px,#84ffb2 129.5px,#77ffb9 130.5px,#4bf2cf 131.5px,#73febb 132.5px,#75feba 134.5px,#82ffb3 135.5px,#57f7ca 136.5px,#47efd1 137.5px,#9afca5 138.5px,#72febc 139.5px,#72febb 140.5px,#9cfba4 141.5px,#77ffb9 142.5px,#5df9c7 143.5px,#82ffb3 144.5px,#62fbc4 145.5px,#77ffb9 146.5px,#73febb 147.5px,#65fcc2 148.5px,#70febd 149.5px,#57f7ca 150.5px,#79ffb8 151.5px,#85ffb1 152.5px,#56f7ca 153.5px,#6dfdbe 154.5px,#5ffac5 155.5px,#65fcc2 157.5px,#73febb 158.5px,#56f7ca 159.5px,#88ffaf 160.5px,#72febc 163.5px,#84ffb2 164.5px,#6cfdbf 165.5px,#56f7ca 167.5px,#66fcc2 168.5px,#83ffb3 169.5px,#7dffb6 170.5px,#89ffaf 171.5px,#44eed2 172.5px,#5df9c6 173.5px,#81ffb3 174.5px,#5df9c6 175.5px,#5df9c6 177.5px,#91feab 178.5px,#7effb5 179.5px,#5df9c6 180.5px,#65fcc2 181.5px,#85ffb1 182.5px,#68fcc1 183.5px,#81ffb3 184.5px,#70febd 185.5px,#69fdc0 186.5px,#6cfdbf 187.5px,#7bffb7 188.5px,#77ffb9 189.5px,#4ef3ce 191.5px,#64fbc3 192.5px,#70febd 193.5px,#5cf9c7 194.5px,#7cffb6 195.5px,#5af8c8 196.5px,#7affb8 197.5px,#57f7c9 198.5px,#97fca7 199.5px,#69fdc0 200.5px,#7affb7 202.5px,#57f7c9 203.5px,#60fac5 204.5px,#54f6cb 205.5px,#76ffb9 207.5px,#79ffb8 208.5px,#67fcc1 209.5px,#65fcc2 210.5px,#4cf2ce 211.5px,#9cfba4 212.5px,#66fcc2 213.5px,#62fbc4 214.5px,#91fdaa 215.5px,#73febb 216.5px,#7bffb7 217.5px,#54f6cb 218.5px,#84ffb2 219.5px,#73febb 220.5px,#83ffb3 221.5px,#6dfdbe 222.5px,#4ef3ce 223.5px,#5af8c8 224.5px,#9bfba4 225.5px,#74febb 226.5px,#6dfdbe 227.5px,#92fdaa 229.5px,#6dfdbe 230.5px,#77ffb9 231.5px,#5efac6 232.5px,#6ffebd 233.5px,#49f1d0 234.5px,#84ffb2 237.5px,#46efd1 238.5px,#7effb5 239.5px,#63fbc4 240.5px,#38e7d7 241.5px,#87ffb0 242.5px,#7affb8 243.5px,#7dffb6 244.5px,#71febc 245.5px,#75feba 246.5px,#68fcc1 247.5px,#75feba 249.5px,#70febd 250.5px,#52f5cc 251.5px,#9afca5 252.5px,#5ffac5 253.5px,#6cfdbf 254.5px,#8ffeac 255.5px,#6bfdbf 256.5px,#68fcc1 257.5px,#7bffb7 258.5px,#5cf9c7 259.5px,#6cfdbf 260.5px,#94fda9 261.5px,#69fdc0 262.5px,#86ffb0 263.5px,#74febb 264.5px,#6afdc0 266.5px,#9bfba5 267.5px,#6ffebd 268.5px,#72febc 269.5px,#84ffb2 270.5px,#7affb7 271.5px,#5af8c8 272.5px,#81ffb4 273.5px,#5cf9c7 275.5px,#7cffb6 276.5px,#62fbc4 277.5px,#7bffb7 278.5px,#52f5cc 279.5px,#70febd 280.5px,#71febc 281.5px,#91feaa 282.5px,#6bfdbf 283.5px,#7affb7 284.5px,#6ffebd 285.5px,#56f7ca 286.5px,#7cffb6 287.5px,#6bfdc0 288.5px,#5ffac6 290.5px,#71febc 292.5px,#82ffb3 293.5px,#7fffb4 294.5px,#6afdc0 295.5px,#69fcc1 296.5px,#5bf9c7 297.5px,#5cf9c7 298.5px,#6bfdbf 299.5px,#5af8c8 300.5px,#89ffaf 301.5px,#4ff3cd 302.5px,#63fbc3 303.5px,#6ffebd 307.5px,#60fac5 308.5px,#87ffb0 310.5px,#71febc 312.5px,#4df3ce 313.5px,#68fcc1 314.5px,#4cf2cf 315.5px,#61fac5 316.5px,#58f8c9 317.5px,#66fcc2 318.5px,#4af1cf 319.5px,#7affb7 321.5px,#64fbc3 323.5px,#73febb 324.5px,#72febc 325.5px,#7affb8 326.5px,#56f7ca 327.5px,#65fcc2 328.5px,#4af1cf 329.5px,#32e3da 331.5px,#69fcc1 332.5px,#7dffb5 333.5px,#5ffac5 334.5px,#61fbc4 335.5px,#73febb 336.5px,#70febc 338.5px,#54f6cb 339.5px,#81ffb3 340.5px,#6bfdc0 341.5px,#85ffb1 342.5px,#80ffb4 343.5px,#6cfdbf 344.5px,#80ffb4 345.5px,#71febc 346.5px,#74feba 347.5px,#6afdc0 348.5px,#80ffb4 350.5px,#51f5cc 351.5px,#99fca6 352.5px,#6cfdbf 353.5px,#7affb7 354.5px,#4cf2cf 355.5px,#71febc 356.5px,#66fcc2 357.5px,#89ffaf 358.5px,#6bfdbf 359.5px,#73febb 360.5px,#66fcc2 363.5px,#4ff4cd 364.5px,#8affaf 365.5px,#4af1cf 366.5px,#77ffb9 368.5px,#57f7ca 369.5px,#5df9c6 370.5px,#72febc 371.5px,#90feab 372.5px,#89ffaf 373.5px,#8bfeae 374.5px,#50f4cd 375.5px,#77ffb9 376.5px,#47f0d1 377.5px,#71febc 378.5px,#7affb7 379.5px,#5cf9c7 380.5px,#5df9c7 381.5px,#7affb8 382.5px,#71febc 384.5px,#5bf9c7 385.5px,#76ffb9 386.5px,#78ffb8 388.5px,#5bf9c7 389.5px,#60fac5 390.5px,#4ff4cd 391.5px,#5ffac5 392.5px,#3eebd5 394.5px,#4ef3ce 395.5px,#77ffb9 396.5px,#7fffb5 397.5px,#4cf2cf 398.5px,#67fcc1 399.5px,#50f4cd 400.5px,#73febb 401.5px,#6afdc0 402.5px,#4bf2cf 403.5px,#41ecd4 404.5px,#6afdc0 405.5px,#79ffb8 406.5px,#72febb 407.5px,#59f8c9 408.5px,#49f1d0 409.5px,#7cffb6 410.5px,#66fcc2 413.5px,#36e5d8 414.5px,#69fcc0 415.5px,#48f0d1 416.5px,#68fcc1 419.5px,#50f4cd 420.5px,#73febb 422.5px,#44eed2 423.5px,#52f5cc 424.5px,#53f5cb 426.5px,#49f1d0 427.5px,#80ffb4 428.5px,#4cf2cf 429.5px,#31e2da 430.5px,#51f4cc 431.5px,#5cf9c7 432.5px,#53f5cb 433.5px,#71febc 435.5px,#43edd3 436.5px,#5bf9c7 438.5px,#49f1d0 440.5px,#4df3ce 442.5px,#1cd1e2 443.5px,#53f5cb 444.5px,#3febd4 446.5px,#50f4cd 447.5px,#18cde4 448.5px,#38e7d7 449.5px,#7affb8 450.5px,#4ef3ce 451.5px,#40ecd4 452.5px,#63fbc4 453.5px,#48f0d0 454.5px,#63fbc3 455.5px,#37e6d8 456.5px,#2cdedc 457.5px,#31e2da 458.5px,#45efd2 459.5px,#4cf2cf 460.5px,#25d8df 461.5px,#27dade 462.5px,#4ff4cd 463.5px,#2bdddd 464.5px,#44eed2 465.5px,#18cde4 466.5px,#3eebd5 467.5px,#4df3ce 468.5px,#40ecd4 469.5px,#54f6cb 471.5px,#2edfdc 472.5px,#32e2da 473.5px,#23d7e0 474.5px,#3dead5 476.5px,#1acfe3 477.5px,#28dbde 478.5px,#49f1d0 479.5px,#33e3d9 480.5px,#41ecd3 481.5px,#23d7e0 482.5px,#29dcdd 483.5px,#3dead5 484.5px,#3febd4 485.5px,#1fd3e1 486.5px,#0dc3e7 487.5px,#22d6e0 488.5px,#24d7df 489.5px,#47f0d1 490.5px,#26d9df 491.5px,#32e2da 493.5px,#22d6e0 494.5px,#22d6e0 495.5px,#43eed3 496.5px,#14c9e5 497.5px,#24d8df 499.5px,#16cbe5 500.5px,#26d9df 502.5px,#21d5e1 503.5px,#0cc2e8 504.5px,#21d5e0 505.5px,#13c8e5 506.5px,#21d5e0 507.5px,#21d5e1 509.5px,#16cbe4 510.5px,#18cde4 511.5px,#07bbea 512.5px,#10c5e7 513.5px,#0ec3e7 515.5px,#21d5e1 516.5px,#06bbea 517.5px,#27dade 518.5px,#04b9ea 519.5px,#0fc4e7 520.5px,#01b3ec 521.5px,#14c9e5 522.5px,#09bee9 523.5px,#14c9e5 524.5px,#0bc0e8 526.5px,#09aaee 527.5px,#08abee 528.5px,#0cc1e8 529.5px,#14c9e5 530.5px,#11c6e6 532.5px,#01b5eb 533.5px,#04b9ea 534.5px,#0ea4f0 535.5px,#09aaee 536.5px,#228bf4 537.5px,#05baea 538.5px,#0dc2e8 539.5px,#11a1f0 540.5px,#1799f2 542.5px,#00b4ec 543.5px,#09aaee 545.5px,#04b0ed 546.5px,#0ea4f0 547.5px,#0aa9ee 548.5px,#169af2 549.5px,#169af2 550.5px,#0ca7ef 551.5px,#159cf1 552.5px,#0fa3f0 553.5px,#1898f2 555.5px,#2489f5 556.5px,#1c92f3 557.5px,#228bf4 558.5px,#1b95f3 559.5px,#238af5 560.5px,#1c93f3 561.5px,#2389f5 562.5px,#1d92f3 563.5px,#2883f6 564.5px,#1f8ef4 565.5px,#1e90f4 567.5px,#2c7df7 570.5px,#2784f6 571.5px,#2d7cf7 577.5px,#2b7ff6 578.5px,#2e7bf7 580.5px,#3078f7 583.5px,#3078f7 590.5px,#3a6af9 616.5px,#f00 617.5px,#3b68f9 618.5px,#425ffa 660.5px,#5247fc 909.5px,#5247fc 915.5px,#f00 916.5px,#f00 917.5px,#5247fc 918.5px,#5444fd 1153.5px,#f00 1154.5px,#5444fd 1155.5px,#f00 1156.5px,#f00 1157.5px,#5444fd 1158.5px,#5443fd 1170.5px,#f00 1171.5px,#f00 1172.5px,#5443fd 1173.5px,#5543fd 1232.5px,#f00 1233.5px,#f00 1234.5px,#5543fd 1235.5px,#5542fd 1295.5px,#f00 1296.5px,#f00 1297.5px,#5542fd 1298.5px,#5641fd 1346.5px,#f00 1347.5px,#f00 1348.5px,#5641fd 1349.5px,#5641fd 1391.5px,#f00 1392.5px,#5641fd 1393.5px,#573ffd 1491.5px)"></i><i style="top:604px;height:1px;background:linear-gradient(90deg,#89ffaf 0.5px,#78ffb8 1.5px,#a1faa1 2.5px,#65fcc2 3.5px,#7affb7 4.5px,#71febc 7.5px,#51f5cc 8.5px,#5ef9c6 9.5px,#7effb5 10.5px,#8afeaf 11.5px,#a0faa1 12.5px,#63fbc3 13.5px,#5efac6 14.5px,#6dfdbe 15.5px,#6cfdbf 16.5px,#81ffb4 17.5px,#64fbc3 18.5px,#7dffb6 19.5px,#73febb 21.5px,#63fbc4 22.5px,#73febb 23.5px,#61fac4 24.5px,#8dfead 25.5px,#43edd3 26.5px,#7fffb4 27.5px,#69fdc0 28.5px,#90feab 29.5px,#7fffb5 30.5px,#5af8c8 31.5px,#66fcc2 32.5px,#6cfdbf 34.5px,#92fdaa 36.5px,#83ffb2 37.5px,#33e3d9 38.5px,#75feba 39.5px,#88ffb0 40.5px,#82ffb3 41.5px,#abf69a 42.5px,#64fbc3 43.5px,#80ffb4 45.5px,#87ffb0 46.5px,#6cfdbf 47.5px,#4bf2cf 48.5px,#55f6ca 49.5px,#91feab 50.5px,#7dffb6 51.5px,#78ffb8 52.5px,#51f5cc 53.5px,#6afdc0 55.5px,#60fac5 56.5px,#74febb 57.5px,#7dffb6 58.5px,#63fbc3 59.5px,#6afdc0 60.5px,#89ffaf 61.5px,#4cf2ce 62.5px,#65fcc3 63.5px,#5bf9c7 65.5px,#72febc 66.5px,#3ae8d6 67.5px,#5df9c7 68.5px,#7affb7 69.5px,#9bfba4 70.5px,#7effb5 71.5px,#47f0d1 72.5px,#76ffb9 73.5px,#6efebe 74.5px,#94fda8 75.5px,#7affb7 77.5px,#86ffb1 78.5px,#71febc 79.5px,#78ffb8 80.5px,#76ffba 81.5px,#5ffac5 83.5px,#8efeac 84.5px,#78ffb8 85.5px,#79ffb8 86.5px,#97fca7 87.5px,#66fcc2 88.5px,#75feba 90.5px,#51f5cc 91.5px,#7effb5 92.5px,#73febb 93.5px,#5af8c8 94.5px,#73febb 96.5px,#a0faa1 97.5px,#72febc 98.5px,#4ff4cd 99.5px,#7dffb6 100.5px,#70febd 101.5px,#59f8c8 102.5px,#7affb7 105.5px,#72febc 106.5px,#52f5cc 107.5px,#70febc 108.5px,#59f8c8 109.5px,#70febd 110.5px,#5df9c6 111.5px,#87ffb0 113.5px,#68fcc1 114.5px,#5cf9c7 115.5px,#84ffb2 116.5px,#67fcc1 117.5px,#6ffebd 118.5px,#6cfdbf 120.5px,#78ffb9 121.5px,#74febb 122.5px,#82ffb3 123.5px,#73febb 124.5px,#85ffb1 125.5px,#62fbc4 127.5px,#53f6cb 128.5px,#84ffb2 129.5px,#77ffb9 130.5px,#4bf2cf 131.5px,#73febb 132.5px,#75feba 134.5px,#82ffb3 135.5px,#57f7ca 136.5px,#47efd1 137.5px,#9afca5 138.5px,#72febc 139.5px,#72febb 140.5px,#9cfba4 141.5px,#77ffb9 142.5px,#5df9c7 143.5px,#82ffb3 144.5px,#62fbc4 145.5px,#77ffb9 146.5px,#73febb 147.5px,#65fcc2 148.5px,#70febd 149.5px,#57f7ca 150.5px,#79ffb8 151.5px,#85ffb1 152.5px,#56f7ca 153.5px,#6dfdbe 154.5px,#5ffac5 155.5px,#65fcc2 157.5px,#73febb 158.5px,#56f7ca 159.5px,#88ffaf 160.5px,#72febc 163.5px,#84ffb2 164.5px,#6cfdbf 165.5px,#56f7ca 167.5px,#66fcc2 168.5px,#83ffb3 169.5px,#7dffb6 170.5px,#89ffaf 171.5px,#44eed2 172.5px,#5df9c6 173.5px,#81ffb3 174.5px,#5df9c6 175.5px,#5df9c6 177.5px,#91feab 178.5px,#7effb5 179.5px,#5df9c6 180.5px,#65fcc2 181.5px,#85ffb1 182.5px,#68fcc1 183.5px,#81ffb3 184.5px,#70febd 185.5px,#69fdc0 186.5px,#6cfdbf 187.5px,#7bffb7 188.5px,#77ffb9 189.5px,#4ef3ce 191.5px,#64fbc3 192.5px,#70febd 193.5px,#5cf9c7 194.5px,#7cffb6 195.5px,#5af8c8 196.5px,#7affb8 197.5px,#57f7c9 198.5px,#97fca7 199.5px,#69fdc0 200.5px,#7affb7 202.5px,#57f7c9 203.5px,#60fac5 204.5px,#54f6cb 205.5px,#76ffb9 207.5px,#79ffb8 208.5px,#67fcc1 209.5px,#65fcc2 210.5px,#4cf2ce 211.5px,#9cfba4 212.5px,#66fcc2 213.5px,#62fbc4 214.5px,#91fdaa 215.5px,#73febb 216.5px,#7bffb7 217.5px,#54f6cb 218.5px,#84ffb2 219.5px,#73febb 220.5px,#83ffb3 221.5px,#6dfdbe 222.5px,#4ef3ce 223.5px,#5af8c8 224.5px,#9bfba4 225.5px,#74febb 226.5px,#6dfdbe 227.5px,#92fdaa 229.5px,#6dfdbe 230.5px,#77ffb9 231.5px,#5efac6 232.5px,#6ffebd 233.5px,#49f1d0 234.5px,#84ffb2 237.5px,#46efd1 238.5px,#7effb5 239.5px,#63fbc4 240.5px,#38e7d7 241.5px,#87ffb0 242.5px,#7affb8 243.5px,#7dffb6 244.5px,#71febc 245.5px,#75feba 246.5px,#68fcc1 247.5px,#75feba 249.5px,#70febd 250.5px,#52f5cc 251.5px,#9afca5 252.5px,#5ffac5 253.5px,#6cfdbf 254.5px,#8ffeac 255.5px,#6bfdbf 256.5px,#68fcc1 257.5px,#7bffb7 258.5px,#5cf9c7 259.5px,#6cfdbf 260.5px,#94fda9 261.5px,#69fdc0 262.5px,#86ffb0 263.5px,#74febb 264.5px,#6afdc0 266.5px,#9bfba5 267.5px,#6ffebd 268.5px,#72febc 269.5px,#84ffb2 270.5px,#7affb7 271.5px,#5af8c8 272.5px,#81ffb4 273.5px,#5cf9c7 275.5px,#7cffb6 276.5px,#62fbc4 277.5px,#7bffb7 278.5px,#52f5cc 279.5px,#70febd 280.5px,#71febc 281.5px,#91feaa 282.5px,#6bfdbf 283.5px,#7affb7 284.5px,#6ffebd 285.5px,#56f7ca 286.5px,#7cffb6 287.5px,#6bfdc0 288.5px,#5ffac6 290.5px,#71febc 292.5px,#82ffb3 293.5px,#7fffb4 294.5px,#6afdc0 295.5px,#69fcc1 296.5px,#5bf9c7 297.5px,#5cf9c7 298.5px,#6bfdbf 299.5px,#5af8c8 300.5px,#89ffaf 301.5px,#4ff3cd 302.5px,#63fbc3 303.5px,#6ffebd 307.5px,#60fac5 308.5px,#87ffb0 310.5px,#71febc 312.5px,#4df3ce 313.5px,#68fcc1 314.5px,#4cf2cf 315.5px,#61fac5 316.5px,#58f8c9 317.5px,#66fcc2 318.5px,#4af1cf 319.5px,#7affb7 321.5px,#64fbc3 323.5px,#73febb 324.5px,#72febc 325.5px,#7affb8 326.5px,#56f7ca 327.5px,#65fcc2 328.5px,#4af1cf 329.5px,#32e3da 331.5px,#69fcc1 332.5px,#7dffb5 333.5px,#5ffac5 334.5px,#61fbc4 335.5px,#73febb 336.5px,#70febc 338.5px,#54f6cb 339.5px,#81ffb3 340.5px,#6bfdc0 341.5px,#85ffb1 342.5px,#80ffb4 343.5px,#6cfdbf 344.5px,#80ffb4 345.5px,#71febc 346.5px,#74feba 347.5px,#6afdc0 348.5px,#80ffb4 350.5px,#51f5cc 351.5px,#99fca6 352.5px,#6cfdbf 353.5px,#7affb7 354.5px,#4cf2cf 355.5px,#71febc 356.5px,#66fcc2 357.5px,#89ffaf 358.5px,#6bfdbf 359.5px,#73febb 360.5px,#66fcc2 363.5px,#4ff4cd 364.5px,#8affaf 365.5px,#4af1cf 366.5px,#77ffb9 368.5px,#57f7ca 369.5px,#5df9c6 370.5px,#72febc 371.5px,#90feab 372.5px,#89ffaf 373.5px,#8bfeae 374.5px,#50f4cd 375.5px,#77ffb9 376.5px,#47f0d1 377.5px,#71febc 378.5px,#7affb7 379.5px,#5cf9c7 380.5px,#5df9c7 381.5px,#7affb8 382.5px,#71febc 384.5px,#5bf9c7 385.5px,#76ffb9 386.5px,#78ffb8 388.5px,#5bf9c7 389.5px,#60fac5 390.5px,#4ff4cd 391.5px,#5ffac5 392.5px,#3eebd5 394.5px,#4ef3ce 395.5px,#77ffb9 396.5px,#7fffb5 397.5px,#4cf2cf 398.5px,#67fcc1 399.5px,#50f4cd 400.5px,#73febb 401.5px,#6afdc0 402.5px,#4bf2cf 403.5px,#41ecd4 404.5px,#6afdc0 405.5px,#79ffb8 406.5px,#72febb 407.5px,#59f8c9 408.5px,#49f1d0 409.5px,#7cffb6 410.5px,#66fcc2 413.5px,#36e5d8 414.5px,#69fcc0 415.5px,#48f0d1 416.5px,#68fcc1 419.5px,#50f4cd 420.5px,#73febb 422.5px,#44eed2 423.5px,#52f5cc 424.5px,#53f5cb 426.5px,#49f1d0 427.5px,#80ffb4 428.5px,#4cf2cf 429.5px,#31e2da 430.5px,#51f4cc 431.5px,#5cf9c7 432.5px,#53f5cb 433.5px,#71febc 435.5px,#43edd3 436.5px,#5bf9c7 438.5px,#49f1d0 440.5px,#4df3ce 442.5px,#1cd1e2 443.5px,#53f5cb 444.5px,#3febd4 446.5px,#50f4cd 447.5px,#18cde4 448.5px,#38e7d7 449.5px,#7affb8 450.5px,#4ef3ce 451.5px,#40ecd4 452.5px,#63fbc4 453.5px,#48f0d0 454.5px,#63fbc3 455.5px,#37e6d8 456.5px,#2cdedc 457.5px,#31e2da 458.5px,#45efd2 459.5px,#4cf2cf 460.5px,#25d8df 461.5px,#27dade 462.5px,#4ff4cd 463.5px,#2bdddd 464.5px,#44eed2 465.5px,#18cde4 466.5px,#3eebd5 467.5px,#4df3ce 468.5px,#40ecd4 469.5px,#54f6cb 471.5px,#2edfdc 472.5px,#32e2da 473.5px,#23d7e0 474.5px,#3dead5 476.5px,#1acfe3 477.5px,#28dbde 478.5px,#49f1d0 479.5px,#33e3d9 480.5px,#41ecd3 481.5px,#23d7e0 482.5px,#29dcdd 483.5px,#3dead5 484.5px,#3febd4 485.5px,#1fd3e1 486.5px,#0dc3e7 487.5px,#22d6e0 488.5px,#24d7df 489.5px,#47f0d1 490.5px,#26d9df 491.5px,#32e2da 493.5px,#22d6e0 494.5px,#22d6e0 495.5px,#43eed3 496.5px,#14c9e5 497.5px,#24d8df 499.5px,#16cbe5 500.5px,#26d9df 502.5px,#21d5e1 503.5px,#0cc2e8 504.5px,#21d5e0 505.5px,#13c8e5 506.5px,#21d5e0 507.5px,#21d5e1 509.5px,#16cbe4 510.5px,#18cde4 511.5px,#07bbea 512.5px,#10c5e7 513.5px,#0ec3e7 515.5px,#21d5e1 516.5px,#06bbea 517.5px,#27dade 518.5px,#04b9ea 519.5px,#0fc4e7 520.5px,#01b3ec 521.5px,#14c9e5 522.5px,#09bee9 523.5px,#14c9e5 524.5px,#0bc0e8 526.5px,#09aaee 527.5px,#08abee 528.5px,#0cc1e8 529.5px,#14c9e5 530.5px,#11c6e6 532.5px,#01b5eb 533.5px,#04b9ea 534.5px,#0ea4f0 535.5px,#09aaee 536.5px,#228bf4 537.5px,#05baea 538.5px,#0dc2e8 539.5px,#11a1f0 540.5px,#1799f2 542.5px,#00b4ec 543.5px,#09aaee 545.5px,#04b0ed 546.5px,#0ea4f0 547.5px,#0aa9ee 548.5px,#169af2 549.5px,#169af2 550.5px,#0ca7ef 551.5px,#159cf1 552.5px,#0fa3f0 553.5px,#1898f2 555.5px,#2489f5 556.5px,#1c92f3 557.5px,#228bf4 558.5px,#1b95f3 559.5px,#238af5 560.5px,#1c93f3 561.5px,#2389f5 562.5px,#1d92f3 563.5px,#2883f6 564.5px,#1f8ef4 565.5px,#1e90f4 567.5px,#2c7df7 570.5px,#2784f6 571.5px,#2d7cf7 577.5px,#2b7ff6 578.5px,#2e7bf7 580.5px,#3078f7 583.5px,#3078f7 590.5px,#3a6af9 616.5px,#f00 617.5px,#3b68f9 618.5px,#425ffa 660.5px,#5247fc 909.5px,#5247fc 915.5px,#f00 916.5px,#f00 917.5px,#5247fc 918.5px,#5444fd 1153.5px,#f00 1154.5px,#5444fd 1155.5px,#5443fd 1170.5px,#f00 1171.5px,#f00 1172.5px,#5443fd 1173.5px,#5543fd 1232.5px,#f00 1233.5px,#f00 1234.5px,#5543fd 1235.5px,#5641fd 1391.5px,#f00 1392.5px,#5641fd 1393.5px,#573ffd 1491.5px)"></i><i style="top:605px;height:1px;background:linear-gradient(90deg,#38e7d7 0.5px,#2edfdb 1.5px,#47f0d1 2.5px,#22d6e0 3.5px,#2fe0db 4.5px,#29dcdd 7.5px,#15cae5 8.5px,#1dd2e2 9.5px,#31e2da 10.5px,#47f0d1 12.5px,#20d5e1 13.5px,#1ed2e2 14.5px,#27dade 15.5px,#26d9df 16.5px,#33e3d9 17.5px,#21d5e1 18.5px,#31e2da 19.5px,#2bdddd 21.5px,#20d4e1 22.5px,#2bdddd 23.5px,#1fd3e1 24.5px,#3be9d6 25.5px,#0cc2e8 26.5px,#32e3da 27.5px,#25d8df 28.5px,#3dead5 29.5px,#32e2da 30.5px,#1bcfe3 31.5px,#26d9df 34.5px,#3eead5 36.5px,#35e4d9 37.5px,#03b7eb 38.5px,#2cdedc 39.5px,#37e6d8 40.5px,#34e4d9 41.5px,#4ef3ce 42.5px,#21d5e0 43.5px,#37e6d8 46.5px,#12c7e6 48.5px,#18cde4 49.5px,#3dead5 50.5px,#31e2da 51.5px,#2edfdc 52.5px,#16cbe5 53.5px,#25d8df 55.5px,#1ed3e1 56.5px,#31e1da 58.5px,#20d5e1 59.5px,#25d8df 60.5px,#38e7d7 61.5px,#12c7e6 62.5px,#22d6e0 63.5px,#1cd0e2 65.5px,#2adcdd 66.5px,#07bce9 67.5px,#2fe0db 69.5px,#44eed2 70.5px,#31e2da 71.5px,#0fc4e7 72.5px,#2ddedc 73.5px,#28dade 74.5px,#3febd4 75.5px,#2fe0db 77.5px,#36e5d8 78.5px,#29dcdd 79.5px,#2cdedc 81.5px,#1ed3e1 83.5px,#3ce9d6 84.5px,#2edfdc 85.5px,#2ee0db 86.5px,#41ecd3 87.5px,#22d6e0 88.5px,#2cdedc 90.5px,#15cae5 91.5px,#31e2da 92.5px,#1bd0e3 94.5px,#2adddd 96.5px,#47f0d1 97.5px,#14c9e5 99.5px,#31e2da 100.5px,#1acfe3 102.5px,#2fe0db 105.5px,#2adcdd 106.5px,#16cbe5 107.5px,#29dcdd 108.5px,#1acfe3 109.5px,#28dbde 110.5px,#1dd1e2 111.5px,#37e6d8 113.5px,#24d7df 114.5px,#1cd1e2 115.5px,#35e5d9 116.5px,#23d7e0 117.5px,#26dade 120.5px,#2ddfdc 121.5px,#2bdddd 122.5px,#34e4d9 123.5px,#2adddd 124.5px,#36e5d8 125.5px,#17cce4 128.5px,#35e5d8 129.5px,#2ddfdc 130.5px,#12c7e6 131.5px,#2bdddd 132.5px,#2cdedc 134.5px,#34e4d9 135.5px,#19cee3 136.5px,#0fc4e7 137.5px,#43edd3 138.5px,#2adcdd 139.5px,#2adddd 140.5px,#44eed2 141.5px,#1dd1e2 143.5px,#34e4d9 144.5px,#20d4e1 145.5px,#2ddfdc 146.5px,#22d6e0 148.5px,#29dbde 149.5px,#19cee3 150.5px,#2ee0db 151.5px,#36e5d8 152.5px,#18cde4 153.5px,#27dade 154.5px,#1ed3e1 155.5px,#2adddd 158.5px,#18cde4 159.5px,#38e7d7 160.5px,#2adcdd 163.5px,#35e5d8 164.5px,#1dd2e2 166.5px,#18cde4 167.5px,#34e4d9 169.5px,#31e1da 170.5px,#38e7d7 171.5px,#0dc2e7 172.5px,#33e4d9 174.5px,#1dd1e2 175.5px,#1dd1e2 177.5px,#3dead5 178.5px,#31e2da 179.5px,#1dd1e2 180.5px,#22d6e0 181.5px,#36e5d8 182.5px,#24d7df 183.5px,#34e4d9 184.5px,#25d8df 186.5px,#2fe1db 188.5px,#2ddfdc 189.5px,#13c9e5 191.5px,#28dbde 193.5px,#1cd1e2 194.5px,#30e1db 195.5px,#1bcfe3 196.5px,#2fe0db 197.5px,#19cee3 198.5px,#41edd3 199.5px,#24d8df 200.5px,#2fe0db 202.5px,#19cee3 203.5px,#1ed3e1 204.5px,#17cce4 205.5px,#2ddedc 207.5px,#2fe0db 208.5px,#23d7e0 209.5px,#22d6e0 210.5px,#12c8e6 211.5px,#44eed2 212.5px,#23d6e0 213.5px,#20d4e1 214.5px,#3dead5 215.5px,#2bdddd 216.5px,#2fe1db 217.5px,#17cce4 218.5px,#35e5d9 219.5px,#2bdddd 220.5px,#34e4d9 221.5px,#13c8e5 223.5px,#1bd0e3 224.5px,#44eed2 225.5px,#2bdddd 226.5px,#27dade 227.5px,#3eebd5 229.5px,#27dade 230.5px,#2ddfdc 231.5px,#1dd2e2 232.5px,#28dbde 233.5px,#10c6e6 234.5px,#35e5d9 237.5px,#0ec4e7 238.5px,#31e2da 239.5px,#20d4e1 240.5px,#06bbea 241.5px,#37e6d8 242.5px,#2fe0db 243.5px,#31e2da 244.5px,#29dcdd 245.5px,#2cdedc 246.5px,#24d7df 247.5px,#2cdedc 249.5px,#29dbde 250.5px,#16cbe5 251.5px,#43edd3 252.5px,#1ed3e1 253.5px,#26d9df 254.5px,#3ce9d6 255.5px,#26d9df 256.5px,#24d7df 257.5px,#2fe0db 258.5px,#1cd1e2 259.5px,#26dade 260.5px,#3febd4 261.5px,#24d8df 262.5px,#37e6d8 263.5px,#2bdddd 264.5px,#25d9df 266.5px,#43eed2 267.5px,#28dbde 268.5px,#2adcdd 269.5px,#35e5d9 270.5px,#2fe0db 271.5px,#1bd0e3 272.5px,#33e3d9 273.5px,#1dd1e2 275.5px,#30e1da 276.5px,#20d4e1 277.5px,#30e1db 278.5px,#16cbe4 279.5px,#29dcdd 280.5px,#29dcdd 281.5px,#3dead5 282.5px,#26d9df 283.5px,#2fe0db 284.5px,#29dbde 285.5px,#18cde4 286.5px,#30e1db 287.5px,#1ed3e2 290.5px,#34e4d9 293.5px,#33e3da 294.5px,#25d8df 295.5px,#1dd1e2 298.5px,#26d9df 299.5px,#1bd0e3 300.5px,#39e7d7 301.5px,#14c9e5 302.5px,#21d5e0 303.5px,#29dbde 307.5px,#1fd3e1 308.5px,#38e6d8 310.5px,#2adcdd 312.5px,#13c8e5 313.5px,#24d8df 314.5px,#13c8e6 315.5px,#20d4e1 316.5px,#1acfe3 317.5px,#23d7e0 318.5px,#12c7e6 319.5px,#30e1db 321.5px,#22d6e0 323.5px,#2bdedc 324.5px,#2fe1db 326.5px,#19cee3 327.5px,#22d6e0 328.5px,#08bde9 330.5px,#03b8eb 331.5px,#25d8df 332.5px,#32e2da 333.5px,#1fd3e1 334.5px,#20d4e1 335.5px,#2bdddd 336.5px,#2adcdd 338.5px,#18cde4 339.5px,#34e4d9 340.5px,#26d9df 341.5px,#37e6d8 342.5px,#34e4d9 343.5px,#27dade 344.5px,#34e4d9 345.5px,#2adddd 346.5px,#26d9df 348.5px,#34e4d9 350.5px,#16cbe4 351.5px,#43eed3 352.5px,#27dade 353.5px,#30e1db 354.5px,#13c8e5 355.5px,#2bdddd 356.5px,#24d7e0 357.5px,#3ae8d7 358.5px,#27dade 359.5px,#28dade 361.5px,#24d7df 363.5px,#15cae5 364.5px,#3ae8d7 365.5px,#12c7e6 366.5px,#2ee0db 368.5px,#1acfe3 369.5px,#1ed3e1 370.5px,#3eead5 372.5px,#3ae8d6 374.5px,#16cbe5 375.5px,#2edfdc 376.5px,#10c5e6 377.5px,#2adddd 378.5px,#30e1db 379.5px,#1dd2e2 380.5px,#1dd2e2 381.5px,#2fe1db 382.5px,#2adcdd 384.5px,#1cd1e2 385.5px,#2ddfdc 386.5px,#2ee0db 388.5px,#1cd0e2 389.5px,#1fd3e1 390.5px,#14c9e5 391.5px,#1ed2e2 392.5px,#09bfe9 394.5px,#13c8e5 395.5px,#2ddedc 396.5px,#32e2da 397.5px,#12c7e6 398.5px,#23d6e0 399.5px,#14c9e5 400.5px,#2adddd 401.5px,#24d8df 402.5px,#11c6e6 403.5px,#0ac0e8 404.5px,#24d8df 405.5px,#2edfdc 406.5px,#29dcdd 407.5px,#0fc5e7 409.5px,#2fe1db 410.5px,#22d5e0 413.5px,#03b8eb 414.5px,#23d7e0 415.5px,#0ec3e7 416.5px,#22d6e0 419.5px,#13c8e5 420.5px,#29dcdd 422.5px,#0bc1e8 423.5px,#14c9e5 424.5px,#15cae5 426.5px,#0fc4e7 427.5px,#31e2da 428.5px,#10c5e6 429.5px,#01b3ec 430.5px,#13c8e5 431.5px,#1acfe3 432.5px,#14c9e5 433.5px,#27dade 435.5px,#0abfe8 436.5px,#19cee3 438.5px,#0ec3e7 441.5px,#10c5e6 442.5px,#0ea4f0 443.5px,#14c9e5 444.5px,#07bce9 446.5px,#12c7e6 447.5px,#11a0f0 448.5px,#03b7eb 449.5px,#2bdedc 450.5px,#10c5e6 451.5px,#08bde9 452.5px,#1dd2e2 453.5px,#0cc2e8 454.5px,#1ed2e2 455.5px,#02b7eb 456.5px,#05afed 457.5px,#02b2ec 458.5px,#0bc0e8 459.5px,#0fc4e7 460.5px,#09aaee 461.5px,#08abee 462.5px,#11c6e6 463.5px,#06aeed 464.5px,#0abfe8 465.5px,#11a0f0 466.5px,#07bce9 467.5px,#10c5e7 468.5px,#08bde9 469.5px,#15cae5 471.5px,#03b0ed 472.5px,#01b3ec 473.5px,#0aa9ee 474.5px,#01b3ec 475.5px,#06bbea 476.5px,#10a2f0 477.5px,#07acee 478.5px,#0ec3e7 479.5px,#00b4ec 480.5px,#09bee9 481.5px,#0aa9ee 482.5px,#06aded 483.5px,#06bbea 484.5px,#08bde9 485.5px,#0ca6ef 486.5px,#1799f2 487.5px,#0ba8ef 488.5px,#09aaee 489.5px,#0cc2e8 490.5px,#08abee 491.5px,#01b4ec 493.5px,#0aa8ef 494.5px,#0aa8ef 495.5px,#0abfe8 496.5px,#139ef1 497.5px,#09aaee 499.5px,#129ff1 500.5px,#08abee 502.5px,#0ba8ef 503.5px,#1898f2 504.5px,#0ba8ef 505.5px,#139df1 506.5px,#0ba8ef 507.5px,#0ba8ef 509.5px,#11a0f0 510.5px,#10a1f0 511.5px,#1b94f3 512.5px,#159cf1 514.5px,#169af2 515.5px,#0aa9ef 516.5px,#1b94f3 517.5px,#06aded 518.5px,#1c93f3 519.5px,#159bf1 520.5px,#1f8ff4 521.5px,#12a0f1 522.5px,#1897f2 523.5px,#12a0f1 524.5px,#1799f2 526.5px,#2389f5 527.5px,#228af5 528.5px,#169af2 529.5px,#11a1f0 530.5px,#139ef1 532.5px,#1d92f3 533.5px,#1a95f3 534.5px,#2686f5 535.5px,#238af5 536.5px,#3276f8 537.5px,#1a96f3 538.5px,#149cf1 539.5px,#2784f6 540.5px,#2b7ff6 542.5px,#1c92f3 543.5px,#228bf4 545.5px,#1e90f4 546.5px,#2488f5 547.5px,#228bf4 548.5px,#2a81f6 549.5px,#2981f6 550.5px,#238af5 551.5px,#2882f6 552.5px,#2588f5 553.5px,#3176f8 556.5px,#2c7df7 557.5px,#3078f7 558.5px,#2b7ff6 559.5px,#3078f7 560.5px,#2c7ef7 561.5px,#3077f7 562.5px,#2c7df7 563.5px,#3373f8 564.5px,#2e7bf7 566.5px,#3571f8 570.5px,#3473f8 575.5px,#376ff9 583.5px,#4757fb 705.5px,#5247fc 915.5px,#f00 916.5px,#f00 917.5px,#5247fc 918.5px,#5443fd 1170.5px,#f00 1171.5px,#f00 1172.5px,#5443fd 1173.5px,#573ffd 1491.5px)"></i><i style="top:606px;height:2px;background:linear-gradient(90deg,#38e7d7 0.5px,#2edfdb 1.5px,#47f0d1 2.5px,#22d6e0 3.5px,#2fe0db 4.5px,#29dcdd 7.5px,#15cae5 8.5px,#1dd2e2 9.5px,#31e2da 10.5px,#47f0d1 12.5px,#20d5e1 13.5px,#1ed2e2 14.5px,#27dade 15.5px,#26d9df 16.5px,#33e3d9 17.5px,#21d5e1 18.5px,#31e2da 19.5px,#2bdddd 21.5px,#20d4e1 22.5px,#2bdddd 23.5px,#1fd3e1 24.5px,#3be9d6 25.5px,#0cc2e8 26.5px,#32e3da 27.5px,#25d8df 28.5px,#3dead5 29.5px,#32e2da 30.5px,#1bcfe3 31.5px,#26d9df 34.5px,#3eead5 36.5px,#35e4d9 37.5px,#03b7eb 38.5px,#2cdedc 39.5px,#37e6d8 40.5px,#34e4d9 41.5px,#4ef3ce 42.5px,#21d5e0 43.5px,#37e6d8 46.5px,#12c7e6 48.5px,#18cde4 49.5px,#3dead5 50.5px,#31e2da 51.5px,#2edfdc 52.5px,#16cbe5 53.5px,#25d8df 55.5px,#1ed3e1 56.5px,#31e1da 58.5px,#20d5e1 59.5px,#25d8df 60.5px,#38e7d7 61.5px,#12c7e6 62.5px,#22d6e0 63.5px,#1cd0e2 65.5px,#2adcdd 66.5px,#07bce9 67.5px,#2fe0db 69.5px,#44eed2 70.5px,#31e2da 71.5px,#0fc4e7 72.5px,#2ddedc 73.5px,#28dade 74.5px,#3febd4 75.5px,#2fe0db 77.5px,#36e5d8 78.5px,#29dcdd 79.5px,#2cdedc 81.5px,#1ed3e1 83.5px,#3ce9d6 84.5px,#2edfdc 85.5px,#2ee0db 86.5px,#41ecd3 87.5px,#22d6e0 88.5px,#2cdedc 90.5px,#15cae5 91.5px,#31e2da 92.5px,#1bd0e3 94.5px,#2adddd 96.5px,#47f0d1 97.5px,#14c9e5 99.5px,#31e2da 100.5px,#1acfe3 102.5px,#2fe0db 105.5px,#2adcdd 106.5px,#16cbe5 107.5px,#29dcdd 108.5px,#1acfe3 109.5px,#28dbde 110.5px,#1dd1e2 111.5px,#37e6d8 113.5px,#24d7df 114.5px,#1cd1e2 115.5px,#35e5d9 116.5px,#23d7e0 117.5px,#26dade 120.5px,#2ddfdc 121.5px,#2bdddd 122.5px,#34e4d9 123.5px,#2adddd 124.5px,#36e5d8 125.5px,#17cce4 128.5px,#35e5d8 129.5px,#2ddfdc 130.5px,#12c7e6 131.5px,#2bdddd 132.5px,#2cdedc 134.5px,#34e4d9 135.5px,#19cee3 136.5px,#0fc4e7 137.5px,#43edd3 138.5px,#2adcdd 139.5px,#2adddd 140.5px,#44eed2 141.5px,#1dd1e2 143.5px,#34e4d9 144.5px,#20d4e1 145.5px,#2ddfdc 146.5px,#22d6e0 148.5px,#29dbde 149.5px,#19cee3 150.5px,#2ee0db 151.5px,#36e5d8 152.5px,#18cde4 153.5px,#27dade 154.5px,#1ed3e1 155.5px,#2adddd 158.5px,#18cde4 159.5px,#38e7d7 160.5px,#2adcdd 163.5px,#35e5d8 164.5px,#1dd2e2 166.5px,#18cde4 167.5px,#34e4d9 169.5px,#31e1da 170.5px,#38e7d7 171.5px,#0dc2e7 172.5px,#33e4d9 174.5px,#1dd1e2 175.5px,#1dd1e2 177.5px,#3dead5 178.5px,#31e2da 179.5px,#1dd1e2 180.5px,#22d6e0 181.5px,#36e5d8 182.5px,#24d7df 183.5px,#34e4d9 184.5px,#25d8df 186.5px,#2fe1db 188.5px,#2ddfdc 189.5px,#13c9e5 191.5px,#28dbde 193.5px,#1cd1e2 194.5px,#30e1db 195.5px,#1bcfe3 196.5px,#2fe0db 197.5px,#19cee3 198.5px,#41edd3 199.5px,#24d8df 200.5px,#2fe0db 202.5px,#19cee3 203.5px,#1ed3e1 204.5px,#17cce4 205.5px,#2ddedc 207.5px,#2fe0db 208.5px,#23d7e0 209.5px,#22d6e0 210.5px,#12c8e6 211.5px,#44eed2 212.5px,#23d6e0 213.5px,#20d4e1 214.5px,#3dead5 215.5px,#2bdddd 216.5px,#2fe1db 217.5px,#17cce4 218.5px,#35e5d9 219.5px,#2bdddd 220.5px,#34e4d9 221.5px,#13c8e5 223.5px,#1bd0e3 224.5px,#44eed2 225.5px,#2bdddd 226.5px,#27dade 227.5px,#3eebd5 229.5px,#27dade 230.5px,#2ddfdc 231.5px,#1dd2e2 232.5px,#28dbde 233.5px,#10c6e6 234.5px,#35e5d9 237.5px,#0ec4e7 238.5px,#31e2da 239.5px,#20d4e1 240.5px,#06bbea 241.5px,#37e6d8 242.5px,#2fe0db 243.5px,#31e2da 244.5px,#29dcdd 245.5px,#2cdedc 246.5px,#24d7df 247.5px,#2cdedc 249.5px,#29dbde 250.5px,#16cbe5 251.5px,#43edd3 252.5px,#1ed3e1 253.5px,#26d9df 254.5px,#3ce9d6 255.5px,#26d9df 256.5px,#24d7df 257.5px,#2fe0db 258.5px,#1cd1e2 259.5px,#26dade 260.5px,#3febd4 261.5px,#24d8df 262.5px,#37e6d8 263.5px,#2bdddd 264.5px,#25d9df 266.5px,#43eed2 267.5px,#28dbde 268.5px,#2adcdd 269.5px,#35e5d9 270.5px,#2fe0db 271.5px,#1bd0e3 272.5px,#33e3d9 273.5px,#1dd1e2 275.5px,#30e1da 276.5px,#20d4e1 277.5px,#30e1db 278.5px,#16cbe4 279.5px,#29dcdd 280.5px,#29dcdd 281.5px,#3dead5 282.5px,#26d9df 283.5px,#2fe0db 284.5px,#29dbde 285.5px,#18cde4 286.5px,#30e1db 287.5px,#1ed3e2 290.5px,#34e4d9 293.5px,#33e3da 294.5px,#25d8df 295.5px,#1dd1e2 298.5px,#26d9df 299.5px,#1bd0e3 300.5px,#39e7d7 301.5px,#14c9e5 302.5px,#21d5e0 303.5px,#29dbde 307.5px,#1fd3e1 308.5px,#38e6d8 310.5px,#2adcdd 312.5px,#13c8e5 313.5px,#24d8df 314.5px,#13c8e6 315.5px,#20d4e1 316.5px,#1acfe3 317.5px,#23d7e0 318.5px,#12c7e6 319.5px,#30e1db 321.5px,#22d6e0 323.5px,#2bdedc 324.5px,#2fe1db 326.5px,#19cee3 327.5px,#22d6e0 328.5px,#08bde9 330.5px,#03b8eb 331.5px,#25d8df 332.5px,#32e2da 333.5px,#1fd3e1 334.5px,#20d4e1 335.5px,#2bdddd 336.5px,#2adcdd 338.5px,#18cde4 339.5px,#34e4d9 340.5px,#26d9df 341.5px,#37e6d8 342.5px,#34e4d9 343.5px,#27dade 344.5px,#34e4d9 345.5px,#2adddd 346.5px,#26d9df 348.5px,#34e4d9 350.5px,#16cbe4 351.5px,#43eed3 352.5px,#27dade 353.5px,#30e1db 354.5px,#13c8e5 355.5px,#2bdddd 356.5px,#24d7e0 357.5px,#3ae8d7 358.5px,#27dade 359.5px,#28dade 361.5px,#24d7df 363.5px,#15cae5 364.5px,#3ae8d7 365.5px,#12c7e6 366.5px,#2ee0db 368.5px,#1acfe3 369.5px,#1ed3e1 370.5px,#3eead5 372.5px,#3ae8d6 374.5px,#16cbe5 375.5px,#2edfdc 376.5px,#10c5e6 377.5px,#2adddd 378.5px,#30e1db 379.5px,#1dd2e2 380.5px,#1dd2e2 381.5px,#2fe1db 382.5px,#2adcdd 384.5px,#1cd1e2 385.5px,#2ddfdc 386.5px,#2ee0db 388.5px,#1cd0e2 389.5px,#1fd3e1 390.5px,#14c9e5 391.5px,#1ed2e2 392.5px,#09bfe9 394.5px,#13c8e5 395.5px,#2ddedc 396.5px,#32e2da 397.5px,#12c7e6 398.5px,#23d6e0 399.5px,#14c9e5 400.5px,#2adddd 401.5px,#24d8df 402.5px,#11c6e6 403.5px,#0ac0e8 404.5px,#24d8df 405.5px,#2edfdc 406.5px,#29dcdd 407.5px,#0fc5e7 409.5px,#2fe1db 410.5px,#22d5e0 413.5px,#03b8eb 414.5px,#23d7e0 415.5px,#0ec3e7 416.5px,#22d6e0 419.5px,#13c8e5 420.5px,#29dcdd 422.5px,#0bc1e8 423.5px,#14c9e5 424.5px,#15cae5 426.5px,#0fc4e7 427.5px,#31e2da 428.5px,#10c5e6 429.5px,#01b3ec 430.5px,#13c8e5 431.5px,#1acfe3 432.5px,#14c9e5 433.5px,#27dade 435.5px,#0abfe8 436.5px,#19cee3 438.5px,#0ec3e7 441.5px,#10c5e6 442.5px,#0ea4f0 443.5px,#14c9e5 444.5px,#07bce9 446.5px,#12c7e6 447.5px,#11a0f0 448.5px,#03b7eb 449.5px,#2bdedc 450.5px,#10c5e6 451.5px,#08bde9 452.5px,#1dd2e2 453.5px,#0cc2e8 454.5px,#1ed2e2 455.5px,#02b7eb 456.5px,#05afed 457.5px,#02b2ec 458.5px,#0bc0e8 459.5px,#0fc4e7 460.5px,#09aaee 461.5px,#08abee 462.5px,#11c6e6 463.5px,#06aeed 464.5px,#0abfe8 465.5px,#11a0f0 466.5px,#07bce9 467.5px,#10c5e7 468.5px,#08bde9 469.5px,#15cae5 471.5px,#03b0ed 472.5px,#01b3ec 473.5px,#0aa9ee 474.5px,#01b3ec 475.5px,#06bbea 476.5px,#10a2f0 477.5px,#07acee 478.5px,#0ec3e7 479.5px,#00b4ec 480.5px,#09bee9 481.5px,#0aa9ee 482.5px,#06aded 483.5px,#06bbea 484.5px,#08bde9 485.5px,#0ca6ef 486.5px,#1799f2 487.5px,#0ba8ef 488.5px,#09aaee 489.5px,#0cc2e8 490.5px,#08abee 491.5px,#01b4ec 493.5px,#0aa8ef 494.5px,#0aa8ef 495.5px,#0abfe8 496.5px,#139ef1 497.5px,#09aaee 499.5px,#129ff1 500.5px,#08abee 502.5px,#0ba8ef 503.5px,#1898f2 504.5px,#0ba8ef 505.5px,#139df1 506.5px,#0ba8ef 507.5px,#0ba8ef 509.5px,#11a0f0 510.5px,#10a1f0 511.5px,#1b94f3 512.5px,#159cf1 514.5px,#169af2 515.5px,#0aa9ef 516.5px,#1b94f3 517.5px,#06aded 518.5px,#1c93f3 519.5px,#159bf1 520.5px,#1f8ff4 521.5px,#12a0f1 522.5px,#1897f2 523.5px,#12a0f1 524.5px,#1799f2 526.5px,#2389f5 527.5px,#228af5 528.5px,#169af2 529.5px,#11a1f0 530.5px,#139ef1 532.5px,#1d92f3 533.5px,#1a95f3 534.5px,#2686f5 535.5px,#238af5 536.5px,#3276f8 537.5px,#1a96f3 538.5px,#149cf1 539.5px,#2784f6 540.5px,#2b7ff6 542.5px,#1c92f3 543.5px,#228bf4 545.5px,#1e90f4 546.5px,#2488f5 547.5px,#228bf4 548.5px,#2a81f6 549.5px,#2981f6 550.5px,#238af5 551.5px,#2882f6 552.5px,#2588f5 553.5px,#3176f8 556.5px,#2c7df7 557.5px,#3078f7 558.5px,#2b7ff6 559.5px,#3078f7 560.5px,#2c7ef7 561.5px,#3077f7 562.5px,#2c7df7 563.5px,#3373f8 564.5px,#2e7bf7 566.5px,#3571f8 570.5px,#3473f8 575.5px,#376ff9 583.5px,#4757fb 705.5px,#5247fc 890.5px,#f00 891.5px,#f00 892.5px,#5247fc 893.5px,#5246fd 965.5px,#f00 966.5px,#f00 967.5px,#5246fd 968.5px,#5740fd 1468.5px,#573ffd 1491.5px)"></i><i style="top:608px;height:1px;background:linear-gradient(90deg,#2489f5 0.5px,#2785f6 485.5px,#4856fb 677.5px,#4f4bfc 890.5px,#f00 891.5px,#f00 892.5px,#4f4bfc 893.5px,#4f4bfc 965.5px,#f00 966.5px,#f00 967.5px,#4f4bfc 968.5px,#4f4bfc 1468.5px,#4f4bfc 1491.5px)"></i><i style="top:609px;height:1px;background:linear-gradient(90deg,#2489f5 0.5px,#2785f6 485.5px,#4856fb 677.5px,#4f4bfc 967.5px,#4f4bfc 1467.5px,#4f4bfc 1491.5px)"></i><i style="top:610px;height:2px;background:linear-gradient(90deg,#2489f5 0.5px,#2489f5 253.5px,#f00 254.5px,#2489f5 255.5px,#2489f5 259.5px,#f00 260.5px,#2489f5 261.5px,#2785f6 485.5px,#4856fb 677.5px,#4b51fc 758.5px,#f00 759.5px,#f00 760.5px,#4b51fc 761.5px,#4d4efc 820.5px,#f00 821.5px,#f00 822.5px,#4d4efc 823.5px,#4f4bfc 1323.5px,#4f4bfc 1491.5px)"></i><i style="top:612px;height:1px;background:linear-gradient(90deg,#2489f5 0.5px,#2489f5 44.5px,#33e3d9 45.5px,#2489f5 46.5px,#2489f5 49.5px,#19cee3 50.5px,#2489f5 51.5px,#2489f5 83.5px,#33e3d9 84.5px,#2489f5 85.5px,#2489f5 108.5px,#33e3d9 109.5px,#2489f5 110.5px,#2489f5 111.5px,#19cee3 112.5px,#33e3d9 113.5px,#2489f5 114.5px,#2489f5 115.5px,#33e3d9 116.5px,#2489f5 117.5px,#2489f5 129.5px,#19cee3 130.5px,#2489f5 131.5px,#2489f5 144.5px,#33e3d9 145.5px,#2489f5 146.5px,#2489f5 205.5px,#33e3d9 206.5px,#2489f5 207.5px,#2489f5 220.5px,#19cee3 221.5px,#2489f5 222.5px,#2489f5 227.5px,#33e3d9 228.5px,#2489f5 229.5px,#2489f5 242.5px,#19cee3 243.5px,#2489f5 244.5px,#2489f5 278.5px,#33e3d9 279.5px,#2489f5 280.5px,#2489f5 315.5px,#33e3d9 316.5px,#2489f5 317.5px,#2489f5 337.5px,#33e3d9 338.5px,#2489f5 339.5px,#2489f5 357.5px,#33e3d9 358.5px,#2489f5 359.5px,#2489f5 361.5px,#33e3d9 362.5px,#2489f5 363.5px,#2489f5 371.5px,#33e3d9 372.5px,#2489f5 373.5px,#2489f5 376.5px,#19cee3 377.5px,#2489f5 378.5px,#2489f5 395.5px,#33e3d9 396.5px,#2489f5 397.5px,#2686f5 482.5px,#33e3d9 483.5px,#19cee3 484.5px,#2785f6 485.5px,#2981f6 497.5px,#19cee3 498.5px,#2a81f6 499.5px,#2a80f6 503.5px,#33e3d9 504.5px,#2b7ff6 505.5px,#2b7ff6 507.5px,#19cee3 508.5px,#2c7ef7 509.5px,#2c7df7 513.5px,#19cee3 514.5px,#2d7cf7 515.5px,#2e7bf7 521.5px,#19cee3 522.5px,#2e7af7 523.5px,#3176f8 536.5px,#19cee3 537.5px,#3176f8 538.5px,#4855fb 693.5px,#4b51fc 758.5px,#f00 759.5px,#f00 760.5px,#4b51fc 761.5px,#4d4efc 820.5px,#f00 821.5px,#f00 822.5px,#4d4efc 823.5px,#4f4bfc 1323.5px,#4f4bfc 1491.5px)"></i><i style="top:613px;height:2px;background:linear-gradient(90deg,#2489f5 0.5px,#2489f5 44.5px,#33e3d9 45.5px,#2489f5 46.5px,#2489f5 49.5px,#19cee3 50.5px,#2489f5 51.5px,#2489f5 83.5px,#33e3d9 84.5px,#2489f5 85.5px,#2489f5 108.5px,#33e3d9 109.5px,#2489f5 110.5px,#2489f5 111.5px,#19cee3 112.5px,#33e3d9 113.5px,#2489f5 114.5px,#2489f5 115.5px,#33e3d9 116.5px,#2489f5 117.5px,#2489f5 129.5px,#19cee3 130.5px,#2489f5 131.5px,#2489f5 144.5px,#33e3d9 145.5px,#2489f5 146.5px,#2489f5 205.5px,#33e3d9 206.5px,#2489f5 207.5px,#2489f5 220.5px,#19cee3 221.5px,#2489f5 222.5px,#2489f5 227.5px,#33e3d9 228.5px,#2489f5 229.5px,#2489f5 242.5px,#19cee3 243.5px,#2489f5 244.5px,#2489f5 278.5px,#33e3d9 279.5px,#2489f5 280.5px,#2489f5 315.5px,#33e3d9 316.5px,#2489f5 317.5px,#2489f5 337.5px,#33e3d9 338.5px,#2489f5 339.5px,#2489f5 357.5px,#33e3d9 358.5px,#2489f5 359.5px,#2489f5 361.5px,#33e3d9 362.5px,#2489f5 363.5px,#2489f5 371.5px,#33e3d9 372.5px,#2489f5 373.5px,#2489f5 376.5px,#19cee3 377.5px,#2489f5 378.5px,#2489f5 395.5px,#33e3d9 396.5px,#2489f5 397.5px,#2686f5 482.5px,#33e3d9 483.5px,#19cee3 484.5px,#2785f6 485.5px,#2981f6 497.5px,#19cee3 498.5px,#2a81f6 499.5px,#2a80f6 503.5px,#33e3d9 504.5px,#2b7ff6 505.5px,#2b7ff6 507.5px,#19cee3 508.5px,#2c7ef7 509.5px,#2c7df7 513.5px,#19cee3 514.5px,#2d7cf7 515.5px,#2e7bf7 521.5px,#19cee3 522.5px,#2e7af7 523.5px,#3176f8 536.5px,#19cee3 537.5px,#3176f8 538.5px,#4855fb 693.5px,#4f4bfc 974.5px,#4f4bfc 1474.5px,#4f4bfc 1491.5px)"></i><i style="top:615px;height:3px;background:linear-gradient(90deg,#2489f5 0.5px,#2785f6 485.5px,#4856fb 677.5px,#4f4bfc 967.5px,#4f4bfc 1467.5px,#4f4bfc 1491.5px)"></i><i style="top:618px;height:6px;background:linear-gradient(90deg,#0fa3f0 0.5px,#1d92f3 391.5px,#3b68f9 592.5px,#4757fb 819.5px,#5443fd 1006.5px,#5443fd 1491.5px)"></i><i style="top:624px;height:5px;background:linear-gradient(90deg,#455afb 0.5px,#4757fb 500.5px,#4757fb 1000.5px,#425efa 1491.5px)"></i><i style="top:629px;height:7px;background:linear-gradient(90deg,#4a53fc 0.5px,#4a53fc 500.5px,#4757fb 1000.5px,#425efa 1491.5px)"></i><i style="top:636px;height:5px;background:linear-gradient(90deg,#455afb 0.5px,#4757fb 500.5px,#4757fb 1000.5px,#425efa 1491.5px)"></i><i style="top:641px;height:7px;background:linear-gradient(90deg,#05afed 0.5px,#1d92f3 485.5px,#3374f8 595.5px,#3f63fa 769.5px,#445cfb 1002.5px,#455afb 1491.5px)"></i><i style="top:648px;height:3px;background:linear-gradient(90deg,#f00 0.5px,#f00 8.5px,#ff743c 9.5px,#f00 10.5px,#f00 11.5px,#ff4f28 12.5px,#ff743c 13.5px,#ff4f28 14.5px,#f00 15.5px,#f00 22.5px,#ff4f28 23.5px,#f00 24.5px,#ff4f28 25.5px,#f00 26.5px,#f00 33.5px,#ff4f28 34.5px,#f00 35.5px,#f00 51.5px,#ff743c 52.5px,#f00 53.5px,#ff743c 54.5px,#f00 55.5px,#f00 68.5px,#ff743c 69.5px,#f00 70.5px,#f00 73.5px,#ff4f28 74.5px,#f00 75.5px,#f00 84.5px,#ff743c 85.5px,#f00 86.5px,#ff0301 114.5px,#ff1f0f 129.5px,#ff4f28 130.5px,#f21 131.5px,#ff2412 132.5px,#f00 133.5px,#ff2814 134.5px,#ff371b 142.5px,#ff743c 143.5px,#f00 145.5px,#ff3e1f 146.5px,#f00 147.5px,#f00 148.5px,#ff4322 149.5px,#ff743c 150.5px,#ff4724 151.5px,#ff9a51 194.5px,#fbb965 222.5px,#b7f093 287.5px,#84ffb2 355.5px,#49f1d0 448.5px,#12c8e6 540.5px,#02b2ec 573.5px,#2e7bf7 697.5px,#376ef9 783.5px,#2f79f7 888.5px,#4659fb 1184.5px,#5c37fd 1283.5px,#6130fe 1491.5px)"></i><i style="top:651px;height:2px;background:linear-gradient(90deg,#f00 0.5px,#f00 3.5px,#ff743c 4.5px,#f00 5.5px,#f00 14.5px,#ff743c 15.5px,#f00 16.5px,#f00 17.5px,#ff4f28 18.5px,#f00 19.5px,#f00 31.5px,#ff743c 32.5px,#f00 33.5px,#f00 37.5px,#ff4f28 38.5px,#f00 39.5px,#f00 40.5px,#ff4f28 41.5px,#ff743c 42.5px,#f00 43.5px,#f00 44.5px,#ff4f28 45.5px,#f00 46.5px,#f00 50.5px,#ff4f28 51.5px,#f00 52.5px,#f00 77.5px,#ff4f28 78.5px,#f00 79.5px,#f00 95.5px,#ff743c 96.5px,#f00 97.5px,#f00 103.5px,#ff4f28 104.5px,#f00 105.5px,#f00 106.5px,#ff4f28 107.5px,#f00 108.5px,#ff0703 116.5px,#ff4f28 117.5px,#ff0a05 118.5px,#ff170c 125.5px,#f00 126.5px,#ff1b0e 127.5px,#ff1f0f 129.5px,#ff4f28 130.5px,#f21 131.5px,#ff2613 133.5px,#ff743c 134.5px,#ff2a15 135.5px,#ff3119 139.5px,#ff743c 140.5px,#ff351b 141.5px,#ff5d2f 162.5px,#f00 163.5px,#ff6131 164.5px,#ff9b52 195.5px,#fbb965 222.5px,#b7f093 287.5px,#84ffb2 355.5px,#49f1d0 448.5px,#12c8e6 540.5px,#02b2ec 573.5px,#2e7bf7 697.5px,#376ef9 783.5px,#2f79f7 888.5px,#4659fb 1184.5px,#5c37fd 1283.5px,#6130fe 1491.5px)"></i><i style="top:653px;height:5px;background:linear-gradient(90deg,#425efa 0.5px,#445bfb 500.5px,#425efa 733.5px,#1f8ff4 881.5px,#2c7ef7 1188.5px,#3b69f9 1288.5px,#3d65fa 1491.5px)"></i><i style="top:658px;height:3px;background:linear-gradient(90deg,#4f4bfc 0.5px,#4f4bfc 13.5px,#f00 14.5px,#4f4bfc 15.5px,#4f4bfc 16.5px,#19cee3 17.5px,#f00 18.5px,#4df3ce 19.5px,#4f4bfc 20.5px,#4f4bfc 21.5px,#4df3ce 22.5px,#f00 23.5px,#4f4bfc 24.5px,#4d4efc 524.5px,#4953fb 751.5px,#3e65fa 898.5px,#455afb 1185.5px,#573ffd 1285.5px,#573ffd 1491.5px)"></i><i style="top:661px;height:2px;background:linear-gradient(90deg,#4f4bfc 0.5px,#4f4bfc 13.5px,#f00 14.5px,#19cee3 15.5px,#f00 16.5px,#4f4bfc 17.5px,#4f4bfc 19.5px,#e5ce74 20.5px,#4f4bfc 21.5px,#19cee3 22.5px,#4f4bfc 23.5px,#4d4efc 523.5px,#4953fb 751.5px,#3e65fa 898.5px,#455afb 1185.5px,#573ffd 1285.5px,#573ffd 1491.5px)"></i><i style="top:663px;height:1px;background:linear-gradient(90deg,#4f4bfc 0.5px,#4f4bfc 14.5px,#f00 15.5px,#4f4bfc 16.5px,#4f4bfc 17.5px,#4df3ce 18.5px,#4f4bfc 19.5px,#4f4bfc 20.5px,#f00 21.5px,#f00 23.5px,#4f4bfc 24.5px,#4d4efc 524.5px,#4953fb 751.5px,#3e65fa 898.5px,#455afb 1185.5px,#573ffd 1285.5px,#573ffd 1491.5px)"></i><i style="top:664px;height:2px;background:linear-gradient(90deg,#4f4bfc 0.5px,#4f4bfc 14.5px,#f00 15.5px,#4f4bfc 16.5px,#4f4bfc 17.5px,#4df3ce 18.5px,#4f4bfc 19.5px,#4f4bfc 20.5px,#f00 21.5px,#f00 23.5px,#4f4bfc 24.5px,#4d4efc 524.5px,#4953fb 766.5px,#425efa 899.5px,#f00 900.5px,#425efa 901.5px,#425efa 903.5px,#19cee3 904.5px,#425efa 905.5px,#3f63fa 1405.5px,#3d65fa 1491.5px)"></i><i style="top:666px;height:1px;background:linear-gradient(90deg,#4f4bfc 0.5px,#4f4bfc 13.5px,#f00 14.5px,#e5ce74 15.5px,#4f4bfc 16.5px,#f00 17.5px,#4f4bfc 18.5px,#4f4bfc 20.5px,#e5ce74 21.5px,#4f4bfc 22.5px,#f00 23.5px,#19cee3 24.5px,#4f4bfc 25.5px,#4d4efc 525.5px,#4953fb 766.5px,#425efa 899.5px,#f00 900.5px,#425efa 901.5px,#425efa 903.5px,#19cee3 904.5px,#425efa 905.5px,#3f63fa 1405.5px,#3d65fa 1491.5px)"></i><i style="top:667px;height:2px;background:linear-gradient(90deg,#4f4bfc 0.5px,#4f4bfc 13.5px,#f00 14.5px,#e5ce74 15.5px,#4f4bfc 16.5px,#f00 17.5px,#4f4bfc 18.5px,#4f4bfc 20.5px,#e5ce74 21.5px,#4f4bfc 22.5px,#f00 23.5px,#19cee3 24.5px,#4f4bfc 25.5px,#4f4cfc 131.5px,#ff4f28 132.5px,#f00 133.5px,#f00 136.5px,#4f4cfc 137.5px,#4d4efc 637.5px,#4756fb 796.5px,#425efa 901.5px,#19cee3 902.5px,#425efa 903.5px,#f00 904.5px,#425efa 905.5px,#425efa 907.5px,#4df3ce 908.5px,#425efa 909.5px,#3e63fa 1409.5px,#3d65fa 1491.5px)"></i><i style="top:669px;height:3px;background:linear-gradient(90deg,#80ffb4 0.5px,#80ffb4 131.5px,#ff4f28 132.5px,#ff4f28 133.5px,#f00 134.5px,#f00 136.5px,#80ffb4 137.5px,#7cffb6 380.5px,#4ff4cd 480.5px,#15cae5 551.5px,#02b2ec 580.5px,#3374f8 650.5px,#3f63fa 682.5px,#4b51fc 808.5px,#5a3bfd 1191.5px,#6628fe 1288.5px,#6628fe 1491.5px)"></i><i style="top:672px;height:2px;background:linear-gradient(90deg,#f00 0.5px,#f00 70.5px,#ff4f28 71.5px,#f00 72.5px,#f00 73.5px,#ff964f 74.5px,#f00 75.5px,#ff0301 79.5px,#ff4f28 80.5px,#ff0703 81.5px,#ff964f 82.5px,#ff0b05 83.5px,#ff964f 84.5px,#ff0e07 85.5px,#ff964f 86.5px,#ff1209 87.5px,#ff140a 88.5px,#ff964f 89.5px,#f00 90.5px,#ff1a0d 91.5px,#ff2714 98.5px,#f00 99.5px,#ff2b16 100.5px,#ff351b 105.5px,#ff964f 106.5px,#ff391c 107.5px,#f00 108.5px,#ff3c1e 109.5px,#ff3e1f 110.5px,#ff4f28 111.5px,#ff4221 112.5px,#f42 113.5px,#ff964f 114.5px,#ff4824 115.5px,#ff4d27 118.5px,#ff964f 119.5px,#ff5129 120.5px,#ff542b 122.5px,#f00 123.5px,#f00 124.5px,#ff5a2e 125.5px,#ff5d30 127.5px,#ff964f 128.5px,#ff6131 129.5px,#ff6332 130.5px,#ff964f 131.5px,#f00 132.5px,#f00 133.5px,#ff4f28 134.5px,#ff6c37 135.5px,#f00 136.5px,#ff6f39 137.5px,#ff723b 139.5px,#f00 140.5px,#ff753c 141.5px,#ff783e 143.5px,#ff964f 144.5px,#ff7b40 145.5px,#ff8042 148.5px,#ff964f 149.5px,#ff8244 150.5px,#ff8b49 156.5px,#f00 157.5px,#ff8e4a 158.5px,#ffa457 174.5px,#ff964f 175.5px,#ffa659 176.5px,#ffac5c 180.5px,#f00 181.5px,#ffae5e 182.5px,#ff964f 183.5px,#ffb15f 184.5px,#ffb260 185.5px,#ff964f 186.5px,#ffb462 187.5px,#fdb763 189.5px,#ff964f 190.5px,#ff964f 191.5px,#f00 192.5px,#f9bb66 193.5px,#f5bf69 196.5px,#ff964f 197.5px,#f3c16a 198.5px,#ebc970 205.5px,#f00 206.5px,#f00 207.5px,#e8cc72 208.5px,#e5cf74 212.5px,#ff964f 213.5px,#e3d075 214.5px,#e5ce74 218.5px,#ded579 223.5px,#e5ce74 224.5px,#dcd67a 225.5px,#cee284 248.5px,#ff964f 249.5px,#cce385 250.5px,#ff964f 251.5px,#ff964f 252.5px,#cae486 253.5px,#c5e88a 262.5px,#ff964f 263.5px,#c3e98b 264.5px,#c1eb8d 268.5px,#ff964f 269.5px,#c0eb8d 270.5px,#bcee90 276.5px,#ff964f 277.5px,#baee91 278.5px,#b8f092 282.5px,#e5ce74 283.5px,#ff964f 284.5px,#b6f194 285.5px,#e5ce74 286.5px,#b5f194 287.5px,#b1f397 294.5px,#ff964f 295.5px,#b0f498 296.5px,#aff498 297.5px,#ff964f 298.5px,#aef599 299.5px,#a9f79c 310.5px,#ff964f 311.5px,#a8f79d 312.5px,#76ffba 414.5px,#45efd2 511.5px,#08bde9 573.5px,#02b2ec 585.5px,#2c7df7 639.5px,#3f62fa 697.5px,#4b51fc 804.5px,#5b39fd 1304.5px,#6130fe 1491.5px)"></i><i style="top:674px;height:1px;background:linear-gradient(90deg,#f00 0.5px,#f00 70.5px,#ff4f28 71.5px,#f00 72.5px,#f00 73.5px,#ff964f 74.5px,#f00 75.5px,#ff0301 79.5px,#ff4f28 80.5px,#ff0703 81.5px,#ff964f 82.5px,#ff0b05 83.5px,#ff964f 84.5px,#ff0e07 85.5px,#ff964f 86.5px,#ff1209 87.5px,#ff140a 88.5px,#ff964f 89.5px,#f00 90.5px,#ff1a0d 91.5px,#ff2714 98.5px,#f00 99.5px,#ff2b16 100.5px,#ff351b 105.5px,#ff964f 106.5px,#ff391c 107.5px,#f00 108.5px,#ff3c1e 109.5px,#ff3e1f 110.5px,#ff4f28 111.5px,#ff4221 112.5px,#f42 113.5px,#ff964f 114.5px,#ff4824 115.5px,#ff4d27 118.5px,#ff964f 119.5px,#ff5129 120.5px,#ff542b 122.5px,#f00 123.5px,#f00 124.5px,#ff5a2e 125.5px,#ff5d30 127.5px,#ff964f 128.5px,#ff6131 129.5px,#ff6332 130.5px,#ff964f 131.5px,#f00 132.5px,#f00 133.5px,#ff4f28 134.5px,#ff6c37 135.5px,#f00 136.5px,#ff6f39 137.5px,#ff723b 139.5px,#f00 140.5px,#ff753c 141.5px,#ff783e 143.5px,#ff964f 144.5px,#ff7b40 145.5px,#ff8042 148.5px,#ff964f 149.5px,#ff8244 150.5px,#ff8b49 156.5px,#f00 157.5px,#ff8e4a 158.5px,#ffa457 174.5px,#ff964f 175.5px,#ffa659 176.5px,#ffac5c 180.5px,#f00 181.5px,#ffae5e 182.5px,#ff964f 183.5px,#ffb15f 184.5px,#ffb260 185.5px,#ff964f 186.5px,#ffb462 187.5px,#fdb763 189.5px,#ff964f 190.5px,#ff964f 191.5px,#f00 192.5px,#f9bb66 193.5px,#f5bf69 196.5px,#ff964f 197.5px,#f3c16a 198.5px,#ebc970 205.5px,#f00 206.5px,#f00 207.5px,#e8cc72 208.5px,#e5cf74 212.5px,#ff964f 213.5px,#e3d075 214.5px,#e5ce74 218.5px,#ded579 223.5px,#e5ce74 224.5px,#dcd67a 225.5px,#cee284 248.5px,#ff964f 249.5px,#cce385 250.5px,#ff964f 251.5px,#ff964f 252.5px,#cae486 253.5px,#c5e88a 262.5px,#ff964f 263.5px,#c3e98b 264.5px,#c1eb8d 268.5px,#ff964f 269.5px,#c0eb8d 270.5px,#bcee90 276.5px,#ff964f 277.5px,#baee91 278.5px,#b8f092 282.5px,#e5ce74 283.5px,#ff964f 284.5px,#b6f194 285.5px,#e5ce74 286.5px,#b5f194 287.5px,#b1f397 294.5px,#ff964f 295.5px,#b0f498 296.5px,#aff498 297.5px,#ff964f 298.5px,#aef599 299.5px,#a9f79c 310.5px,#ff964f 311.5px,#a8f79d 312.5px,#76ffba 414.5px,#45efd2 511.5px,#08bde9 573.5px,#02b2ec 585.5px,#2c7df7 639.5px,#3f62fa 697.5px,#4b51fc 804.5px,#4d4efc 870.5px,#00b4ec 871.5px,#4d4efc 872.5px,#4d4efc 873.5px,#00b4ec 874.5px,#4d4efc 875.5px,#f00 876.5px,#4d4efc 877.5px,#4d4dfc 878.5px,#00b4ec 879.5px,#4d4dfc 880.5px,#33e3d9 881.5px,#4e4dfc 882.5px,#4e4dfc 883.5px,#b2f396 884.5px,#4e4dfc 885.5px,#33e3d9 886.5px,#4e4dfc 887.5px,#19cee3 888.5px,#4e4dfc 889.5px,#80ffb4 890.5px,#4e4dfc 891.5px,#b2f396 892.5px,#19cee3 893.5px,#4e4dfc 894.5px,#f00 895.5px,#80ffb4 896.5px,#4e4dfc 897.5px,#4e4cfc 900.5px,#33e3d9 901.5px,#4e4cfc 902.5px,#4e4cfc 904.5px,#b2f396 905.5px,#4e4cfc 906.5px,#f00 907.5px,#4e4cfc 908.5px,#f00 909.5px,#4e4cfc 910.5px,#5e34fe 1410.5px,#6130fe 1491.5px)"></i><i style="top:675px;height:2px;background:linear-gradient(90deg,#ff4f28 0.5px,#f00 1.5px,#f00 2.5px,#ff4f28 3.5px,#ff4f28 4.5px,#f00 5.5px,#f00 6.5px,#ff4f28 7.5px,#f00 8.5px,#f00 11.5px,#ff4f28 12.5px,#f00 13.5px,#f00 15.5px,#ff4f28 16.5px,#f00 17.5px,#f00 22.5px,#ff4f28 23.5px,#f00 24.5px,#f00 26.5px,#ff4f28 27.5px,#f00 28.5px,#f00 32.5px,#ff4f28 33.5px,#f00 34.5px,#f00 35.5px,#ff4f28 36.5px,#f00 37.5px,#f00 80.5px,#ff0904 82.5px,#ff964f 84.5px,#ff0e07 85.5px,#f00 86.5px,#ff1209 87.5px,#ff964f 88.5px,#ff964f 89.5px,#ff180c 90.5px,#ff1c0e 92.5px,#ff4f28 93.5px,#ff964f 94.5px,#f21 95.5px,#ff964f 96.5px,#ff2613 97.5px,#ff2b16 100.5px,#ff4f28 101.5px,#ff2f18 102.5px,#ff4f28 103.5px,#f00 104.5px,#ff351b 105.5px,#ff371c 106.5px,#f00 107.5px,#ff3a1d 108.5px,#ff3e1f 110.5px,#ff4f28 111.5px,#ff4221 112.5px,#f00 113.5px,#ff4623 114.5px,#f00 115.5px,#ff964f 117.5px,#ff4d27 118.5px,#ff542b 122.5px,#ff964f 123.5px,#ff582d 124.5px,#ff964f 125.5px,#ff5c2f 126.5px,#ff6131 129.5px,#f00 130.5px,#ff964f 131.5px,#f00 133.5px,#ff4f28 134.5px,#ff4f28 135.5px,#f00 136.5px,#ff964f 137.5px,#ff4f28 138.5px,#ff723b 139.5px,#f00 140.5px,#ff753c 141.5px,#ff8143 149.5px,#ff964f 150.5px,#ff964f 152.5px,#ff8746 153.5px,#ff964f 154.5px,#ff964f 155.5px,#ff8b49 156.5px,#ff9f54 170.5px,#f00 171.5px,#ffa156 172.5px,#ff964f 173.5px,#ffa457 174.5px,#f00 175.5px,#ffa659 176.5px,#ffac5c 180.5px,#f00 181.5px,#ffae5e 182.5px,#ffaf5e 183.5px,#ff964f 184.5px,#ffb260 185.5px,#f00 186.5px,#ffb462 187.5px,#f00 188.5px,#fdb763 189.5px,#f00 190.5px,#fbb965 191.5px,#f1c36c 200.5px,#f00 201.5px,#efc56d 202.5px,#f00 203.5px,#edc86f 204.5px,#f00 205.5px,#f00 206.5px,#e9cb71 207.5px,#ff964f 208.5px,#e7cd73 209.5px,#d8da7d 231.5px,#e5ce74 232.5px,#d7db7e 233.5px,#c1ea8c 267.5px,#e5ce74 268.5px,#c0eb8d 269.5px,#c0eb8d 270.5px,#ff964f 271.5px,#beec8e 272.5px,#bded8f 274.5px,#e5ce74 275.5px,#ff964f 276.5px,#bbee90 277.5px,#baef91 279.5px,#ff964f 280.5px,#b9ef92 281.5px,#b8f092 282.5px,#ff964f 283.5px,#b7f093 284.5px,#b2f396 291.5px,#ff964f 292.5px,#b1f397 293.5px,#abf69b 306.5px,#e5ce74 307.5px,#aaf69b 308.5px,#a8f79d 312.5px,#ff964f 313.5px,#a7f89d 314.5px,#a5f89e 316.5px,#e5ce74 317.5px,#a4f89f 318.5px,#71febc 424.5px,#45efd2 511.5px,#08bde9 573.5px,#02b2ec 585.5px,#2c7df7 639.5px,#3f62fa 697.5px,#4b51fc 804.5px,#4d4efc 870.5px,#00b4ec 871.5px,#4d4efc 872.5px,#4d4efc 873.5px,#00b4ec 874.5px,#4d4efc 875.5px,#f00 876.5px,#4d4efc 877.5px,#4d4dfc 878.5px,#00b4ec 879.5px,#4d4dfc 880.5px,#33e3d9 881.5px,#4e4dfc 882.5px,#4e4dfc 883.5px,#b2f396 884.5px,#4e4dfc 885.5px,#33e3d9 886.5px,#4e4dfc 887.5px,#19cee3 888.5px,#4e4dfc 889.5px,#80ffb4 890.5px,#4e4dfc 891.5px,#b2f396 892.5px,#19cee3 893.5px,#4e4dfc 894.5px,#f00 895.5px,#80ffb4 896.5px,#4e4dfc 897.5px,#4e4cfc 900.5px,#33e3d9 901.5px,#4e4cfc 902.5px,#4e4cfc 904.5px,#b2f396 905.5px,#4e4cfc 906.5px,#f00 907.5px,#4e4cfc 908.5px,#f00 909.5px,#4e4cfc 910.5px,#5e34fe 1410.5px,#6130fe 1491.5px)"></i><i style="top:677px;height:2px;background:linear-gradient(90deg,#e5ce74 0.5px,#f00 1.5px,#f00 2.5px,#e5cf74 3.5px,#f00 4.5px,#e5cf74 5.5px,#e5cf74 6.5px,#f00 7.5px,#ff4f28 8.5px,#e5cf74 9.5px,#e5cf74 11.5px,#f00 12.5px,#ff4f28 13.5px,#f00 14.5px,#f00 15.5px,#e4d075 16.5px,#f00 17.5px,#ff4f28 18.5px,#ff4f28 20.5px,#e4d075 21.5px,#e4d075 22.5px,#ff4f28 23.5px,#f00 24.5px,#e3d075 25.5px,#e3d075 27.5px,#ff4f28 28.5px,#ff4f28 29.5px,#f00 30.5px,#f00 31.5px,#e3d176 32.5px,#e3d176 33.5px,#f00 34.5px,#ff4f28 35.5px,#ff4f28 37.5px,#f00 38.5px,#e2d176 39.5px,#e2d176 40.5px,#ff4f28 41.5px,#f00 42.5px,#f00 44.5px,#ff4f28 45.5px,#ff4f28 47.5px,#e1d277 48.5px,#f00 49.5px,#e1d277 50.5px,#ff4f28 51.5px,#f00 52.5px,#ff4f28 53.5px,#e1d277 54.5px,#e1d377 55.5px,#f00 56.5px,#ff4f28 57.5px,#e1d377 58.5px,#f00 59.5px,#f00 60.5px,#e0d377 61.5px,#e0d378 65.5px,#ff4f28 66.5px,#ff4f28 67.5px,#e0d378 68.5px,#e0d478 69.5px,#ff4f28 70.5px,#dfd478 71.5px,#d7db7e 128.5px,#d5dc7f 131.5px,#f00 132.5px,#f00 135.5px,#ff4f28 136.5px,#d2df81 137.5px,#9cfba4 234.5px,#61fbc4 355.5px,#31e2da 451.5px,#02b3ec 538.5px,#435dfb 678.5px,#5148fc 865.5px,#19cee3 866.5px,#5148fc 867.5px,#19cee3 868.5px,#19cee3 869.5px,#5247fc 870.5px,#00b4ec 871.5px,#5247fc 872.5px,#19cee3 873.5px,#33e3d9 874.5px,#5247fc 875.5px,#5247fc 878.5px,#00b4ec 879.5px,#00b4ec 880.5px,#33e3d9 881.5px,#5247fc 882.5px,#f00 883.5px,#19cee3 884.5px,#5247fc 885.5px,#19cee3 886.5px,#f00 887.5px,#5247fc 888.5px,#5247fc 889.5px,#19cee3 890.5px,#5247fc 891.5px,#5247fc 894.5px,#33e3d9 895.5px,#5247fc 896.5px,#5247fc 901.5px,#b2f396 902.5px,#5247fc 903.5px,#5247fc 906.5px,#80ffb4 907.5px,#5247fc 908.5px,#f00 909.5px,#5247fc 910.5px,#5640fd 1410.5px,#573ffd 1491.5px)"></i><i style="top:679px;height:1px;background:linear-gradient(90deg,#e5ce74 0.5px,#f00 1.5px,#f00 2.5px,#e5cf74 3.5px,#f00 4.5px,#e5cf74 5.5px,#e5cf74 6.5px,#f00 7.5px,#ff4f28 8.5px,#e5cf74 9.5px,#e5cf74 11.5px,#f00 12.5px,#ff4f28 13.5px,#f00 14.5px,#f00 15.5px,#e4d075 16.5px,#f00 17.5px,#ff4f28 18.5px,#ff4f28 20.5px,#e4d075 21.5px,#e4d075 22.5px,#ff4f28 23.5px,#f00 24.5px,#e3d075 25.5px,#e3d075 27.5px,#ff4f28 28.5px,#ff4f28 29.5px,#f00 30.5px,#f00 31.5px,#e3d176 32.5px,#e3d176 33.5px,#f00 34.5px,#ff4f28 35.5px,#ff4f28 37.5px,#f00 38.5px,#e2d176 39.5px,#e2d176 40.5px,#ff4f28 41.5px,#f00 42.5px,#f00 44.5px,#ff4f28 45.5px,#ff4f28 47.5px,#e1d277 48.5px,#f00 49.5px,#e1d277 50.5px,#ff4f28 51.5px,#f00 52.5px,#ff4f28 53.5px,#e1d277 54.5px,#e1d377 55.5px,#f00 56.5px,#ff4f28 57.5px,#e1d377 58.5px,#f00 59.5px,#f00 60.5px,#e0d377 61.5px,#e0d378 65.5px,#ff4f28 66.5px,#ff4f28 67.5px,#e0d378 68.5px,#e0d478 69.5px,#ff4f28 70.5px,#dfd478 71.5px,#d7db7e 128.5px,#d5dc7f 131.5px,#f00 132.5px,#f00 133.5px,#ff4f28 134.5px,#f00 135.5px,#ff4f28 136.5px,#d2df81 137.5px,#9cfba4 234.5px,#61fbc4 355.5px,#31e2da 451.5px,#02b3ec 538.5px,#435dfb 678.5px,#5247fc 878.5px,#19cee3 879.5px,#5247fc 880.5px,#5247fc 884.5px,#f00 885.5px,#b2f396 886.5px,#f00 887.5px,#5247fc 888.5px,#5247fc 890.5px,#b2f396 891.5px,#f00 892.5px,#5247fc 893.5px,#b2f396 894.5px,#5247fc 895.5px,#5247fc 896.5px,#80ffb4 897.5px,#5247fc 898.5px,#5247fc 899.5px,#33e3d9 900.5px,#f00 901.5px,#80ffb4 902.5px,#80ffb4 903.5px,#f00 904.5px,#f00 906.5px,#5247fc 907.5px,#b2f396 908.5px,#5247fc 909.5px,#5640fd 1409.5px,#573ffd 1491.5px)"></i><i style="top:680px;height:2px;background:linear-gradient(90deg,#0fc4e7 0.5px,#0bc0e8 131.5px,#f00 132.5px,#f00 133.5px,#ff4f28 134.5px,#f00 135.5px,#ff4f28 136.5px,#0bc0e8 137.5px,#03b1ed 483.5px,#228bf5 592.5px,#435dfb 679.5px,#5247fc 878.5px,#19cee3 879.5px,#5247fc 880.5px,#5247fc 884.5px,#f00 885.5px,#b2f396 886.5px,#f00 887.5px,#5247fc 888.5px,#5247fc 890.5px,#b2f396 891.5px,#f00 892.5px,#5247fc 893.5px,#b2f396 894.5px,#5247fc 895.5px,#5247fc 896.5px,#80ffb4 897.5px,#5247fc 898.5px,#5247fc 899.5px,#33e3d9 900.5px,#f00 901.5px,#80ffb4 902.5px,#80ffb4 903.5px,#f00 904.5px,#f00 906.5px,#5247fc 907.5px,#b2f396 908.5px,#5247fc 909.5px,#5640fd 1409.5px,#573ffd 1491.5px)"></i><i style="top:682px;height:6px;background:linear-gradient(90deg,#2e7bf7 0.5px,#376ef9 500.5px,#3e64fa 653.5px,#4d4ffc 898.5px,#5444fd 1219.5px,#573ffd 1491.5px)"></i><i style="top:688px;height:6px;background:linear-gradient(90deg,#2e7bf7 0.5px,#376ef9 500.5px,#3e64fa 653.5px,#4d4ffc 898.5px,#5a3bfd 1241.5px,#5c38fd 1491.5px)"></i><i style="top:694px;height:4px;background:linear-gradient(90deg,#2e7bf7 0.5px,#376ef9 500.5px,#3e64fa 653.5px,#4d4ffc 898.5px,#5246fd 1161.5px,#5443fd 1491.5px)"></i><i style="top:698px;height:3px;background:linear-gradient(90deg,#2e7bf7 0.5px,#3472f8 343.5px,#2d7cf7 344.5px,#3472f8 345.5px,#3472f8 350.5px,#2d7cf7 351.5px,#3472f8 352.5px,#3472f8 367.5px,#2c7ef7 368.5px,#3572f8 369.5px,#3c67fa 626.5px,#4c50fc 880.5px,#5246fd 1150.5px,#5443fd 1491.5px)"></i><i style="top:701px;height:2px;background:linear-gradient(90deg,#149cf1 0.5px,#2785f6 325.5px,#2981f6 350.5px,#2488f5 351.5px,#2981f6 352.5px,#208ef4 353.5px,#2a81f6 354.5px,#1f8ff4 355.5px,#218cf4 356.5px,#2a80f6 357.5px,#2a80f6 360.5px,#1c93f3 361.5px,#2b7ff6 363.5px,#2b7ef6 370.5px,#2488f5 371.5px,#2b7ef7 372.5px,#4f4bfc 872.5px,#5345fd 1372.5px,#5443fd 1491.5px)"></i><i style="top:703px;height:3px;background:linear-gradient(90deg,#149cf1 0.5px,#2785f6 325.5px,#2982f6 345.5px,#1c92f3 346.5px,#2982f6 347.5px,#2a81f6 354.5px,#2587f5 355.5px,#169af2 356.5px,#2a80f6 357.5px,#2882f6 360.5px,#1f8ff4 361.5px,#2a80f6 362.5px,#2b7ff6 367.5px,#1e90f4 368.5px,#2b7ff6 369.5px,#4f4bfc 869.5px,#5345fd 1369.5px,#5443fd 1491.5px)"></i><i style="top:706px;height:3px;background:linear-gradient(90deg,#149cf1 0.5px,#2785f6 325.5px,#2982f6 343.5px,#03b2ec 344.5px,#2586f5 345.5px,#2982f6 346.5px,#2587f5 347.5px,#2981f6 350.5px,#149df1 351.5px,#2981f6 352.5px,#159cf1 353.5px,#2882f6 354.5px,#0ba8ef 355.5px,#169af2 356.5px,#04b0ed 357.5px,#2981f6 358.5px,#2a80f6 359.5px,#1898f2 360.5px,#169af2 361.5px,#0da5ef 362.5px,#169af2 363.5px,#2b7ff6 364.5px,#2784f6 366.5px,#2b7ff6 367.5px,#238af5 368.5px,#2b7ff6 369.5px,#2b7ef6 370.5px,#0ca6ef 371.5px,#2b7ef7 372.5px,#4f4bfc 872.5px,#5345fd 1372.5px,#5443fd 1491.5px)"></i><i style="top:709px;height:2px;background:linear-gradient(90deg,#149cf1 0.5px,#2785f6 325.5px,#2882f6 341.5px,#1798f2 342.5px,#2982f6 343.5px,#04b9ea 344.5px,#2982f6 345.5px,#0ba7ef 346.5px,#159cf1 348.5px,#2981f6 349.5px,#2389f5 350.5px,#2981f6 352.5px,#06aeed 353.5px,#139ef1 354.5px,#0ca7ef 355.5px,#2a80f6 357.5px,#2a80f6 358.5px,#169af2 359.5px,#0ba7ef 361.5px,#2a80f6 362.5px,#1997f2 363.5px,#12a0f1 364.5px,#2b7ff6 365.5px,#139ef1 366.5px,#1a95f3 367.5px,#0fa3f0 368.5px,#1b94f3 369.5px,#1b93f3 370.5px,#149df1 371.5px,#2b7ef7 372.5px,#4f4bfc 872.5px,#5345fd 1372.5px,#5443fd 1491.5px)"></i><i style="top:711px;height:1px;background:linear-gradient(90deg,#0abfe8 0.5px,#02b2ec 111.5px,#1f8ef4 342.5px,#12a0f1 343.5px,#17cce4 344.5px,#0fa3f0 345.5px,#0ca7ef 346.5px,#08bde9 347.5px,#159cf1 348.5px,#04b0ed 349.5px,#10a2f0 350.5px,#02b7eb 351.5px,#0da5ef 352.5px,#1acfe3 353.5px,#218cf4 354.5px,#1cd1e2 355.5px,#0ea4f0 356.5px,#0dc2e7 357.5px,#228bf4 358.5px,#228bf4 359.5px,#09bee9 360.5px,#0cc1e8 362.5px,#06aded 363.5px,#238af5 364.5px,#238af5 365.5px,#0fa3f0 366.5px,#0ba8ef 367.5px,#0ec3e7 368.5px,#12a0f1 369.5px,#2389f5 370.5px,#07bce9 371.5px,#2488f5 372.5px,#4f4bfc 872.5px,#5345fd 1372.5px,#5443fd 1491.5px)"></i><i style="top:712px;height:2px;background:linear-gradient(90deg,#0abfe8 0.5px,#02b2ec 111.5px,#1f8ef4 342.5px,#12a0f1 343.5px,#17cce4 344.5px,#0fa3f0 345.5px,#0ca7ef 346.5px,#08bde9 347.5px,#159cf1 348.5px,#04b0ed 349.5px,#10a2f0 350.5px,#02b7eb 351.5px,#0da5ef 352.5px,#1acfe3 353.5px,#218cf4 354.5px,#1cd1e2 355.5px,#0ea4f0 356.5px,#0dc2e7 357.5px,#228bf4 358.5px,#228bf4 359.5px,#09bee9 360.5px,#0cc1e8 362.5px,#06aded 363.5px,#238af5 364.5px,#238af5 365.5px,#0fa3f0 366.5px,#0ba8ef 367.5px,#0ec3e7 368.5px,#12a0f1 369.5px,#2389f5 370.5px,#07bce9 371.5px,#2488f5 372.5px,#2a80f6 430.5px,#2586f5 431.5px,#2a80f6 434.5px,#3275f8 526.5px,#2c7df7 527.5px,#3275f8 529.5px,#4b52fc 821.5px,#4856fb 822.5px,#4b51fc 827.5px,#4b50fc 830.5px,#435dfb 831.5px,#4c50fc 832.5px,#5148fc 1112.5px,#5443fd 1491.5px)"></i><i style="top:714px;height:1px;background:linear-gradient(90deg,#3374f8 0.5px,#3472f8 55.5px,#129ff1 56.5px,#3472f8 57.5px,#1f8ef4 58.5px,#3472f8 59.5px,#376ff9 200.5px,#2e7bf7 201.5px,#376ff9 202.5px,#376ff9 204.5px,#2b7ff6 205.5px,#2884f6 206.5px,#376ff9 207.5px,#396bf9 341.5px,#11c6e6 342.5px,#396bf9 343.5px,#18cde4 344.5px,#396bf9 345.5px,#19cde4 346.5px,#08abee 347.5px,#0ba7ef 349.5px,#396bf9 350.5px,#11c7e6 351.5px,#06aded 352.5px,#11c7e6 353.5px,#01b6eb 354.5px,#1bcfe3 355.5px,#0bc0e8 356.5px,#1fd3e1 357.5px,#1c93f3 358.5px,#396bf9 359.5px,#07bcea 360.5px,#23d6e0 361.5px,#26d9df 362.5px,#01b3ec 363.5px,#02b2ec 364.5px,#139ef1 365.5px,#00b4ec 366.5px,#1798f2 367.5px,#11c6e6 368.5px,#01b3ec 369.5px,#0ba8ef 370.5px,#0fc4e7 371.5px,#3a6af9 372.5px,#3b69f9 420.5px,#3570f8 421.5px,#3b69f9 422.5px,#3275f8 424.5px,#3b69f9 425.5px,#3b69f9 426.5px,#3374f8 427.5px,#3373f8 428.5px,#3b69f9 429.5px,#3b69f9 430.5px,#2586f5 431.5px,#3b69f9 432.5px,#3b68f9 526.5px,#2c7df7 527.5px,#3c66fa 528.5px,#3d66fa 533.5px,#3374f8 534.5px,#3d66fa 535.5px,#4a53fc 816.5px,#3e64fa 817.5px,#4855fb 818.5px,#4a52fc 822.5px,#3077f7 823.5px,#4a52fc 824.5px,#4a52fc 828.5px,#425efa 829.5px,#4a52fc 830.5px,#4b52fc 834.5px,#5443fd 1286.5px,#5443fd 1491.5px)"></i><i style="top:715px;height:2px;background:linear-gradient(90deg,#3374f8 0.5px,#3472f8 55.5px,#129ff1 56.5px,#3472f8 57.5px,#1f8ef4 58.5px,#3472f8 59.5px,#376ff9 200.5px,#2e7bf7 201.5px,#376ff9 202.5px,#376ff9 204.5px,#2b7ff6 205.5px,#2884f6 206.5px,#376ff9 207.5px,#396bf9 341.5px,#11c6e6 342.5px,#396bf9 343.5px,#18cde4 344.5px,#396bf9 345.5px,#19cde4 346.5px,#08abee 347.5px,#0ba7ef 349.5px,#396bf9 350.5px,#11c7e6 351.5px,#06aded 352.5px,#11c7e6 353.5px,#01b6eb 354.5px,#1bcfe3 355.5px,#0bc0e8 356.5px,#1fd3e1 357.5px,#1c93f3 358.5px,#396bf9 359.5px,#07bcea 360.5px,#23d6e0 361.5px,#26d9df 362.5px,#01b3ec 363.5px,#02b2ec 364.5px,#139ef1 365.5px,#00b4ec 366.5px,#1798f2 367.5px,#11c6e6 368.5px,#01b3ec 369.5px,#0ba8ef 370.5px,#0fc4e7 371.5px,#3a6af9 372.5px,#3b69f9 420.5px,#2982f6 421.5px,#3b69f9 424.5px,#2d7cf7 426.5px,#1c93f3 427.5px,#2f79f7 428.5px,#2685f5 429.5px,#376ef9 430.5px,#0ea4f0 431.5px,#3b69f9 432.5px,#3c66fa 525.5px,#2c7ef7 526.5px,#2488f5 527.5px,#3c66fa 528.5px,#3c66fa 531.5px,#386df9 532.5px,#3d66fa 533.5px,#2784f6 534.5px,#3d66fa 536.5px,#3d66fa 538.5px,#3472f8 539.5px,#3d66fa 540.5px,#4a53fc 816.5px,#3e64fa 817.5px,#4855fb 818.5px,#4a52fc 822.5px,#3077f7 823.5px,#4a52fc 824.5px,#4a52fc 828.5px,#425efa 829.5px,#4a52fc 830.5px,#4b52fc 834.5px,#5443fd 1286.5px,#5443fd 1491.5px)"></i><i style="top:717px;height:1px;background:linear-gradient(90deg,#3374f8 0.5px,#3472f8 56.5px,#1799f2 57.5px,#1997f2 58.5px,#3472f8 59.5px,#376ff9 204.5px,#129ff1 205.5px,#09aaee 206.5px,#376ff9 207.5px,#396bf9 341.5px,#28dbde 342.5px,#159cf1 343.5px,#25d9df 344.5px,#04b0ed 345.5px,#24d7df 346.5px,#07bce9 347.5px,#0fc5e7 349.5px,#01b3ec 350.5px,#19cee3 351.5px,#0fa3f0 352.5px,#1fd3e1 353.5px,#00b4ec 354.5px,#21d5e1 355.5px,#0ec3e7 356.5px,#1fd3e1 357.5px,#0ca6ef 358.5px,#07acee 359.5px,#1dd1e2 360.5px,#1acee3 361.5px,#2adddd 362.5px,#14c9e5 363.5px,#0ca6ef 364.5px,#1d92f3 365.5px,#03b7eb 366.5px,#16cbe4 368.5px,#11c6e6 369.5px,#1799f2 370.5px,#19cde4 371.5px,#3a6af9 372.5px,#3b69f9 420.5px,#2982f6 421.5px,#3b69f9 424.5px,#2d7cf7 426.5px,#1c93f3 427.5px,#2f79f7 428.5px,#2685f5 429.5px,#376ef9 430.5px,#0ea4f0 431.5px,#3b69f9 432.5px,#3c66fa 525.5px,#2c7ef7 526.5px,#2488f5 527.5px,#3c66fa 528.5px,#3c66fa 531.5px,#386df9 532.5px,#3d66fa 533.5px,#2784f6 534.5px,#3d66fa 536.5px,#3d66fa 538.5px,#3472f8 539.5px,#3d66fa 540.5px,#4a53fc 816.5px,#2e7af7 817.5px,#445bfb 819.5px,#435cfb 820.5px,#4a53fc 821.5px,#3b68f9 823.5px,#4a52fc 824.5px,#435dfb 825.5px,#4a52fc 826.5px,#4a52fc 827.5px,#445bfb 828.5px,#4a52fc 829.5px,#445cfb 830.5px,#4a52fc 831.5px,#2586f5 832.5px,#4b52fc 833.5px,#4658fb 835.5px,#4b51fc 837.5px,#5443fd 1297.5px,#5443fd 1491.5px)"></i><i style="top:718px;height:1px;background:linear-gradient(90deg,#3374f8 0.5px,#3472f8 56.5px,#1799f2 57.5px,#1997f2 58.5px,#3472f8 59.5px,#376ff9 204.5px,#129ff1 205.5px,#09aaee 206.5px,#376ff9 207.5px,#396bf9 341.5px,#28dbde 342.5px,#159cf1 343.5px,#25d9df 344.5px,#04b0ed 345.5px,#24d7df 346.5px,#07bce9 347.5px,#0fc5e7 349.5px,#01b3ec 350.5px,#19cee3 351.5px,#0fa3f0 352.5px,#1fd3e1 353.5px,#00b4ec 354.5px,#21d5e1 355.5px,#0ec3e7 356.5px,#1fd3e1 357.5px,#0ca6ef 358.5px,#07acee 359.5px,#1dd1e2 360.5px,#1acee3 361.5px,#2adddd 362.5px,#14c9e5 363.5px,#0ca6ef 364.5px,#1d92f3 365.5px,#03b7eb 366.5px,#16cbe4 368.5px,#11c6e6 369.5px,#1799f2 370.5px,#19cde4 371.5px,#3a6af9 372.5px,#3b69f9 420.5px,#1b94f3 421.5px,#3275f8 423.5px,#3571f8 424.5px,#2586f5 425.5px,#3276f8 426.5px,#1a95f3 427.5px,#159bf2 428.5px,#1d92f3 429.5px,#2d7cf7 430.5px,#169bf2 431.5px,#3b69f9 432.5px,#3c67fa 521.5px,#2f79f7 522.5px,#3a69f9 523.5px,#3c66fa 524.5px,#2587f5 525.5px,#2488f5 526.5px,#0fa3f0 527.5px,#3c66fa 528.5px,#3c66fa 529.5px,#2685f5 531.5px,#3d66fa 532.5px,#2587f5 534.5px,#3d66fa 537.5px,#3d66fa 538.5px,#218cf4 539.5px,#3d66fa 540.5px,#4a53fc 816.5px,#2e7af7 817.5px,#445bfb 819.5px,#435cfb 820.5px,#4a53fc 821.5px,#3b68f9 823.5px,#4a52fc 824.5px,#435dfb 825.5px,#4a52fc 826.5px,#4a52fc 827.5px,#445bfb 828.5px,#4a52fc 829.5px,#445cfb 830.5px,#4a52fc 831.5px,#2586f5 832.5px,#4b52fc 833.5px,#4658fb 835.5px,#4b51fc 837.5px,#5443fd 1297.5px,#5443fd 1491.5px)"></i><i style="top:719px;height:1px;background:linear-gradient(90deg,#3374f8 0.5px,#3472f8 55.5px,#0ec3e7 56.5px,#1996f2 57.5px,#218df4 58.5px,#3472f8 59.5px,#376ff9 200.5px,#11a0f0 201.5px,#376ff9 202.5px,#376ff9 204.5px,#12a0f1 205.5px,#159bf1 206.5px,#376ff9 208.5px,#396bf9 341.5px,#28dbde 342.5px,#159cf1 343.5px,#25d9df 344.5px,#04b0ed 345.5px,#24d7df 346.5px,#07bce9 347.5px,#0fc5e7 349.5px,#01b3ec 350.5px,#19cee3 351.5px,#0fa3f0 352.5px,#1fd3e1 353.5px,#00b4ec 354.5px,#21d5e1 355.5px,#0ec3e7 356.5px,#1fd3e1 357.5px,#0ca6ef 358.5px,#07acee 359.5px,#1dd1e2 360.5px,#1acee3 361.5px,#2adddd 362.5px,#14c9e5 363.5px,#0ca6ef 364.5px,#1d92f3 365.5px,#03b7eb 366.5px,#16cbe4 368.5px,#11c6e6 369.5px,#1799f2 370.5px,#19cde4 371.5px,#3a6af9 372.5px,#3b69f9 420.5px,#1b94f3 421.5px,#3275f8 423.5px,#3571f8 424.5px,#2586f5 425.5px,#3276f8 426.5px,#1a95f3 427.5px,#159bf2 428.5px,#1d92f3 429.5px,#2d7cf7 430.5px,#169bf2 431.5px,#3b69f9 432.5px,#3c67fa 521.5px,#2f79f7 522.5px,#3a69f9 523.5px,#3c66fa 524.5px,#2587f5 525.5px,#2488f5 526.5px,#0fa3f0 527.5px,#3c66fa 528.5px,#3c66fa 529.5px,#2685f5 531.5px,#3d66fa 532.5px,#2587f5 534.5px,#3d66fa 537.5px,#3d66fa 538.5px,#218cf4 539.5px,#3d66fa 540.5px,#4a53fc 816.5px,#2e7af7 817.5px,#445bfb 819.5px,#435cfb 820.5px,#4a53fc 821.5px,#3b68f9 823.5px,#4a52fc 824.5px,#435dfb 825.5px,#4a52fc 826.5px,#4a52fc 827.5px,#445bfb 828.5px,#4a52fc 829.5px,#445cfb 830.5px,#4a52fc 831.5px,#2586f5 832.5px,#4b52fc 833.5px,#4658fb 835.5px,#4b51fc 837.5px,#5443fd 1297.5px,#5443fd 1491.5px)"></i><i style="top:720px;height:1px;background:linear-gradient(90deg,#3374f8 0.5px,#3472f8 55.5px,#0ec3e7 56.5px,#1996f2 57.5px,#218df4 58.5px,#3472f8 59.5px,#376ff9 200.5px,#11a0f0 201.5px,#376ff9 202.5px,#376ff9 204.5px,#12a0f1 205.5px,#159bf1 206.5px,#376ff9 208.5px,#386df9 274.5px,#2883f6 275.5px,#386df9 276.5px,#396bf9 341.5px,#2ee0db 342.5px,#0dc2e7 343.5px,#27dade 344.5px,#0ec3e7 345.5px,#2fe0db 346.5px,#09bee9 348.5px,#12c7e6 349.5px,#0dc2e8 350.5px,#2fe0db 351.5px,#01b5eb 352.5px,#35e4d9 353.5px,#0cc1e8 354.5px,#3be9d6 355.5px,#27dade 356.5px,#28dbde 357.5px,#06aeed 358.5px,#0abfe8 359.5px,#30e1db 360.5px,#36e5d8 361.5px,#45eed2 362.5px,#1cd1e2 363.5px,#17cce4 364.5px,#00b5eb 365.5px,#1bd0e3 366.5px,#0abfe8 367.5px,#26d9df 368.5px,#02b7eb 369.5px,#04b9ea 370.5px,#2ee0db 371.5px,#3a6af9 372.5px,#3b69f9 420.5px,#1b94f3 421.5px,#3275f8 423.5px,#3571f8 424.5px,#2586f5 425.5px,#3276f8 426.5px,#1a95f3 427.5px,#159bf2 428.5px,#1d92f3 429.5px,#2d7cf7 430.5px,#169bf2 431.5px,#3b69f9 432.5px,#3c67fa 521.5px,#2e7bf7 522.5px,#2883f6 523.5px,#3176f8 524.5px,#2a81f6 525.5px,#129ff1 526.5px,#1a95f3 527.5px,#3c66fa 528.5px,#3c66fa 529.5px,#2982f6 531.5px,#386df9 533.5px,#1799f2 534.5px,#2784f6 535.5px,#3d66fa 536.5px,#3a6af9 538.5px,#1e90f4 539.5px,#3d66fa 540.5px,#4a53fc 816.5px,#2784f6 817.5px,#3571f8 818.5px,#3078f7 819.5px,#366ff9 820.5px,#2587f5 822.5px,#2b7ef6 823.5px,#4757fb 824.5px,#2c7df7 825.5px,#4757fb 828.5px,#3077f7 830.5px,#376ef9 831.5px,#1c92f3 832.5px,#366ff9 833.5px,#4b51fc 835.5px,#4757fb 837.5px,#4b51fc 839.5px,#455afb 841.5px,#4b51fc 842.5px,#4b52fc 844.5px,#376ef9 845.5px,#4b51fc 846.5px,#4c50fc 852.5px,#455afb 853.5px,#4c50fc 854.5px,#4c50fc 855.5px,#3b68f9 856.5px,#4c50fc 857.5px,#5443fd 1303.5px,#5443fd 1491.5px)"></i><i style="top:721px;height:1px;background:linear-gradient(90deg,#3374f8 0.5px,#3472f8 55.5px,#0ec3e7 56.5px,#1996f2 57.5px,#218df4 58.5px,#3472f8 59.5px,#376ff9 200.5px,#11a0f0 201.5px,#376ff9 202.5px,#376ff9 204.5px,#12a0f1 205.5px,#159bf1 206.5px,#376ff9 208.5px,#386df9 274.5px,#2883f6 275.5px,#386df9 276.5px,#396bf9 341.5px,#2ee0db 342.5px,#0dc2e7 343.5px,#27dade 344.5px,#0ec3e7 345.5px,#2fe0db 346.5px,#09bee9 348.5px,#12c7e6 349.5px,#0dc2e8 350.5px,#2fe0db 351.5px,#01b5eb 352.5px,#35e4d9 353.5px,#0cc1e8 354.5px,#3be9d6 355.5px,#27dade 356.5px,#28dbde 357.5px,#06aeed 358.5px,#0abfe8 359.5px,#30e1db 360.5px,#36e5d8 361.5px,#45eed2 362.5px,#1cd1e2 363.5px,#17cce4 364.5px,#00b5eb 365.5px,#1bd0e3 366.5px,#0abfe8 367.5px,#26d9df 368.5px,#02b7eb 369.5px,#04b9ea 370.5px,#2ee0db 371.5px,#3a6af9 372.5px,#3b69f9 420.5px,#228af5 421.5px,#2e7af7 422.5px,#1a95f3 423.5px,#3b69f9 424.5px,#3276f8 425.5px,#139ef1 426.5px,#00b4ec 427.5px,#04b0ed 428.5px,#238af5 429.5px,#0ea4f0 430.5px,#03b1ec 431.5px,#3b69f9 432.5px,#3c67fa 521.5px,#2e7bf7 522.5px,#2883f6 523.5px,#3176f8 524.5px,#2a81f6 525.5px,#129ff1 526.5px,#1a95f3 527.5px,#3c66fa 528.5px,#3c66fa 529.5px,#2982f6 531.5px,#386df9 533.5px,#1799f2 534.5px,#2784f6 535.5px,#3d66fa 536.5px,#3a6af9 538.5px,#1e90f4 539.5px,#3d66fa 540.5px,#4a53fc 816.5px,#2784f6 817.5px,#3571f8 818.5px,#3078f7 819.5px,#366ff9 820.5px,#2587f5 822.5px,#2b7ef6 823.5px,#4757fb 824.5px,#2c7df7 825.5px,#4757fb 828.5px,#3077f7 830.5px,#376ef9 831.5px,#1c92f3 832.5px,#366ff9 833.5px,#4b51fc 835.5px,#4757fb 837.5px,#4b51fc 839.5px,#455afb 841.5px,#4b51fc 842.5px,#4b52fc 844.5px,#376ef9 845.5px,#4b51fc 846.5px,#4c50fc 852.5px,#455afb 853.5px,#4c50fc 854.5px,#4c50fc 855.5px,#3b68f9 856.5px,#4c50fc 857.5px,#5443fd 1303.5px,#5443fd 1491.5px)"></i><i style="top:722px;height:1px;background:linear-gradient(90deg,#3374f8 0.5px,#3472f8 55.5px,#03b8eb 56.5px,#01b5eb 57.5px,#3472f8 59.5px,#376ff9 200.5px,#208ef4 201.5px,#376ff9 202.5px,#376ff9 204.5px,#11a0f0 205.5px,#08bde9 206.5px,#376ff9 207.5px,#386df9 274.5px,#2883f6 275.5px,#386df9 276.5px,#396bf9 341.5px,#23d7e0 342.5px,#05baea 343.5px,#35e5d8 344.5px,#16cbe5 345.5px,#25d9df 346.5px,#25d9df 348.5px,#0bc0e8 349.5px,#0fc4e7 350.5px,#2ee0db 351.5px,#03b7eb 352.5px,#4ff4cd 353.5px,#1fd3e1 354.5px,#36e5d8 355.5px,#2cdedc 356.5px,#3ce9d6 357.5px,#05b9ea 358.5px,#06bbea 359.5px,#2bdddd 360.5px,#3eebd5 361.5px,#43eed3 362.5px,#19cee3 363.5px,#11c7e6 364.5px,#03b1ec 365.5px,#12c7e6 366.5px,#05baea 367.5px,#32e2da 368.5px,#0dc3e7 369.5px,#05afed 370.5px,#3febd4 371.5px,#3a6af9 372.5px,#3b69f9 420.5px,#228af5 421.5px,#2e7af7 422.5px,#1a95f3 423.5px,#3b69f9 424.5px,#3276f8 425.5px,#139ef1 426.5px,#00b4ec 427.5px,#04b0ed 428.5px,#238af5 429.5px,#0ea4f0 430.5px,#03b1ec 431.5px,#3b69f9 432.5px,#3c67fa 521.5px,#2e7bf7 522.5px,#2883f6 523.5px,#3176f8 524.5px,#2a81f6 525.5px,#129ff1 526.5px,#1a95f3 527.5px,#3c66fa 528.5px,#3c66fa 529.5px,#2982f6 531.5px,#386df9 533.5px,#1799f2 534.5px,#2784f6 535.5px,#3d66fa 536.5px,#3a6af9 538.5px,#1e90f4 539.5px,#3d66fa 540.5px,#4a53fc 816.5px,#2784f6 817.5px,#3571f8 818.5px,#3078f7 819.5px,#366ff9 820.5px,#2587f5 822.5px,#2b7ef6 823.5px,#4757fb 824.5px,#2c7df7 825.5px,#4757fb 828.5px,#3077f7 830.5px,#376ef9 831.5px,#1c92f3 832.5px,#366ff9 833.5px,#4b51fc 835.5px,#4757fb 837.5px,#4b51fc 839.5px,#455afb 841.5px,#4b51fc 842.5px,#4b52fc 844.5px,#376ef9 845.5px,#4b51fc 846.5px,#4c50fc 852.5px,#455afb 853.5px,#4c50fc 854.5px,#4c50fc 855.5px,#3b68f9 856.5px,#4c50fc 857.5px,#5443fd 1303.5px,#5443fd 1491.5px)"></i><i style="top:723px;height:2px;background:linear-gradient(90deg,#3374f8 0.5px,#3472f8 55.5px,#03b8eb 56.5px,#01b5eb 57.5px,#3472f8 59.5px,#376ff9 200.5px,#208ef4 201.5px,#376ff9 202.5px,#376ff9 204.5px,#11a0f0 205.5px,#08bde9 206.5px,#376ff9 207.5px,#386df9 274.5px,#1997f2 275.5px,#366ff9 276.5px,#396bf9 341.5px,#23d7e0 342.5px,#05baea 343.5px,#35e5d8 344.5px,#16cbe5 345.5px,#25d9df 346.5px,#25d9df 348.5px,#0bc0e8 349.5px,#0fc4e7 350.5px,#2ee0db 351.5px,#03b7eb 352.5px,#4ff4cd 353.5px,#1fd3e1 354.5px,#36e5d8 355.5px,#2cdedc 356.5px,#3ce9d6 357.5px,#05b9ea 358.5px,#06bbea 359.5px,#2bdddd 360.5px,#3eebd5 361.5px,#43eed3 362.5px,#19cee3 363.5px,#11c7e6 364.5px,#03b1ec 365.5px,#12c7e6 366.5px,#05baea 367.5px,#32e2da 368.5px,#0dc3e7 369.5px,#05afed 370.5px,#3febd4 371.5px,#3a6af9 372.5px,#3b69f9 420.5px,#159bf1 421.5px,#228bf4 422.5px,#238af5 423.5px,#1997f2 424.5px,#228bf5 425.5px,#0fa3f0 426.5px,#12c7e6 427.5px,#0ba8ef 428.5px,#1f8ff4 429.5px,#169af2 430.5px,#02b6eb 431.5px,#3b69f9 432.5px,#3c67fa 521.5px,#228bf4 522.5px,#1d91f3 523.5px,#2d7cf7 524.5px,#2488f5 525.5px,#0aa9ef 526.5px,#01b3ec 527.5px,#3c66fa 528.5px,#3c66fa 529.5px,#228bf4 530.5px,#1b94f3 531.5px,#2389f5 534.5px,#159cf1 535.5px,#3078f7 536.5px,#3570f8 537.5px,#1c93f3 538.5px,#2784f6 539.5px,#3d66fa 540.5px,#3e64fa 582.5px,#3670f8 583.5px,#3e64fa 584.5px,#4a53fc 816.5px,#2389f5 817.5px,#3e65fa 818.5px,#2982f6 819.5px,#3b69f9 820.5px,#455afb 821.5px,#3473f8 822.5px,#159cf1 823.5px,#3a6af9 824.5px,#208ef4 825.5px,#435cfb 826.5px,#396cf9 827.5px,#3374f8 829.5px,#425efa 830.5px,#169af2 831.5px,#10a2f0 832.5px,#4b52fc 833.5px,#2f7af7 834.5px,#4855fb 835.5px,#415ffa 836.5px,#425efa 841.5px,#3e64fa 844.5px,#4061fa 845.5px,#4b51fc 847.5px,#455afb 848.5px,#4954fb 849.5px,#376ff9 850.5px,#4c50fc 851.5px,#4c50fc 855.5px,#4061fa 856.5px,#4c50fc 857.5px,#4f4bfc 981.5px,#3176f8 982.5px,#4f4bfc 983.5px,#504afc 990.5px,#1f8ff4 991.5px,#504afc 992.5px,#5148fc 1049.5px,#1dd2e2 1050.5px,#02b7eb 1051.5px,#1f8ff4 1052.5px,#5148fc 1053.5px,#5246fd 1088.5px,#06bbea 1089.5px,#218df4 1090.5px,#5246fd 1091.5px,#5444fd 1158.5px,#11a1f0 1159.5px,#0dc2e8 1160.5px,#03b1ec 1161.5px,#3275f8 1162.5px,#5444fd 1163.5px,#5443fd 1181.5px,#2f79f7 1182.5px,#5443fd 1183.5px,#5443fd 1256.5px,#0da6ef 1257.5px,#3b69f9 1258.5px,#5443fd 1259.5px,#5443fd 1341.5px,#1e90f4 1342.5px,#5443fd 1344.5px,#5443fd 1491.5px)"></i><i style="top:725px;height:1px;background:linear-gradient(90deg,#3374f8 0.5px,#3472f8 55.5px,#f00 56.5px,#f00 58.5px,#3472f8 59.5px,#376ff9 200.5px,#f00 201.5px,#376ff9 202.5px,#376ff9 204.5px,#f00 205.5px,#f00 207.5px,#376ff9 208.5px,#386df9 274.5px,#1997f2 275.5px,#366ff9 276.5px,#396bf9 341.5px,#f00 342.5px,#f00 346.5px,#f1c36b 347.5px,#f00 348.5px,#f00 349.5px,#59f8c9 350.5px,#f00 351.5px,#f00 353.5px,#68fcc1 354.5px,#ff7d41 355.5px,#75feba 356.5px,#9cfba4 357.5px,#acf69a 358.5px,#f00 359.5px,#f00 360.5px,#6dfdbe 361.5px,#91fdaa 362.5px,#56f7ca 363.5px,#f00 364.5px,#9cfba4 365.5px,#cbe486 366.5px,#f00 367.5px,#ffad5d 368.5px,#3ce9d6 369.5px,#29dcdd 370.5px,#7fffb4 371.5px,#3a6af9 372.5px,#3b69f9 420.5px,#159bf1 421.5px,#228bf4 422.5px,#238af5 423.5px,#1997f2 424.5px,#228bf5 425.5px,#0fa3f0 426.5px,#12c7e6 427.5px,#0ba8ef 428.5px,#1f8ff4 429.5px,#169af2 430.5px,#02b6eb 431.5px,#3b69f9 432.5px,#3c67fa 521.5px,#228bf4 522.5px,#1d91f3 523.5px,#2d7cf7 524.5px,#2488f5 525.5px,#0aa9ef 526.5px,#01b3ec 527.5px,#3c66fa 528.5px,#3c66fa 529.5px,#228bf4 530.5px,#1b94f3 531.5px,#2389f5 534.5px,#159cf1 535.5px,#3078f7 536.5px,#3570f8 537.5px,#1c93f3 538.5px,#2e7bf7 540.5px,#3d66fa 541.5px,#3e64fa 582.5px,#2588f5 583.5px,#218df4 584.5px,#3e64fa 585.5px,#4a53fc 816.5px,#06aded 817.5px,#0fc5e7 818.5px,#1997f2 819.5px,#0cc1e8 820.5px,#08abee 821.5px,#00b4ec 822.5px,#18cde4 823.5px,#1d91f3 824.5px,#0abfe9 825.5px,#0cc1e8 826.5px,#1b94f3 827.5px,#0aa9ee 828.5px,#04b0ed 829.5px,#10a1f0 830.5px,#04b0ed 831.5px,#4bf2cf 832.5px,#228af5 833.5px,#4061fa 834.5px,#3d65fa 836.5px,#4b51fc 837.5px,#4160fa 838.5px,#4954fb 839.5px,#4855fb 840.5px,#386df9 841.5px,#4b51fc 842.5px,#4b51fc 844.5px,#396cf9 845.5px,#3078f7 846.5px,#4b51fc 848.5px,#396cf9 849.5px,#386df9 850.5px,#4b51fc 851.5px,#4c50fc 853.5px,#3f63fa 854.5px,#4c50fc 855.5px,#3e64fa 856.5px,#4c50fc 857.5px,#4f4bfc 981.5px,#3176f8 982.5px,#4f4bfc 983.5px,#504afc 990.5px,#1f8ff4 991.5px,#504afc 992.5px,#5148fc 1049.5px,#1dd2e2 1050.5px,#02b7eb 1051.5px,#1f8ff4 1052.5px,#5148fc 1053.5px,#5246fd 1088.5px,#06bbea 1089.5px,#218df4 1090.5px,#5246fd 1091.5px,#5444fd 1158.5px,#11a1f0 1159.5px,#0dc2e8 1160.5px,#03b1ec 1161.5px,#3275f8 1162.5px,#5444fd 1163.5px,#5443fd 1181.5px,#2f79f7 1182.5px,#5443fd 1183.5px,#5443fd 1256.5px,#0da6ef 1257.5px,#3b69f9 1258.5px,#5443fd 1259.5px,#5443fd 1341.5px,#1e90f4 1342.5px,#5443fd 1344.5px,#5443fd 1491.5px)"></i><i style="top:726px;height:2px;background:linear-gradient(90deg,#3374f8 0.5px,#3472f8 55.5px,#f00 56.5px,#f00 58.5px,#3472f8 59.5px,#376ff9 200.5px,#f00 201.5px,#376ff9 202.5px,#376ff9 204.5px,#f00 205.5px,#f00 207.5px,#376ff9 208.5px,#386df9 274.5px,#ff763d 275.5px,#f00 276.5px,#386df9 277.5px,#396bf9 341.5px,#f00 342.5px,#f00 346.5px,#f1c36b 347.5px,#f00 348.5px,#f00 349.5px,#59f8c9 350.5px,#f00 351.5px,#f00 353.5px,#68fcc1 354.5px,#ff7d41 355.5px,#75feba 356.5px,#9cfba4 357.5px,#acf69a 358.5px,#f00 359.5px,#f00 360.5px,#6dfdbe 361.5px,#91fdaa 362.5px,#56f7ca 363.5px,#f00 364.5px,#9cfba4 365.5px,#cbe486 366.5px,#f00 367.5px,#ffad5d 368.5px,#3ce9d6 369.5px,#29dcdd 370.5px,#7fffb4 371.5px,#3a6af9 372.5px,#3b69f9 420.5px,#83ffb2 421.5px,#f00 422.5px,#f00 423.5px,#70febc 424.5px,#61fac5 425.5px,#6bfdbf 426.5px,#a5f89e 427.5px,#6ffebd 428.5px,#5efac6 429.5px,#89ffaf 430.5px,#b4f295 431.5px,#3b69f9 432.5px,#3c67fa 521.5px,#4cf2ce 522.5px,#27dade 523.5px,#39e7d7 524.5px,#42edd3 525.5px,#7cffb6 526.5px,#f00 527.5px,#3c66fa 528.5px,#3c66fa 529.5px,#5ffac5 530.5px,#6cfdbf 531.5px,#50f4cd 532.5px,#6afdc0 533.5px,#65fcc2 534.5px,#6efdbe 535.5px,#47f0d1 536.5px,#1dd2e2 537.5px,#66fcc2 538.5px,#5af8c8 539.5px,#2e7bf7 540.5px,#3d66fa 541.5px,#3e64fa 582.5px,#2588f5 583.5px,#218df4 584.5px,#3e64fa 585.5px,#4a53fc 816.5px,#06aded 817.5px,#0fc5e7 818.5px,#1997f2 819.5px,#0cc1e8 820.5px,#08abee 821.5px,#00b4ec 822.5px,#18cde4 823.5px,#1d91f3 824.5px,#0abfe9 825.5px,#0cc1e8 826.5px,#1b94f3 827.5px,#0aa9ee 828.5px,#04b0ed 829.5px,#10a1f0 830.5px,#04b0ed 831.5px,#4bf2cf 832.5px,#228af5 833.5px,#4061fa 834.5px,#3d65fa 836.5px,#4b51fc 837.5px,#4160fa 838.5px,#4954fb 839.5px,#4855fb 840.5px,#386df9 841.5px,#4b51fc 842.5px,#4b51fc 844.5px,#396cf9 845.5px,#3078f7 846.5px,#4b51fc 848.5px,#396cf9 849.5px,#386df9 850.5px,#4b51fc 851.5px,#4c50fc 853.5px,#3f63fa 854.5px,#4c50fc 855.5px,#3e64fa 856.5px,#4c50fc 857.5px,#4f4bfc 981.5px,#2586f5 982.5px,#4f4bfc 983.5px,#504afc 990.5px,#208ef4 991.5px,#504afc 992.5px,#5148fc 1049.5px,#16cbe4 1050.5px,#0cc2e8 1051.5px,#208df4 1052.5px,#5148fc 1053.5px,#5246fd 1088.5px,#0fc4e7 1089.5px,#2686f5 1090.5px,#5246fd 1091.5px,#5444fd 1158.5px,#2685f5 1159.5px,#04b9ea 1160.5px,#06bbea 1161.5px,#3275f8 1162.5px,#5444fd 1163.5px,#5443fd 1181.5px,#3275f8 1182.5px,#5443fd 1183.5px,#5443fd 1256.5px,#218df4 1257.5px,#228bf4 1258.5px,#5443fd 1259.5px,#5443fd 1341.5px,#00b5eb 1342.5px,#3473f8 1343.5px,#5443fd 1344.5px,#5443fd 1491.5px)"></i><i style="top:728px;height:1px;background:linear-gradient(90deg,#3374f8 0.5px,#3472f8 55.5px,#f00 56.5px,#f00 58.5px,#3472f8 59.5px,#376ff9 200.5px,#f00 201.5px,#376ff9 202.5px,#376ff9 204.5px,#f00 205.5px,#f00 207.5px,#376ff9 208.5px,#386df9 274.5px,#f00 275.5px,#f00 276.5px,#386df9 277.5px,#396bf9 341.5px,#f00 342.5px,#f00 344.5px,#6bfdbf 345.5px,#f00 346.5px,#f00 348.5px,#57f7c9 349.5px,#f00 350.5px,#f00 356.5px,#64fbc3 357.5px,#f00 358.5px,#f00 360.5px,#e3d175 361.5px,#ecc86f 362.5px,#56f7ca 363.5px,#f00 364.5px,#4bf2cf 365.5px,#3eead5 366.5px,#96fca7 367.5px,#7affb7 368.5px,#6bfdbf 369.5px,#3eebd5 370.5px,#9cfba4 371.5px,#3a6af9 372.5px,#3b69f9 420.5px,#83ffb2 421.5px,#f00 422.5px,#f00 423.5px,#70febc 424.5px,#61fac5 425.5px,#6bfdbf 426.5px,#a5f89e 427.5px,#6ffebd 428.5px,#5efac6 429.5px,#89ffaf 430.5px,#b4f295 431.5px,#3b69f9 432.5px,#3c67fa 521.5px,#f00 522.5px,#65fcc2 523.5px,#4ef3ce 524.5px,#d4dd80 525.5px,#98fca6 526.5px,#ff7c40 527.5px,#3c66fa 528.5px,#3c66fa 529.5px,#54f6cb 530.5px,#f00 531.5px,#46efd1 532.5px,#5ffac6 533.5px,#65fcc2 534.5px,#7affb8 535.5px,#3dead5 536.5px,#1dd2e2 537.5px,#66fcc2 538.5px,#82ffb3 539.5px,#208ef4 540.5px,#3670f8 541.5px,#3d66fa 542.5px,#3a6af9 543.5px,#2a81f6 544.5px,#3d66fa 545.5px,#3e64fa 582.5px,#ebc970 583.5px,#f2c36b 584.5px,#3e64fa 585.5px,#4a53fc 816.5px,#0ac0e8 817.5px,#01b3ec 818.5px,#1fd3e1 819.5px,#0ba7ef 820.5px,#08abee 821.5px,#10a2f0 822.5px,#36e5d8 823.5px,#10a2f0 824.5px,#10a2f0 825.5px,#0cc1e8 826.5px,#1b94f3 827.5px,#1898f2 828.5px,#1cd1e2 829.5px,#07acee 830.5px,#40ebd4 831.5px,#21d5e0 832.5px,#228bf4 833.5px,#09aaee 834.5px,#366ff9 835.5px,#149df1 836.5px,#3a69f9 837.5px,#228bf4 838.5px,#2d7cf7 840.5px,#1799f2 841.5px,#2882f6 842.5px,#3177f8 843.5px,#4a53fc 844.5px,#396bf9 845.5px,#3571f8 846.5px,#445bfb 847.5px,#3670f8 848.5px,#3d66fa 849.5px,#3c67fa 850.5px,#4c50fc 851.5px,#435dfb 853.5px,#4a52fc 854.5px,#4c50fc 855.5px,#3f63fa 856.5px,#4c50fc 857.5px,#4f4bfc 981.5px,#11a0f0 982.5px,#4f4bfc 983.5px,#504afc 990.5px,#208ef4 991.5px,#504afc 992.5px,#5148fc 1049.5px,#11c6e6 1050.5px,#0bc1e8 1051.5px,#0ca6ef 1052.5px,#5148fc 1053.5px,#5246fd 1088.5px,#00b4ec 1089.5px,#238af5 1090.5px,#5246fd 1091.5px,#5444fd 1158.5px,#2883f6 1159.5px,#06baea 1160.5px,#00b4ec 1161.5px,#3670f8 1162.5px,#5444fd 1163.5px,#5443fd 1181.5px,#1996f2 1182.5px,#5443fd 1183.5px,#5443fd 1256.5px,#03b1ec 1257.5px,#2b7ff6 1258.5px,#5443fd 1259.5px,#5443fd 1341.5px,#0aa9ee 1342.5px,#1f8ff4 1343.5px,#5443fd 1344.5px,#5443fd 1491.5px)"></i><i style="top:729px;height:1px;background:linear-gradient(90deg,#4855fb 0.5px,#4954fb 55.5px,#f00 56.5px,#f00 58.5px,#4954fb 59.5px,#4a53fb 200.5px,#f00 201.5px,#4a53fc 202.5px,#4a53fc 204.5px,#f00 205.5px,#f00 207.5px,#4a53fc 208.5px,#4a52fc 274.5px,#f00 275.5px,#f00 276.5px,#4a52fc 277.5px,#4a52fc 341.5px,#f00 342.5px,#f00 344.5px,#6bfdbf 345.5px,#f00 346.5px,#f00 348.5px,#57f7c9 349.5px,#f00 350.5px,#f00 356.5px,#64fbc3 357.5px,#f00 358.5px,#f00 360.5px,#e3d175 361.5px,#ecc86f 362.5px,#56f7ca 363.5px,#f00 364.5px,#4bf2cf 365.5px,#3eead5 366.5px,#96fca7 367.5px,#7affb7 368.5px,#6bfdbf 369.5px,#3eebd5 370.5px,#9cfba4 371.5px,#4b52fc 372.5px,#4b51fc 420.5px,#f00 421.5px,#59f8c8 422.5px,#f00 423.5px,#f00 424.5px,#61fac5 425.5px,#c9e587 426.5px,#a5f89e 427.5px,#89ffaf 428.5px,#5efac6 429.5px,#f3c16a 430.5px,#f00 431.5px,#4b51fc 432.5px,#4c50fc 521.5px,#f00 522.5px,#65fcc2 523.5px,#4ef3ce 524.5px,#d4dd80 525.5px,#98fca6 526.5px,#ff7c40 527.5px,#4c50fc 528.5px,#4c50fc 529.5px,#54f6cb 530.5px,#f00 531.5px,#46efd1 532.5px,#5ffac6 533.5px,#65fcc2 534.5px,#7affb8 535.5px,#3dead5 536.5px,#1dd2e2 537.5px,#66fcc2 538.5px,#82ffb3 539.5px,#208ef4 540.5px,#455afb 542.5px,#2a81f6 544.5px,#445cfb 545.5px,#4c50fc 546.5px,#4c50fc 582.5px,#ebc970 583.5px,#f2c36b 584.5px,#4c50fc 585.5px,#4f4bfc 816.5px,#0ac0e8 817.5px,#01b3ec 818.5px,#1fd3e1 819.5px,#0ba7ef 820.5px,#08abee 821.5px,#10a2f0 822.5px,#36e5d8 823.5px,#10a2f0 824.5px,#10a2f0 825.5px,#0cc1e8 826.5px,#1b94f3 827.5px,#1898f2 828.5px,#1cd1e2 829.5px,#07acee 830.5px,#40ebd4 831.5px,#21d5e0 832.5px,#228bf4 833.5px,#09aaee 834.5px,#366ff9 835.5px,#149df1 836.5px,#3a69f9 837.5px,#228bf4 838.5px,#2d7cf7 840.5px,#1799f2 841.5px,#2882f6 842.5px,#3177f8 843.5px,#4a53fc 844.5px,#396bf9 845.5px,#3571f8 846.5px,#445bfb 847.5px,#3670f8 848.5px,#3d66fa 849.5px,#3c67fa 850.5px,#4f4bfc 851.5px,#435dfb 853.5px,#4f4bfc 855.5px,#3f63fa 856.5px,#4f4bfc 857.5px,#5148fc 981.5px,#11a0f0 982.5px,#5148fc 983.5px,#5147fc 990.5px,#208ef4 991.5px,#5147fc 992.5px,#5246fd 1049.5px,#11c6e6 1050.5px,#0bc1e8 1051.5px,#0ca6ef 1052.5px,#5246fd 1053.5px,#5345fd 1088.5px,#00b4ec 1089.5px,#238af5 1090.5px,#5345fd 1091.5px,#5444fd 1158.5px,#2883f6 1159.5px,#06baea 1160.5px,#00b4ec 1161.5px,#3670f8 1162.5px,#5443fd 1163.5px,#5443fd 1181.5px,#1996f2 1182.5px,#5443fd 1183.5px,#5443fd 1256.5px,#03b1ec 1257.5px,#2b7ff6 1258.5px,#5443fd 1259.5px,#5443fd 1341.5px,#0aa9ee 1342.5px,#1f8ff4 1343.5px,#5443fd 1344.5px,#5443fd 1491.5px)"></i><i style="top:730px;height:1px;background:linear-gradient(90deg,#4855fb 0.5px,#4954fb 55.5px,#f00 56.5px,#f00 58.5px,#4954fb 59.5px,#4a53fb 200.5px,#f00 201.5px,#4a53fc 202.5px,#4a53fc 204.5px,#f00 205.5px,#f00 207.5px,#4a53fc 208.5px,#4a52fc 274.5px,#f00 275.5px,#f00 276.5px,#4a52fc 277.5px,#4a52fc 341.5px,#f00 342.5px,#f00 343.5px,#6ffebd 344.5px,#f00 345.5px,#f00 350.5px,#77ffb9 351.5px,#31e1da 352.5px,#f3c16a 353.5px,#68fcc1 354.5px,#f00 355.5px,#f00 357.5px,#2bdedc 358.5px,#59f8c9 359.5px,#65fcc2 360.5px,#ff8f4b 361.5px,#ff8042 362.5px,#cde285 363.5px,#c4e98b 364.5px,#4bf2cf 365.5px,#f00 366.5px,#3ae8d7 367.5px,#ffad5d 368.5px,#3ce9d6 369.5px,#3eebd5 370.5px,#7fffb4 371.5px,#4b52fc 372.5px,#4b51fc 420.5px,#f00 421.5px,#59f8c8 422.5px,#f00 423.5px,#f00 424.5px,#61fac5 425.5px,#c9e587 426.5px,#a5f89e 427.5px,#89ffaf 428.5px,#5efac6 429.5px,#f3c16a 430.5px,#f00 431.5px,#4b51fc 432.5px,#4c50fc 521.5px,#f00 522.5px,#65fcc2 523.5px,#4ef3ce 524.5px,#d4dd80 525.5px,#98fca6 526.5px,#ff7c40 527.5px,#4c50fc 528.5px,#4c50fc 529.5px,#54f6cb 530.5px,#f00 531.5px,#46efd1 532.5px,#5ffac6 533.5px,#65fcc2 534.5px,#7affb8 535.5px,#3dead5 536.5px,#1dd2e2 537.5px,#66fcc2 538.5px,#82ffb3 539.5px,#208ef4 540.5px,#455afb 542.5px,#2a81f6 544.5px,#445cfb 545.5px,#4c50fc 546.5px,#4c50fc 582.5px,#ebc970 583.5px,#f2c36b 584.5px,#4c50fc 585.5px,#4f4bfc 816.5px,#0ac0e8 817.5px,#01b3ec 818.5px,#1fd3e1 819.5px,#0ba7ef 820.5px,#08abee 821.5px,#10a2f0 822.5px,#36e5d8 823.5px,#10a2f0 824.5px,#10a2f0 825.5px,#0cc1e8 826.5px,#1b94f3 827.5px,#1898f2 828.5px,#1cd1e2 829.5px,#07acee 830.5px,#40ebd4 831.5px,#21d5e0 832.5px,#228bf4 833.5px,#09aaee 834.5px,#366ff9 835.5px,#149df1 836.5px,#3a69f9 837.5px,#228bf4 838.5px,#2d7cf7 840.5px,#1799f2 841.5px,#2882f6 842.5px,#3177f8 843.5px,#4a53fc 844.5px,#396bf9 845.5px,#3571f8 846.5px,#445bfb 847.5px,#3670f8 848.5px,#3d66fa 849.5px,#3c67fa 850.5px,#4f4bfc 851.5px,#435dfb 853.5px,#4f4bfc 855.5px,#3f63fa 856.5px,#4f4bfc 857.5px,#5148fc 981.5px,#11a0f0 982.5px,#5148fc 983.5px,#5147fc 990.5px,#208ef4 991.5px,#5147fc 992.5px,#5246fd 1049.5px,#11c6e6 1050.5px,#0bc1e8 1051.5px,#0ca6ef 1052.5px,#5246fd 1053.5px,#5345fd 1088.5px,#00b4ec 1089.5px,#238af5 1090.5px,#5345fd 1091.5px,#5444fd 1158.5px,#2883f6 1159.5px,#06baea 1160.5px,#00b4ec 1161.5px,#3670f8 1162.5px,#5443fd 1163.5px,#5443fd 1181.5px,#1996f2 1182.5px,#5443fd 1183.5px,#5443fd 1256.5px,#03b1ec 1257.5px,#2b7ff6 1258.5px,#5443fd 1259.5px,#5443fd 1341.5px,#0aa9ee 1342.5px,#1f8ff4 1343.5px,#5443fd 1344.5px,#5443fd 1491.5px)"></i><i style="top:731px;height:2px;background:linear-gradient(90deg,#4855fb 0.5px,#4954fb 55.5px,#f00 56.5px,#f00 58.5px,#4954fb 59.5px,#4a53fb 200.5px,#f00 201.5px,#4a53fc 202.5px,#4a53fc 204.5px,#f00 205.5px,#f00 207.5px,#4a53fc 208.5px,#4a52fc 274.5px,#f00 275.5px,#f00 276.5px,#4a52fc 277.5px,#4a52fc 341.5px,#f00 342.5px,#f00 343.5px,#6ffebd 344.5px,#f00 345.5px,#f00 350.5px,#77ffb9 351.5px,#31e1da 352.5px,#f3c16a 353.5px,#68fcc1 354.5px,#f00 355.5px,#f00 357.5px,#2bdedc 358.5px,#59f8c9 359.5px,#65fcc2 360.5px,#ff8f4b 361.5px,#ff8042 362.5px,#cde285 363.5px,#c4e98b 364.5px,#4bf2cf 365.5px,#f00 366.5px,#3ae8d7 367.5px,#ffad5d 368.5px,#3ce9d6 369.5px,#3eebd5 370.5px,#7fffb4 371.5px,#4b52fc 372.5px,#4b51fc 420.5px,#9dfba3 421.5px,#f00 422.5px,#f00 423.5px,#d0e082 424.5px,#61fac5 425.5px,#f00 426.5px,#f00 427.5px,#6ffebd 428.5px,#8ffeab 429.5px,#6ffebd 430.5px,#f00 431.5px,#4b51fc 432.5px,#4c50fc 521.5px,#35e5d8 522.5px,#3ce9d6 523.5px,#a0faa1 524.5px,#f00 525.5px,#ffaa5b 526.5px,#b2f396 527.5px,#4c50fc 528.5px,#4c50fc 529.5px,#5ffac5 530.5px,#5ffac6 533.5px,#71febc 534.5px,#6efdbe 535.5px,#3dead5 536.5px,#3ae8d6 537.5px,#66fcc2 538.5px,#71febc 539.5px,#91feaa 540.5px,#5bf9c7 541.5px,#6afdc0 543.5px,#88ffaf 544.5px,#5ffac5 545.5px,#4c50fc 546.5px,#4c50fc 582.5px,#d3de81 583.5px,#d9d97c 584.5px,#4c50fc 585.5px,#4f4bfc 816.5px,#0ac0e8 817.5px,#01b3ec 818.5px,#1997f2 819.5px,#05baea 821.5px,#00b4ec 822.5px,#06bbea 823.5px,#1d91f3 824.5px,#05afed 826.5px,#1b94f3 827.5px,#0aa9ee 828.5px,#0abfe9 829.5px,#18cde4 830.5px,#18cde4 831.5px,#21d5e0 832.5px,#01b6eb 833.5px,#2981f6 834.5px,#2d7cf7 835.5px,#149df1 836.5px,#3a69f9 837.5px,#2c7df7 838.5px,#3f63fa 839.5px,#2587f5 840.5px,#208df4 841.5px,#3a6af9 842.5px,#2883f6 844.5px,#2685f5 845.5px,#0aa9ee 846.5px,#2a80f6 847.5px,#2488f5 848.5px,#2982f6 849.5px,#1a96f3 850.5px,#3a69f9 851.5px,#208ef4 852.5px,#3a6af9 854.5px,#3c67fa 855.5px,#2587f5 856.5px,#4f4bfc 857.5px,#5148fc 981.5px,#11a0f0 982.5px,#5148fc 983.5px,#5147fc 990.5px,#179af2 991.5px,#5147fc 992.5px,#5246fd 1049.5px,#17cce4 1050.5px,#1dd1e2 1051.5px,#2b7ef6 1052.5px,#5246fd 1053.5px,#5345fd 1088.5px,#0fa3f0 1089.5px,#1c93f3 1090.5px,#5345fd 1091.5px,#5444fd 1158.5px,#0aa9ef 1159.5px,#06aded 1160.5px,#11a1f0 1161.5px,#228bf4 1162.5px,#5443fd 1163.5px,#5443fd 1181.5px,#386cf9 1182.5px,#5443fd 1183.5px,#5443fd 1256.5px,#02b2ec 1257.5px,#1996f2 1258.5px,#5443fd 1259.5px,#5443fd 1341.5px,#218cf4 1342.5px,#2784f6 1343.5px,#5443fd 1344.5px,#5443fd 1491.5px)"></i><i style="top:733px;height:1px;background:linear-gradient(90deg,#4855fb 0.5px,#4954fb 55.5px,#f00 56.5px,#f00 58.5px,#4954fb 59.5px,#4a53fb 200.5px,#f00 201.5px,#4a53fc 202.5px,#4a53fc 204.5px,#f00 205.5px,#f00 207.5px,#4a53fc 208.5px,#4a52fc 274.5px,#f00 275.5px,#f00 276.5px,#4a52fc 277.5px,#4a52fc 341.5px,#93fda9 342.5px,#f00 343.5px,#f00 345.5px,#d2df81 346.5px,#f00 347.5px,#f00 348.5px,#9ffaa2 349.5px,#59f8c9 350.5px,#ffb361 351.5px,#89ffaf 352.5px,#f3c16a 353.5px,#39e8d7 354.5px,#f00 355.5px,#f00 356.5px,#d5dc7f 357.5px,#56f7ca 358.5px,#f00 359.5px,#f00 360.5px,#e3d175 361.5px,#73febb 362.5px,#6efebe 363.5px,#c4e98b 364.5px,#9cfba4 365.5px,#6dfdbe 366.5px,#c5e88a 367.5px,#cee284 368.5px,#54f6cb 369.5px,#3eebd5 370.5px,#9cfba4 371.5px,#4b52fc 372.5px,#4b51fc 420.5px,#9dfba3 421.5px,#f00 422.5px,#f00 423.5px,#d0e082 424.5px,#61fac5 425.5px,#f00 426.5px,#f00 427.5px,#6ffebd 428.5px,#8ffeab 429.5px,#6ffebd 430.5px,#f00 431.5px,#4b51fc 432.5px,#4c50fc 521.5px,#63fbc4 522.5px,#a3f99f 523.5px,#a0faa1 524.5px,#f00 525.5px,#ffaa5b 526.5px,#f00 527.5px,#4c50fc 528.5px,#4c50fc 529.5px,#5ffac5 530.5px,#60fac5 531.5px,#46efd1 532.5px,#5ffac6 533.5px,#6efdbe 535.5px,#34e4d9 536.5px,#1dd2e2 537.5px,#66fcc2 538.5px,#71febc 539.5px,#91feaa 540.5px,#45efd2 541.5px,#63fbc4 542.5px,#40ecd4 543.5px,#75feba 545.5px,#4c50fc 546.5px,#4c50fc 582.5px,#d3de81 583.5px,#d9d97c 584.5px,#4c50fc 585.5px,#4f4bfc 816.5px,#06aded 817.5px,#0fc5e7 818.5px,#0cc2e8 819.5px,#0ba7ef 820.5px,#11a1f0 821.5px,#2ddfdc 822.5px,#18cde4 823.5px,#07adee 824.5px,#19cee3 825.5px,#1996f2 826.5px,#139ef1 827.5px,#1898f2 828.5px,#0abfe9 829.5px,#04b0ed 831.5px,#15cae5 832.5px,#0aa9ef 833.5px,#2981f6 834.5px,#3177f8 836.5px,#3a69f9 837.5px,#228bf4 838.5px,#2685f5 839.5px,#3570f8 840.5px,#3177f8 844.5px,#02b6eb 846.5px,#3373f8 847.5px,#366ff9 848.5px,#159bf1 849.5px,#0ea4f0 850.5px,#3275f8 851.5px,#1a96f3 853.5px,#3b69f9 854.5px,#3a6af9 855.5px,#06aded 856.5px,#4f4bfc 857.5px,#5148fc 981.5px,#2a80f6 982.5px,#5148fc 983.5px,#5147fc 990.5px,#228cf4 991.5px,#5147fc 992.5px,#5246fd 1049.5px,#28dbde 1050.5px,#18cde4 1051.5px,#228bf5 1052.5px,#5246fd 1053.5px,#5345fd 1088.5px,#129ff1 1089.5px,#129ff1 1090.5px,#5345fd 1091.5px,#5444fd 1158.5px,#0ea4f0 1159.5px,#01b3ec 1161.5px,#3079f7 1162.5px,#5443fd 1163.5px,#5443fd 1181.5px,#2488f5 1182.5px,#5443fd 1183.5px,#5443fd 1256.5px,#05afed 1257.5px,#169af2 1258.5px,#5443fd 1259.5px,#5443fd 1341.5px,#0fa3f0 1342.5px,#3078f7 1343.5px,#5443fd 1344.5px,#5443fd 1491.5px)"></i><i style="top:734px;height:2px;background:linear-gradient(90deg,#4855fb 0.5px,#4954fb 55.5px,#f00 56.5px,#f00 58.5px,#4954fb 59.5px,#4a53fb 200.5px,#f00 201.5px,#4a53fc 202.5px,#4a53fc 204.5px,#f00 205.5px,#f00 207.5px,#4a53fc 208.5px,#4a52fc 341.5px,#93fda9 342.5px,#f00 343.5px,#f00 345.5px,#d2df81 346.5px,#f00 347.5px,#f00 348.5px,#9ffaa2 349.5px,#59f8c9 350.5px,#ffb361 351.5px,#89ffaf 352.5px,#f3c16a 353.5px,#39e8d7 354.5px,#f00 355.5px,#f00 356.5px,#d5dc7f 357.5px,#56f7ca 358.5px,#f00 359.5px,#f00 360.5px,#e3d175 361.5px,#73febb 362.5px,#6efebe 363.5px,#c4e98b 364.5px,#9cfba4 365.5px,#6dfdbe 366.5px,#c5e88a 367.5px,#cee284 368.5px,#54f6cb 369.5px,#3eebd5 370.5px,#9cfba4 371.5px,#4b52fc 372.5px,#4b51fc 420.5px,#f00 421.5px,#b0f498 422.5px,#f00 423.5px,#f00 424.5px,#61fac5 425.5px,#54f6cb 426.5px,#ff934d 427.5px,#89ffaf 428.5px,#77ffb9 429.5px,#6ffebd 430.5px,#f00 431.5px,#4b51fc 432.5px,#4c50fc 521.5px,#63fbc4 522.5px,#a3f99f 523.5px,#a0faa1 524.5px,#f00 525.5px,#ffaa5b 526.5px,#f00 527.5px,#4c50fc 528.5px,#4c50fc 529.5px,#5ffac5 530.5px,#60fac5 531.5px,#46efd1 532.5px,#5ffac6 533.5px,#6efdbe 535.5px,#34e4d9 536.5px,#1dd2e2 537.5px,#66fcc2 538.5px,#71febc 539.5px,#91feaa 540.5px,#45efd2 541.5px,#63fbc4 542.5px,#40ecd4 543.5px,#75feba 545.5px,#4c50fc 546.5px,#4c50fc 582.5px,#a2f9a0 583.5px,#d9d97c 584.5px,#4c50fc 585.5px,#4f4bfc 816.5px,#06aded 817.5px,#0fc5e7 818.5px,#0cc2e8 819.5px,#0ba7ef 820.5px,#11a1f0 821.5px,#2ddfdc 822.5px,#18cde4 823.5px,#07adee 824.5px,#19cee3 825.5px,#1996f2 826.5px,#139ef1 827.5px,#1898f2 828.5px,#0abfe9 829.5px,#04b0ed 831.5px,#15cae5 832.5px,#0aa9ef 833.5px,#2981f6 834.5px,#3177f8 836.5px,#3a69f9 837.5px,#228bf4 838.5px,#2685f5 839.5px,#3570f8 840.5px,#3177f8 844.5px,#02b6eb 846.5px,#3373f8 847.5px,#366ff9 848.5px,#159bf1 849.5px,#0ea4f0 850.5px,#3275f8 851.5px,#1a96f3 853.5px,#3b69f9 854.5px,#3a6af9 855.5px,#06aded 856.5px,#4f4bfc 857.5px,#5148fc 981.5px,#2a80f6 982.5px,#5148fc 983.5px,#5147fc 990.5px,#228cf4 991.5px,#5147fc 992.5px,#5246fd 1049.5px,#28dbde 1050.5px,#18cde4 1051.5px,#228bf5 1052.5px,#5246fd 1053.5px,#5345fd 1088.5px,#129ff1 1089.5px,#129ff1 1090.5px,#5345fd 1091.5px,#5444fd 1158.5px,#0ea4f0 1159.5px,#01b3ec 1161.5px,#3079f7 1162.5px,#5443fd 1163.5px,#5443fd 1181.5px,#2488f5 1182.5px,#5443fd 1183.5px,#5443fd 1256.5px,#05afed 1257.5px,#169af2 1258.5px,#5443fd 1259.5px,#5443fd 1341.5px,#0fa3f0 1342.5px,#3078f7 1343.5px,#5443fd 1344.5px,#5443fd 1491.5px)"></i><i style="top:736px;height:1px;background:linear-gradient(90deg,#4855fb 0.5px,#4954fb 55.5px,#92fdaa 56.5px,#70febd 57.5px,#6dfdbe 58.5px,#4954fb 59.5px,#4a53fb 200.5px,#76ffba 201.5px,#4a53fc 202.5px,#4a53fc 204.5px,#54f6cb 205.5px,#78ffb8 206.5px,#5efac6 207.5px,#4a53fc 208.5px,#4a52fc 341.5px,#f00 342.5px,#f00 343.5px,#abf69b 344.5px,#3ce9d6 345.5px,#9afca5 346.5px,#f00 347.5px,#f00 352.5px,#f3c16a 353.5px,#f00 354.5px,#74feba 355.5px,#f00 356.5px,#f00 359.5px,#d8da7d 360.5px,#f00 361.5px,#91fdaa 362.5px,#56f7ca 363.5px,#f00 364.5px,#36e6d8 365.5px,#3eead5 366.5px,#68fcc1 367.5px,#5ffac6 368.5px,#6bfdbf 369.5px,#3eebd5 370.5px,#9cfba4 371.5px,#4b52fc 372.5px,#4b51fc 420.5px,#f00 421.5px,#b0f498 422.5px,#f00 423.5px,#f00 424.5px,#61fac5 425.5px,#54f6cb 426.5px,#ff934d 427.5px,#89ffaf 428.5px,#77ffb9 429.5px,#6ffebd 430.5px,#f00 431.5px,#4b51fc 432.5px,#4c50fc 522.5px,#22d6e0 523.5px,#4c50fc 524.5px,#4c50fc 525.5px,#3dead5 526.5px,#57f7ca 527.5px,#4c50fc 528.5px,#4c50fc 529.5px,#54f6cb 530.5px,#60fac5 531.5px,#5ffac6 533.5px,#8ffeac 534.5px,#f00 535.5px,#34e4d9 536.5px,#26d9df 537.5px,#50f4cd 538.5px,#82ffb3 539.5px,#feb663 540.5px,#b2f396 541.5px,#39e8d7 542.5px,#aaf69b 543.5px,#70febc 544.5px,#b8f092 545.5px,#4c50fc 546.5px,#4c50fc 582.5px,#3eebd5 583.5px,#21d5e0 584.5px,#4c50fc 585.5px,#4f4bfc 816.5px,#26d9df 817.5px,#0ea4f0 818.5px,#02b3ec 819.5px,#0cc1e8 820.5px,#11a1f0 821.5px,#2ddfdc 822.5px,#36e5d8 823.5px,#10a2f0 824.5px,#10a2f0 825.5px,#05afed 826.5px,#139ef1 827.5px,#0ec3e7 828.5px,#0abfe9 829.5px,#18cde4 830.5px,#0dc2e7 831.5px,#4bf2cf 832.5px,#169af2 833.5px,#1f8ff4 834.5px,#366ff9 835.5px,#149df1 836.5px,#376ff9 839.5px,#2587f5 840.5px,#208df4 841.5px,#3177f8 842.5px,#208ef4 843.5px,#1f8ff4 844.5px,#2685f5 845.5px,#208df4 847.5px,#2488f5 848.5px,#1f8ff4 849.5px,#03b1ec 850.5px,#2981f6 851.5px,#3a6af9 852.5px,#218cf4 854.5px,#208df4 855.5px,#139ff1 856.5px,#4f4bfc 857.5px,#5148fc 981.5px,#3276f8 982.5px,#5148fc 983.5px,#5147fc 990.5px,#2586f5 991.5px,#5147fc 992.5px,#5246fd 1049.5px,#05baea 1050.5px,#06bbea 1051.5px,#2784f6 1052.5px,#5246fd 1053.5px,#5345fd 1088.5px,#02b6eb 1089.5px,#218cf4 1090.5px,#5345fd 1091.5px,#5444fd 1158.5px,#2b7ef6 1159.5px,#18cde4 1160.5px,#00b4ec 1161.5px,#5443fd 1163.5px,#5443fd 1181.5px,#3572f8 1182.5px,#5443fd 1183.5px,#5443fd 1256.5px,#0fa2f0 1257.5px,#386cf9 1258.5px,#5443fd 1259.5px,#5443fd 1341.5px,#0ba8ef 1342.5px,#3a69f9 1343.5px,#5443fd 1344.5px,#5443fd 1491.5px)"></i><i style="top:737px;height:1px;background:linear-gradient(90deg,#4855fb 0.5px,#4954fb 55.5px,#92fdaa 56.5px,#70febd 57.5px,#6dfdbe 58.5px,#4954fb 59.5px,#4a53fb 200.5px,#76ffba 201.5px,#4a53fc 202.5px,#4a53fc 204.5px,#54f6cb 205.5px,#78ffb8 206.5px,#5efac6 207.5px,#4a53fc 208.5px,#4a52fc 274.5px,#169af2 275.5px,#4a52fc 276.5px,#4a52fc 341.5px,#f00 342.5px,#f00 343.5px,#abf69b 344.5px,#3ce9d6 345.5px,#9afca5 346.5px,#f00 347.5px,#f00 352.5px,#f3c16a 353.5px,#f00 354.5px,#74feba 355.5px,#f00 356.5px,#f00 359.5px,#d8da7d 360.5px,#f00 361.5px,#91fdaa 362.5px,#56f7ca 363.5px,#f00 364.5px,#36e6d8 365.5px,#3eead5 366.5px,#68fcc1 367.5px,#5ffac6 368.5px,#6bfdbf 369.5px,#3eebd5 370.5px,#9cfba4 371.5px,#4b52fc 372.5px,#4b51fc 420.5px,#49f1d0 421.5px,#2fe0db 422.5px,#4b51fc 423.5px,#4b51fc 424.5px,#2bdddd 425.5px,#20d4e1 426.5px,#64fbc3 427.5px,#4ef3ce 428.5px,#4b51fc 429.5px,#47f0d1 430.5px,#f00 431.5px,#4b51fc 432.5px,#4c50fc 522.5px,#22d6e0 523.5px,#4c50fc 524.5px,#4c50fc 525.5px,#3dead5 526.5px,#57f7ca 527.5px,#4c50fc 528.5px,#4c50fc 529.5px,#54f6cb 530.5px,#60fac5 531.5px,#5ffac6 533.5px,#8ffeac 534.5px,#f00 535.5px,#34e4d9 536.5px,#26d9df 537.5px,#50f4cd 538.5px,#82ffb3 539.5px,#feb663 540.5px,#b2f396 541.5px,#39e8d7 542.5px,#aaf69b 543.5px,#70febc 544.5px,#b8f092 545.5px,#4c50fc 546.5px,#4c50fc 582.5px,#3eebd5 583.5px,#21d5e0 584.5px,#4c50fc 585.5px,#4f4bfc 816.5px,#26d9df 817.5px,#0ea4f0 818.5px,#02b3ec 819.5px,#0cc1e8 820.5px,#11a1f0 821.5px,#2ddfdc 822.5px,#36e5d8 823.5px,#10a2f0 824.5px,#10a2f0 825.5px,#05afed 826.5px,#139ef1 827.5px,#0ec3e7 828.5px,#0abfe9 829.5px,#18cde4 830.5px,#0dc2e7 831.5px,#4bf2cf 832.5px,#169af2 833.5px,#1f8ff4 834.5px,#366ff9 835.5px,#149df1 836.5px,#376ff9 839.5px,#2587f5 840.5px,#208df4 841.5px,#3177f8 842.5px,#208ef4 843.5px,#1f8ff4 844.5px,#2685f5 845.5px,#208df4 847.5px,#2488f5 848.5px,#1f8ff4 849.5px,#03b1ec 850.5px,#2981f6 851.5px,#3a6af9 852.5px,#218cf4 854.5px,#208df4 855.5px,#139ff1 856.5px,#4f4bfc 857.5px,#5148fc 981.5px,#3276f8 982.5px,#5148fc 983.5px,#5147fc 990.5px,#2586f5 991.5px,#5147fc 992.5px,#5246fd 1049.5px,#05baea 1050.5px,#06bbea 1051.5px,#2784f6 1052.5px,#5246fd 1053.5px,#5345fd 1088.5px,#02b6eb 1089.5px,#218cf4 1090.5px,#5345fd 1091.5px,#5444fd 1158.5px,#2b7ef6 1159.5px,#18cde4 1160.5px,#00b4ec 1161.5px,#5443fd 1163.5px,#5443fd 1181.5px,#3572f8 1182.5px,#5443fd 1183.5px,#5443fd 1256.5px,#0fa2f0 1257.5px,#386cf9 1258.5px,#5443fd 1259.5px,#5443fd 1341.5px,#0ba8ef 1342.5px,#3a69f9 1343.5px,#5443fd 1344.5px,#5443fd 1491.5px)"></i><i style="top:738px;height:1px;background:linear-gradient(90deg,#4855fb 0.5px,#4954fb 55.5px,#8bfeae 56.5px,#56f7ca 58.5px,#4954fb 59.5px,#4a53fb 200.5px,#40ecd4 201.5px,#4a53fc 202.5px,#4a53fc 204.5px,#67fcc1 205.5px,#6efebe 206.5px,#4bf2cf 207.5px,#4a53fc 208.5px,#4a52fc 274.5px,#169af2 275.5px,#4a52fc 276.5px,#4a52fc 341.5px,#f00 342.5px,#f00 343.5px,#abf69b 344.5px,#3ce9d6 345.5px,#9afca5 346.5px,#f00 347.5px,#f00 352.5px,#f3c16a 353.5px,#f00 354.5px,#74feba 355.5px,#f00 356.5px,#f00 359.5px,#d8da7d 360.5px,#f00 361.5px,#91fdaa 362.5px,#56f7ca 363.5px,#f00 364.5px,#36e6d8 365.5px,#3eead5 366.5px,#68fcc1 367.5px,#5ffac6 368.5px,#6bfdbf 369.5px,#3eebd5 370.5px,#9cfba4 371.5px,#4b52fc 372.5px,#4b51fc 420.5px,#49f1d0 421.5px,#2fe0db 422.5px,#4b51fc 423.5px,#4b51fc 424.5px,#2bdddd 425.5px,#20d4e1 426.5px,#64fbc3 427.5px,#4ef3ce 428.5px,#4b51fc 429.5px,#47f0d1 430.5px,#5bf8c8 431.5px,#4b51fc 432.5px,#4c50fc 522.5px,#22d6e0 523.5px,#4c50fc 524.5px,#4c50fc 525.5px,#3dead5 526.5px,#57f7ca 527.5px,#4c50fc 528.5px,#4c50fc 529.5px,#54f6cb 530.5px,#60fac5 531.5px,#5ffac6 533.5px,#8ffeac 534.5px,#f00 535.5px,#34e4d9 536.5px,#26d9df 537.5px,#50f4cd 538.5px,#82ffb3 539.5px,#feb663 540.5px,#b2f396 541.5px,#39e8d7 542.5px,#aaf69b 543.5px,#70febc 544.5px,#b8f092 545.5px,#4c50fc 546.5px,#4c50fc 582.5px,#3eebd5 583.5px,#21d5e0 584.5px,#4c50fc 585.5px,#4f4bfc 816.5px,#26d9df 817.5px,#0ea4f0 818.5px,#02b3ec 819.5px,#0cc1e8 820.5px,#11a1f0 821.5px,#2ddfdc 822.5px,#36e5d8 823.5px,#10a2f0 824.5px,#10a2f0 825.5px,#05afed 826.5px,#139ef1 827.5px,#0ec3e7 828.5px,#0abfe9 829.5px,#18cde4 830.5px,#0dc2e7 831.5px,#4bf2cf 832.5px,#169af2 833.5px,#1f8ff4 834.5px,#366ff9 835.5px,#149df1 836.5px,#376ff9 839.5px,#2587f5 840.5px,#208df4 841.5px,#3177f8 842.5px,#208ef4 843.5px,#1f8ff4 844.5px,#2685f5 845.5px,#208df4 847.5px,#2488f5 848.5px,#1f8ff4 849.5px,#03b1ec 850.5px,#2981f6 851.5px,#3a6af9 852.5px,#218cf4 854.5px,#208df4 855.5px,#139ff1 856.5px,#4f4bfc 857.5px,#5148fc 981.5px,#2883f6 982.5px,#5148fc 983.5px,#5147fc 990.5px,#3177f8 991.5px,#5147fc 992.5px,#5246fd 1049.5px,#25d8df 1050.5px,#0ec3e7 1051.5px,#11a0f0 1052.5px,#5246fd 1053.5px,#5345fd 1088.5px,#0ec3e7 1089.5px,#139ef1 1090.5px,#5345fd 1091.5px,#5444fd 1158.5px,#228bf4 1159.5px,#0aa9ee 1160.5px,#0ea4ef 1161.5px,#5443fd 1163.5px,#5443fd 1181.5px,#2883f6 1182.5px,#5443fd 1183.5px,#5443fd 1256.5px,#03b8eb 1257.5px,#218cf4 1258.5px,#5443fd 1259.5px,#5443fd 1341.5px,#0da5ef 1342.5px,#5443fd 1344.5px,#5443fd 1491.5px)"></i><i style="top:739px;height:2px;background:linear-gradient(90deg,#4855fb 0.5px,#4954fb 55.5px,#8bfeae 56.5px,#56f7ca 58.5px,#4954fb 59.5px,#4a53fb 200.5px,#40ecd4 201.5px,#4a53fc 202.5px,#4a53fc 204.5px,#67fcc1 205.5px,#6efebe 206.5px,#4bf2cf 207.5px,#4a53fc 208.5px,#4a52fc 275.5px,#208ef4 276.5px,#4a52fc 277.5px,#4b52fc 342.5px,#58f7c9 343.5px,#a9f79c 344.5px,#4b52fc 345.5px,#76ffba 346.5px,#86ffb1 347.5px,#70febd 348.5px,#68fcc1 349.5px,#4b52fc 350.5px,#6ffebd 351.5px,#5bf9c7 352.5px,#8afeae 353.5px,#48f0d0 354.5px,#97fca7 355.5px,#63fbc3 356.5px,#4b52fc 357.5px,#49f1d0 358.5px,#49f1d0 359.5px,#93fda9 360.5px,#4b52fc 361.5px,#95fda8 362.5px,#44eed2 363.5px,#28dbde 365.5px,#6dfdbe 366.5px,#5efac6 367.5px,#91feaa 368.5px,#4b52fc 369.5px,#4b52fc 370.5px,#7effb5 371.5px,#4b52fc 372.5px,#4b51fc 421.5px,#2adcdd 422.5px,#4b51fc 423.5px,#33e3d9 424.5px,#4b51fc 425.5px,#24d8df 426.5px,#37e6d8 427.5px,#1bd0e3 429.5px,#40ecd4 430.5px,#5bf8c8 431.5px,#4b51fc 432.5px,#4c50fc 521.5px,#10c6e6 522.5px,#02b2ec 523.5px,#1dd1e2 524.5px,#3febd4 526.5px,#4c50fc 527.5px,#4c50fc 530.5px,#34e4d9 531.5px,#4c50fc 532.5px,#4c50fc 533.5px,#11c7e6 534.5px,#4c50fc 535.5px,#4c50fc 538.5px,#14c9e5 539.5px,#76ffba 540.5px,#5bf9c7 541.5px,#a0faa1 542.5px,#40ecd4 543.5px,#d0e082 544.5px,#b8f092 545.5px,#4c50fc 546.5px,#4c50fc 582.5px,#15cae5 583.5px,#4c50fc 584.5px,#4f4bfc 817.5px,#2b7ff6 818.5px,#386cf9 819.5px,#1898f2 820.5px,#1f8ff4 821.5px,#4f4bfc 822.5px,#4f4bfc 823.5px,#386df9 824.5px,#139ef1 825.5px,#4f4bfc 826.5px,#376df9 827.5px,#4f4bfc 828.5px,#396bf9 829.5px,#3a6af9 830.5px,#1d92f3 831.5px,#2883f6 832.5px,#4f4bfc 833.5px,#455afb 834.5px,#4f4bfc 835.5px,#396bf9 836.5px,#4f4bfc 837.5px,#1799f2 838.5px,#376ff9 839.5px,#3177f8 842.5px,#208ef4 843.5px,#2883f6 844.5px,#1b94f3 845.5px,#218cf4 846.5px,#1799f2 847.5px,#2d7cf7 848.5px,#3275f8 849.5px,#0ea4f0 850.5px,#3275f8 851.5px,#2489f5 853.5px,#2981f6 854.5px,#208df4 855.5px,#06aded 856.5px,#4f4bfc 857.5px,#5148fc 981.5px,#2883f6 982.5px,#5148fc 983.5px,#5147fc 990.5px,#3177f8 991.5px,#5147fc 992.5px,#5246fd 1049.5px,#25d8df 1050.5px,#0ec3e7 1051.5px,#11a0f0 1052.5px,#5246fd 1053.5px,#5345fd 1088.5px,#0ec3e7 1089.5px,#139ef1 1090.5px,#5345fd 1091.5px,#5444fd 1158.5px,#228bf4 1159.5px,#0aa9ee 1160.5px,#0ea4ef 1161.5px,#5443fd 1163.5px,#5443fd 1181.5px,#2883f6 1182.5px,#5443fd 1183.5px,#5443fd 1256.5px,#03b8eb 1257.5px,#218cf4 1258.5px,#5443fd 1259.5px,#5443fd 1341.5px,#0da5ef 1342.5px,#5443fd 1344.5px,#5443fd 1491.5px)"></i><i style="top:741px;height:1px;background:linear-gradient(90deg,#4855fb 0.5px,#4954fb 55.5px,#7effb5 56.5px,#32e3da 57.5px,#28dade 58.5px,#4954fb 59.5px,#4a53fb 200.5px,#4af1d0 201.5px,#4a53fc 202.5px,#4a53fc 204.5px,#39e7d7 205.5px,#6cfdbf 206.5px,#48f0d0 207.5px,#4a53fc 208.5px,#4a52fc 275.5px,#208ef4 276.5px,#4a52fc 277.5px,#4a52fc 341.5px,#70febd 342.5px,#4b52fc 343.5px,#82ffb3 344.5px,#4b52fc 345.5px,#4b52fc 348.5px,#48f0d1 349.5px,#4b52fc 350.5px,#4ff4cd 351.5px,#2ddfdc 352.5px,#74febb 353.5px,#4b52fc 354.5px,#6efebe 355.5px,#5af8c8 356.5px,#4b52fc 357.5px,#3ae8d7 358.5px,#4b52fc 359.5px,#53f6cb 360.5px,#60fac5 361.5px,#80ffb4 362.5px,#52f5cc 363.5px,#4bf2cf 364.5px,#31e2da 365.5px,#42edd3 366.5px,#4b52fc 367.5px,#55f6ca 368.5px,#50f4cd 369.5px,#4b52fc 370.5px,#4b51fc 421.5px,#2adcdd 422.5px,#4b51fc 423.5px,#33e3d9 424.5px,#4b51fc 425.5px,#24d8df 426.5px,#37e6d8 427.5px,#1bd0e3 429.5px,#40ecd4 430.5px,#5bf8c8 431.5px,#4b51fc 432.5px,#4c50fc 523.5px,#1f8ff4 524.5px,#05afed 525.5px,#35e4d9 526.5px,#37e6d8 527.5px,#4c50fc 528.5px,#4c50fc 529.5px,#14c9e5 530.5px,#13c8e5 531.5px,#4c50fc 532.5px,#07acee 533.5px,#28dbde 534.5px,#4c50fc 535.5px,#4c50fc 539.5px,#feb663 540.5px,#45efd2 541.5px,#63fbc4 542.5px,#55f6ca 543.5px,#88ffaf 544.5px,#b8f092 545.5px,#4c50fc 546.5px,#4c50fc 582.5px,#15cae5 583.5px,#4c50fc 584.5px,#4f4bfc 816.5px,#3b68f9 817.5px,#4f4bfc 819.5px,#3b68f9 820.5px,#4a53fc 821.5px,#3472f8 822.5px,#0da6ef 823.5px,#4f4bfc 824.5px,#4954fb 825.5px,#4f4bfc 826.5px,#4f4bfc 828.5px,#2488f5 830.5px,#4f4bfc 831.5px,#1e90f4 832.5px,#208df4 833.5px,#4f4bfc 834.5px,#4f4bfc 840.5px,#4b51fc 842.5px,#4f4bfc 845.5px,#4160fa 846.5px,#4f4bfc 847.5px,#366ff9 848.5px,#1a96f3 850.5px,#2883f6 852.5px,#218cf4 854.5px,#3a6af9 855.5px,#06aded 856.5px,#4f4bfc 857.5px,#5148fc 981.5px,#2f7af7 982.5px,#5148fc 983.5px,#5147fc 990.5px,#228af5 991.5px,#5147fc 992.5px,#5246fd 1049.5px,#0fc4e7 1050.5px,#09bee9 1051.5px,#1b94f3 1052.5px,#5246fd 1053.5px,#5345fd 1088.5px,#11a0f0 1089.5px,#159cf1 1090.5px,#5345fd 1091.5px,#5444fd 1158.5px,#2b7ff6 1159.5px,#06aeed 1160.5px,#07bce9 1161.5px,#2981f6 1162.5px,#5443fd 1163.5px,#5443fd 1181.5px,#1799f2 1182.5px,#5443fd 1183.5px,#5443fd 1256.5px,#1a96f3 1257.5px,#1f8ff4 1258.5px,#5443fd 1259.5px,#5443fd 1341.5px,#0fa3f0 1342.5px,#1f8ff4 1343.5px,#5443fd 1344.5px,#5443fd 1491.5px)"></i><i style="top:742px;height:1px;background:linear-gradient(90deg,#4855fb 0.5px,#4954fb 55.5px,#7effb5 56.5px,#32e3da 57.5px,#28dade 58.5px,#4954fb 59.5px,#4a53fb 200.5px,#4af1d0 201.5px,#4a53fc 202.5px,#4a53fc 204.5px,#39e7d7 205.5px,#6cfdbf 206.5px,#48f0d0 207.5px,#4a53fc 208.5px,#4a52fc 341.5px,#70febd 342.5px,#4b52fc 343.5px,#82ffb3 344.5px,#4b52fc 345.5px,#4b52fc 348.5px,#48f0d1 349.5px,#4b52fc 350.5px,#4ff4cd 351.5px,#2ddfdc 352.5px,#74febb 353.5px,#4b52fc 354.5px,#6efebe 355.5px,#5af8c8 356.5px,#4b52fc 357.5px,#3ae8d7 358.5px,#4b52fc 359.5px,#53f6cb 360.5px,#60fac5 361.5px,#80ffb4 362.5px,#52f5cc 363.5px,#4bf2cf 364.5px,#31e2da 365.5px,#42edd3 366.5px,#4b52fc 367.5px,#55f6ca 368.5px,#50f4cd 369.5px,#4b52fc 370.5px,#4b51fc 420.5px,#1dd1e2 421.5px,#4b51fc 422.5px,#03b7eb 423.5px,#4b51fc 424.5px,#0fa3f0 425.5px,#0aa9ee 426.5px,#1acfe3 427.5px,#21d5e1 428.5px,#4b51fc 429.5px,#1bcfe3 430.5px,#4b51fc 431.5px,#4c50fc 523.5px,#1f8ff4 524.5px,#05afed 525.5px,#35e4d9 526.5px,#37e6d8 527.5px,#4c50fc 528.5px,#4c50fc 529.5px,#14c9e5 530.5px,#13c8e5 531.5px,#4c50fc 532.5px,#07acee 533.5px,#28dbde 534.5px,#4c50fc 535.5px,#4c50fc 539.5px,#feb663 540.5px,#45efd2 541.5px,#63fbc4 542.5px,#55f6ca 543.5px,#88ffaf 544.5px,#b8f092 545.5px,#4c50fc 546.5px,#4c50fc 583.5px,#19cee3 584.5px,#4c50fc 585.5px,#4f4bfc 816.5px,#3b68f9 817.5px,#4f4bfc 819.5px,#3b68f9 820.5px,#4a53fc 821.5px,#3472f8 822.5px,#0da6ef 823.5px,#4f4bfc 824.5px,#4954fb 825.5px,#4f4bfc 826.5px,#4f4bfc 828.5px,#2488f5 830.5px,#4f4bfc 831.5px,#1e90f4 832.5px,#208df4 833.5px,#4f4bfc 834.5px,#4f4bfc 840.5px,#4b51fc 842.5px,#4f4bfc 845.5px,#4160fa 846.5px,#4f4bfc 847.5px,#366ff9 848.5px,#1a96f3 850.5px,#2883f6 852.5px,#218cf4 854.5px,#3a6af9 855.5px,#06aded 856.5px,#4f4bfc 857.5px,#5148fc 981.5px,#2f7af7 982.5px,#5148fc 983.5px,#5147fc 990.5px,#228af5 991.5px,#5147fc 992.5px,#5246fd 1049.5px,#0fc4e7 1050.5px,#09bee9 1051.5px,#1b94f3 1052.5px,#5246fd 1053.5px,#5345fd 1088.5px,#11a0f0 1089.5px,#159cf1 1090.5px,#5345fd 1091.5px,#5444fd 1158.5px,#2b7ff6 1159.5px,#06aeed 1160.5px,#07bce9 1161.5px,#2981f6 1162.5px,#5443fd 1163.5px,#5443fd 1181.5px,#1799f2 1182.5px,#5443fd 1183.5px,#5443fd 1256.5px,#1a96f3 1257.5px,#1f8ff4 1258.5px,#5443fd 1259.5px,#5443fd 1341.5px,#0fa3f0 1342.5px,#1f8ff4 1343.5px,#5443fd 1344.5px,#5443fd 1491.5px)"></i><i style="top:743px;height:1px;background:linear-gradient(90deg,#4855fb 0.5px,#4954fb 55.5px,#7effb5 56.5px,#32e3da 57.5px,#28dade 58.5px,#4954fb 59.5px,#4a53fb 200.5px,#4af1d0 201.5px,#4a53fc 202.5px,#4a53fc 204.5px,#39e7d7 205.5px,#6cfdbf 206.5px,#48f0d0 207.5px,#4a53fc 208.5px,#4a52fc 341.5px,#70febd 342.5px,#4b52fc 343.5px,#82ffb3 344.5px,#4b52fc 345.5px,#4b52fc 348.5px,#48f0d1 349.5px,#4b52fc 350.5px,#4ff4cd 351.5px,#2ddfdc 352.5px,#74febb 353.5px,#4b52fc 354.5px,#6efebe 355.5px,#5af8c8 356.5px,#4b52fc 357.5px,#3ae8d7 358.5px,#4b52fc 359.5px,#53f6cb 360.5px,#60fac5 361.5px,#80ffb4 362.5px,#52f5cc 363.5px,#4bf2cf 364.5px,#31e2da 365.5px,#42edd3 366.5px,#4b52fc 367.5px,#55f6ca 368.5px,#50f4cd 369.5px,#4b52fc 370.5px,#4b51fc 420.5px,#1dd1e2 421.5px,#4b51fc 422.5px,#03b7eb 423.5px,#4b51fc 424.5px,#0fa3f0 425.5px,#0aa9ee 426.5px,#1acfe3 427.5px,#21d5e1 428.5px,#4b51fc 429.5px,#1bcfe3 430.5px,#4b51fc 431.5px,#4c50fc 523.5px,#1f8ff4 524.5px,#05afed 525.5px,#35e4d9 526.5px,#37e6d8 527.5px,#4c50fc 528.5px,#4c50fc 529.5px,#14c9e5 530.5px,#13c8e5 531.5px,#4c50fc 532.5px,#07acee 533.5px,#28dbde 534.5px,#4c50fc 535.5px,#4c50fc 539.5px,#feb663 540.5px,#45efd2 541.5px,#63fbc4 542.5px,#55f6ca 543.5px,#88ffaf 544.5px,#b8f092 545.5px,#4c50fc 546.5px,#4c50fc 583.5px,#19cee3 584.5px,#4c50fc 585.5px,#4f4bfc 816.5px,#3b68f9 817.5px,#4f4bfc 819.5px,#3b68f9 820.5px,#4a53fc 821.5px,#3472f8 822.5px,#0da6ef 823.5px,#4f4bfc 824.5px,#4954fb 825.5px,#4f4bfc 826.5px,#4f4bfc 828.5px,#2488f5 830.5px,#4f4bfc 831.5px,#1e90f4 832.5px,#208df4 833.5px,#4f4bfc 834.5px,#4f4bfc 840.5px,#4b51fc 842.5px,#4f4bfc 845.5px,#4160fa 846.5px,#4f4bfc 847.5px,#366ff9 848.5px,#1a96f3 850.5px,#2883f6 852.5px,#218cf4 854.5px,#3a6af9 855.5px,#06aded 856.5px,#4f4bfc 857.5px,#5148fc 981.5px,#11a1f0 982.5px,#5148fc 983.5px,#5147fc 990.5px,#1898f2 991.5px,#5147fc 992.5px,#5246fd 1049.5px,#23d7e0 1050.5px,#01b5eb 1051.5px,#208ef4 1052.5px,#5246fd 1053.5px,#5345fd 1088.5px,#0abfe9 1089.5px,#12a0f1 1090.5px,#5345fd 1091.5px,#5444fd 1158.5px,#1b94f3 1159.5px,#1bd0e3 1160.5px,#129ff1 1161.5px,#2c7ef7 1162.5px,#5443fd 1163.5px,#5443fd 1181.5px,#3374f8 1182.5px,#5443fd 1183.5px,#5443fd 1256.5px,#05afed 1257.5px,#218cf4 1258.5px,#5443fd 1259.5px,#5443fd 1341.5px,#1e90f4 1342.5px,#3177f8 1343.5px,#5443fd 1344.5px,#5443fd 1491.5px)"></i><i style="top:744px;height:1px;background:linear-gradient(90deg,#2982f6 0.5px,#2982f6 55.5px,#50f4cd 56.5px,#1cd1e2 57.5px,#0abfe8 58.5px,#2982f6 59.5px,#2982f6 200.5px,#06bbea 201.5px,#2982f6 202.5px,#2982f6 204.5px,#1fd3e1 205.5px,#4af1d0 206.5px,#21d5e1 207.5px,#2982f6 208.5px,#2a81f6 344.5px,#25d9df 345.5px,#2a80f6 346.5px,#2a80f6 347.5px,#12c8e6 348.5px,#37e6d8 349.5px,#2bdddd 350.5px,#2a80f6 351.5px,#0bc0e8 352.5px,#50f4cd 353.5px,#11c6e6 354.5px,#42edd3 355.5px,#34e4d9 356.5px,#2a80f6 357.5px,#2a80f6 360.5px,#56f7ca 361.5px,#55f6ca 362.5px,#23d7e0 363.5px,#2b7ff6 364.5px,#2b7ff6 365.5px,#29dbde 366.5px,#1acfe3 367.5px,#2b7ff6 368.5px,#2b7ff6 369.5px,#07bcea 370.5px,#5bf8c8 371.5px,#2b7ff6 372.5px,#2d7cf7 420.5px,#1dd1e2 421.5px,#2d7cf7 422.5px,#03b7eb 423.5px,#2d7cf7 424.5px,#0fa3f0 425.5px,#0aa9ee 426.5px,#1acfe3 427.5px,#21d5e1 428.5px,#2d7cf7 429.5px,#1bcfe3 430.5px,#2d7cf7 431.5px,#3177f8 521.5px,#2587f5 522.5px,#08acee 523.5px,#208df4 524.5px,#0ea5ef 525.5px,#17cce4 526.5px,#2ee0db 527.5px,#3176f8 528.5px,#3176f8 529.5px,#05baea 530.5px,#3176f8 531.5px,#3176f8 533.5px,#0abfe8 534.5px,#3276f8 535.5px,#3276f8 536.5px,#139ef1 537.5px,#08acee 538.5px,#3276f8 539.5px,#3176f8 544.5px,#169bf2 545.5px,#3275f8 546.5px,#3472f8 583.5px,#19cee3 584.5px,#3472f8 585.5px,#4659fb 816.5px,#2d7bf7 817.5px,#4659fb 818.5px,#4658fb 819.5px,#3078f7 820.5px,#4658fb 821.5px,#4658fb 822.5px,#228bf5 823.5px,#4658fb 824.5px,#3c67fa 825.5px,#4758fb 826.5px,#4757fb 828.5px,#4160fa 829.5px,#4757fb 830.5px,#2685f5 831.5px,#4757fb 832.5px,#4757fb 833.5px,#3078f7 834.5px,#4757fb 835.5px,#4757fb 836.5px,#376df9 837.5px,#4756fb 838.5px,#4856fb 839.5px,#386df9 840.5px,#4856fb 841.5px,#4855fb 850.5px,#3275f8 851.5px,#4955fb 852.5px,#2e7af7 853.5px,#4954fb 854.5px,#4954fb 855.5px,#2587f5 856.5px,#4954fb 857.5px,#4e4dfc 981.5px,#11a1f0 982.5px,#4e4dfc 983.5px,#4e4dfc 990.5px,#1898f2 991.5px,#4e4cfc 992.5px,#5149fc 1049.5px,#23d7e0 1050.5px,#01b5eb 1051.5px,#208ef4 1052.5px,#5148fc 1053.5px,#5246fd 1088.5px,#0abfe9 1089.5px,#12a0f1 1090.5px,#5346fd 1091.5px,#5640fd 1158.5px,#1b94f3 1159.5px,#1bd0e3 1160.5px,#129ff1 1161.5px,#2c7ef7 1162.5px,#5640fd 1163.5px,#573ffd 1181.5px,#3374f8 1182.5px,#573ffd 1183.5px,#583dfd 1256.5px,#05afed 1257.5px,#218cf4 1258.5px,#583dfd 1259.5px,#593bfd 1341.5px,#1e90f4 1342.5px,#3177f8 1343.5px,#593bfd 1344.5px,#5c38fd 1491.5px)"></i><i style="top:745px;height:1px;background:linear-gradient(90deg,#2982f6 0.5px,#2982f6 55.5px,#50f4cd 56.5px,#1cd1e2 57.5px,#0abfe8 58.5px,#2982f6 59.5px,#2982f6 200.5px,#06bbea 201.5px,#2982f6 202.5px,#2982f6 204.5px,#1fd3e1 205.5px,#4af1d0 206.5px,#21d5e1 207.5px,#2982f6 208.5px,#2982f6 274.5px,#1d92f3 275.5px,#2982f6 276.5px,#2a81f6 344.5px,#25d9df 345.5px,#2a80f6 346.5px,#2a80f6 347.5px,#12c8e6 348.5px,#37e6d8 349.5px,#2bdddd 350.5px,#2a80f6 351.5px,#0bc0e8 352.5px,#50f4cd 353.5px,#11c6e6 354.5px,#42edd3 355.5px,#34e4d9 356.5px,#2a80f6 357.5px,#2a80f6 360.5px,#56f7ca 361.5px,#55f6ca 362.5px,#23d7e0 363.5px,#2b7ff6 364.5px,#2b7ff6 365.5px,#29dbde 366.5px,#1acfe3 367.5px,#2b7ff6 368.5px,#2b7ff6 369.5px,#07bcea 370.5px,#5bf8c8 371.5px,#2b7ff6 372.5px,#2d7cf7 421.5px,#08bde9 422.5px,#1e90f4 423.5px,#0da5ef 424.5px,#2d7cf7 425.5px,#2d7cf7 426.5px,#05baea 427.5px,#2d7cf7 428.5px,#06aeed 429.5px,#2d7cf7 430.5px,#3177f8 521.5px,#2587f5 522.5px,#08acee 523.5px,#208df4 524.5px,#0ea5ef 525.5px,#17cce4 526.5px,#2ee0db 527.5px,#3176f8 528.5px,#3176f8 529.5px,#05baea 530.5px,#3176f8 531.5px,#3176f8 533.5px,#0abfe8 534.5px,#3276f8 535.5px,#3276f8 536.5px,#139ef1 537.5px,#08acee 538.5px,#3276f8 539.5px,#3176f8 544.5px,#169bf2 545.5px,#3275f8 546.5px,#3473f8 582.5px,#1d92f3 583.5px,#1f8ef4 584.5px,#3472f8 585.5px,#4659fb 816.5px,#2d7bf7 817.5px,#4659fb 818.5px,#4658fb 819.5px,#3078f7 820.5px,#4658fb 821.5px,#4658fb 822.5px,#228bf5 823.5px,#4658fb 824.5px,#3c67fa 825.5px,#4758fb 826.5px,#4757fb 828.5px,#4160fa 829.5px,#4757fb 830.5px,#2685f5 831.5px,#4757fb 832.5px,#4757fb 833.5px,#3078f7 834.5px,#4757fb 835.5px,#4757fb 836.5px,#376df9 837.5px,#4756fb 838.5px,#4856fb 839.5px,#386df9 840.5px,#4856fb 841.5px,#4855fb 850.5px,#3275f8 851.5px,#4955fb 852.5px,#2e7af7 853.5px,#4954fb 854.5px,#4954fb 855.5px,#2587f5 856.5px,#4954fb 857.5px,#4e4dfc 981.5px,#11a1f0 982.5px,#4e4dfc 983.5px,#4e4dfc 990.5px,#1898f2 991.5px,#4e4cfc 992.5px,#5149fc 1049.5px,#23d7e0 1050.5px,#01b5eb 1051.5px,#208ef4 1052.5px,#5148fc 1053.5px,#5246fd 1088.5px,#0abfe9 1089.5px,#12a0f1 1090.5px,#5346fd 1091.5px,#5640fd 1158.5px,#1b94f3 1159.5px,#1bd0e3 1160.5px,#129ff1 1161.5px,#2c7ef7 1162.5px,#5640fd 1163.5px,#573ffd 1181.5px,#3374f8 1182.5px,#573ffd 1183.5px,#583dfd 1256.5px,#05afed 1257.5px,#218cf4 1258.5px,#583dfd 1259.5px,#593bfd 1341.5px,#1e90f4 1342.5px,#3177f8 1343.5px,#593bfd 1344.5px,#5c38fd 1491.5px)"></i><i style="top:746px;height:1px;background:linear-gradient(90deg,#0fa3f0 0.5px,#10a1f0 55.5px,#50f4cd 56.5px,#1cd1e2 57.5px,#0abfe8 58.5px,#10a1f0 59.5px,#129ff1 200.5px,#06bbea 201.5px,#139ff1 202.5px,#139ff1 204.5px,#1fd3e1 205.5px,#4af1d0 206.5px,#21d5e1 207.5px,#139ff1 208.5px,#169af2 344.5px,#25d9df 345.5px,#169af2 346.5px,#169af2 347.5px,#12c8e6 348.5px,#37e6d8 349.5px,#2bdddd 350.5px,#1799f2 351.5px,#0bc0e8 352.5px,#50f4cd 353.5px,#11c6e6 354.5px,#42edd3 355.5px,#34e4d9 356.5px,#1799f2 357.5px,#1798f2 360.5px,#56f7ca 361.5px,#55f6ca 362.5px,#23d7e0 363.5px,#1898f2 364.5px,#1898f2 365.5px,#29dbde 366.5px,#1acfe3 367.5px,#1898f2 368.5px,#1898f2 369.5px,#07bcea 370.5px,#5bf8c8 371.5px,#1897f2 372.5px,#1b94f3 386.5px,#386df9 398.5px,#3571f8 421.5px,#08bde9 422.5px,#1e90f4 423.5px,#0da5ef 424.5px,#3472f8 425.5px,#3472f8 426.5px,#05baea 427.5px,#3473f8 428.5px,#06aeed 429.5px,#3473f8 430.5px,#2b7ef6 521.5px,#2587f5 522.5px,#08acee 523.5px,#208df4 524.5px,#0ea5ef 525.5px,#17cce4 526.5px,#2ee0db 527.5px,#2b7ff6 528.5px,#2b7ff6 529.5px,#05baea 530.5px,#2b7ff6 531.5px,#2b7ff6 533.5px,#0abfe8 534.5px,#2b7ff6 535.5px,#2b7ff6 536.5px,#139ef1 537.5px,#08acee 538.5px,#2a80f6 539.5px,#2a80f6 544.5px,#169bf2 545.5px,#2a80f6 546.5px,#2a80f6 582.5px,#1d92f3 583.5px,#1f8ef4 584.5px,#2a80f6 585.5px,#435dfb 816.5px,#2d7bf7 817.5px,#435cfb 818.5px,#435cfb 819.5px,#3078f7 820.5px,#445cfb 821.5px,#445cfb 822.5px,#228bf5 823.5px,#445cfb 824.5px,#3c67fa 825.5px,#445bfb 826.5px,#4160fa 829.5px,#445bfb 830.5px,#2685f5 831.5px,#445bfb 832.5px,#455bfb 833.5px,#3078f7 834.5px,#455afb 835.5px,#455afb 836.5px,#376df9 837.5px,#455afb 838.5px,#455afb 839.5px,#386df9 840.5px,#455afb 841.5px,#4659fb 850.5px,#3275f8 851.5px,#4658fb 852.5px,#2e7af7 853.5px,#4658fb 854.5px,#4658fb 855.5px,#2587f5 856.5px,#4658fb 857.5px,#4b51fc 981.5px,#10a2f0 982.5px,#4b51fc 983.5px,#4b50fc 990.5px,#3670f8 991.5px,#4c50fc 992.5px,#4e4cfc 1049.5px,#28dbde 1050.5px,#0bc0e8 1051.5px,#1b94f3 1052.5px,#4f4bfc 1053.5px,#5148fc 1088.5px,#149cf1 1089.5px,#0fa3f0 1090.5px,#5148fc 1091.5px,#5641fd 1158.5px,#1898f2 1159.5px,#0abfe8 1160.5px,#0da5ef 1161.5px,#5640fd 1163.5px,#583efd 1181.5px,#1996f2 1182.5px,#583dfd 1183.5px,#5f32fe 1256.5px,#03b1ec 1257.5px,#3c67f9 1258.5px,#6032fe 1259.5px,#6628fe 1341.5px,#0fa2f0 1342.5px,#1799f2 1343.5px,#6628fe 1344.5px,#6628fe 1491.5px)"></i><i style="top:747px;height:1px;background:linear-gradient(90deg,#0fa3f0 0.5px,#10a1f0 55.5px,#24d8df 56.5px,#06aeed 57.5px,#10a1f0 59.5px,#129ff1 200.5px,#12c7e6 201.5px,#139ff1 202.5px,#139ff1 204.5px,#0fc4e7 205.5px,#1cd1e2 206.5px,#20d4e1 207.5px,#139ff1 208.5px,#169af2 341.5px,#10c5e6 342.5px,#1acee3 343.5px,#45efd2 344.5px,#169af2 345.5px,#169af2 346.5px,#2ddfdc 347.5px,#0dc3e7 348.5px,#179af2 349.5px,#1bcfe3 350.5px,#2fe0db 351.5px,#1799f2 352.5px,#1799f2 353.5px,#08abee 354.5px,#1799f2 355.5px,#0fc4e7 356.5px,#1799f2 357.5px,#19cde4 358.5px,#1799f2 359.5px,#37e6d8 360.5px,#36e6d8 361.5px,#23d7e0 362.5px,#1898f2 363.5px,#1898f2 364.5px,#0fc4e7 365.5px,#28dbde 366.5px,#1898f2 367.5px,#38e7d7 368.5px,#03b8eb 369.5px,#0ea4f0 370.5px,#14c9e5 371.5px,#1897f2 372.5px,#1b94f3 386.5px,#386df9 398.5px,#3571f8 421.5px,#08bde9 422.5px,#1e90f4 423.5px,#0da5ef 424.5px,#3472f8 425.5px,#3472f8 426.5px,#05baea 427.5px,#3473f8 428.5px,#06aeed 429.5px,#3473f8 430.5px,#2b7ff6 524.5px,#169af2 525.5px,#2b7ff6 526.5px,#0dc2e8 527.5px,#2b7ff6 528.5px,#2b7ff6 533.5px,#11a1f0 534.5px,#2b7ff6 535.5px,#2a80f6 582.5px,#11a1f0 583.5px,#2a80f6 585.5px,#445cfb 822.5px,#3571f8 823.5px,#445cfb 824.5px,#445bfb 827.5px,#2f7af7 828.5px,#3374f8 829.5px,#3f62fa 830.5px,#2d7cf7 831.5px,#445bfb 832.5px,#455afb 842.5px,#396bf9 843.5px,#4559fb 844.5px,#4658fb 855.5px,#2784f6 856.5px,#4658fb 857.5px,#4b51fc 981.5px,#10a2f0 982.5px,#4b51fc 983.5px,#4b50fc 990.5px,#3670f8 991.5px,#4c50fc 992.5px,#4e4cfc 1049.5px,#28dbde 1050.5px,#0bc0e8 1051.5px,#1b94f3 1052.5px,#4f4bfc 1053.5px,#5148fc 1088.5px,#149cf1 1089.5px,#0fa3f0 1090.5px,#5148fc 1091.5px,#5641fd 1158.5px,#1898f2 1159.5px,#0abfe8 1160.5px,#0da5ef 1161.5px,#5640fd 1163.5px,#583efd 1181.5px,#1996f2 1182.5px,#583dfd 1183.5px,#5f32fe 1256.5px,#03b1ec 1257.5px,#3c67f9 1258.5px,#6032fe 1259.5px,#6628fe 1341.5px,#0fa2f0 1342.5px,#1799f2 1343.5px,#6628fe 1344.5px,#6628fe 1491.5px)"></i><i style="top:748px;height:1px;background:linear-gradient(90deg,#0fa3f0 0.5px,#10a1f0 55.5px,#24d8df 56.5px,#06aeed 57.5px,#10a1f0 59.5px,#129ff1 200.5px,#12c7e6 201.5px,#139ff1 202.5px,#139ff1 204.5px,#0fc4e7 205.5px,#1cd1e2 206.5px,#20d4e1 207.5px,#139ff1 208.5px,#169af2 341.5px,#10c5e6 342.5px,#1acee3 343.5px,#45efd2 344.5px,#169af2 345.5px,#169af2 346.5px,#2ddfdc 347.5px,#0dc3e7 348.5px,#179af2 349.5px,#1bcfe3 350.5px,#2fe0db 351.5px,#1799f2 352.5px,#1799f2 353.5px,#08abee 354.5px,#1799f2 355.5px,#0fc4e7 356.5px,#1799f2 357.5px,#19cde4 358.5px,#1799f2 359.5px,#37e6d8 360.5px,#36e6d8 361.5px,#23d7e0 362.5px,#1898f2 363.5px,#1898f2 364.5px,#0fc4e7 365.5px,#28dbde 366.5px,#1898f2 367.5px,#38e7d7 368.5px,#03b8eb 369.5px,#0ea4f0 370.5px,#14c9e5 371.5px,#1897f2 372.5px,#1b94f3 386.5px,#386df9 398.5px,#3571f8 421.5px,#0aa9ef 422.5px,#3572f8 423.5px,#3472f8 424.5px,#2389f5 425.5px,#3472f8 426.5px,#14c9e5 427.5px,#01b5eb 429.5px,#0fc4e7 430.5px,#14c9e5 431.5px,#3373f8 432.5px,#2b7ff6 524.5px,#169af2 525.5px,#2b7ff6 526.5px,#0dc2e8 527.5px,#2b7ff6 528.5px,#2b7ff6 533.5px,#11a1f0 534.5px,#2b7ff6 535.5px,#2a80f6 582.5px,#11a1f0 583.5px,#2a80f6 585.5px,#445cfb 822.5px,#3571f8 823.5px,#445cfb 824.5px,#445bfb 827.5px,#2f7af7 828.5px,#3374f8 829.5px,#3f62fa 830.5px,#2d7cf7 831.5px,#445bfb 832.5px,#455afb 842.5px,#396bf9 843.5px,#4559fb 844.5px,#4658fb 855.5px,#2784f6 856.5px,#4658fb 857.5px,#4b51fc 981.5px,#1c93f3 982.5px,#4b51fc 983.5px,#4b50fc 990.5px,#159cf1 991.5px,#4c50fc 992.5px,#4e4cfc 1049.5px,#18cde4 1050.5px,#19cee3 1051.5px,#228bf5 1052.5px,#4f4bfc 1053.5px,#5148fc 1088.5px,#05afed 1089.5px,#169af2 1090.5px,#5148fc 1091.5px,#5641fd 1158.5px,#149df1 1159.5px,#1ed2e2 1160.5px,#05baea 1161.5px,#1d91f3 1162.5px,#5640fd 1163.5px,#583efd 1181.5px,#3177f8 1182.5px,#583dfd 1183.5px,#5f32fe 1256.5px,#0da5ef 1257.5px,#1f8ff4 1258.5px,#6032fe 1259.5px,#6628fe 1341.5px,#0da5ef 1342.5px,#3373f8 1343.5px,#6628fe 1344.5px,#6628fe 1491.5px)"></i><i style="top:749px;height:1px;background:linear-gradient(90deg,#19cee3 0.5px,#17cce4 39.5px,#01b3ec 43.5px,#0aa9ef 46.5px,#0aa8ef 55.5px,#17cce4 56.5px,#02b7eb 57.5px,#09bee9 58.5px,#0aa8ef 59.5px,#0da5ef 205.5px,#1fd3e1 206.5px,#0da5ef 207.5px,#139ff1 341.5px,#05afed 342.5px,#0ca7ef 343.5px,#0abfe8 344.5px,#139ef1 345.5px,#02b3ec 347.5px,#149df1 348.5px,#0bc0e8 349.5px,#149df1 350.5px,#0ea4f0 351.5px,#149cf1 353.5px,#159cf1 354.5px,#23d7e0 355.5px,#159cf1 356.5px,#159cf1 357.5px,#01b6eb 358.5px,#159bf1 359.5px,#159bf2 360.5px,#2cdedc 361.5px,#169bf2 362.5px,#08abee 363.5px,#169af2 364.5px,#169af2 366.5px,#0aa9ee 367.5px,#1799f2 368.5px,#0bc0e8 369.5px,#1799f2 370.5px,#1b94f3 386.5px,#386df9 398.5px,#3571f8 421.5px,#0aa9ef 422.5px,#3572f8 423.5px,#3472f8 424.5px,#2389f5 425.5px,#3472f8 426.5px,#14c9e5 427.5px,#01b5eb 429.5px,#0fc4e7 430.5px,#14c9e5 431.5px,#3373f8 432.5px,#2b7ff6 525.5px,#04b0ed 526.5px,#08bde9 527.5px,#2b7ff6 528.5px,#2b7ff6 529.5px,#238af5 530.5px,#2b7ff6 531.5px,#2b7ff6 532.5px,#208df4 533.5px,#2b7ff6 534.5px,#1e90f4 535.5px,#2b7ff6 536.5px,#2a80f6 582.5px,#11a1f0 583.5px,#2a80f6 585.5px,#445cfb 822.5px,#3571f8 823.5px,#445cfb 824.5px,#445bfb 827.5px,#2f7af7 828.5px,#3374f8 829.5px,#3f62fa 830.5px,#2d7cf7 831.5px,#445bfb 832.5px,#455afb 842.5px,#396bf9 843.5px,#4559fb 844.5px,#4658fb 855.5px,#2784f6 856.5px,#4658fb 857.5px,#4b51fc 981.5px,#1c93f3 982.5px,#4b51fc 983.5px,#4b50fc 990.5px,#159cf1 991.5px,#4c50fc 992.5px,#4e4cfc 1049.5px,#18cde4 1050.5px,#19cee3 1051.5px,#228bf5 1052.5px,#4f4bfc 1053.5px,#5148fc 1088.5px,#05afed 1089.5px,#169af2 1090.5px,#5148fc 1091.5px,#5641fd 1158.5px,#149df1 1159.5px,#1ed2e2 1160.5px,#05baea 1161.5px,#1d91f3 1162.5px,#5640fd 1163.5px,#583efd 1181.5px,#3177f8 1182.5px,#583dfd 1183.5px,#5f32fe 1256.5px,#0da5ef 1257.5px,#1f8ff4 1258.5px,#6032fe 1259.5px,#6628fe 1341.5px,#0da5ef 1342.5px,#3373f8 1343.5px,#6628fe 1344.5px,#6628fe 1491.5px)"></i><i style="top:750px;height:1px;background:linear-gradient(90deg,#19cee3 0.5px,#17cce4 39.5px,#01b3ec 43.5px,#0aa9ef 46.5px,#0aa8ef 55.5px,#17cce4 56.5px,#02b7eb 57.5px,#09bee9 58.5px,#0aa8ef 59.5px,#0da5ef 205.5px,#1fd3e1 206.5px,#0da5ef 207.5px,#139ff1 341.5px,#05afed 342.5px,#0ca7ef 343.5px,#0abfe8 344.5px,#139ef1 345.5px,#02b3ec 347.5px,#149df1 348.5px,#0bc0e8 349.5px,#149df1 350.5px,#0ea4f0 351.5px,#149cf1 353.5px,#159cf1 354.5px,#23d7e0 355.5px,#159cf1 356.5px,#159cf1 357.5px,#01b6eb 358.5px,#159bf1 359.5px,#159bf2 360.5px,#2cdedc 361.5px,#169bf2 362.5px,#08abee 363.5px,#169af2 364.5px,#169af2 366.5px,#0aa9ee 367.5px,#1799f2 368.5px,#0bc0e8 369.5px,#1799f2 370.5px,#1b94f3 386.5px,#386df9 398.5px,#3571f8 420.5px,#0fa2f0 421.5px,#3571f8 422.5px,#139ef1 423.5px,#3472f8 424.5px,#1c93f3 425.5px,#3472f8 426.5px,#03b7eb 427.5px,#03b1ed 428.5px,#3079f7 429.5px,#3473f8 430.5px,#1b94f3 431.5px,#3373f8 432.5px,#2b7ff6 525.5px,#04b0ed 526.5px,#08bde9 527.5px,#2b7ff6 528.5px,#2b7ff6 529.5px,#238af5 530.5px,#2b7ff6 531.5px,#2b7ff6 532.5px,#208df4 533.5px,#2b7ff6 534.5px,#1e90f4 535.5px,#2b7ff6 536.5px,#2c7ef7 601.5px,#435cfb 819.5px,#376ef9 820.5px,#4160fa 821.5px,#445cfb 822.5px,#4062fa 823.5px,#445cfb 826.5px,#3472f8 828.5px,#445bfb 829.5px,#386df9 830.5px,#3f62fa 831.5px,#2c7ef7 832.5px,#455bfb 833.5px,#455afb 837.5px,#3a6af9 838.5px,#455afb 839.5px,#455afb 842.5px,#3275f8 846.5px,#4659fb 847.5px,#4659fb 848.5px,#3d65fa 850.5px,#4659fb 851.5px,#4b51fc 981.5px,#1c93f3 982.5px,#4b51fc 983.5px,#4b50fc 990.5px,#159cf1 991.5px,#4c50fc 992.5px,#4e4cfc 1049.5px,#18cde4 1050.5px,#19cee3 1051.5px,#228bf5 1052.5px,#4f4bfc 1053.5px,#5148fc 1088.5px,#05afed 1089.5px,#169af2 1090.5px,#5148fc 1091.5px,#5641fd 1158.5px,#149df1 1159.5px,#1ed2e2 1160.5px,#05baea 1161.5px,#1d91f3 1162.5px,#5640fd 1163.5px,#583efd 1181.5px,#3177f8 1182.5px,#583dfd 1183.5px,#5f32fe 1256.5px,#0da5ef 1257.5px,#1f8ff4 1258.5px,#6032fe 1259.5px,#6628fe 1341.5px,#0da5ef 1342.5px,#3373f8 1343.5px,#6628fe 1344.5px,#6628fe 1491.5px)"></i><i style="top:751px;height:1px;background:linear-gradient(90deg,#19cee3 0.5px,#17cce4 39.5px,#01b3ec 43.5px,#0aa9ef 46.5px,#0aa8ef 55.5px,#17cce4 56.5px,#02b7eb 57.5px,#09bee9 58.5px,#0aa8ef 59.5px,#0da5ef 205.5px,#1fd3e1 206.5px,#0da5ef 207.5px,#139ff1 341.5px,#05afed 342.5px,#0ca7ef 343.5px,#0abfe8 344.5px,#139ef1 345.5px,#02b3ec 347.5px,#149df1 348.5px,#0bc0e8 349.5px,#149df1 350.5px,#0ea4f0 351.5px,#149cf1 353.5px,#159cf1 354.5px,#23d7e0 355.5px,#159cf1 356.5px,#159cf1 357.5px,#01b6eb 358.5px,#159bf1 359.5px,#159bf2 360.5px,#2cdedc 361.5px,#169bf2 362.5px,#08abee 363.5px,#169af2 364.5px,#169af2 366.5px,#0aa9ee 367.5px,#1799f2 368.5px,#0bc0e8 369.5px,#1799f2 370.5px,#1b94f3 386.5px,#386df9 398.5px,#3571f8 420.5px,#0fa2f0 421.5px,#3571f8 422.5px,#139ef1 423.5px,#3472f8 424.5px,#1c93f3 425.5px,#3472f8 426.5px,#03b7eb 427.5px,#03b1ed 428.5px,#3079f7 429.5px,#3473f8 430.5px,#1b94f3 431.5px,#3373f8 432.5px,#2b7ff6 525.5px,#04b0ed 526.5px,#08bde9 527.5px,#2b7ff6 528.5px,#2b7ff6 529.5px,#238af5 530.5px,#2b7ff6 531.5px,#2b7ff6 532.5px,#208df4 533.5px,#2b7ff6 534.5px,#1e90f4 535.5px,#2b7ff6 536.5px,#2c7ef7 601.5px,#435cfb 819.5px,#376ef9 820.5px,#4160fa 821.5px,#445cfb 822.5px,#4062fa 823.5px,#445cfb 826.5px,#3472f8 828.5px,#445bfb 829.5px,#386df9 830.5px,#3f62fa 831.5px,#2c7ef7 832.5px,#455bfb 833.5px,#455afb 837.5px,#3a6af9 838.5px,#455afb 839.5px,#455afb 842.5px,#3275f8 846.5px,#4659fb 847.5px,#4659fb 848.5px,#3d65fa 850.5px,#4659fb 851.5px,#5740fd 1169.5px,#6628fe 1346.5px,#6628fe 1491.5px)"></i><i style="top:752px;height:1px;background:linear-gradient(90deg,#0aa9ef 0.5px,#0ea5ef 342.5px,#169bf2 386.5px,#3374f8 399.5px,#3078f7 420.5px,#0fa2f0 421.5px,#3079f7 422.5px,#139ef1 423.5px,#2f79f7 424.5px,#1c93f3 425.5px,#2f79f7 426.5px,#03b7eb 427.5px,#03b1ed 428.5px,#2f7af7 429.5px,#2e7af7 430.5px,#1b94f3 431.5px,#2e7af7 432.5px,#2982f6 506.5px,#2c7ef7 586.5px,#3e64fa 690.5px,#455afb 824.5px,#3e65fa 825.5px,#455afb 826.5px,#4559fb 830.5px,#3670f8 831.5px,#3570f8 832.5px,#4559fb 833.5px,#593dfd 1005.5px,#6923fe 1181.5px,#7018ff 1316.5px,#7018ff 1491.5px)"></i><i style="top:753px;height:2px;background:linear-gradient(90deg,#0aa9ef 0.5px,#0ea5ef 342.5px,#169bf2 386.5px,#3374f8 399.5px,#2982f6 497.5px,#2c7ef7 586.5px,#3e64fa 690.5px,#455afb 824.5px,#3e65fa 825.5px,#455afb 826.5px,#4559fb 830.5px,#3670f8 831.5px,#3570f8 832.5px,#4559fb 833.5px,#593dfd 1005.5px,#6923fe 1181.5px,#7018ff 1316.5px,#7018ff 1491.5px)"></i><i style="top:755px;height:2px;background:linear-gradient(90deg,#0aa9ef 0.5px,#0ea5ef 342.5px,#169bf2 386.5px,#3374f8 399.5px,#2982f6 497.5px,#2c7ef7 586.5px,#3e64fa 690.5px,#4c50fc 906.5px,#6529fe 1130.5px,#7018ff 1309.5px,#7018ff 1491.5px)"></i><i style="top:757px;height:3px;background:linear-gradient(90deg,#19cee3 0.5px,#11c6e6 330.5px,#02b2ec 378.5px,#0da6ef 390.5px,#1898f2 398.5px,#01b6eb 407.5px,#19cee3 416.5px,#01b3ec 443.5px,#1b94f3 501.5px,#2b7ff6 600.5px,#3e64fa 685.5px,#4b51fc 898.5px,#6628fe 1109.5px,#7116ff 1316.5px,#7116ff 1491.5px)"></i><i style="top:760px;height:5px;background:linear-gradient(90deg,#4cf3ce 0.5px,#3febd4 353.5px,#1acfe3 386.5px,#3dead5 413.5px,#33e3d9 439.5px,#04b9ea 474.5px,#04b0ed 501.5px,#3374f8 642.5px,#3e64fa 684.5px,#4b51fc 896.5px,#6825fe 1100.5px,#7314ff 1317.5px,#7314ff 1491.5px)"></i><i style="top:765px;height:3px;background:linear-gradient(90deg,#33e3d9 0.5px,#2adcdd 355.5px,#11c7e6 387.5px,#33e3da 412.5px,#29dbde 439.5px,#01b3ec 468.5px,#3a6af9 660.5px,#445cfb 800.5px,#4d4efc 909.5px,#6726fe 1096.5px,#7116ff 1328.5px,#7116ff 1491.5px)"></i><i style="top:768px;height:3px;background:linear-gradient(90deg,#00b4ec 0.5px,#129ff1 486.5px,#3a6af9 695.5px,#5d36fe 1195.5px,#6628fe 1491.5px)"></i><i style="top:771px;height:5px;background:linear-gradient(90deg,#1f8ff4 0.5px,#2785f6 497.5px,#3f63fa 739.5px,#573ffd 1223.5px,#593cfd 1491.5px)"></i><i style="top:776px;height:5px;background:linear-gradient(90deg,#3d65fa 0.5px,#3d65fa 2.5px,#00b4ec 3.5px,#3d65fa 4.5px,#19cee3 5.5px,#66fcc2 6.5px,#66fcc2 7.5px,#3d65fa 8.5px,#3d65fa 9.5px,#66fcc2 10.5px,#19cee3 11.5px,#3d65fa 12.5px,#3d65fa 13.5px,#00b4ec 14.5px,#3d65fa 15.5px,#3d65fa 17.5px,#00b4ec 18.5px,#33e3d9 19.5px,#3d65fa 20.5px,#66fcc2 21.5px,#3d65fa 22.5px,#3d65fa 23.5px,#66fcc2 24.5px,#66fcc2 25.5px,#3e65fa 26.5px,#33e3d9 27.5px,#3e65fa 28.5px,#00b4ec 29.5px,#3e65fa 30.5px,#19cee3 31.5px,#3e65fa 32.5px,#33e3d9 33.5px,#3e65fa 34.5px,#19cee3 35.5px,#3e65fa 36.5px,#3e65fa 42.5px,#66fcc2 43.5px,#3e65fa 44.5px,#33e3d9 45.5px,#00b4ec 46.5px,#66fcc2 47.5px,#3e64fa 48.5px,#3e64fa 49.5px,#00b4ec 50.5px,#33e3d9 51.5px,#3e64fa 52.5px,#3e64fa 57.5px,#33e3d9 58.5px,#3e64fa 59.5px,#3e64fa 60.5px,#33e3d9 61.5px,#3e64fa 62.5px,#3e64fa 68.5px,#19cee3 69.5px,#3e64fa 70.5px,#3e64fa 72.5px,#33e3d9 73.5px,#3e64fa 74.5px,#33e3d9 75.5px,#3e64fa 76.5px,#3e64fa 83.5px,#00b4ec 84.5px,#3e64fa 85.5px,#3e64fa 86.5px,#33e3d9 87.5px,#3e64fa 88.5px,#3e64fa 93.5px,#33e3d9 94.5px,#3e64fa 95.5px,#3e64fa 96.5px,#19cee3 97.5px,#3e64fa 98.5px,#3e64fa 99.5px,#00b4ec 100.5px,#3e64fa 101.5px,#19cee3 102.5px,#3e64fa 103.5px,#3e64fa 106.5px,#19cee3 107.5px,#00b4ec 108.5px,#3e63fa 109.5px,#3e63fa 110.5px,#00b4ec 111.5px,#33e3d9 112.5px,#3e63fa 113.5px,#3f63fa 124.5px,#33e3d9 125.5px,#3f63fa 126.5px,#3f63fa 127.5px,#00b4ec 128.5px,#3f63fa 129.5px,#3f63fa 130.5px,#19cee3 131.5px,#3f63fa 132.5px,#3f63fa 139.5px,#19cee3 140.5px,#33e3d9 141.5px,#3f63fa 142.5px,#3f63fa 145.5px,#19cee3 146.5px,#3f63fa 147.5px,#00b4ec 148.5px,#3f63fa 149.5px,#3f63fa 162.5px,#33e3d9 163.5px,#3f63fa 164.5px,#3f63fa 165.5px,#00b4ec 166.5px,#33e3d9 167.5px,#3f62fa 168.5px,#33e3d9 169.5px,#3f62fa 170.5px,#3f62fa 172.5px,#33e3d9 173.5px,#3f62fa 174.5px,#3f62fa 176.5px,#33e3d9 177.5px,#3f62fa 178.5px,#3f62fa 193.5px,#1996f3 194.5px,#3f62fa 195.5px,#4062fa 203.5px,#00b4ec 204.5px,#4062fa 205.5px,#4062fa 213.5px,#1996f3 214.5px,#4062fa 215.5px,#4061fa 279.5px,#1996f3 280.5px,#4061fa 281.5px,#4160fa 321.5px,#00b4ec 322.5px,#1996f3 323.5px,#4160fa 324.5px,#4160fa 334.5px,#19cee3 335.5px,#19cee3 337.5px,#4160fa 338.5px,#66fcc2 339.5px,#4160fa 340.5px,#4160fa 343.5px,#4df3ce 344.5px,#4160fa 345.5px,#415ffa 350.5px,#4df3ce 351.5px,#4df3ce 352.5px,#415ffa 353.5px,#4df3ce 354.5px,#4df3ce 355.5px,#415ffa 356.5px,#415ffa 358.5px,#19cee3 359.5px,#415ffa 360.5px,#415ffa 367.5px,#66fcc2 368.5px,#415ffa 369.5px,#415ffa 371.5px,#19cee3 372.5px,#19cee3 373.5px,#415ffa 374.5px,#425ffa 377.5px,#99fca6 378.5px,#425ffa 379.5px,#425ffa 385.5px,#99fca6 386.5px,#f00 387.5px,#ff964f 388.5px,#425ffa 389.5px,#425ffa 390.5px,#f00 391.5px,#f00 392.5px,#425ffa 393.5px,#425ffa 395.5px,#f00 396.5px,#19cee3 397.5px,#f00 398.5px,#425ffa 399.5px,#425ffa 401.5px,#00b4ec 402.5px,#425ffa 403.5px,#19cee3 404.5px,#425ffa 405.5px,#425efa 415.5px,#00b4ec 416.5px,#00b4ec 417.5px,#425efa 418.5px,#99fca6 419.5px,#99fca6 420.5px,#425efa 421.5px,#425efa 422.5px,#19cee3 423.5px,#66fcc2 424.5px,#66fcc2 425.5px,#19cee3 426.5px,#425efa 427.5px,#425efa 433.5px,#19cee3 434.5px,#19cee3 435.5px,#425efa 436.5px,#425efa 438.5px,#00b4ec 439.5px,#00b4ec 440.5px,#425efa 441.5px,#425efa 444.5px,#99fca6 445.5px,#99fca6 446.5px,#425efa 447.5px,#99fca6 448.5px,#99fca6 449.5px,#425efa 450.5px,#425efa 454.5px,#66fcc2 455.5px,#66fcc2 456.5px,#425efb 457.5px,#66fcc2 458.5px,#425efb 459.5px,#425efb 460.5px,#00b4ec 461.5px,#425efb 462.5px,#425efb 464.5px,#4df3ce 465.5px,#435efb 466.5px,#4df3ce 467.5px,#435efb 468.5px,#4df3ce 469.5px,#4df3ce 470.5px,#435dfb 471.5px,#435dfb 472.5px,#66fcc2 473.5px,#435dfb 474.5px,#99fca6 475.5px,#99fca6 476.5px,#4df3ce 477.5px,#435dfb 478.5px,#19cee3 479.5px,#99fca6 480.5px,#99fca6 481.5px,#435dfb 482.5px,#435dfb 486.5px,#4df3ce 487.5px,#4df3ce 488.5px,#435dfb 489.5px,#435dfb 492.5px,#66fcc2 493.5px,#66fcc2 494.5px,#4df3ce 495.5px,#4df3ce 496.5px,#19cee3 497.5px,#435dfb 498.5px,#435dfb 500.5px,#66fcc2 501.5px,#66fcc2 502.5px,#435dfb 503.5px,#435dfb 506.5px,#99fca6 507.5px,#435dfb 508.5px,#99fca6 509.5px,#435dfb 510.5px,#99fca6 511.5px,#99fca6 512.5px,#435dfb 513.5px,#19cee3 514.5px,#4df3ce 515.5px,#435dfb 516.5px,#435dfb 517.5px,#19cee3 518.5px,#435dfb 519.5px,#435cfb 536.5px,#19cee3 537.5px,#19cee3 538.5px,#435cfb 539.5px,#435cfb 541.5px,#00b4ec 542.5px,#435cfb 543.5px,#4df3ce 544.5px,#4df3ce 545.5px,#19cee3 546.5px,#19cee3 547.5px,#435cfb 548.5px,#445cfb 562.5px,#99fca6 563.5px,#99fca6 564.5px,#445cfb 565.5px,#445cfb 576.5px,#99fca6 577.5px,#99fca6 578.5px,#445cfb 579.5px,#445cfb 582.5px,#19cee3 583.5px,#445cfb 584.5px,#99fca6 585.5px,#445cfb 586.5px,#445cfb 588.5px,#66fcc2 589.5px,#445bfb 590.5px,#445bfb 600.5px,#00b4ec 601.5px,#445bfb 602.5px,#445bfb 606.5px,#1996f3 607.5px,#445bfb 608.5px,#00b4ec 609.5px,#445bfb 610.5px,#445bfb 613.5px,#00b4ec 614.5px,#445bfb 615.5px,#445bfb 616.5px,#00b4ec 617.5px,#445bfb 618.5px,#445bfb 632.5px,#1996f3 633.5px,#445bfb 634.5px,#455bfb 644.5px,#00b4ec 645.5px,#1996f3 646.5px,#455bfb 647.5px,#455afb 659.5px,#00b4ec 660.5px,#455afb 661.5px,#455afb 662.5px,#1996f3 663.5px,#455afb 664.5px,#4559fb 700.5px,#00b4ec 701.5px,#00b4ec 702.5px,#4559fb 703.5px,#4559fb 706.5px,#1996f3 707.5px,#4559fb 708.5px,#4659fb 720.5px,#00b4ec 721.5px,#4659fb 722.5px,#4659fb 733.5px,#00b4ec 734.5px,#4659fb 735.5px,#4658fb 759.5px,#00b4ec 760.5px,#4658fb 761.5px,#1996f3 762.5px,#4658fb 763.5px,#4658fb 764.5px,#00b4ec 765.5px,#4658fb 766.5px,#4658fb 777.5px,#00b4ec 778.5px,#00b4ec 779.5px,#4758fb 780.5px,#4757fb 793.5px,#00b4ec 794.5px,#4757fb 795.5px,#4757fb 798.5px,#00b4ec 799.5px,#4757fb 800.5px,#4757fb 803.5px,#00b4ec 804.5px,#00b4ec 805.5px,#4757fb 806.5px,#4757fb 808.5px,#1996f3 809.5px,#4757fb 810.5px,#1996f3 811.5px,#4757fb 812.5px,#4757fb 815.5px,#00b4ec 816.5px,#4757fb 817.5px,#4757fb 819.5px,#00b4ec 820.5px,#4757fb 821.5px,#4756fb 832.5px,#19cee3 833.5px,#19cee3 834.5px,#4756fb 835.5px,#4756fb 836.5px,#66fcc2 837.5px,#4756fb 838.5px,#4756fb 840.5px,#4df3ce 841.5px,#4df3ce 842.5px,#19cee3 843.5px,#4856fb 844.5px,#80ffb4 845.5px,#80ffb4 846.5px,#4df3ce 847.5px,#66fcc2 848.5px,#4856fb 849.5px,#4856fb 850.5px,#19cee3 851.5px,#19cee3 852.5px,#4856fb 853.5px,#4856fb 854.5px,#4df3ce 855.5px,#4df3ce 856.5px,#4856fb 857.5px,#4856fb 859.5px,#e5ce74 860.5px,#e5ce74 861.5px,#4856fb 862.5px,#4856fb 863.5px,#80ffb4 864.5px,#80ffb4 865.5px,#4856fb 866.5px,#4856fb 868.5px,#19cee3 869.5px,#19cee3 870.5px,#f00 871.5px,#f00 873.5px,#4856fb 874.5px,#4df3ce 875.5px,#4855fb 876.5px,#4df3ce 877.5px,#4df3ce 878.5px,#66fcc2 879.5px,#66fcc2 880.5px,#4855fb 881.5px,#4855fb 882.5px,#80ffb4 883.5px,#80ffb4 884.5px,#19cee3 885.5px,#4df3ce 886.5px,#4df3ce 887.5px,#4855fb 888.5px,#4855fb 889.5px,#66fcc2 890.5px,#80ffb4 891.5px,#66fcc2 892.5px,#66fcc2 893.5px,#19cee3 894.5px,#19cee3 895.5px,#4855fb 896.5px,#19cee3 897.5px,#4df3ce 898.5px,#4855fb 899.5px,#66fcc2 900.5px,#f00 901.5px,#f00 902.5px,#4855fb 903.5px,#e5ce74 904.5px,#e5ce74 905.5px,#4855fb 906.5px,#19cee3 907.5px,#19cee3 908.5px,#e5ce74 909.5px,#4955fb 910.5px,#4df3ce 911.5px,#19cee3 912.5px,#4955fb 913.5px,#4955fb 914.5px,#4df3ce 915.5px,#4df3ce 916.5px,#f00 917.5px,#f00 919.5px,#4955fb 920.5px,#4954fb 921.5px,#19cee3 922.5px,#19cee3 923.5px,#4954fb 924.5px,#e5ce74 925.5px,#4954fb 926.5px,#66fcc2 927.5px,#4954fb 928.5px,#4954fb 931.5px,#19cee3 932.5px,#19cee3 933.5px,#4954fb 934.5px,#4954fb 935.5px,#19cee3 936.5px,#19cee3 937.5px,#4954fb 938.5px,#e5ce74 939.5px,#f00 940.5px,#f00 942.5px,#19cee3 943.5px,#4954fb 944.5px,#4df3ce 945.5px,#4954fb 946.5px,#4df3ce 947.5px,#4954fb 948.5px,#80ffb4 949.5px,#4954fb 950.5px,#e5ce74 951.5px,#e5ce74 952.5px,#4954fb 953.5px,#f00 954.5px,#f00 955.5px,#4954fb 956.5px,#e5ce74 957.5px,#e5ce74 958.5px,#4954fb 959.5px,#e5ce74 960.5px,#e5ce74 961.5px,#66fcc2 962.5px,#66fcc2 963.5px,#4954fb 964.5px,#19cee3 965.5px,#19cee3 966.5px,#4953fb 967.5px,#e5ce74 968.5px,#e5ce74 969.5px,#4953fb 970.5px,#4953fb 971.5px,#f00 972.5px,#f00 974.5px,#4df3ce 975.5px,#80ffb4 976.5px,#80ffb4 977.5px,#4a53fb 978.5px,#4a53fb 979.5px,#66fcc2 980.5px,#4df3ce 981.5px,#4a53fb 982.5px,#4a53fb 983.5px,#f00 984.5px,#f00 985.5px,#19cee3 986.5px,#4a53fc 987.5px,#4a53fc 988.5px,#4df3ce 989.5px,#4a53fc 990.5px,#19cee3 991.5px,#e5ce74 992.5px,#e5ce74 993.5px,#4a53fc 994.5px,#4a53fc 995.5px,#4df3ce 996.5px,#4df3ce 997.5px,#19cee3 998.5px,#4a53fc 999.5px,#80ffb4 1000.5px,#4a53fc 1001.5px,#4a53fc 1002.5px,#66fcc2 1003.5px,#e5ce74 1004.5px,#4a53fc 1005.5px,#4a53fc 1007.5px,#19cee3 1008.5px,#19cee3 1009.5px,#4a52fc 1010.5px,#4a52fc 1015.5px,#80ffb4 1016.5px,#4a52fc 1017.5px,#4a52fc 1037.5px,#19cee3 1038.5px,#4a52fc 1039.5px,#4b52fc 1047.5px,#19cee3 1048.5px,#4b52fc 1049.5px,#4b52fc 1052.5px,#80ffb4 1053.5px,#4b51fc 1054.5px,#4b51fc 1055.5px,#19cee3 1056.5px,#4b51fc 1057.5px,#4b51fc 1062.5px,#19cee3 1063.5px,#4b51fc 1064.5px,#4b51fc 1065.5px,#19cee3 1066.5px,#4b51fc 1067.5px,#4b51fc 1069.5px,#19cee3 1070.5px,#4b51fc 1071.5px,#4b51fc 1084.5px,#19cee3 1085.5px,#4b51fc 1086.5px,#4c4ffc 1403.5px,#4df3ce 1404.5px,#4df3ce 1405.5px,#4c4ffc 1406.5px,#19cee3 1407.5px,#00b4ec 1408.5px,#00b4ec 1409.5px,#4c4ffc 1410.5px,#4c4ffc 1415.5px,#19cee3 1416.5px,#19cee3 1417.5px,#4c4ffc 1418.5px,#4c4ffc 1419.5px,#00b4ec 1420.5px,#4c4ffc 1421.5px,#4c4ffc 1422.5px,#4df3ce 1423.5px,#4df3ce 1424.5px,#19cee3 1425.5px,#4c4ffc 1426.5px,#00b4ec 1427.5px,#00b4ec 1428.5px,#4c4ffc 1429.5px,#19cee3 1430.5px,#4c4ffc 1431.5px,#4c4ffc 1433.5px,#4df3ce 1434.5px,#4df3ce 1435.5px,#f00 1436.5px,#f00 1438.5px,#4c4ffc 1439.5px,#4df3ce 1440.5px,#4df3ce 1441.5px,#4c4ffc 1442.5px,#4c4ffc 1443.5px,#f00 1444.5px,#00b4ec 1445.5px,#4c4ffc 1446.5px,#4c4ffc 1447.5px,#00b4ec 1448.5px,#4c4ffc 1449.5px,#4c4ffc 1450.5px,#4df3ce 1451.5px,#4c4ffc 1452.5px,#4df3ce 1453.5px,#4df3ce 1454.5px,#4c4ffc 1455.5px,#4c4ffc 1456.5px,#00b4ec 1457.5px,#4c4ffc 1458.5px,#4c4ffc 1461.5px,#00b4ec 1462.5px,#00b4ec 1463.5px,#4c4ffc 1464.5px,#f00 1465.5px,#f00 1466.5px,#19cee3 1467.5px,#19cee3 1468.5px,#4c4ffc 1469.5px,#4c4ffc 1481.5px,#1996f3 1482.5px,#1996f3 1483.5px,#4c4ffc 1484.5px,#4c4ffc 1489.5px,#1996f3 1490.5px,#4c4ffc 1491.5px)"></i><i style="top:781px;height:9px;background:linear-gradient(90deg,#3670f8 0.5px,#3d65fa 500.5px,#4658fb 1000.5px,#4c4ffc 1491.5px)"></i><i style="top:573px;height:262px;left:0px;width:760px;background:linear-gradient(90deg,#ffffff19 0px,#ffffff06 1px,#ffffff0e 2px,#0000 4px,#00004004 6px,#00004005 7px,#00004001 10px,#00004007 11px,#ffffff0d 13px,#00004010 15px,#ffffff10 18px,#0000401e 20px,#00004016 21px,#ffffff09 23px,#ffffff0a 24px,#ffffff08 27px,#ffffff09 28px,#00004002 31px,#0000400b 32px,#00004003 33px,#00004007 34px,#00004013 36px,#0000400d 38px,#0000400e 39px,#ffffff0c 40px,#ffffff05 42px,#00004014 43px,#00004003 44px,#ffffff07 45px,#ffffff0c 47px,#ffffff04 50px,#0000401f 51px,#00004008 53px,#ffffff0e 55px,#ffffff2a 56px,#0000400b 57px,#00004006 58px,#0000400b 61px,#00004006 62px,#0000 65px,#00004003 68px,#ffffff05 70px,#00004012 72px,#ffffff03 73px,#ffffff19 76px,#ffffff05 78px,#00004002 79px,#ffffff18 82px,#ffffff0b 83px,#ffffff11 86px,#00004013 87px,#ffffff13 90px,#ffffff08 91px,#0000400b 94px,#00004002 97px,#00004012 100px,#00004007 102px,#0000400c 103px,#00004014 106px,#00004003 109px,#0000400d 110px,#ffffff04 112px,#00004008 114px,#00004001 115px,#ffffff0b 118px,#ffffff11 121px,#00004001 122px,#ffffff08 125px,#ffffff08 128px,#00004007 131px,#00004001 133px,#00004010 134px,#ffffff11 135px,#0000400e 136px,#ffffff05 137px,#ffffff04 138px,#ffffff08 139px,#00004018 141px,#00004009 143px,#ffffff06 146px,#0000 148px,#ffffff10 151px,#ffffff05 154px,#00004005 157px,#00004002 158px,#ffffff19 159px,#ffffff07 162px,#00004006 164px,#0000400f 166px,#0000400d 167px,#ffffff10 169px,#ffffff08 172px,#0000400c 174px,#00004003 176px,#00004009 179px,#ffffff15 180px,#00004008 183px,#00004010 185px,#ffffff11 188px,#0000 191px,#00004003 193px,#ffffff0a 194px,#0000400c 196px,#00004009 197px,#00004003 199px,#00004011 201px,#00004005 204px,#00004018 206px,#0000400d 207px,#ffffff03 208px,#00004001 211px,#ffffff02 213px,#ffffff05 216px,#ffffff12 218px,#0000400f 219px,#ffffff05 221px,#ffffff10 222px,#00004008 224px,#00004008 226px,#ffffff0a 228px,#ffffff07 231px,#00004008 233px,#ffffff0b 234px,#0000400d 235px,#ffffff06 237px,#ffffff0b 239px,#ffffff0f 240px,#ffffff02 243px,#00004004 245px,#ffffff0e 246px,#00004002 249px,#ffffff02 252px,#ffffff13 254px,#00004003 255px,#00004009 257px,#0000400a 259px,#00004006 260px,#00004002 261px,#00004002 264px,#ffffff16 265px,#ffffff02 267px,#ffffff03 268px,#00004003 269px,#ffffff06 272px,#0000 273px,#ffffff0e 276px,#ffffff04 279px,#00004006 280px,#0000400d 282px,#ffffff01 284px,#ffffff0a 285px,#00004012 288px,#ffffff0e 291px,#ffffff18 293px,#0000400a 295px,#00004016 298px,#ffffff07 301px,#0000400b 302px,#ffffff0a 303px,#ffffff12 305px,#ffffff22 308px,#ffffff08 309px,#ffffff0c 312px,#0000 315px,#ffffff09 317px,#ffffff04 320px,#ffffff02 321px,#0000400e 324px,#ffffff1c 325px,#00004001 326px,#00004014 328px,#00004012 329px,#ffffff0b 331px,#00004017 332px,#00004001 333px,#00004006 336px,#00004005 338px,#ffffff0b 339px,#ffffff03 341px,#ffffff12 342px,#00004010 344px,#ffffff04 347px,#0000400f 348px,#ffffff06 350px,#0000400e 351px,#00004014 353px,#0000400c 354px,#ffffff06 356px,#0000400d 357px,#ffffff0d 360px,#00004007 363px,#ffffff11 365px,#00004001 366px,#0000400c 367px,#ffffff15 369px,#00004006 371px,#ffffff03 373px,#ffffff05 376px,#ffffff0c 379px,#00004018 380px,#00004002 382px,#ffffff13 383px,#ffffff18 384px,#ffffff04 385px,#00004006 387px,#ffffff14 388px,#ffffff15 391px,#ffffff05 392px,#ffffff01 395px,#ffffff09 396px,#ffffff12 397px,#ffffff0c 399px,#ffffff0e 402px,#ffffff0d 404px,#0000400b 406px,#00004001 407px,#00004009 409px,#ffffff0f 410px,#ffffff07 412px,#0000400b 414px,#ffffff03 416px,#00004001 418px,#ffffff04 419px,#00004024 420px,#ffffff06 423px,#0000400c 425px,#ffffff09 426px,#00004006 427px,#00004017 429px,#0000400e 430px,#ffffff08 432px,#00004008 434px,#ffffff11 436px,#ffffff0c 438px,#00004003 440px,#00004007 441px,#ffffff05 443px,#ffffff0a 444px,#ffffff02 446px,#00004007 448px,#ffffff07 449px,#ffffff05 450px,#00004016 452px,#ffffff08 454px,#ffffff1f 456px,#ffffff1a 459px,#ffffff04 461px,#ffffff0a 463px,#00004004 464px,#ffffff15 466px,#0000 469px,#00004003 470px,#ffffff09 471px,#00004006 473px,#ffffff1e 476px,#ffffff11 477px,#ffffff0b 478px,#ffffff01 479px,#ffffff06 481px,#ffffff03 483px,#00004002 486px,#0000400b 488px,#ffffff01 491px,#0000400e 493px,#ffffff0c 494px,#0000400a 496px,#ffffff08 499px,#ffffff0e 502px,#ffffff02 504px,#0000400d 505px,#0000400e 507px,#ffffff07 508px,#00004009 511px,#ffffff0b 514px,#ffffff0b 515px,#ffffff0d 517px,#ffffff13 519px,#00004011 521px,#0000 523px,#00004002 524px,#ffffff15 527px,#00004004 530px,#ffffff02 532px,#0000400a 534px,#ffffff07 537px,#00004004 538px,#00004002 539px,#ffffff05 541px,#ffffff06 542px,#ffffff07 545px,#0000401a 548px,#0000400a 551px,#00004006 554px,#00004010 555px,#ffffff02 557px,#00004021 559px,#0000400c 562px,#00004007 565px,#ffffff11 568px,#ffffff0a 569px,#00004009 570px,#0000400a 572px,#ffffff11 573px,#ffffff09 575px,#0000 577px,#ffffff08 579px,#0000400a 582px,#ffffff0a 583px,#0000400a 584px,#ffffff0b 587px,#00004010 589px,#ffffff02 590px,#00004005 591px,#ffffff15 593px,#0000400c 594px,#ffffff0f 595px,#ffffff02 596px,#ffffff06 597px,#0000400d 600px,#00004016 601px,#00004019 602px,#ffffff02 604px,#00004008 605px,#00004008 606px,#ffffff10 607px,#00004005 608px,#0000400d 610px,#00004002 611px,#00004002 612px,#ffffff01 614px,#ffffff06 617px,#00004001 618px,#0000400b 621px,#ffffff08 623px,#ffffff06 624px,#ffffff07 626px,#00004006 629px,#ffffff0c 632px,#ffffff02 633px,#00004003 636px,#00004009 639px,#ffffff16 641px,#0000400b 643px,#0000400a 644px,#00004001 647px,#ffffff09 649px,#ffffff0a 650px,#00004006 653px,#ffffff06 654px,#00004002 656px,#ffffff15 658px,#ffffff08 660px,#0000400a 662px,#ffffff14 664px,#0000 667px,#00004004 669px,#ffffff08 671px,#ffffff01 672px,#ffffff0d 674px,#0000400e 676px,#00004003 679px,#00004005 681px,#ffffff08 683px,#ffffff0b 684px,#00004003 685px,#ffffff05 686px,#ffffff01 688px,#ffffff07 690px,#00004012 693px,#00004001 694px,#ffffff0b 696px,#0000400e 698px,#ffffff0c 700px,#ffffff12 702px,#00004001 704px,#00004003 706px,#ffffff15 707px,#ffffff11 708px,#ffffff04 709px,#ffffff12 710px,#0000400c 711px,#00004001 713px,#ffffff12 714px,#ffffff01 716px,#00004005 718px,#00004003 720px,#ffffff07 721px,#ffffff06 723px,#00004004 726px,#ffffff02 727px,#ffffff0b 729px,#00004006 730px,#ffffff14 733px,#ffffff0c 735px,#ffffff07 737px,#00004006 740px,#ffffff01 742px,#ffffff02 745px,#0000400a 746px,#00004006 748px,#ffffff06 750px,#ffffff11 752px,#ffffff01 753px,#00004018 754px,#ffffff08 757px,#00004010 758px)"></i><i style="top:573px;height:262px;left:760px;width:731px;background:linear-gradient(90deg,#00004010 0px,#ffffff09 1px,#0000400f 3px,#00004002 5px,#00004008 6px,#ffffff15 7px,#00004001 8px,#ffffff02 10px,#ffffff09 12px,#ffffff13 13px,#0000 15px,#00004001 17px,#ffffff03 19px,#00004004 21px,#ffffff01 22px,#ffffff0e 25px,#00004004 27px,#ffffff0b 29px,#00004009 31px,#00004002 33px,#ffffff03 35px,#ffffff02 37px,#00004003 39px,#00004006 41px,#0000 43px,#ffffff11 45px,#ffffff01 47px,#ffffff07 49px,#ffffff0d 51px,#00004007 52px,#0000400c 54px,#00004002 56px,#0000 58px,#ffffff02 59px,#ffffff02 61px,#ffffff08 62px,#ffffff01 64px,#ffffff01 65px,#ffffff08 67px,#00004005 69px,#00004010 70px,#ffffff0d 72px,#ffffff02 74px,#ffffff05 75px,#00004003 76px,#ffffff03 77px,#ffffff04 79px,#ffffff02 80px,#0000400e 82px,#ffffff05 83px,#0000400a 84px,#ffffff0f 86px,#0000400f 87px,#00004004 89px,#ffffff03 92px,#00004009 94px,#ffffff03 96px,#00004009 99px,#ffffff09 100px,#ffffff0e 101px,#00004009 103px,#00004007 104px,#ffffff05 105px,#00004001 106px,#ffffff05 108px,#ffffff0c 110px,#00004005 112px,#ffffff13 113px,#00004002 116px,#ffffff04 117px,#ffffff06 118px,#ffffff02 120px,#ffffff01 122px,#00004009 123px,#0000400c 124px,#ffffff04 126px,#ffffff15 127px,#00004004 128px,#0000 129px,#ffffff07 132px,#00004004 133px,#00004008 136px,#ffffff02 139px,#0000400b 141px,#00004003 144px,#00004004 147px,#ffffff08 148px,#00004006 150px,#00004003 151px,#00004004 153px,#00004007 155px,#00004009 156px,#ffffff07 157px,#ffffff03 160px,#00004009 162px,#0000400e 164px,#ffffff06 166px,#ffffff06 167px,#00004005 168px,#00004002 170px,#00004002 171px,#00004004 172px,#00004001 174px,#ffffff0c 175px,#00004006 177px,#00004002 180px,#ffffff03 181px,#00004001 183px,#ffffff01 184px,#ffffff04 186px,#00004007 188px,#0000400a 191px,#ffffff02 192px,#00004001 193px,#ffffff09 194px,#ffffff0a 197px,#00004005 198px,#ffffff06 199px,#00004005 200px,#ffffff0d 202px,#00004005 204px,#ffffff09 205px,#00004006 207px,#00004005 209px,#ffffff04 211px,#ffffff07 212px,#ffffff0c 214px,#ffffff03 216px,#ffffff05 219px,#00004007 220px,#0000400b 221px,#ffffff03 222px,#0000400c 223px,#ffffff02 225px,#ffffff05 226px,#ffffff07 227px,#00004001 230px,#ffffff07 232px,#ffffff0a 233px,#ffffff05 234px,#00004001 235px,#0000400d 236px,#ffffff03 238px,#ffffff08 239px,#00004007 240px,#ffffff07 243px,#ffffff09 246px,#ffffff09 247px,#ffffff02 248px,#ffffff07 250px,#00004003 251px,#00004002 253px,#00004005 256px,#00004003 257px,#00004006 259px,#ffffff0a 261px,#00004007 264px,#00004001 266px,#ffffff08 267px,#00004002 268px,#ffffff02 269px,#ffffff06 271px,#ffffff11 273px,#00004003 275px,#ffffff04 276px,#00004001 279px,#00004009 280px,#ffffff06 282px,#ffffff09 285px,#00004007 288px,#ffffff01 289px,#00004005 290px,#ffffff03 291px,#00004001 293px,#00004007 294px,#0000 296px,#0000 297px,#00004003 300px,#ffffff03 302px,#ffffff0a 304px,#ffffff09 305px,#ffffff07 307px,#00004002 308px,#ffffff06 309px,#00004008 310px,#00004004 313px,#00004001 315px,#00004007 317px,#0000400b 318px,#ffffff06 320px,#ffffff05 321px,#00004001 323px,#00004002 325px,#0000 327px,#ffffff03 329px,#ffffff06 330px,#00004009 331px,#00004004 333px,#ffffff03 336px,#ffffff05 338px,#00004002 340px,#00004003 341px,#ffffff06 344px,#00004004 345px,#ffffff03 346px,#00004003 348px,#0000 350px,#00004003 351px,#00004003 352px,#ffffff0b 353px,#ffffff03 355px,#00004003 357px,#00004001 358px,#00004006 360px,#ffffff01 362px,#ffffff09 364px,#ffffff06 365px,#00004005 366px,#00004007 368px,#ffffff06 370px,#ffffff02 372px,#0000400b 375px,#ffffff02 376px,#0000400f 377px,#ffffff01 379px,#ffffff02 381px,#0000 383px,#00004001 385px,#00004005 387px,#00004004 389px,#ffffff06 392px,#ffffff01 393px,#ffffff0b 394px,#00004005 395px,#ffffff04 397px,#00004002 400px,#00004001 402px,#00004005 404px,#00004003 407px,#ffffff04 409px,#0000 410px,#00004003 412px,#00004001 414px,#ffffff04 417px,#ffffff03 420px,#ffffff09 423px,#ffffff02 425px,#ffffff02 426px,#ffffff04 429px,#ffffff05 431px,#0000 433px,#ffffff03 435px,#ffffff0a 436px,#00004005 439px,#ffffff04 441px,#00004001 442px,#00004002 445px,#00004002 446px,#00004002 448px,#ffffff03 449px,#00004002 452px,#00004002 455px,#ffffff09 457px,#00004006 458px,#00004006 460px,#00004002 462px,#00004002 464px,#ffffff08 465px,#ffffff07 467px,#ffffff04 470px,#ffffff07 473px,#ffffff01 475px,#00004004 478px,#00004001 479px,#ffffff04 481px,#00004002 483px,#ffffff05 485px,#00004004 488px,#ffffff01 489px,#ffffff0c 490px,#ffffff05 491px,#00004003 492px,#ffffff01 493px,#0000 496px,#00004007 497px,#ffffff02 499px,#00004005 500px,#ffffff03 503px,#ffffff04 506px,#ffffff05 508px,#ffffff03 511px,#00004002 512px,#ffffff02 514px,#00004003 515px,#00004003 517px,#00004002 518px,#ffffff02 519px,#ffffff01 520px,#ffffff07 521px,#00004001 522px,#00004001 524px,#00004001 525px,#ffffff05 527px,#00004005 528px,#00004003 529px,#0000 531px,#00004007 532px,#00004003 534px,#00004001 536px,#00004008 538px,#00004003 540px,#0000 542px,#00004001 544px,#00004006 545px,#00004004 547px,#0000 549px,#00004004 552px,#ffffff05 553px,#ffffff02 555px,#00004002 557px,#00004005 559px,#00004008 560px,#00004003 561px,#00004008 562px,#ffffff01 564px,#00004003 566px,#ffffff01 568px,#00004001 571px,#00004002 573px,#00004005 575px,#00004006 576px,#00004001 577px,#00004004 580px,#0000 582px,#00004003 584px,#00004003 587px,#0000 588px,#00004003 591px,#ffffff04 592px,#ffffff02 593px,#0000 595px,#ffffff03 597px,#ffffff01 599px,#00004006 601px,#00004005 604px,#00004003 607px,#ffffff03 608px,#ffffff02 610px,#ffffff03 611px,#00004008 612px,#ffffff02 615px,#ffffff06 616px,#0000 617px,#ffffff03 619px,#ffffff01 621px,#0000 622px,#ffffff05 623px,#00004002 624px,#ffffff01 626px,#00004006 627px,#00004001 628px,#ffffff02 630px,#00004001 633px,#ffffff02 634px,#0000 636px,#ffffff01 638px,#0000 639px,#00004004 642px,#00004003 643px,#0000 646px,#00004003 648px,#ffffff01 649px,#ffffff01 650px,#ffffff02 651px,#0000 652px,#ffffff01 653px,#ffffff06 654px,#0000 655px,#00004002 658px,#00004005 660px,#00004006 661px,#00004004 664px,#00004007 665px,#00004005 667px,#ffffff02 669px,#00004001 672px,#00004002 674px,#ffffff02 675px,#00004001 677px,#00004007 678px,#ffffff01 679px,#ffffff05 681px,#ffffff03 682px,#0000 685px,#ffffff02 686px,#ffffff01 688px,#00004001 689px,#00004004 691px,#00004004 692px,#ffffff02 695px,#0000 696px,#00004001 697px,#ffffff01 698px,#00004005 701px,#ffffff02 702px,#ffffff02 704px,#ffffff01 705px,#0000 707px,#0000 709px,#00004001 712px,#00004004 715px,#0000 716px,#ffffff01 719px,#00004002 720px,#ffffff01 722px,#ffffff03 723px,#ffffff02 725px,#00004005 726px,#00004002 728px)"></i><i style="top:395px;height:178px;left:0px;width:1491px;background:linear-gradient(90deg,#00004001 0px,#00004004 1px,#0000 3px,#ffffff02 5px,#00004006 7px,#ffffff02 9px,#00004001 11px,#ffffff04 13px,#00004005 14px,#00004004 16px,#00004002 18px,#ffffff06 20px,#00004002 21px,#ffffff05 22px,#ffffff04 24px,#0000 25px,#ffffff04 27px,#ffffff03 29px,#00004002 30px,#00004002 31px,#ffffff03 32px,#00004001 33px,#00004003 35px,#0000 38px,#ffffff02 40px,#00004003 43px,#00004003 45px,#00004001 46px,#ffffff04 47px,#0000 48px,#ffffff03 50px,#00004006 51px,#ffffff02 54px,#ffffff01 55px,#ffffff03 57px,#ffffff01 60px,#ffffff05 62px,#00004001 65px,#ffffff04 67px,#0000 68px,#00004002 71px,#ffffff02 73px,#00004002 74px,#00004003 76px,#0000 78px,#00004001 80px,#ffffff03 81px,#ffffff01 82px,#ffffff05 85px,#ffffff03 87px,#00004001 89px,#ffffff05 90px,#00004001 92px,#00004003 95px,#00004001 96px,#ffffff05 98px,#ffffff01 99px,#0000 100px,#0000 101px,#ffffff04 102px,#ffffff02 104px,#ffffff02 106px,#ffffff01 109px,#00004004 111px,#0000 113px,#ffffff06 116px,#ffffff05 119px,#0000 121px,#00004004 123px,#ffffff01 126px,#00004001 127px,#ffffff01 128px,#ffffff01 129px,#ffffff06 131px,#0000 133px,#00004003 135px,#00004003 137px,#0000 138px,#ffffff01 141px,#00004005 143px,#0000 145px,#00004002 146px,#0000 147px,#ffffff05 149px,#00004001 152px,#ffffff01 154px,#ffffff03 157px,#0000 158px,#00004002 160px,#ffffff02 162px,#00004002 164px,#ffffff02 165px,#00004001 166px,#00004005 167px,#00004003 168px,#ffffff02 169px,#00004004 170px,#ffffff01 171px,#ffffff05 172px,#ffffff04 173px,#0000 175px,#00004001 176px,#00004006 178px,#00004003 179px,#00004001 181px,#00004001 184px,#00004002 186px,#ffffff01 189px,#00004001 190px,#ffffff03 191px,#ffffff01 194px,#00004001 196px,#00004001 198px,#ffffff03 199px,#00004002 201px,#ffffff01 203px,#ffffff03 204px,#0000 206px,#ffffff02 208px,#00004003 209px,#00004003 210px,#ffffff02 212px,#ffffff02 213px,#00004003 215px,#ffffff05 217px,#ffffff01 218px,#00004005 220px,#00004006 221px,#ffffff03 222px,#00004002 224px,#ffffff01 226px,#ffffff04 228px,#ffffff06 229px,#ffffff04 231px,#00004005 234px,#ffffff04 237px,#00004004 239px,#ffffff03 241px,#00004002 243px,#ffffff01 246px,#ffffff02 249px,#0000 251px,#00004003 253px,#0000 254px,#ffffff02 257px,#00004001 260px,#00004002 263px,#ffffff02 264px,#00004001 265px,#00004002 266px,#00004002 267px,#00004003 269px,#ffffff03 270px,#ffffff01 271px,#ffffff02 273px,#ffffff04 275px,#00004003 277px,#00004001 278px,#ffffff01 281px,#ffffff01 282px,#ffffff01 284px,#ffffff03 286px,#00004004 288px,#00004002 290px,#ffffff01 292px,#00004001 294px,#00004002 295px,#00004002 298px,#ffffff02 300px,#00004001 301px,#ffffff01 302px,#00004002 305px,#ffffff01 306px,#00004006 307px,#0000 309px,#00004001 310px,#0000 313px,#00004001 315px,#ffffff01 316px,#0000 317px,#00004005 320px,#ffffff05 323px,#00004001 324px,#ffffff01 325px,#ffffff01 328px,#0000 331px,#0000 334px,#00004002 335px,#ffffff01 337px,#00004004 339px,#00004004 341px,#00004001 342px,#00004002 343px,#0000 346px,#00004001 349px,#00004001 350px,#00004001 351px,#ffffff01 352px,#00004003 355px,#ffffff02 356px,#00004001 357px,#ffffff02 358px,#0000 359px,#ffffff01 362px,#ffffff03 364px,#ffffff01 365px,#ffffff01 368px,#00004002 370px,#ffffff04 371px,#ffffff02 373px,#00004001 375px,#00004001 376px,#00004001 377px,#ffffff04 378px,#ffffff01 379px,#00004002 380px,#00004001 381px,#0000 382px,#ffffff01 384px,#00004002 386px,#ffffff02 389px,#00004003 390px,#00004004 391px,#ffffff04 393px,#00004001 394px,#ffffff01 396px,#ffffff02 397px,#00004004 400px,#ffffff01 402px,#00004003 403px,#00004002 404px,#ffffff03 407px,#00004003 408px,#00004002 411px,#ffffff06 412px,#ffffff02 415px,#0000 416px,#00004001 417px,#ffffff02 418px,#ffffff02 420px,#00004003 422px,#ffffff07 425px,#ffffff01 427px,#ffffff02 429px,#00004003 431px,#ffffff03 434px,#0000 435px,#0000 437px,#ffffff03 439px,#00004004 441px,#00004002 444px,#ffffff01 445px,#00004003 446px,#ffffff03 447px,#00004002 450px,#ffffff01 451px,#0000 453px,#ffffff04 454px,#00004002 456px,#00004004 458px,#00004002 461px,#ffffff02 464px,#00004005 465px,#00004002 466px,#00004001 468px,#00004001 470px,#0000 471px,#00004002 472px,#ffffff04 473px,#00004001 475px,#ffffff05 477px,#ffffff05 478px,#00004003 480px,#00004001 481px,#00004002 484px,#00004002 486px,#ffffff01 487px,#00004003 488px,#00004002 489px,#00004001 491px,#00004003 492px,#00004001 494px,#ffffff01 496px,#00004003 498px,#00004001 499px,#00004003 500px,#00004002 503px,#ffffff01 506px,#ffffff02 507px,#0000 510px,#ffffff02 511px,#00004001 514px,#0000 516px,#ffffff03 518px,#00004002 520px,#00004003 521px,#00004001 524px,#ffffff02 526px,#ffffff04 529px,#00004001 532px,#ffffff01 535px,#00004001 537px,#00004001 538px,#00004002 540px,#ffffff02 543px,#0000 544px,#ffffff02 546px,#ffffff05 548px,#ffffff03 549px,#ffffff01 551px,#ffffff03 552px,#0000 553px,#ffffff01 554px,#0000 556px,#0000 557px,#0000 560px,#ffffff03 561px,#00004004 564px,#ffffff05 567px,#0000 569px,#ffffff03 570px,#ffffff02 572px,#ffffff02 574px,#ffffff01 575px,#00004002 578px,#ffffff02 579px,#00004002 581px,#00004003 582px,#ffffff01 583px,#ffffff03 584px,#00004006 585px,#ffffff02 587px,#ffffff01 588px,#ffffff02 591px,#ffffff02 594px,#00004005 596px,#00004001 597px,#00004003 598px,#0000 599px,#00004002 601px,#00004004 603px,#ffffff01 606px,#ffffff05 607px,#ffffff03 609px,#00004001 610px,#ffffff01 611px,#00004002 612px,#ffffff06 614px,#0000 617px,#ffffff04 619px,#00004001 620px,#0000 623px,#00004001 626px,#00004002 628px,#ffffff01 629px,#ffffff02 630px,#00004004 631px,#00004001 633px,#00004002 634px,#00004003 635px,#00004001 636px,#ffffff04 638px,#ffffff01 640px,#ffffff03 643px,#00004001 645px,#0000 647px,#00004003 648px,#00004002 650px,#00004006 652px,#ffffff04 653px,#00004001 655px,#0000 658px,#00004004 660px,#00004004 661px,#ffffff02 663px,#00004001 664px,#00004004 666px,#00004003 667px,#ffffff02 670px,#ffffff03 671px,#00004003 674px,#0000 675px,#ffffff02 677px,#0000 679px,#00004003 680px,#ffffff05 682px,#0000 684px,#0000 686px,#0000 688px,#00004003 690px,#ffffff04 691px,#ffffff02 693px,#00004002 694px,#00004002 695px,#00004003 697px,#ffffff02 700px,#00004002 701px,#0000 702px,#ffffff03 703px,#ffffff02 704px,#ffffff04 707px,#0000 708px,#00004001 709px,#ffffff01 712px,#0000 714px,#ffffff01 715px,#0000 717px,#0000 718px,#00004001 720px,#00004001 722px,#ffffff02 724px,#ffffff04 726px,#00004001 728px,#00004003 730px,#00004003 731px,#ffffff04 733px,#00004001 734px,#ffffff02 736px,#00004001 737px,#ffffff01 738px,#00004001 740px,#00004004 742px,#00004001 743px,#00004002 745px,#00004002 747px,#00004002 748px,#00004001 750px,#00004001 752px,#ffffff02 754px,#ffffff02 755px,#0000 757px,#ffffff01 759px,#0000 760px,#ffffff02 761px,#ffffff02 763px,#ffffff01 764px,#0000 765px,#0000 767px,#ffffff02 768px,#00004001 770px,#00004003 771px,#ffffff01 773px,#ffffff06 774px,#00004002 775px,#0000 778px,#ffffff04 779px,#ffffff01 781px,#ffffff03 783px,#ffffff05 785px,#0000 788px,#00004001 790px,#00004002 791px,#00004001 792px,#ffffff02 795px,#00004001 798px,#00004002 801px,#00004003 802px,#00004003 803px,#ffffff02 804px,#ffffff05 806px,#0000 808px,#00004001 809px,#00004002 811px,#00004001 813px,#0000 814px,#00004003 815px,#00004002 818px,#0000 820px,#0000 822px,#00004001 824px,#00004004 826px,#ffffff04 829px,#ffffff02 832px,#ffffff01 834px,#00004002 836px,#0000 837px,#ffffff02 838px,#00004001 840px,#00004001 842px,#00004002 843px,#ffffff05 844px,#ffffff01 845px,#ffffff01 846px,#0000 847px,#00004002 850px,#ffffff02 852px,#00004002 854px,#0000 855px,#00004004 857px,#ffffff02 860px,#00004002 862px,#00004002 864px,#0000 865px,#0000 867px,#00004001 869px,#ffffff01 871px,#ffffff01 872px,#ffffff01 874px,#ffffff01 876px,#00004001 878px,#ffffff01 879px,#00004002 880px,#00004003 883px,#ffffff01 884px,#00004002 886px,#ffffff01 887px,#00004001 888px,#00004002 889px,#0000 892px,#0000 894px,#ffffff02 897px,#ffffff01 898px,#ffffff01 899px,#ffffff01 900px,#00004003 903px,#ffffff03 904px,#0000 906px,#0000 907px,#ffffff03 908px,#0000 910px,#0000 912px,#ffffff01 913px,#00004002 916px,#00004002 919px,#ffffff01 920px,#ffffff01 922px,#ffffff01 924px,#00004003 926px,#00004004 927px,#0000 929px,#0000 930px,#0000 931px,#0000 934px,#00004001 935px,#ffffff02 937px,#00004002 938px,#00004001 939px,#00004001 942px,#00004001 945px,#00004002 947px,#00004002 950px,#ffffff02 952px,#00004001 953px,#0000 954px,#ffffff01 957px,#00004002 960px,#ffffff01 962px,#0000 965px,#ffffff01 967px,#00004001 970px,#00004001 971px,#0000 973px,#00004005 975px,#00004001 977px,#00004001 980px,#ffffff01 983px,#00004001 985px,#00004001 987px,#ffffff02 988px,#00004003 990px,#ffffff01 991px,#ffffff01 994px,#ffffff04 997px,#ffffff01 999px,#0000 1002px,#00004001 1003px,#ffffff01 1005px,#ffffff01 1006px,#00004002 1008px,#ffffff05 1009px,#0000 1010px,#00004001 1011px,#ffffff01 1014px,#ffffff02 1015px,#00004003 1016px,#00004003 1018px,#ffffff03 1020px,#0000 1021px,#ffffff04 1022px,#ffffff01 1025px,#ffffff01 1026px,#ffffff04 1028px,#0000 1030px,#ffffff02 1031px,#ffffff01 1034px,#00004001 1036px,#00004002 1038px,#00004001 1039px,#ffffff03 1040px,#00004001 1042px,#ffffff01 1043px,#ffffff02 1045px,#0000 1047px,#ffffff01 1049px,#ffffff02 1052px,#0000 1053px,#00004001 1054px,#0000 1055px,#0000 1056px,#0000 1058px,#00004001 1059px,#0000 1061px,#ffffff01 1063px,#ffffff02 1064px,#ffffff03 1066px,#00004004 1067px,#0000 1068px,#0000 1070px,#ffffff01 1071px,#00004001 1073px,#0000 1076px,#ffffff02 1078px,#0000 1081px,#00004001 1083px,#ffffff01 1084px,#00004001 1087px,#00004001 1089px,#ffffff02 1090px,#ffffff02 1091px,#00004002 1093px,#00004005 1094px,#ffffff02 1096px,#00004001 1098px,#ffffff01 1100px,#ffffff01 1102px,#ffffff02 1103px,#00004004 1106px,#0000 1109px,#ffffff03 1111px,#ffffff01 1112px,#ffffff01 1115px,#00004004 1116px,#00004001 1118px,#ffffff04 1120px,#0000 1123px,#00004001 1125px,#00004001 1127px,#ffffff01 1128px,#00004001 1130px,#ffffff02 1133px,#00004001 1136px,#00004001 1139px,#ffffff04 1142px,#00004001 1144px,#ffffff01 1145px,#00004003 1147px,#ffffff02 1149px,#0000 1150px,#ffffff02 1151px,#ffffff01 1153px,#ffffff05 1156px,#ffffff01 1159px,#ffffff01 1161px,#0000 1163px,#00004003 1165px,#0000 1166px,#00004003 1168px,#ffffff04 1169px,#00004003 1172px,#00004002 1174px,#ffffff02 1175px,#ffffff02 1176px,#ffffff01 1177px,#ffffff01 1178px,#ffffff01 1179px,#00004001 1180px,#ffffff01 1182px,#00004002 1184px,#0000 1186px,#ffffff01 1188px,#00004003 1190px,#0000 1191px,#0000 1192px,#ffffff03 1194px,#ffffff02 1196px,#00004001 1198px,#0000 1200px,#00004001 1202px,#00004001 1204px,#0000 1205px,#00004004 1208px,#0000 1209px,#ffffff01 1211px,#ffffff02 1214px,#00004002 1217px,#ffffff01 1218px,#00004001 1219px,#ffffff01 1222px,#ffffff01 1224px,#ffffff01 1225px,#0000 1226px,#00004003 1228px,#00004002 1229px,#0000 1231px,#ffffff01 1233px,#00004001 1236px,#ffffff01 1237px,#00004001 1239px,#ffffff01 1241px,#ffffff01 1242px,#00004001 1244px,#ffffff01 1247px,#0000 1248px,#0000 1249px,#00004003 1251px,#0000 1252px,#ffffff02 1254px,#0000 1255px,#ffffff02 1258px,#ffffff02 1259px,#00004002 1261px,#00004001 1263px,#00004002 1265px,#00004003 1267px,#ffffff01 1268px,#ffffff01 1269px,#ffffff02 1271px,#00004003 1272px,#ffffff01 1275px,#00004004 1278px,#00004001 1280px,#00004001 1281px,#0000 1282px,#ffffff01 1284px,#0000 1285px,#ffffff01 1286px,#00004002 1287px,#ffffff03 1289px,#0000 1290px,#ffffff02 1292px,#0000 1294px,#0000 1295px,#00004001 1298px,#ffffff01 1300px,#0000 1303px,#00004001 1305px,#ffffff02 1307px,#0000 1309px,#ffffff03 1311px,#ffffff02 1312px,#00004001 1315px,#00004001 1316px,#ffffff01 1317px,#ffffff02 1320px,#ffffff01 1322px,#0000 1323px,#ffffff02 1326px,#ffffff01 1327px,#0000 1330px,#ffffff01 1331px,#00004001 1334px,#ffffff03 1336px,#ffffff01 1337px,#ffffff02 1340px,#0000 1341px,#ffffff02 1342px,#00004001 1343px,#0000 1344px,#00004001 1346px,#0000 1348px,#0000 1350px,#0000 1351px,#ffffff02 1353px,#00004002 1354px,#00004002 1355px,#00004001 1356px,#ffffff01 1359px,#00004001 1361px,#00004002 1364px,#0000 1365px,#00004004 1366px,#ffffff03 1368px,#00004001 1371px,#00004001 1372px,#0000 1374px,#ffffff01 1375px,#0000 1376px,#ffffff01 1378px,#ffffff01 1380px,#ffffff01 1382px,#00004002 1385px,#00004001 1386px,#00004003 1388px,#00004003 1390px,#00004001 1392px,#00004002 1395px,#0000 1396px,#ffffff01 1398px,#00004001 1400px,#00004002 1402px,#00004001 1405px,#0000 1407px,#00004001 1410px,#00004002 1413px,#0000 1414px,#0000 1415px,#00004002 1417px,#ffffff03 1418px,#ffffff01 1420px,#0000 1422px,#0000 1423px,#00004002 1424px,#00004001 1427px,#ffffff02 1429px,#00004002 1430px,#0000 1431px,#0000 1432px,#0000 1433px,#ffffff02 1435px,#0000 1437px,#ffffff02 1439px,#00004002 1441px,#ffffff01 1442px,#ffffff02 1445px,#ffffff01 1446px,#00004001 1447px,#0000 1448px,#ffffff01 1449px,#ffffff02 1451px,#ffffff01 1452px,#ffffff01 1453px,#ffffff02 1456px,#00004001 1457px,#ffffff01 1460px,#00004003 1463px,#0000 1465px,#0000 1467px,#00004001 1469px,#ffffff02 1472px,#00004001 1474px,#00004002 1476px,#ffffff01 1477px,#00004002 1479px,#0000 1480px,#ffffff01 1482px,#0000 1483px,#ffffff02 1484px,#00004001 1485px,#00004002 1487px,#00004002 1490px)"></i></div>
<svg width="1687" height="906" viewBox="0 0 1687 906" font-family="DejaVu Sans, Liberation Sans, sans-serif">
<rect x="101.5" y="45.2" width="1519.0" height="789.0" fill="none" stroke="#000" stroke-width="1.39"/>
<line x1="95.42" x2="101.5" y1="45.20" y2="45.20" stroke="#000" stroke-width="1.39"/>
<line x1="95.42" x2="101.5" y1="123.34" y2="123.34" stroke="#000" stroke-width="1.39"/>
<line x1="95.42" x2="101.5" y1="256.91" y2="256.91" stroke="#000" stroke-width="1.39"/>
<line x1="95.42" x2="101.5" y1="278.50" y2="278.50" stroke="#000" stroke-width="1.39"/>
<line x1="95.42" x2="101.5" y1="299.91" y2="299.91" stroke="#000" stroke-width="1.39"/>
<line x1="95.42" x2="101.5" y1="325.64" y2="325.64" stroke="#000" stroke-width="1.39"/>
<line x1="95.42" x2="101.5" y1="355.35" y2="355.35" stroke="#000" stroke-width="1.39"/>
<line x1="95.42" x2="101.5" y1="390.48" y2="390.48" stroke="#000" stroke-width="1.39"/>
<line x1="95.42" x2="101.5" y1="433.48" y2="433.48" stroke="#000" stroke-width="1.39"/>
<line x1="95.42" x2="101.5" y1="488.92" y2="488.92" stroke="#000" stroke-width="1.39"/>
<line x1="95.42" x2="101.5" y1="567.05" y2="567.05" stroke="#000" stroke-width="1.39"/>
<line x1="95.42" x2="101.5" y1="700.63" y2="700.63" stroke="#000" stroke-width="1.39"/>
<line x1="95.42" x2="101.5" y1="720.93" y2="720.93" stroke="#000" stroke-width="1.39"/>
<line x1="95.42" x2="101.5" y1="743.63" y2="743.63" stroke="#000" stroke-width="1.39"/>
<line x1="95.42" x2="101.5" y1="769.36" y2="769.36" stroke="#000" stroke-width="1.39"/>
<line x1="95.42" x2="101.5" y1="796.60" y2="796.60" stroke="#000" stroke-width="1.39"/>
<line x1="95.42" x2="101.5" y1="834.20" y2="834.20" stroke="#000" stroke-width="1.39"/>
<line x1="95.42" x2="101.5" y1="80.33" y2="80.33" stroke="#000" stroke-width="1.39"/>
<line x1="95.42" x2="101.5" y1="178.77" y2="178.77" stroke="#000" stroke-width="1.39"/>
<line x1="95.42" x2="101.5" y1="410.78" y2="410.78" stroke="#000" stroke-width="1.39"/>
<line x1="95.42" x2="101.5" y1="459.21" y2="459.21" stroke="#000" stroke-width="1.39"/>
<line x1="95.42" x2="101.5" y1="524.05" y2="524.05" stroke="#000" stroke-width="1.39"/>
<line x1="95.42" x2="101.5" y1="622.49" y2="622.49" stroke="#000" stroke-width="1.39"/>
<text x="88.20" y="52.10" text-anchor="end" class="t" letter-spacing="-0.3">3000</text>
<text x="88.20" y="130.24" text-anchor="end" class="t" letter-spacing="-0.3">2000</text>
<text x="88.20" y="263.81" text-anchor="end" class="t" letter-spacing="-0.3">1000</text>
<text x="88.20" y="285.40" text-anchor="end" class="t" letter-spacing="-0.3">900</text>
<text x="88.20" y="306.81" text-anchor="end" class="t" letter-spacing="-0.3">800</text>
<text x="88.20" y="332.54" text-anchor="end" class="t" letter-spacing="-0.3">700</text>
<text x="88.20" y="362.25" text-anchor="end" class="t" letter-spacing="-0.3">600</text>
<text x="88.20" y="397.38" text-anchor="end" class="t" letter-spacing="-0.3">500</text>
<text x="88.20" y="440.38" text-anchor="end" class="t" letter-spacing="-0.3">400</text>
<text x="88.20" y="495.82" text-anchor="end" class="t" letter-spacing="-0.3">300</text>
<text x="88.20" y="573.95" text-anchor="end" class="t" letter-spacing="-0.3">200</text>
<text x="88.20" y="707.53" text-anchor="end" class="t" letter-spacing="-0.3">100</text>
<text x="88.20" y="727.83" text-anchor="end" class="t" letter-spacing="-0.3">90</text>
<text x="88.20" y="750.53" text-anchor="end" class="t" letter-spacing="-0.3">80</text>
<text x="88.20" y="776.26" text-anchor="end" class="t" letter-spacing="-0.3">70</text>
<text x="88.20" y="803.50" text-anchor="end" class="t" letter-spacing="-0.3">60</text>
<text x="88.20" y="841.10" text-anchor="end" class="t" letter-spacing="-0.3">50</text>
<line x1="126.50" x2="126.50" y1="834.2" y2="840.28" stroke="#000" stroke-width="1.39"/>
<text x="125.40" y="859.80" text-anchor="middle" class="t" letter-spacing="-0.35">00:00</text>
<line x1="273.50" x2="273.50" y1="834.2" y2="840.28" stroke="#000" stroke-width="1.39"/>
<text x="272.40" y="859.80" text-anchor="middle" class="t" letter-spacing="-0.35">01:00</text>
<line x1="420.50" x2="420.50" y1="834.2" y2="840.28" stroke="#000" stroke-width="1.39"/>
<text x="419.40" y="859.80" text-anchor="middle" class="t" letter-spacing="-0.35">02:00</text>
<line x1="567.50" x2="567.50" y1="834.2" y2="840.28" stroke="#000" stroke-width="1.39"/>
<text x="566.40" y="859.80" text-anchor="middle" class="t" letter-spacing="-0.35">03:00</text>
<line x1="714.50" x2="714.50" y1="834.2" y2="840.28" stroke="#000" stroke-width="1.39"/>
<text x="713.40" y="859.80" text-anchor="middle" class="t" letter-spacing="-0.35">04:00</text>
<line x1="861.50" x2="861.50" y1="834.2" y2="840.28" stroke="#000" stroke-width="1.39"/>
<text x="860.40" y="859.80" text-anchor="middle" class="t" letter-spacing="-0.35">05:00</text>
<line x1="1008.50" x2="1008.50" y1="834.2" y2="840.28" stroke="#000" stroke-width="1.39"/>
<text x="1007.40" y="859.80" text-anchor="middle" class="t" letter-spacing="-0.35">06:00</text>
<line x1="1155.50" x2="1155.50" y1="834.2" y2="840.28" stroke="#000" stroke-width="1.39"/>
<text x="1154.40" y="859.80" text-anchor="middle" class="t" letter-spacing="-0.35">07:00</text>
<line x1="1302.50" x2="1302.50" y1="834.2" y2="840.28" stroke="#000" stroke-width="1.39"/>
<text x="1301.40" y="859.80" text-anchor="middle" class="t" letter-spacing="-0.35">08:00</text>
<line x1="1449.50" x2="1449.50" y1="834.2" y2="840.28" stroke="#000" stroke-width="1.39"/>
<text x="1448.40" y="859.80" text-anchor="middle" class="t" letter-spacing="-0.35">09:00</text>
<line x1="1596.50" x2="1596.50" y1="834.2" y2="840.28" stroke="#000" stroke-width="1.39"/>
<text x="1596.30" y="859.80" text-anchor="middle" class="t" letter-spacing="-0.35">10:00</text>
<line x1="151.00" x2="151.00" y1="834.2" y2="837.67" stroke="#000" stroke-width="1.04"/>
<line x1="175.50" x2="175.50" y1="834.2" y2="837.67" stroke="#000" stroke-width="1.04"/>
<line x1="200.00" x2="200.00" y1="834.2" y2="837.67" stroke="#000" stroke-width="1.04"/>
<line x1="224.50" x2="224.50" y1="834.2" y2="837.67" stroke="#000" stroke-width="1.04"/>
<line x1="249.00" x2="249.00" y1="834.2" y2="837.67" stroke="#000" stroke-width="1.04"/>
<line x1="298.00" x2="298.00" y1="834.2" y2="837.67" stroke="#000" stroke-width="1.04"/>
<line x1="322.50" x2="322.50" y1="834.2" y2="837.67" stroke="#000" stroke-width="1.04"/>
<line x1="347.00" x2="347.00" y1="834.2" y2="837.67" stroke="#000" stroke-width="1.04"/>
<line x1="371.50" x2="371.50" y1="834.2" y2="837.67" stroke="#000" stroke-width="1.04"/>
<line x1="396.00" x2="396.00" y1="834.2" y2="837.67" stroke="#000" stroke-width="1.04"/>
<line x1="445.00" x2="445.00" y1="834.2" y2="837.67" stroke="#000" stroke-width="1.04"/>
<line x1="469.50" x2="469.50" y1="834.2" y2="837.67" stroke="#000" stroke-width="1.04"/>
<line x1="494.00" x2="494.00" y1="834.2" y2="837.67" stroke="#000" stroke-width="1.04"/>
<line x1="518.50" x2="518.50" y1="834.2" y2="837.67" stroke="#000" stroke-width="1.04"/>
<line x1="543.00" x2="543.00" y1="834.2" y2="837.67" stroke="#000" stroke-width="1.04"/>
<line x1="592.00" x2="592.00" y1="834.2" y2="837.67" stroke="#000" stroke-width="1.04"/>
<line x1="616.50" x2="616.50" y1="834.2" y2="837.67" stroke="#000" stroke-width="1.04"/>
<line x1="641.00" x2="641.00" y1="834.2" y2="837.67" stroke="#000" stroke-width="1.04"/>
<line x1="665.50" x2="665.50" y1="834.2" y2="837.67" stroke="#000" stroke-width="1.04"/>
<line x1="690.00" x2="690.00" y1="834.2" y2="837.67" stroke="#000" stroke-width="1.04"/>
<line x1="739.00" x2="739.00" y1="834.2" y2="837.67" stroke="#000" stroke-width="1.04"/>
<line x1="763.50" x2="763.50" y1="834.2" y2="837.67" stroke="#000" stroke-width="1.04"/>
<line x1="788.00" x2="788.00" y1="834.2" y2="837.67" stroke="#000" stroke-width="1.04"/>
<line x1="812.50" x2="812.50" y1="834.2" y2="837.67" stroke="#000" stroke-width="1.04"/>
<line x1="837.00" x2="837.00" y1="834.2" y2="837.67" stroke="#000" stroke-width="1.04"/>
<line x1="886.00" x2="886.00" y1="834.2" y2="837.67" stroke="#000" stroke-width="1.04"/>
<line x1="910.50" x2="910.50" y1="834.2" y2="837.67" stroke="#000" stroke-width="1.04"/>
<line x1="935.00" x2="935.00" y1="834.2" y2="837.67" stroke="#000" stroke-width="1.04"/>
<line x1="959.50" x2="959.50" y1="834.2" y2="837.67" stroke="#000" stroke-width="1.04"/>
<line x1="984.00" x2="984.00" y1="834.2" y2="837.67" stroke="#000" stroke-width="1.04"/>
<line x1="1033.00" x2="1033.00" y1="834.2" y2="837.67" stroke="#000" stroke-width="1.04"/>
<line x1="1057.50" x2="1057.50" y1="834.2" y2="837.67" stroke="#000" stroke-width="1.04"/>
<line x1="1082.00" x2="1082.00" y1="834.2" y2="837.67" stroke="#000" stroke-width="1.04"/>
<line x1="1106.50" x2="1106.50" y1="834.2" y2="837.67" stroke="#000" stroke-width="1.04"/>
<line x1="1131.00" x2="1131.00" y1="834.2" y2="837.67" stroke="#000" stroke-width="1.04"/>
<line x1="1180.00" x2="1180.00" y1="834.2" y2="837.67" stroke="#000" stroke-width="1.04"/>
<line x1="1204.50" x2="1204.50" y1="834.2" y2="837.67" stroke="#000" stroke-width="1.04"/>
<line x1="1229.00" x2="1229.00" y1="834.2" y2="837.67" stroke="#000" stroke-width="1.04"/>
<line x1="1253.50" x2="1253.50" y1="834.2" y2="837.67" stroke="#000" stroke-width="1.04"/>
<line x1="1278.00" x2="1278.00" y1="834.2" y2="837.67" stroke="#000" stroke-width="1.04"/>
<line x1="1327.00" x2="1327.00" y1="834.2" y2="837.67" stroke="#000" stroke-width="1.04"/>
<line x1="1351.50" x2="1351.50" y1="834.2" y2="837.67" stroke="#000" stroke-width="1.04"/>
<line x1="1376.00" x2="1376.00" y1="834.2" y2="837.67" stroke="#000" stroke-width="1.04"/>
<line x1="1400.50" x2="1400.50" y1="834.2" y2="837.67" stroke="#000" stroke-width="1.04"/>
<line x1="1425.00" x2="1425.00" y1="834.2" y2="837.67" stroke="#000" stroke-width="1.04"/>
<line x1="1474.00" x2="1474.00" y1="834.2" y2="837.67" stroke="#000" stroke-width="1.04"/>
<line x1="1498.50" x2="1498.50" y1="834.2" y2="837.67" stroke="#000" stroke-width="1.04"/>
<line x1="1523.00" x2="1523.00" y1="834.2" y2="837.67" stroke="#000" stroke-width="1.04"/>
<line x1="1547.50" x2="1547.50" y1="834.2" y2="837.67" stroke="#000" stroke-width="1.04"/>
<line x1="1572.00" x2="1572.00" y1="834.2" y2="837.67" stroke="#000" stroke-width="1.04"/>
<line x1="1621.00" x2="1621.00" y1="834.2" y2="837.67" stroke="#000" stroke-width="1.04"/>
<line x1="102.00" x2="102.00" y1="834.2" y2="837.67" stroke="#000" stroke-width="1.04"/>
<text x="843.5" y="34" text-anchor="middle" class="ti" xml:space="preserve">2025-05-22      SOLARSPEL   50-3000 MHz spectropolarimeter data      Stokes I   296 frequency channels</text>
<text x="860.5" y="886.4" text-anchor="middle" class="la">UTC Time</text>
<text transform="translate(33,439.7) rotate(-90)" text-anchor="middle" class="la">Frequency, MHz</text>
</svg>
</body></html>
